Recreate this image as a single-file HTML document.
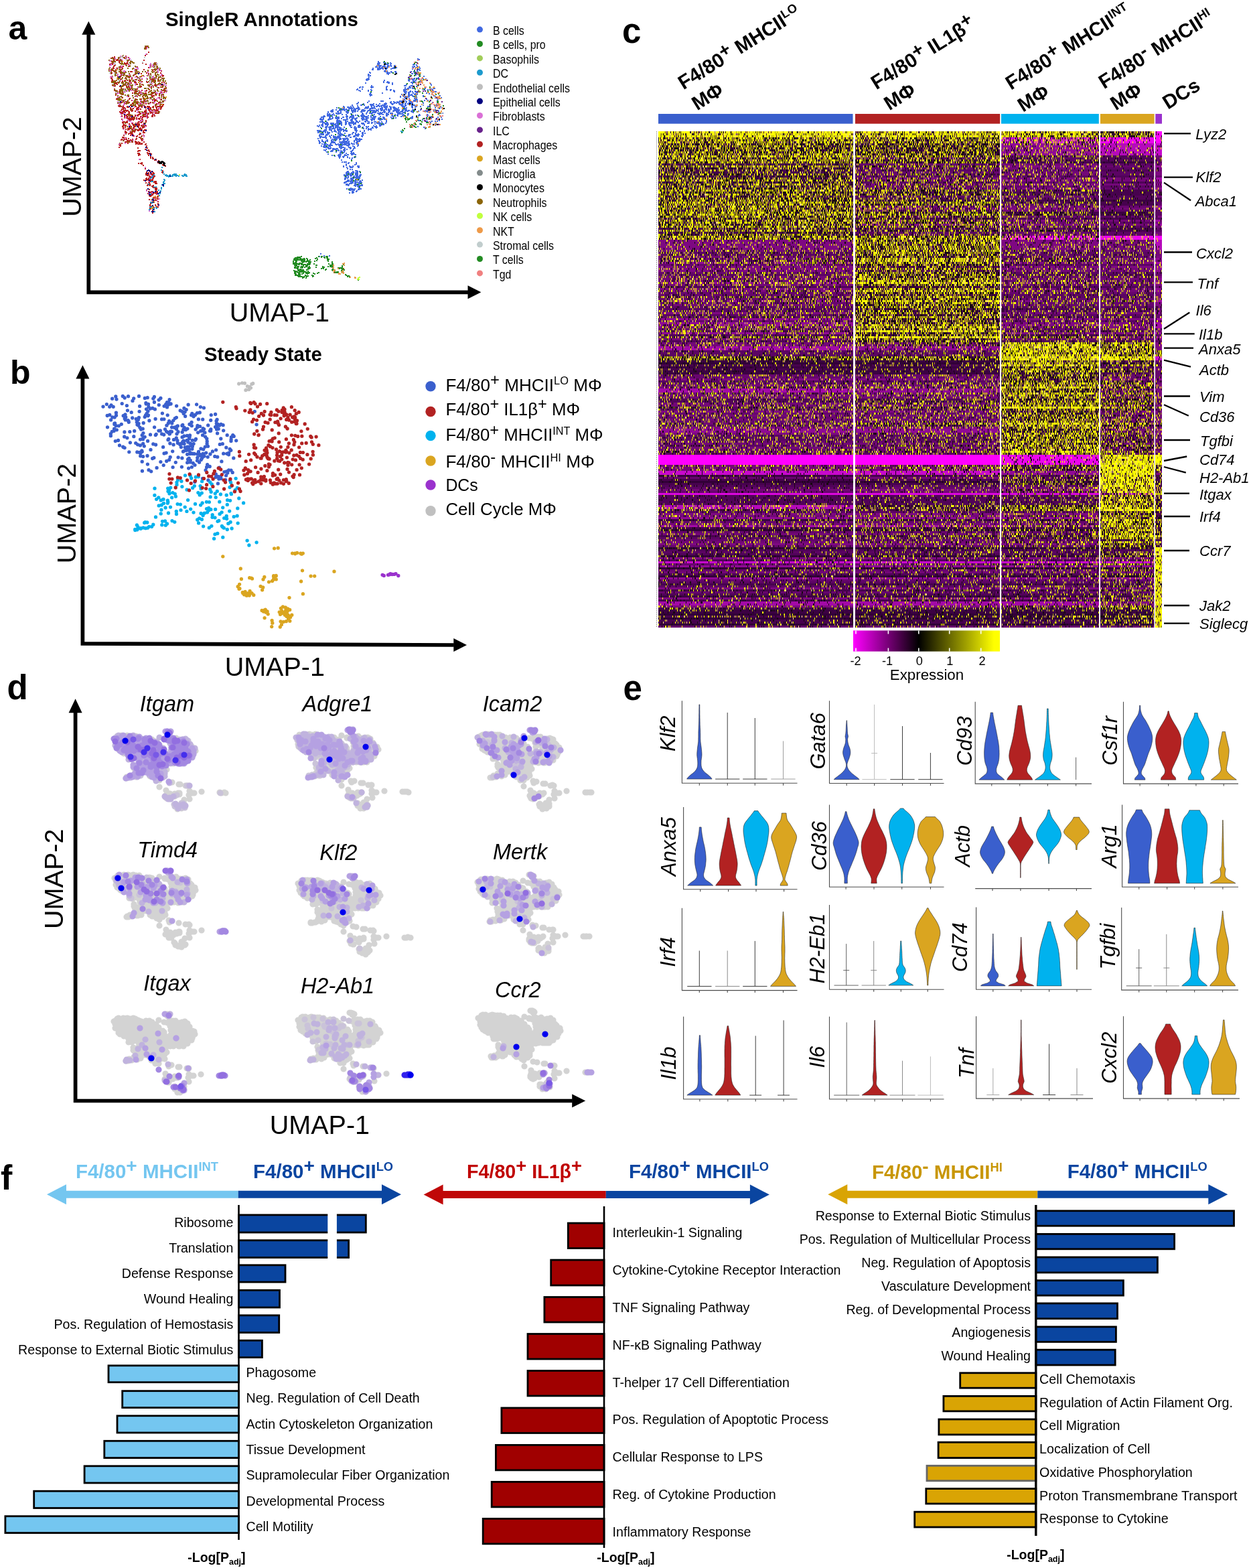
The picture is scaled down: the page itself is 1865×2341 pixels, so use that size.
<!DOCTYPE html>
<html lang="en"><head><meta charset="utf-8"><title>Figure</title>
<style>
html,body{margin:0;padding:0;background:#fff}
body{width:1865px;height:2341px;overflow:hidden}
svg{display:block;font-family:"Liberation Sans",Arial,Helvetica,sans-serif;fill:#000}
</style></head><body>
<svg width="1865" height="2341" viewBox="0 0 1865 2341">
<rect width="1865" height="2341" fill="#fff"/>
<g id="pa">
<text font-size="50" font-weight="bold" x="12.6" y="58.7">a</text>
<path d="M132.3 51.3V436.3L699 436.3" fill="none" stroke="#000" stroke-width="5.7" stroke-linejoin="miter"/>
<path d="M132.3 31.7L142.3 51.8H122.3z"/>
<path d="M718.4 436.3L698.5 426.3V446.3z"/>
<text font-size="29.4" font-weight="bold" x="247" y="38.8">SingleR Annotations</text>
<text font-size="39.6" text-anchor="middle" transform="translate(121 248.9) rotate(-90)">UMAP-2</text>
<text font-size="39.5" x="342.7" y="480.2">UMAP-1</text>
<g font-size="17.5">
<circle cx="716.5" cy="44.1" r="4.5" fill="#4169e1"/><text x="736" y="51.9" textLength="46.8" lengthAdjust="spacingAndGlyphs">B cells</text>
<circle cx="716.5" cy="65.5" r="4.5" fill="#228b22"/><text x="736" y="73.3" textLength="78.6" lengthAdjust="spacingAndGlyphs">B cells, pro</text>
<circle cx="716.5" cy="86.9" r="4.5" fill="#a2cd5a"/><text x="736" y="94.7" textLength="68.9" lengthAdjust="spacingAndGlyphs">Basophils</text>
<circle cx="716.5" cy="108.3" r="4.5" fill="#1c9acd"/><text x="736" y="116.1" textLength="23" lengthAdjust="spacingAndGlyphs">DC</text>
<circle cx="716.5" cy="129.7" r="4.5" fill="#bebebe"/><text x="736" y="137.5" textLength="114.9" lengthAdjust="spacingAndGlyphs">Endothelial cells</text>
<circle cx="716.5" cy="151.1" r="4.5" fill="#000080"/><text x="736" y="158.9" textLength="100.7" lengthAdjust="spacingAndGlyphs">Epithelial cells</text>
<circle cx="716.5" cy="172.5" r="4.5" fill="#da70d6"/><text x="736" y="180.3" textLength="77.7" lengthAdjust="spacingAndGlyphs">Fibroblasts</text>
<circle cx="716.5" cy="193.9" r="4.5" fill="#68228b"/><text x="736" y="201.7" textLength="24.7" lengthAdjust="spacingAndGlyphs">ILC</text>
<circle cx="716.5" cy="215.3" r="4.5" fill="#b22222"/><text x="736" y="223.1" textLength="96.3" lengthAdjust="spacingAndGlyphs">Macrophages</text>
<circle cx="716.5" cy="236.7" r="4.5" fill="#daa520"/><text x="736" y="244.5" textLength="70.7" lengthAdjust="spacingAndGlyphs">Mast cells</text>
<circle cx="716.5" cy="258.1" r="4.5" fill="#838b8b"/><text x="736" y="265.9" textLength="63.6" lengthAdjust="spacingAndGlyphs">Microglia</text>
<circle cx="716.5" cy="279.5" r="4.5" fill="#000000"/><text x="736" y="287.3" textLength="76.9" lengthAdjust="spacingAndGlyphs">Monocytes</text>
<circle cx="716.5" cy="300.9" r="4.5" fill="#8b6508"/><text x="736" y="308.7" textLength="80.4" lengthAdjust="spacingAndGlyphs">Neutrophils</text>
<circle cx="716.5" cy="322.3" r="4.5" fill="#c0ff3e"/><text x="736" y="330.1" textLength="58.3" lengthAdjust="spacingAndGlyphs">NK cells</text>
<circle cx="716.5" cy="343.7" r="4.5" fill="#ee9a49"/><text x="736" y="351.5" textLength="31.8" lengthAdjust="spacingAndGlyphs">NKT</text>
<circle cx="716.5" cy="365.1" r="4.5" fill="#c1cdcd"/><text x="736" y="372.9" textLength="91" lengthAdjust="spacingAndGlyphs">Stromal cells</text>
<circle cx="716.5" cy="386.5" r="4.5" fill="#228b22"/><text x="736" y="394.3" textLength="45.6" lengthAdjust="spacingAndGlyphs">T cells</text>
<circle cx="716.5" cy="407.9" r="4.5" fill="#f08080"/><text x="736" y="415.7" textLength="27.4" lengthAdjust="spacingAndGlyphs">Tgd</text>
</g>
<path d="M623 88h2m0 1h2m-63 3h2m-2 1h2m6 0h2m45 0h2m-56 1h2m-1 0h2m5 0h2m0 0h2m1 0h2m2 0h2m-21 1h2m10 0h2m1 0h2m-2 0h2m-2 0h2m-1 0h2m2 0h2m-21 1h2m-1 0h2m8 0h2m-1 0h2m39 0h2m-1 0h2m-57 1h2m-1 0h2m-2 0h2m-1 0h2m11 0h2m2 0h2m32 0h2m3 0h2m-61 1h2m0 0h2m-1 0h2m-1 0h2m-2 0h2m0 0h2m3 0h2m4 0h2m2 0h2m3 0h2m-1 0h2m-24 1h2m2 0h2m1 0h2m2 0h2m-2 0h2m-1 0h2m-1 0h2m1 0h2m3 0h2m-2 0h2m-1 0h2m27 0h2m2 0h2m-64 1h2m0 0h2m1 0h2m3 0h2m1 0h2m-1 0h2m1 0h2m0 0h2m8 0h2m24 0h2m0 0h2m3 0h2m1 0h2m-62 1h2m-1 0h2m1 0h2m-1 0h2m15 0h2m-1 0h2m1 0h2m27 0h2m0 0h2m-68 1h2m5 0h2m-1 0h2m-1 0h2m1 0h2m-1 0h2m-1 0h2m2 0h2m1 0h2m6 0h2m0 0h2m-1 0h2m-2 0h2m-1 0h2m35 0h2m-63 1h2m0 0h2m2 0h2m3 0h2m5 0h2m30 0h2m-62 1h2m-1 0h2m5 0h2m0 0h2m8 0h2m46 0h2m-1 0h2m-1 0h2m-9 1h2m6 0h2m-2 0h2m-55 1h2m0 0h2m0 0h2m43 0h2m-50 1h2m-1 0h2m6 0h2m4 0h2m-1 0h2m21 0h2m2 0h2m-68 1h2m24 0h2m-1 0h2m4 0h2m32 0h2m-2 0h2m4 0h2m-74 1h2m26 0h2m-1 0h2m7 0h2m-1 0h2m25 0h2m-1 0h2m1 0h2m-47 1h2m-1 0h2m34 0h2m-1 0h2m2 0h2m0 0h2m1 0h2m-1 0h2m-78 1h2m28 0h2m38 0h2m-1 0h2m1 0h2m0 0h2m-78 1h2m-1 0h2m68 0h2m4 0h2m-79 1h2m1 0h2m71 0h2m5 1h2m-84 1h2m58 0h2m-2 0h2m12 1h2m-77 1h2m62 0h2m3 0h2m1 0h2m-1 0h2m5 0h2m-84 1h2m1 0h2m62 0h2m-1 0h2m-1 0h2m0 0h2m-2 0h2m6 0h2m2 0h2m-1 0h2m2 0h2m-91 1h2m-1 0h2m0 0h2m-2 0h2m58 0h2m-1 0h2m-1 0h2m2 0h2m-1 0h2m11 0h2m3 0h2m-89 1h2m24 0h2m34 0h2m-1 0h2m-2 0h2m8 0h2m8 0h2m4 0h2m-28 1h2m4 0h2m0 0h2m7 0h2m0 0h2m-59 1h2m4 0h2m-8 1h2m3 0h2m-1 0h2m0 0h2m31 0h2m0 0h2m-1 0h2m-1 0h2m-1 0h2m0 0h2m6 0h2m-85 1h2m32 0h2m-1 0h2m3 0h2m28 1h2m25 0h2m-59 1h2m19 0h2m13 0h2m1 0h2m17 1h2m-91 1h2m47 0h2m0 0h2m6 0h2m0 0h2m-63 1h2m21 0h2m32 0h2m8 0h2m-86 1h2m1 0h2m-1 0h2m10 0h2m-2 0h2m-2 0h2m1 0h2m18 0h2m32 0h2m-1 0h2m2 0h2m-81 1h2m16 0h2m20 0h2m26 0h2m4 0h2m-1 0h2m-1 0h2m1 0h2m-1 0h2m-42 1h2m30 0h2m5 0h2m0 0h2m15 0h2m10 0h2m0 0h2m-117 1h2m5 0h2m62 0h2m1 0h2m-1 0h2m-1 0h2m19 0h2m11 0h2m-113 1h2m19 0h2m21 0h2m-1 0h2m3 0h2m-1 0h2m17 0h2m2 0h2m-1 0h2m24 0h2m3 0h2m1 0h2m2 0h2m-112 1h2m12 0h2m3 0h2m26 0h2m3 0h2m15 0h2m-69 1h2m10 0h2m36 0h2m-1 0h2m12 0h2m0 0h2m-2 0h2m6 0h2m5 0h2m25 0h2m-60 1h2m15 0h2m-1 0h2m3 0h2m-1 0h2m1 0h2m2 0h2m0 0h2m20 0h2m-1 0h2m-2 0h2m1 0h2m0 0h2m-1 0h2m-99 1h2m48 0h2m4 0h2m-1 0h2m9 0h2m-1 0h2m21 0h2m-1 0h2m-96 1h2m16 0h2m33 0h2m2 0h2m-1 0h2m4 0h2m3 0h2m-1 0h2m12 0h2m-33 1h2m3 0h2m-2 0h2m7 0h2m-1 0h2m-2 0h2m-1 0h2m-2 0h2m17 0h2m-91 1h2m0 0h2m44 0h2m1 0h2m5 0h2m3 0h2m2 0h2m0 0h2m0 0h2m-70 1h2m44 0h2m-1 0h2m-2 0h2m0 0h2m-2 0h2m4 0h2m-1 0h2m0 0h2m0 0h2m-2 0h2m4 0h2m-70 1h2m47 0h2m-2 0h2m-1 0h2m-1 0h2m10 0h2m2 0h2m-1 0h2m9 0h2m14 0h2m6 0h2m-1 0h2m-61 1h2m3 0h2m1 0h2m-1 0h2m1 0h2m-1 0h2m4 0h2m-1 0h2m-2 0h2m-1 0h2m11 0h2m16 0h2m-54 1h2m4 0h2m0 0h2m-1 0h2m0 0h2m9 0h2m0 0h2m-18 1h2m14 0h2m21 0h2m3 0h2m2 0h2m3 0h2m-79 1h2m21 0h2m0 0h2m2 0h2m6 0h2m0 0h2m30 0h2m3 0h2m-58 1h2m3 0h2m-1 0h2m10 0h2m0 0h2m13 0h2m15 0h2m-52 1h2m6 0h2m9 0h2m-2 0h2m-22 1h2m6 0h2m0 0h2m3 0h2m0 0h2m-1 0h2m-1 0h2m-1 0h2m9 0h2m3 0h2m12 0h2m-104 1h2m16 0h2m0 0h2m-1 0h2m23 0h2m-2 0h2m0 0h2m0 0h2m-1 0h2m-2 0h2m-2 0h2m-1 0h2m1 0h2m10 0h2m-2 0h2m0 0h2m8 0h2m10 0h2m-60 1h2m2 0h2m3 0h2m1 0h2m1 0h2m0 0h2m4 0h2m3 0h2m-1 0h2m-2 0h2m-2 0h2m-1 0h2m-1 0h2m6 0h2m-90 1h2m12 0h2m32 0h2m-2 0h2m5 0h2m2 0h2m4 0h2m-2 0h2m9 0h2m1 0h2m-2 0h2m30 0h2m5 0h2m-79 1h2m6 0h2m3 0h2m1 0h2m2 0h2m0 0h2m1 0h2m-2 0h2m-2 0h2m3 0h2m5 0h2m-1 0h2m-1 0h2m-1 0h2m-2 0h2m14 0h2m20 0h2m-2 0h2m-123 1h2m-1 0h2m-2 0h2m7 0h2m13 0h2m7 0h2m5 0h2m-2 0h2m0 0h2m-1 0h2m6 0h2m0 0h2m7 0h2m0 0h2m2 0h2m-2 0h2m1 0h2m2 0h2m0 0h2m-2 0h2m-1 0h2m0 0h2m-2 0h2m-75 1h2m10 0h2m-1 0h2m-1 0h2m-1 0h2m4 0h2m11 0h2m-1 0h2m8 0h2m9 0h2m1 0h2m-1 0h2m-2 0h2m8 0h2m-2 0h2m2 0h2m35 0h2m1 0h2m-1 0h2m-132 1h2m11 0h2m-1 0h2m2 0h2m9 0h2m0 0h2m6 0h2m4 0h2m0 0h2m-1 0h2m-1 0h2m22 0h2m-1 0h2m-2 0h2m-1 0h2m2 0h2m-2 0h2m-1 0h2m9 0h2m-2 0h2m-1 0h2m-1 0h2m1 0h2m8 0h2m-100 1h2m18 0h2m2 0h2m4 0h2m0 0h2m1 0h2m-1 0h2m1 0h2m-1 0h2m2 0h2m20 0h2m-1 0h2m-1 0h2m-2 0h2m-2 0h2m2 0h2m7 0h2m-2 0h2m5 0h2m25 0h2m1 0h2m-141 1h2m9 0h2m1 0h2m21 0h2m-2 0h2m3 0h2m2 0h2m1 0h2m-2 0h2m-1 0h2m2 0h2m4 0h2m1 0h2m4 0h2m17 0h2m-1 0h2m-2 0h2m0 0h2m10 0h2m2 0h2m-2 0h2m-2 0h2m-1 0h2m-1 0h2m4 0h2m9 0h2m-1 0h2m16 0h2m-146 1h2m3 0h2m0 0h2m12 0h2m9 0h2m-1 0h2m0 0h2m19 0h2m2 0h2m1 0h2m-1 0h2m4 0h2m1 0h2m0 0h2m11 0h2m-2 0h2m0 0h2m9 0h2m-1 0h2m2 0h2m-119 1h2m9 0h2m7 0h2m0 0h2m1 0h2m4 0h2m-1 0h2m-1 0h2m8 0h2m-1 0h2m1 0h2m3 0h2m-1 0h2m-1 0h2m-1 0h2m-2 0h2m-1 0h2m9 0h2m-1 0h2m2 0h2m6 0h2m-1 0h2m4 0h2m3 0h2m5 0h2m0 0h2m1 0h2m7 0h2m32 0h2m5 0h2m1 0h2m-2 0h2m-153 1h2m1 0h2m0 0h2m5 0h2m-1 0h2m0 0h2m0 0h2m1 0h2m1 0h2m0 0h2m-1 0h2m-1 0h2m7 0h2m1 0h2m3 0h2m0 0h2m0 0h2m1 0h2m-2 0h2m6 0h2m1 0h2m4 0h2m4 0h2m3 0h2m2 0h2m9 0h2m-1 0h2m0 0h2m48 0h2m3 0h2m-1 0h2m-157 1h2m1 0h2m-1 0h2m0 0h2m-1 0h2m1 0h2m10 0h2m-1 0h2m-2 0h2m-2 0h2m-1 0h2m3 0h2m-1 0h2m13 0h2m-1 0h2m10 0h2m1 0h2m0 0h2m4 0h2m-2 0h2m2 0h2m2 0h2m3 0h2m0 0h2m-2 0h2m1 0h2m5 0h2m0 0h2m-1 0h2m0 0h2m-2 0h2m30 0h2m1 0h2m0 0h2m-148 1h2m3 0h2m3 0h2m1 0h2m-1 0h2m-1 0h2m0 0h2m-1 0h2m-2 0h2m1 0h2m1 0h2m2 0h2m1 0h2m0 0h2m-2 0h2m-1 0h2m2 0h2m4 0h2m0 0h2m17 0h2m6 0h2m-1 0h2m-2 0h2m1 0h2m1 0h2m3 0h2m6 0h2m-1 0h2m0 0h2m-1 0h2m0 0h2m3 0h2m2 0h2m0 0h2m7 0h2m0 0h2m-1 0h2m-1 0h2m6 0h2m11 0h2m0 0h2m-2 0h2m5 0h2m-157 1h2m-2 0h2m0 0h2m8 0h2m-1 0h2m-1 0h2m4 0h2m-2 0h2m3 0h2m-1 0h2m2 0h2m-1 0h2m-2 0h2m-2 0h2m-2 0h2m-1 0h2m-1 0h2m-2 0h2m-2 0h2m1 0h2m-2 0h2m7 0h2m-2 0h2m1 0h2m0 0h2m3 0h2m-1 0h2m-2 0h2m-1 0h2m-1 0h2m-2 0h2m0 0h2m0 0h2m-1 0h2m-1 0h2m-2 0h2m2 0h2m-1 0h2m3 0h2m-1 0h2m-2 0h2m1 0h2m-1 0h2m4 0h2m6 0h2m0 0h2m0 0h2m-2 0h2m-1 0h2m1 0h2m3 0h2m-2 0h2m-1 0h2m-2 0h2m2 0h2m2 0h2m-1 0h2m4 0h2m0 0h2m15 0h2m0 0h2m0 0h2m12 0h2m-162 1h2m9 0h2m11 0h2m0 0h2m4 0h2m-2 0h2m1 0h2m0 0h2m-2 0h2m1 0h2m6 0h2m-2 0h2m0 0h2m3 0h2m2 0h2m-1 0h2m2 0h2m-2 0h2m-2 0h2m0 0h2m-1 0h2m-1 0h2m-2 0h2m1 0h2m15 0h2m3 0h2m-1 0h2m3 0h2m0 0h2m3 0h2m-2 0h2m3 0h2m1 0h2m-1 0h2m3 0h2m-1 0h2m-1 0h2m7 0h2m7 0h2m-1 0h2m0 0h2m1 0h2m-1 0h2m-2 0h2m5 0h2m5 0h2m-167 1h2m3 0h2m0 0h2m5 0h2m-2 0h2m3 0h2m6 0h2m0 0h2m-2 0h2m5 0h2m-1 0h2m1 0h2m7 0h2m-1 0h2m-2 0h2m15 0h2m14 0h2m0 0h2m4 0h2m9 0h2m-2 0h2m-1 0h2m-1 0h2m2 0h2m-2 0h2m0 0h2m-1 0h2m12 0h2m21 0h2m2 0h2m7 0h2m-163 1h2m13 0h2m-2 0h2m2 0h2m7 0h2m-2 0h2m0 0h2m5 0h2m19 0h2m6 0h2m0 0h2m-1 0h2m-1 0h2m-1 0h2m5 0h2m1 0h2m1 0h2m4 0h2m11 0h2m-1 0h2m0 0h2m4 0h2m-1 0h2m0 0h2m10 0h2m22 0h2m12 0h2m-155 1h2m3 0h2m-1 0h2m-1 0h2m-2 0h2m8 0h2m20 0h2m9 0h2m-1 0h2m-1 0h2m0 0h2m6 0h2m-1 0h2m0 0h2m1 0h2m5 0h2m4 0h2m-1 0h2m-2 0h2m-2 0h2m0 0h2m-2 0h2m7 0h2m-1 0h2m-1 0h2m57 0h2m0 0h2m1 0h2m-174 1h2m1 0h2m4 0h2m3 0h2m-1 0h2m-1 0h2m-1 0h2m16 0h2m-1 0h2m-2 0h2m14 0h2m-1 0h2m3 0h2m6 0h2m-2 0h2m11 0h2m-2 0h2m-1 0h2m-1 0h2m7 0h2m3 0h2m0 0h2m6 0h2m-1 0h2m-1 0h2m0 0h2m-1 0h2m0 0h2m6 0h2m-1 0h2m-121 1h2m-1 0h2m-1 0h2m1 0h2m13 0h2m4 0h2m6 0h2m14 0h2m-1 0h2m-2 0h2m15 0h2m5 0h2m-1 0h2m3 0h2m3 0h2m0 0h2m-2 0h2m-1 0h2m4 0h2m-2 0h2m2 0h2m2 0h2m6 0h2m22 0h2m10 0h2m15 0h2m-168 1h2m0 0h2m3 0h2m-2 0h2m1 0h2m24 0h2m0 0h2m2 0h2m1 0h2m4 0h2m-2 0h2m-1 0h2m-2 0h2m0 0h2m11 0h2m-1 0h2m26 0h2m-1 0h2m5 0h2m8 0h2m-1 0h2m3 0h2m15 0h2m-1 0h2m10 0h2m-157 1h2m3 0h2m-1 0h2m0 0h2m-1 0h2m23 0h2m-2 0h2m7 0h2m-1 0h2m9 0h2m0 0h2m-2 0h2m-2 0h2m-1 0h2m-2 0h2m-2 0h2m0 0h2m4 0h2m2 0h2m-2 0h2m1 0h2m18 0h2m-1 0h2m6 0h2m6 0h2m5 0h2m-1 0h2m-1 0h2m-1 0h2m-2 0h2m-1 0h2m18 0h2m-144 1h2m0 0h2m-2 0h2m5 0h2m-2 0h2m-1 0h2m1 0h2m19 0h2m-1 0h2m-1 0h2m-2 0h2m2 0h2m-1 0h2m-1 0h2m-1 0h2m-1 0h2m-1 0h2m6 0h2m2 0h2m-1 0h2m-1 0h2m-1 0h2m-1 0h2m-1 0h2m0 0h2m-1 0h2m9 0h2m0 0h2m5 0h2m17 0h2m10 0h2m15 0h2m4 0h2m14 0h2m2 0h2m-164 1h2m0 0h2m9 0h2m7 0h2m-2 0h2m0 0h2m0 0h2m4 0h2m-1 0h2m3 0h2m-2 0h2m4 0h2m-1 0h2m-2 0h2m0 0h2m-2 0h2m12 0h2m-1 0h2m2 0h2m-1 0h2m-2 0h2m-1 0h2m-2 0h2m4 0h2m2 0h2m-1 0h2m-1 0h2m10 0h2m-2 0h2m-1 0h2m9 0h2m1 0h2m17 0h2m7 0h2m5 0h2m20 0h2m-1 0h2m-1 0h2m6 0h2m3 0h2m-178 1h2m7 0h2m-2 0h2m3 0h2m2 0h2m1 0h2m16 0h2m2 0h2m-2 0h2m0 0h2m3 0h2m6 0h2m0 0h2m2 0h2m-1 0h2m-1 0h2m-1 0h2m4 0h2m-1 0h2m-1 0h2m-1 0h2m-1 0h2m4 0h2m5 0h2m-1 0h2m-2 0h2m12 0h2m1 0h2m13 0h2m5 0h2m-1 0h2m-1 0h2m-1 0h2m-2 0h2m-139 1h2m12 0h2m-2 0h2m-2 0h2m1 0h2m4 0h2m-1 0h2m1 0h2m2 0h2m6 0h2m6 0h2m-1 0h2m1 0h2m-2 0h2m0 0h2m-2 0h2m6 0h2m0 0h2m-2 0h2m-1 0h2m2 0h2m-1 0h2m-2 0h2m6 0h2m1 0h2m4 0h2m-1 0h2m1 0h2m2 0h2m10 0h2m-1 0h2m27 0h2m-2 0h2m27 0h2m-168 1h2m-1 0h2m0 0h2m0 0h2m6 0h2m0 0h2m-1 0h2m8 0h2m13 0h2m4 0h2m-2 0h2m3 0h2m12 0h2m-1 0h2m-1 0h2m0 0h2m4 0h2m2 0h2m5 0h2m-1 0h2m-2 0h2m2 0h2m-1 0h2m1 0h2m0 0h2m59 0h2m12 0h2m0 0h2m-1 0h2m4 0h2m-183 1h2m-1 0h2m-2 0h2m8 0h2m-2 0h2m-1 0h2m20 0h2m0 0h2m0 0h2m5 0h2m0 0h2m-2 0h2m3 0h2m-2 0h2m-2 0h2m8 0h2m-1 0h2m4 0h2m-2 0h2m5 0h2m-2 0h2m-1 0h2m-2 0h2m1 0h2m6 0h2m-1 0h2m-1 0h2m6 0h2m52 0h2m22 0h2m-176 1h2m20 0h2m0 0h2m-1 0h2m-1 0h2m7 0h2m6 0h2m0 0h2m4 0h2m13 0h2m-2 0h2m-1 0h2m-2 0h2m5 0h2m68 0h2m-1 0h2m28 0h2m-177 1h2m-1 0h2m3 0h2m14 0h2m-1 0h2m0 0h2m-2 0h2m-1 0h2m0 0h2m8 0h2m4 0h2m6 0h2m2 0h2m6 0h2m2 0h2m26 0h2m57 0h2m-1 0h2m-1 0h2m5 0h2m3 0h2m1 0h2m-177 1h2m0 0h2m21 0h2m-1 0h2m0 0h2m-1 0h2m-1 0h2m6 0h2m-2 0h2m-1 0h2m6 0h2m0 0h2m-2 0h2m-1 0h2m2 0h2m0 0h2m10 0h2m3 0h2m6 0h2m0 0h2m1 0h2m0 0h2m2 0h2m5 0h2m63 0h2m-162 1h2m0 0h2m2 0h2m-2 0h2m-1 0h2m12 0h2m1 0h2m-1 0h2m-2 0h2m0 0h2m-2 0h2m-1 0h2m5 0h2m-2 0h2m2 0h2m-1 0h2m-1 0h2m-1 0h2m-1 0h2m-1 0h2m0 0h2m1 0h2m2 0h2m18 0h2m-1 0h2m5 0h2m-1 0h2m-2 0h2m-1 0h2m76 0h2m-163 1h2m1 0h2m0 0h2m-2 0h2m0 0h2m3 0h2m0 0h2m0 0h2m3 0h2m-1 0h2m-2 0h2m-1 0h2m-1 0h2m8 0h2m-2 0h2m-2 0h2m-1 0h2m3 0h2m-2 0h2m0 0h2m-1 0h2m-2 0h2m0 0h2m1 0h2m8 0h2m-2 0h2m0 0h2m-1 0h2m4 0h2m0 0h2m2 0h2m6 0h2m-1 0h2m1 0h2m-1 0h2m-2 0h2m1 0h2m3 0h2m73 0h2m-167 1h2m0 0h2m-1 0h2m-1 0h2m2 0h2m0 0h2m-1 0h2m-1 0h2m1 0h2m1 0h2m-1 0h2m-2 0h2m-1 0h2m-2 0h2m-1 0h2m0 0h2m-1 0h2m4 0h2m-2 0h2m-1 0h2m-2 0h2m-2 0h2m2 0h2m-1 0h2m5 0h2m0 0h2m8 0h2m0 0h2m15 0h2m4 0h2m-1 0h2m-1 0h2m1 0h2m0 0h2m52 0h2m0 0h2m18 0h2m0 0h2m-2 0h2m-172 1h2m-2 0h2m-1 0h2m2 0h2m-1 0h2m-1 0h2m-2 0h2m0 0h2m3 0h2m-2 0h2m1 0h2m-2 0h2m-1 0h2m0 0h2m1 0h2m0 0h2m2 0h2m4 0h2m10 0h2m14 0h2m21 0h2m-2 0h2m-2 0h2m-1 0h2m-2 0h2m1 0h2m0 0h2m75 0h2m1 0h2m-178 1h2m1 0h2m-1 0h2m-2 0h2m13 0h2m4 0h2m-1 0h2m-2 0h2m5 0h2m10 0h2m0 0h2m10 0h2m-2 0h2m-1 0h2m5 0h2m21 0h2m0 0h2m79 0h2m-178 1h2m6 0h2m5 0h2m7 0h2m1 0h2m2 0h2m16 0h2m10 0h2m0 0h2m-2 0h2m19 0h2m2 0h2m3 0h2m-1 0h2m48 0h2m-144 1h2m4 0h2m3 0h2m-2 0h2m4 0h2m-1 0h2m0 0h2m0 0h2m1 0h2m-1 0h2m0 0h2m-1 0h2m23 0h2m3 0h2m-2 0h2m-2 0h2m-1 0h2m-2 0h2m0 0h2m7 0h2m-2 0h2m1 0h2m8 0h2m62 0h2m15 0h2m-164 1h2m5 0h2m0 0h2m1 0h2m-1 0h2m-2 0h2m-1 0h2m-2 0h2m3 0h2m3 0h2m0 0h2m0 0h2m5 0h2m8 0h2m-1 0h2m8 0h2m-2 0h2m-1 0h2m-1 0h2m3 0h2m4 0h2m6 0h2m3 0h2m0 0h2m68 0h2m-148 1h2m3 0h2m-1 0h2m-1 0h2m2 0h2m1 0h2m1 0h2m1 0h2m-1 0h2m-1 0h2m18 0h2m-1 0h2m0 0h2m8 0h2m-2 0h2m-2 0h2m12 0h2m-1 0h2m3 0h2m-77 1h2m7 0h2m-1 0h2m0 0h2m7 0h2m-1 0h2m19 0h2m-1 0h2m10 0h2m2 0h2m1 0h2m2 0h2m79 0h2m-150 1h2m-2 0h2m3 0h2m-1 0h2m-2 0h2m9 0h2m0 0h2m0 0h2m-1 0h2m-2 0h2m-1 0h2m-1 0h2m0 0h2m16 0h2m-1 0h2m16 0h2m0 0h2m-1 0h2m-2 0h2m-70 1h2m-1 0h2m-1 0h2m3 0h2m-1 0h2m-1 0h2m-2 0h2m-1 0h2m3 0h2m2 0h2m-1 0h2m-1 0h2m-2 0h2m0 0h2m0 0h2m-2 0h2m-2 0h2m1 0h2m1 0h2m12 0h2m-1 0h2m-2 0h2m-2 0h2m-1 0h2m16 0h2m2 0h2m-82 1h2m-1 0h2m-2 0h2m0 0h2m-2 0h2m-1 0h2m4 0h2m-1 0h2m-2 0h2m-1 0h2m-1 0h2m6 0h2m3 0h2m-2 0h2m3 0h2m-1 0h2m-2 0h2m1 0h2m3 0h2m0 0h2m0 0h2m11 0h2m0 0h2m9 0h2m-71 1h2m-1 0h2m-1 0h2m0 0h2m-2 0h2m-1 0h2m1 0h2m0 0h2m-1 0h2m11 0h2m0 0h2m10 0h2m2 0h2m-1 0h2m12 0h2m4 0h2m4 0h2m-70 1h2m4 0h2m-1 0h2m-2 0h2m1 0h2m-2 0h2m1 0h2m5 0h2m4 0h2m2 0h2m0 0h2m22 0h2m-59 1h2m9 0h2m2 0h2m0 0h2m11 0h2m20 0h2m-1 0h2m11 0h2m-1 0h2m-64 1h2m0 0h2m-2 0h2m5 0h2m17 0h2m5 0h2m14 0h2m9 0h2m-2 0h2m1 0h2m-69 1h2m-2 0h2m1 0h2m-2 0h2m-1 0h2m-1 0h2m5 0h2m-1 0h2m12 0h2m0 0h2m-1 0h2m0 0h2m14 0h2m7 0h2m4 0h2m-1 0h2m-64 1h2m-1 0h2m0 0h2m2 0h2m0 0h2m18 0h2m0 0h2m-1 0h2m7 0h2m-2 0h2m0 0h2m6 0h2m-2 0h2m-1 0h2m0 0h2m0 0h2m-2 0h2m-61 1h2m8 0h2m-1 0h2m5 0h2m10 0h2m3 0h2m8 0h2m7 0h2m2 0h2m5 0h2m-67 1h2m-2 0h2m-1 0h2m6 0h2m4 0h2m4 0h2m5 0h2m1 0h2m-1 0h2m5 0h2m-1 0h2m1 0h2m-1 0h2m6 0h2m-1 0h2m1 0h2m0 0h2m3 0h2m-2 0h2m-1 0h2m-2 0h2m-65 1h2m-2 0h2m0 0h2m4 0h2m5 0h2m4 0h2m0 0h2m1 0h2m0 0h2m-1 0h2m7 0h2m10 0h2m0 0h2m9 0h2m-65 1h2m-1 0h2m1 0h2m0 0h2m0 0h2m-1 0h2m9 0h2m-1 0h2m1 0h2m-1 0h2m0 0h2m16 0h2m-1 0h2m-48 1h2m14 0h2m3 0h2m-2 0h2m0 0h2m1 0h2m0 0h2m0 0h2m8 0h2m12 0h2m-59 1h2m10 0h2m13 0h2m3 0h2m0 0h2m1 0h2m0 0h2m0 0h2m-1 0h2m0 0h2m-2 0h2m10 0h2m-1 0h2m-1 0h2m-2 0h2m2 0h2m-2 0h2m-42 1h2m1 0h2m-1 0h2m0 0h2m4 0h2m2 0h2m0 0h2m-2 0h2m-1 0h2m1 0h2m-2 0h2m-1 0h2m12 0h2m0 0h2m-2 0h2m-1 0h2m-2 0h2m-1 0h2m0 0h2m-61 1h2m6 0h2m4 0h2m1 0h2m2 0h2m3 0h2m4 0h2m16 0h2m-1 0h2m-1 0h2m1 0h2m-1 0h2m-2 0h2m-1 0h2m-2 0h2m-2 0h2m-64 1h2m-2 0h2m10 0h2m5 0h2m4 0h2m10 0h2m-1 0h2m3 0h2m8 0h2m6 0h2m-62 1h2m2 0h2m-2 0h2m-1 0h2m2 0h2m1 0h2m6 0h2m-2 0h2m13 0h2m-1 0h2m-2 0h2m1 0h2m0 0h2m1 0h2m6 0h2m2 0h2m0 0h2m0 0h2m-62 1h2m4 0h2m10 0h2m-2 0h2m-1 0h2m-2 0h2m1 0h2m6 0h2m0 0h2m-1 0h2m-2 0h2m-1 0h2m-2 0h2m-1 0h2m-2 0h2m0 0h2m-2 0h2m-2 0h2m-1 0h2m-1 0h2m-2 0h2m0 0h2m-2 0h2m9 0h2m2 0h2m-1 0h2m-59 1h2m-1 0h2m5 0h2m8 0h2m-2 0h2m-1 0h2m-2 0h2m0 0h2m0 0h2m8 0h2m-2 0h2m-1 0h2m0 0h2m-2 0h2m0 0h2m-1 0h2m-1 0h2m-1 0h2m-2 0h2m0 0h2m-1 0h2m9 0h2m0 0h2m-59 1h2m6 0h2m7 0h2m13 0h2m0 0h2m2 0h2m-1 0h2m-2 0h2m-1 0h2m-2 0h2m-1 0h2m-1 0h2m4 0h2m6 0h2m-1 0h2m-1 0h2m-56 1h2m1 0h2m1 0h2m5 0h2m5 0h2m2 0h2m1 0h2m-1 0h2m3 0h2m4 0h2m0 0h2m2 0h2m-1 0h2m0 0h2m2 0h2m0 0h2m-52 1h2m-2 0h2m2 0h2m2 0h2m7 0h2m-1 0h2m2 0h2m2 0h2m-2 0h2m0 0h2m0 0h2m0 0h2m-2 0h2m3 0h2m-40 1h2m0 0h2m3 0h2m1 0h2m0 0h2m8 0h2m0 0h2m-1 0h2m-1 0h2m-2 0h2m-1 0h2m5 0h2m0 0h2m-1 0h2m12 0h2m-57 1h2m2 0h2m0 0h2m3 0h2m-1 0h2m16 0h2m8 0h2m5 0h2m5 0h2m-53 1h2m2 0h2m4 0h2m12 0h2m0 0h2m18 0h2m-47 1h2m0 0h2m-1 0h2m-1 0h2m0 0h2m15 0h2m2 0h2m0 0h2m6 0h2m0 0h2m-2 0h2m4 0h2m-41 1h2m-1 0h2m1 0h2m13 0h2m-1 0h2m3 0h2m7 0h2m-2 0h2m-2 0h2m4 0h2m-41 1h2m0 0h2m2 0h2m-1 0h2m-2 0h2m-1 0h2m1 0h2m0 0h2m3 0h2m4 0h2m6 0h2m3 0h2m-43 1h2m8 0h2m-1 0h2m-1 0h2m-1 0h2m0 0h2m10 0h2m2 0h2m-36 1h2m11 0h2m-2 0h2m-2 0h2m6 0h2m6 0h2m-2 0h2m-1 0h2m-1 0h2m10 0h2m-43 1h2m7 0h2m0 0h2m4 0h2m1 0h2m1 0h2m3 0h2m-2 0h2m-2 0h2m-1 0h2m-2 0h2m9 0h2m-34 1h2m0 0h2m4 0h2m5 0h2m-2 0h2m-1 0h2m-2 0h2m-1 0h2m11 0h2m-2 0h2m-38 1h2m12 0h2m-2 0h2m10 0h2m9 0h2m-19 1h2m0 0h2m-2 0h2m0 0h2m-1 0h2m10 0h2m1 0h2m-19 1h2m4 0h2m5 0h2m0 0h2m-38 1h2m16 0h2m15 0h2m-1 0h2m-1 0h2m0 0h2m-25 1h2m-2 0h2m-1 0h2m0 0h2m4 0h2m2 0h2m-1 0h2m3 0h2m-2 0h2m-2 0h2m-1 0h2m3 0h2m-2 0h2m-37 1h2m7 0h2m-1 0h2m7 0h2m-2 0h2m0 0h2m-19 1h2m4 0h2m-2 0h2m0 0h2m4 0h2m-10 1h2m0 0h2m2 0h2m5 0h2m9 0h2m-1 0h2m-20 1h2m4 0h2m8 0h2m-1 0h2m-25 1h2m13 0h2m2 0h2m-3 2h2m-17 1h2m13 0h2m-16 3h2m1 0h2m0 0h2m-1 0h2m-2 0h2m2 1h2m9 0h2m-14 1h2m10 0h2m-17 1h2m13 0h2m-4 1h2m-15 1h2m-6 1h2m7 0h2m3 0h2m-2 0h2m5 0h2m0 0h2m-25 1h2m8 0h2m-1 0h2m1 0h2m7 0h2m-20 1h2m3 0h2m-1 0h2m-1 0h2m-1 0h2m7 0h2m-1 0h2m-19 2h2m2 1h2m1 0h2m3 2h2m0 0h2m-16 1h2m-1 0h2m5 0h2m5 0h2m1 0h2m-21 1h2m8 0h2m3 0h2m-2 0h2m-1 0h2m-19 1h2m0 0h2m-1 0h2m-1 0h2m2 0h2m0 0h2m-1 0h2m1 0h2m1 0h2m2 0h2m-22 1h2m4 0h2m0 0h2m3 0h2m0 0h2m-1 0h2m-19 1h2m1 0h2m-2 0h2m0 0h2m0 0h2m0 0h2m-1 0h2m-2 0h2m3 0h2m-20 1h2m1 0h2m0 0h2m-1 0h2m1 0h2m1 0h2m-1 0h2m2 0h2m-1 0h2m-1 0h2m-1 0h2m2 0h2m-1 0h2m-27 1h2m-1 0h2m0 0h2m-1 0h2m0 0h2m1 0h2m-1 0h2m-1 0h2m5 0h2m-1 0h2m-1 0h2m1 0h2m-24 1h2m-1 0h2m2 0h2m2 0h2m3 0h2m1 0h2m4 0h2m-24 1h2m-1 0h2m9 0h2m-2 0h2m2 0h2m0 0h2m0 0h2m-22 1h2m-1 0h2m1 0h2m5 0h2m0 0h2m0 0h2m3 0h2m-1 0h2m-24 1h2m2 0h2m3 0h2m0 0h2m-1 0h2m-1 0h2m2 0h2m-2 0h2m-2 0h2m-2 0h2m0 0h2m-1 0h2m0 0h2m-23 1h2m7 0h2m-1 0h2m4 0h2m-1 0h2m-1 0h2m0 0h2m-23 1h2m7 0h2m1 0h2m2 0h2m-1 0h2m-1 0h2m-1 0h2m0 0h2m-19 1h2m-1 0h2m-1 0h2m1 0h2m-1 0h2m-2 0h2m0 0h2m-2 0h2m3 0h2m-1 0h2m-1 0h2m-1 0h2m-2 0h2m4 0h2m-24 1h2m0 0h2m-2 0h2m1 0h2m0 0h2m-1 0h2m-1 0h2m-2 0h2m-2 0h2m0 0h2m-2 0h2m-2 0h2m-1 0h2m5 0h2m-23 1h2m-1 0h2m-1 0h2m-1 0h2m1 0h2m0 0h2m-1 0h2m-1 0h2m-2 0h2m1 0h2m5 0h2m0 0h2m-26 1h2m-1 0h2m-2 0h2m-1 0h2m5 0h2m-1 0h2m-2 0h2m3 0h2m0 0h2m-1 0h2m-1 0h2m1 0h2m-2 0h2m-1 0h2m-2 0h2m-26 1h2m-1 0h2m9 0h2m-1 0h2m2 0h2m3 0h2m2 0h2m-20 1h2m-2 0h2m-1 0h2m0 0h2m3 0h2m-2 0h2m4 0h2m-1 0h2m-1 0h2m-1 0h2m-24 1h2m0 0h2m10 0h2m0 0h2m-18 1h2m-1 0h2m0 0h2m-2 0h2m-1 0h2m7 0h2m0 0h2m0 0h2m0 0h2m2 0h2m-1 0h2m-23 1h2m7 0h2m3 0h2m0 0h2m0 0h2m-2 0h2m0 0h2m-1 0h2m-12 1h2m1 0h2m0 0h2m-3 1h2m-1 1h2m-14 1h2m10 0h2m-1 0h2m-21 1h2m1 0h2m0 0h2m-1 0h2m-1 0h2m-2 0h2m0 0h2m1 0h2m5 0h2m0 0h2m-18 1h2m1 0h2m0 0h2m5 0h2m-1 0h2m-2 0h2m-16 1h2m-2 0h2m-1 0h2m-1 0h2m3 0h2m-4 1h2m4 0h2m-9 1h2m4 0h2m-6 1h2m-8 1h2m2 0h2m-1 0h2m-2 0h2m-50 91h2m3 3h2m6 0h2m-17 1h2" stroke="#4169e1" stroke-width="2" fill="none"/>
<path d="M217 69h2m-1 0h2m-4 1h2m-2 0h2m-1 1h2m-2 2h2m2 5h2m-5 3h2m-4 2h2m-39 1h2m1 0h2m3 0h2m-19 1h2m7 0h2m7 0h2m-23 1h2m15 0h2m-1 0h2m1 0h2m1 0h2m-28 1h2m1 0h2m1 0h2m4 0h2m-8 1h2m-2 0h2m-4 1h2m3 0h2m16 0h2m-21 1h2m-1 0h2m-1 0h2m1 0h2m9 0h2m23 0h2m-51 1h2m3 0h2m5 0h2m2 0h2m7 0h2m2 0h2m-1 0h2m-31 1h2m-2 0h2m2 0h2m-1 0h2m21 0h2m-25 1h2m4 0h2m10 0h2m-23 1h2m8 0h2m5 0h2m2 0h2m2 0h2m-2 0h2m-1 0h2m16 0h2m16 0h2m-2 0h2m-67 1h2m18 0h2m0 0h2m0 0h2m-28 1h2m1 0h2m-1 0h2m12 0h2m8 0h2m24 0h2m10 0h2m1 0h2m-69 1h2m4 0h2m14 0h2m39 0h2m2 0h2m-64 1h2m16 0h2m34 0h2m2 0h2m-61 1h2m8 0h2m2 0h2m6 0h2m34 0h2m-49 1h2m22 0h2m17 0h2m8 0h2m-67 1h2m8 0h2m-2 0h2m-1 0h2m0 0h2m38 0h2m0 0h2m-57 1h2m-1 0h2m2 0h2m-2 0h2m0 0h2m5 0h2m51 0h2m-2 0h2m-70 1h2m5 0h2m-1 0h2m0 0h2m52 0h2m0 0h2m-1 0h2m-74 1h2m8 0h2m5 0h2m0 0h2m18 0h2m0 0h2m9 0h2m13 0h2m2 0h2m-72 1h2m-1 0h2m0 0h2m4 0h2m5 0h2m46 0h2m9 0h2m-71 1h2m-1 0h2m31 0h2m30 0h2m3 0h2m-62 1h2m4 0h2m6 0h2m0 0h2m22 0h2m7 0h2m4 0h2m-66 1h2m-1 0h2m5 0h2m3 0h2m16 0h2m3 0h2m18 0h2m4 0h2m-2 0h2m-69 1h2m5 0h2m4 0h2m1 0h2m18 0h2m2 0h2m-1 0h2m-2 0h2m-2 0h2m9 0h2m19 0h2m-76 1h2m6 0h2m5 0h2m1 0h2m25 0h2m9 0h2m-52 1h2m0 0h2m5 0h2m-2 0h2m1 0h2m-1 0h2m15 0h2m18 0h2m1 0h2m-53 1h2m-1 0h2m-1 0h2m-2 0h2m4 0h2m10 0h2m4 0h2m30 0h2m3 0h2m3 0h2m-63 1h2m7 0h2m1 0h2m28 0h2m19 0h2m-79 1h2m7 0h2m14 0h2m-2 0h2m-1 0h2m-2 0h2m9 0h2m5 0h2m30 0h2m-78 1h2m11 0h2m9 0h2m31 0h2m3 0h2m6 0h2m-72 1h2m7 0h2m-1 0h2m9 0h2m3 0h2m2 0h2m7 0h2m-42 1h2m63 0h2m9 0h2m-77 1h2m7 0h2m-2 0h2m2 0h2m15 0h2m13 0h2m-2 0h2m15 0h2m5 0h2m-70 1h2m55 0h2m0 0h2m3 0h2m-57 1h2m8 0h2m1 0h2m2 0h2m11 0h2m15 0h2m4 0h2m4 0h2m-71 1h2m0 0h2m1 0h2m9 0h2m-2 0h2m1 0h2m5 0h2m0 0h2m12 0h2m16 0h2m0 0h2m5 0h2m-1 0h2m-70 1h2m23 0h2m6 0h2m8 0h2m5 0h2m4 0h2m-2 0h2m-1 0h2m-1 0h2m-61 1h2m3 0h2m1 0h2m0 0h2m2 0h2m17 0h2m0 0h2m15 0h2m3 0h2m3 0h2m10 0h2m1 0h2m-77 1h2m-2 0h2m0 0h2m-1 0h2m-1 0h2m8 0h2m-2 0h2m5 0h2m3 0h2m5 0h2m21 0h2m-2 0h2m-58 1h2m0 0h2m0 0h2m11 0h2m-1 0h2m-2 0h2m3 0h2m-2 0h2m-2 0h2m14 0h2m27 0h2m7 0h2m-1 0h2m-75 1h2m10 0h2m0 0h2m3 0h2m9 0h2m5 0h2m12 0h2m15 0h2m1 0h2m-80 1h2m0 0h2m14 0h2m6 0h2m18 0h2m7 0h2m6 0h2m0 0h2m5 0h2m0 0h2m-75 1h2m0 0h2m-1 0h2m10 0h2m10 0h2m26 0h2m2 0h2m2 0h2m-55 1h2m1 0h2m-1 0h2m7 0h2m1 0h2m0 0h2m11 0h2m-1 0h2m10 0h2m4 0h2m-2 0h2m-42 1h2m0 0h2m0 0h2m1 0h2m12 0h2m14 0h2m14 0h2m-1 0h2m-48 1h2m38 0h2m-58 1h2m63 0h2m0 0h2m-79 1h2m9 0h2m0 0h2m7 0h2m-2 0h2m0 0h2m1 0h2m5 0h2m15 0h2m21 0h2m-68 1h2m-1 0h2m0 0h2m-1 0h2m2 0h2m4 0h2m-2 0h2m0 0h2m1 0h2m2 0h2m19 0h2m10 0h2m-66 1h2m6 0h2m2 0h2m-1 0h2m7 0h2m5 0h2m1 0h2m7 0h2m5 0h2m9 0h2m12 0h2m-1 0h2m1 0h2m-75 1h2m2 0h2m24 0h2m-1 0h2m0 0h2m-2 0h2m7 0h2m-1 0h2m12 0h2m12 0h2m-70 1h2m0 0h2m1 0h2m17 0h2m0 0h2m17 0h2m6 0h2m-2 0h2m7 0h2m6 0h2m-75 1h2m1 0h2m3 0h2m-1 0h2m-2 0h2m15 0h2m0 0h2m2 0h2m0 0h2m-1 0h2m16 0h2m0 0h2m10 0h2m1 0h2m1 0h2m-76 1h2m1 0h2m0 0h2m3 0h2m-2 0h2m12 0h2m3 0h2m3 0h2m7 0h2m-1 0h2m7 0h2m0 0h2m11 0h2m-40 1h2m5 0h2m-2 0h2m0 0h2m-1 0h2m-1 0h2m1 0h2m8 0h2m4 0h2m2 0h2m2 0h2m-62 1h2m0 0h2m24 0h2m-2 0h2m-1 0h2m25 0h2m-67 1h2m16 0h2m-1 0h2m13 0h2m17 0h2m5 0h2m7 0h2m-2 0h2m0 0h2m-32 1h2m12 0h2m0 0h2m10 0h2m-63 1h2m-2 0h2m9 0h2m11 0h2m13 0h2m5 0h2m15 0h2m-67 1h2m0 0h2m43 0h2m0 0h2m-52 1h2m-2 0h2m3 0h2m14 0h2m13 0h2m4 0h2m4 0h2m-1 0h2m8 0h2m-1 0h2m4 0h2m0 0h2m-2 0h2m-73 1h2m2 0h2m13 0h2m19 0h2m4 0h2m2 0h2m3 0h2m-58 1h2m0 0h2m-2 0h2m15 0h2m7 0h2m-2 0h2m-1 0h2m6 0h2m28 0h2m-2 0h2m4 0h2m-47 1h2m0 0h2m9 0h2m-1 0h2m11 0h2m-2 0h2m0 0h2m0 0h2m6 0h2m-61 1h2m1 0h2m4 0h2m4 0h2m3 0h2m12 0h2m10 0h2m2 0h2m-1 0h2m10 0h2m-66 1h2m27 0h2m3 0h2m1 0h2m11 0h2m-46 1h2m0 0h2m9 0h2m-1 0h2m0 0h2m-1 0h2m0 0h2m4 0h2m0 0h2m27 0h2m-63 1h2m2 0h2m-2 0h2m0 0h2m2 0h2m-1 0h2m8 0h2m-1 0h2m-1 0h2m-1 0h2m5 0h2m10 0h2m1 0h2m-1 0h2m6 0h2m-2 0h2m0 0h2m1 0h2m-66 1h2m0 0h2m4 0h2m-2 0h2m1 0h2m-1 0h2m6 0h2m7 0h2m0 0h2m3 0h2m-1 0h2m6 0h2m4 0h2m11 0h2m-59 1h2m-2 0h2m-1 0h2m1 0h2m7 0h2m5 0h2m-1 0h2m-2 0h2m1 0h2m7 0h2m-2 0h2m2 0h2m-2 0h2m10 0h2m1 0h2m3 0h2m-45 1h2m33 0h2m4 0h2m0 0h2m0 0h2m-67 1h2m4 0h2m8 0h2m10 0h2m0 0h2m-1 0h2m20 0h2m9 0h2m-68 1h2m5 0h2m10 0h2m-2 0h2m-1 0h2m0 0h2m9 0h2m-1 0h2m0 0h2m17 0h2m5 0h2m2 0h2m-67 1h2m-2 0h2m-1 0h2m0 0h2m1 0h2m4 0h2m5 0h2m3 0h2m-1 0h2m3 0h2m1 0h2m3 0h2m-2 0h2m-1 0h2m-2 0h2m1 0h2m-1 0h2m-1 0h2m-2 0h2m-2 0h2m-1 0h2m4 0h2m4 0h2m0 0h2m-1 0h2m-1 0h2m-2 0h2m0 0h2m-1 0h2m-61 1h2m-1 0h2m4 0h2m-1 0h2m-1 0h2m-2 0h2m13 0h2m3 0h2m7 0h2m0 0h2m3 0h2m-1 0h2m2 0h2m-1 0h2m2 0h2m-2 0h2m1 0h2m-59 1h2m0 0h2m-2 0h2m7 0h2m8 0h2m-1 0h2m-2 0h2m-1 0h2m8 0h2m-1 0h2m5 0h2m7 0h2m4 0h2m-1 0h2m-56 1h2m10 0h2m3 0h2m-2 0h2m0 0h2m14 0h2m0 0h2m-1 0h2m10 0h2m-57 1h2m0 0h2m1 0h2m6 0h2m-2 0h2m-1 0h2m-2 0h2m-1 0h2m7 0h2m-1 0h2m1 0h2m13 0h2m-2 0h2m7 0h2m4 0h2m-55 1h2m6 0h2m-1 0h2m6 0h2m-1 0h2m-1 0h2m-2 0h2m-2 0h2m10 0h2m2 0h2m0 0h2m3 0h2m0 0h2m2 0h2m-1 0h2m-57 1h2m2 0h2m-1 0h2m0 0h2m0 0h2m-1 0h2m3 0h2m0 0h2m5 0h2m16 0h2m1 0h2m-1 0h2m3 0h2m0 0h2m-53 1h2m1 0h2m1 0h2m6 0h2m3 0h2m12 0h2m-2 0h2m0 0h2m13 0h2m-2 0h2m1 0h2m-59 1h2m3 0h2m-1 0h2m-1 0h2m4 0h2m-1 0h2m-2 0h2m12 0h2m15 0h2m1 0h2m1 0h2m1 0h2m-2 0h2m2 0h2m-1 0h2m-60 1h2m-2 0h2m-1 0h2m-2 0h2m-1 0h2m-1 0h2m-1 0h2m-1 0h2m-1 0h2m-1 0h2m19 0h2m3 0h2m-1 0h2m-2 0h2m-1 0h2m-1 0h2m-2 0h2m0 0h2m-1 0h2m-1 0h2m3 0h2m-2 0h2m0 0h2m7 0h2m-2 0h2m-54 1h2m-2 0h2m7 0h2m14 0h2m3 0h2m3 0h2m0 0h2m-1 0h2m1 0h2m1 0h2m2 0h2m-1 0h2m0 0h2m0 0h2m-57 1h2m1 0h2m5 0h2m15 0h2m-1 0h2m2 0h2m2 0h2m-1 0h2m-1 0h2m0 0h2m-38 1h2m-1 0h2m1 0h2m0 0h2m0 0h2m11 0h2m-1 0h2m6 0h2m-2 0h2m2 0h2m6 0h2m0 0h2m-46 1h2m0 0h2m3 0h2m-1 0h2m-1 0h2m-2 0h2m-2 0h2m0 0h2m3 0h2m1 0h2m8 0h2m2 0h2m7 0h2m-2 0h2m-2 0h2m-48 1h2m5 0h2m3 0h2m-1 0h2m0 0h2m-1 0h2m-2 0h2m2 0h2m2 0h2m11 0h2m-1 0h2m5 0h2m2 0h2m-51 1h2m2 0h2m1 0h2m0 0h2m1 0h2m1 0h2m11 0h2m-1 0h2m1 0h2m0 0h2m0 0h2m7 0h2m-1 0h2m-44 1h2m-2 0h2m-1 0h2m1 0h2m-2 0h2m7 0h2m0 0h2m7 0h2m-1 0h2m-1 0h2m-2 0h2m-1 0h2m6 0h2m-37 1h2m-1 0h2m-1 0h2m-1 0h2m2 0h2m2 0h2m1 0h2m2 0h2m6 0h2m6 0h2m-2 0h2m-31 1h2m0 0h2m-2 0h2m0 0h2m-1 0h2m1 0h2m-1 0h2m-1 0h2m4 0h2m0 0h2m-29 1h2m8 0h2m-1 0h2m0 0h2m1 0h2m0 0h2m-2 0h2m2 0h2m2 0h2m2 0h2m-23 1h2m0 0h2m-1 0h2m0 0h2m-2 0h2m1 0h2m12 0h2m-5 1h2m6 0h2m-30 1h2m2 0h2m-2 0h2m-2 0h2m-1 0h2m14 0h2m0 0h2m-31 1h2m-1 0h2m-2 0h2m-1 0h2m1 0h2m16 0h2m-2 0h2m0 0h2m-1 0h2m-1 0h2m-1 0h2m4 0h2m-37 1h2m2 0h2m-1 0h2m0 0h2m-2 0h2m-2 0h2m5 0h2m7 0h2m3 0h2m-29 1h2m11 0h2m-1 0h2m3 0h2m1 0h2m7 0h2m-24 1h2m3 0h2m3 0h2m-1 0h2m-1 0h2m-1 0h2m0 0h2m-25 1h2m13 0h2m0 0h2m-1 0h2m-1 0h2m-1 0h2m7 0h2m-1 0h2m-33 1h2m-2 0h2m-1 0h2m-1 0h2m-1 0h2m-1 0h2m3 0h2m-1 0h2m3 0h2m-1 0h2m-2 0h2m0 0h2m0 0h2m1 0h2m-1 0h2m2 0h2m0 0h2m-2 0h2m-1 0h2m-2 0h2m0 0h2m-35 1h2m1 0h2m5 0h2m4 0h2m-2 0h2m-1 0h2m-1 0h2m1 0h2m-1 0h2m3 0h2m0 0h2m1 0h2m0 0h2m-37 1h2m-1 0h2m7 0h2m1 0h2m2 0h2m-1 0h2m-2 0h2m-1 0h2m2 0h2m-1 0h2m4 0h2m1 0h2m-2 0h2m-31 1h2m5 0h2m0 0h2m2 0h2m-2 0h2m5 0h2m6 0h2m-33 1h2m7 0h2m-2 0h2m0 0h2m2 0h2m-1 0h2m8 0h2m1 0h2m-31 1h2m-1 0h2m4 0h2m-1 0h2m-2 0h2m-1 0h2m-2 0h2m-1 0h2m0 0h2m1 0h2m-2 0h2m7 0h2m-1 0h2m-26 1h2m1 0h2m2 0h2m-1 0h2m3 0h2m-2 0h2m-1 0h2m0 0h2m8 0h2m-22 1h2m-2 0h2m6 0h2m-1 0h2m-2 0h2m-2 0h2m3 0h2m-1 0h2m0 0h2m0 0h2m-2 0h2m0 0h2m2 0h2m0 0h2m-21 1h2m-2 0h2m0 0h2m-1 0h2m2 0h2m-1 0h2m6 0h2m-30 1h2m6 0h2m1 0h2m-1 0h2m-2 0h2m13 0h2m-28 1h2m5 0h2m1 0h2m1 0h2m-16 1h2m-2 0h2m0 0h2m-2 0h2m4 0h2m-1 0h2m16 0h2m0 0h2m-30 1h2m4 0h2m-1 0h2m0 0h2m10 0h2m-19 1h2m3 0h2m-1 0h2m10 0h2m-16 1h2m10 0h2m-25 1h2m8 0h2m2 0h2m-2 1h2m4 0h2m5 0h2m1 0h2m-13 1h2m9 0h2m-34 1h2m0 0h2m21 0h2m-26 1h2m-2 0h2m2 0h2m20 0h2m-26 1h2m4 0h2m10 0h2m6 0h2m-1 0h2m-33 1h2m3 0h2m0 0h2m7 0h2m-2 0h2m3 0h2m6 0h2m-32 1h2m1 0h2m-1 0h2m-2 0h2m8 0h2m1 0h2m13 0h2m-25 1h2m-1 0h2m0 0h2m1 0h2m-2 0h2m-1 0h2m-1 0h2m12 0h2m-22 1h2m2 0h2m-1 0h2m-1 0h2m2 0h2m-17 1h2m0 0h2m0 0h2m-1 0h2m-1 0h2m2 0h2m-1 0h2m2 0h2m0 0h2m1 0h2m6 0h2m-12 1h2m1 0h2m-1 0h2m-32 1h2m1 0h2m7 0h2m10 0h2m-1 0h2m-1 0h2m-2 0h2m5 0h2m-36 1h2m23 0h2m1 0h2m-1 0h2m0 0h2m0 0h2m-1 0h2m4 0h2m-42 1h2m0 0h2m35 0h2m-2 0h2m-40 1h2m-1 1h2m37 0h2m-43 2h2m26 1h2m11 0h2m-1 0h2m-5 2h2m0 1h2m-2 0h2m1 0h2m-17 1h2m0 0h2m10 0h2m-17 1h2m15 0h2m-5 2h2m-16 1h2m0 0h2m12 0h2m-1 0h2m-1 0h2m-19 1h2m12 0h2m3 0h2m-19 1h2m14 0h2m-20 1h2m13 0h2m1 1h2m-2 2h2m1 0h2m-5 1h2m1 1h2m-2 0h2m-1 0h2m-23 1h2m-1 0h2m21 0h2m-1 0h2m-4 1h2m0 0h2m2 1h2m-4 1h2m-25 2h2m22 0h2m-1 0h2m6 0h2m-40 1h2m1 0h2m26 0h2m-1 0h2m-29 1h2m29 1h2m-31 1h2m28 0h2m1 1h2m-32 4h2m5 3h2m17 0h2m-21 1h2m-7 1h2m4 0h2m1 0h2m12 0h2m-22 1h2m5 0h2m12 0h2m-27 1h2m-2 0h2m-1 0h2m-1 0h2m-2 0h2m-1 0h2m3 0h2m1 0h2m-1 0h2m-13 1h2m-1 0h2m-1 0h2m-1 0h2m1 0h2m-1 0h2m-1 0h2m-1 0h2m-12 1h2m7 0h2m-9 1h2m-1 0h2m5 0h2m0 0h2m-9 1h2m3 0h2m-1 0h2m-2 0h2m0 0h2m-9 1h2m0 0h2m1 0h2m-1 0h2m-6 1h2m-1 0h2m-10 1h2m1 0h2m-1 0h2m-1 0h2m3 0h2m-13 1h2m2 0h2m-1 0h2m0 0h2m1 0h2m-10 1h2m1 0h2m-1 0h2m-11 1h2m1 0h2m-1 0h2m1 0h2m-2 0h2m2 0h2m-1 0h2m-2 0h2m-1 0h2m-8 1h2m1 0h2m1 0h2m-6 1h2m0 0h2m0 0h2m1 0h2m-2 0h2m-1 0h2m-1 0h2m-13 1h2m-1 0h2m5 0h2m-14 1h2m3 0h2m7 0h2m-1 0h2m-12 1h2m7 0h2m0 0h2m-15 1h2m1 0h2m-4 1h2m0 0h2m-6 1h2m2 0h2m3 0h2m-4 1h2m-1 1h2m-1 1h2m-2 0h2m0 0h2m-1 1h2m0 0h2m-3 1h2m-1 0h2m-13 1h2m7 0h2m-1 0h2m-1 0h2m-2 0h2m-17 1h2m12 0h2m-2 1h2m-13 1h2m3 0h2m4 0h2m0 0h2m-12 1h2m-1 0h2m5 0h2m0 0h2m-11 1h2m-1 0h2m-2 0h2m0 0h2m-2 0h2m-1 0h2m0 0h2m0 0h2m-1 0h2m-16 1h2m0 0h2m-2 0h2m2 0h2m-1 0h2m-1 0h2m2 0h2m-11 1h2m-2 0h2m-1 0h2m0 0h2m-1 0h2m4 0h2m-11 1h2m-2 0h2m-1 0h2m0 0h2m-2 0h2m-7 1h2m1 0h2m-4 1h2m-1 0h2m-2 0h2m5 1h2m1 0h2m-1 0h2m-9 1h2m0 0h2m-2 0h2m0 1h2m-1 0h2m-7 1h2m1 0h2m1 0h2m0 0h2m-16 1h2m3 0h2m0 1h2m0 0h2m-1 0h2m1 2h2m-12 1h2m0 0h2m0 0h2m-7 2h2m9 0h2m-14 2h2m6 0h2m2 0h2m-14 1h2m-2 0h2m-1 1h2m0 0h2m4 0h2m-9 1h2m1 0h2m3 0h2m0 0h2m-14 1h2m-1 0h2m-2 0h2m3 0h2m-2 0h2m-5 1h2m-5 1h2m-1 0h2m2 1h2m-1 0h2m-4 1h2m-2 4h2" stroke="#b81c1c" stroke-width="2" fill="none"/>
<path d="M216 69h2m-1 0h2m1 0h2m-1 2h2m-8 1h2m-1 0h2m-3 1h2m-34 10h2m-2 1h2m-5 1h2m-1 0h2m5 0h2m-14 1h2m0 0h2m8 0h2m-24 1h2m2 0h2m-2 0h2m13 0h2m-1 0h2m-20 1h2m6 0h2m1 1h2m-2 0h2m-19 1h2m25 0h2m-1 0h2m-1 0h2m-30 1h2m0 0h2m1 0h2m9 0h2m-13 1h2m0 0h2m-2 0h2m-1 0h2m-2 0h2m21 0h2m0 0h2m-17 1h2m11 0h2m1 0h2m-32 1h2m12 0h2m9 0h2m-1 0h2m3 0h2m-1 0h2m31 0h2m-55 1h2m-1 0h2m0 0h2m10 0h2m-2 0h2m33 0h2m-1 0h2m-1 0h2m-52 1h2m1 0h2m38 0h2m5 0h2m0 0h2m-70 1h2m60 0h2m-41 1h2m3 0h2m34 0h2m-38 1h2m6 0h2m26 0h2m-1 0h2m2 0h2m-59 1h2m0 0h2m21 0h2m-2 0h2m-1 0h2m19 0h2m2 0h2m0 0h2m-69 1h2m58 0h2m9 0h2m-46 1h2m6 0h2m37 0h2m-1 0h2m-78 1h2m2 0h2m6 0h2m-1 0h2m20 0h2m31 0h2m1 0h2m2 0h2m-74 1h2m10 0h2m2 0h2m43 0h2m4 0h2m-2 0h2m3 0h2m-71 1h2m-2 0h2m31 0h2m0 0h2m15 0h2m9 0h2m-71 1h2m7 0h2m27 0h2m-37 1h2m5 0h2m3 0h2m0 0h2m4 0h2m4 0h2m9 0h2m1 0h2m5 0h2m2 0h2m8 0h2m6 0h2m-2 0h2m-1 0h2m-67 1h2m9 0h2m0 0h2m1 0h2m-1 0h2m18 0h2m18 0h2m3 0h2m-70 1h2m35 0h2m-2 0h2m1 0h2m25 0h2m-61 1h2m-1 0h2m6 0h2m0 0h2m-2 0h2m0 0h2m5 0h2m7 0h2m0 0h2m19 0h2m-55 1h2m-1 0h2m0 0h2m-2 0h2m9 0h2m44 0h2m1 0h2m-64 1h2m6 0h2m0 0h2m36 0h2m-1 0h2m13 0h2m-67 1h2m11 0h2m1 0h2m9 0h2m13 0h2m4 0h2m3 0h2m7 0h2m-68 1h2m9 0h2m8 0h2m1 0h2m-1 0h2m0 0h2m28 0h2m6 0h2m-1 0h2m-70 1h2m23 0h2m12 0h2m2 0h2m13 0h2m1 0h2m9 0h2m0 0h2m-66 1h2m-2 0h2m5 0h2m11 0h2m9 0h2m16 0h2m3 0h2m1 0h2m2 0h2m-61 1h2m7 0h2m19 0h2m-2 0h2m-2 0h2m9 0h2m3 0h2m1 0h2m1 0h2m1 0h2m8 0h2m0 0h2m-70 1h2m3 0h2m5 0h2m18 0h2m9 0h2m8 0h2m-1 0h2m-1 0h2m10 0h2m-69 1h2m14 0h2m7 0h2m-1 0h2m-1 0h2m31 0h2m1 0h2m2 0h2m-2 0h2m-72 1h2m1 0h2m16 0h2m2 0h2m9 0h2m16 0h2m2 0h2m2 0h2m5 0h2m-75 1h2m7 0h2m17 0h2m0 0h2m23 0h2m0 0h2m2 0h2m6 0h2m3 0h2m1 0h2m-80 1h2m1 0h2m-2 0h2m-2 0h2m13 0h2m33 0h2m1 0h2m5 0h2m-67 1h2m1 0h2m1 0h2m-2 0h2m2 0h2m5 0h2m3 0h2m35 0h2m3 0h2m-64 1h2m6 0h2m3 0h2m-1 0h2m3 0h2m2 0h2m32 0h2m10 0h2m8 0h2m-81 1h2m13 0h2m2 0h2m42 0h2m3 0h2m1 0h2m5 0h2m-78 1h2m11 0h2m0 0h2m0 0h2m0 0h2m0 0h2m0 0h2m7 0h2m4 0h2m14 0h2m9 0h2m-1 0h2m-70 1h2m17 0h2m-1 0h2m-2 0h2m1 0h2m-1 0h2m-1 0h2m1 0h2m-1 0h2m14 0h2m-2 0h2m5 0h2m-2 0h2m12 0h2m-68 1h2m-2 0h2m12 0h2m-2 0h2m4 0h2m4 0h2m0 0h2m10 0h2m11 0h2m-1 0h2m3 0h2m14 0h2m-2 0h2m-76 1h2m-1 0h2m9 0h2m9 0h2m32 0h2m4 0h2m8 0h2m2 0h2m-68 1h2m13 0h2m8 0h2m0 0h2m19 0h2m9 0h2m-7 1h2m11 0h2m-60 1h2m1 0h2m-1 0h2m1 0h2m17 0h2m0 0h2m1 0h2m3 0h2m-47 1h2m1 0h2m-2 0h2m1 0h2m2 0h2m5 0h2m-1 0h2m-2 0h2m0 0h2m0 0h2m17 0h2m22 0h2m-2 0h2m-77 1h2m7 0h2m-2 0h2m1 0h2m-2 0h2m9 0h2m-2 0h2m4 0h2m39 0h2m-70 1h2m-2 0h2m7 0h2m-1 0h2m2 0h2m-1 0h2m12 0h2m22 0h2m7 0h2m5 0h2m3 0h2m-76 1h2m5 0h2m0 0h2m5 0h2m2 0h2m11 0h2m-1 0h2m16 0h2m5 0h2m2 0h2m10 0h2m-1 0h2m-77 1h2m-1 0h2m3 0h2m4 0h2m-10 1h2m4 0h2m17 0h2m17 0h2m2 0h2m1 0h2m-50 1h2m-2 0h2m0 0h2m26 0h2m-1 0h2m-1 0h2m-1 0h2m16 0h2m-1 0h2m5 0h2m-69 1h2m5 0h2m1 0h2m-2 0h2m-2 0h2m16 0h2m0 0h2m1 0h2m2 0h2m0 0h2m-1 0h2m11 0h2m-44 1h2m25 0h2m-1 0h2m1 0h2m-1 0h2m0 0h2m-1 0h2m1 0h2m0 0h2m6 0h2m10 0h2m-59 1h2m2 0h2m-1 0h2m12 0h2m7 0h2m0 0h2m-1 0h2m21 0h2m-2 0h2m-1 0h2m-68 1h2m12 0h2m-2 0h2m-1 0h2m-2 0h2m5 0h2m3 0h2m4 0h2m8 0h2m17 0h2m-59 1h2m19 0h2m9 0h2m2 0h2m25 0h2m-2 0h2m-64 1h2m36 0h2m4 0h2m-1 0h2m12 0h2m2 0h2m-71 1h2m1 0h2m18 0h2m19 0h2m-1 0h2m1 0h2m1 0h2m-2 0h2m15 0h2m-2 0h2m1 0h2m-73 1h2m-1 0h2m0 0h2m33 0h2m3 0h2m3 0h2m-1 0h2m-1 0h2m16 0h2m-68 1h2m29 0h2m16 0h2m1 0h2m8 0h2m-66 1h2m2 0h2m5 0h2m13 0h2m1 0h2m8 0h2m0 0h2m10 0h2m9 0h2m-64 1h2m1 0h2m-2 0h2m0 0h2m-1 0h2m15 0h2m-1 0h2m16 0h2m-39 1h2m2 0h2m2 0h2m18 0h2m4 0h2m0 0h2m0 0h2m12 0h2m6 0h2m-67 1h2m4 0h2m5 0h2m7 0h2m0 0h2m7 0h2m4 0h2m-1 0h2m19 0h2m3 0h2m-68 1h2m0 0h2m9 0h2m8 0h2m-1 0h2m-1 0h2m-2 0h2m1 0h2m-2 0h2m4 0h2m-1 0h2m14 0h2m9 0h2m-66 1h2m-1 0h2m9 0h2m0 0h2m-1 0h2m-1 0h2m6 0h2m1 0h2m2 0h2m12 0h2m0 0h2m15 0h2m-34 1h2m31 0h2m-2 0h2m-47 1h2m4 0h2m4 0h2m-2 0h2m1 0h2m-1 0h2m18 0h2m-1 0h2m-36 1h2m0 0h2m-1 0h2m4 0h2m-1 0h2m-1 0h2m-1 0h2m0 0h2m0 0h2m16 0h2m4 0h2m-61 1h2m16 0h2m11 0h2m26 2h2m-12 1h2m-46 3h2m9 0h2m28 0h2m-19 3h2m1 0h2m24 0h2m-4 1h2m-21 1h2m-25 2h2m-4 1h2m3 0h2m14 0h2m3 0h2m-24 1h2m-1 0h2m-3 2h2m3 1h2m2 2h2m5 3h2m-27 3h2m28 0h2m-17 1h2m-2 2h2m-2 0h2m10 1h2m-26 1h2m3 1h2m-2 0h2m-1 1h2m5 2h2m-8 1h2m1 1h2m-6 2h2m-10 3h2m21 4h2m-1 3h2m-30 3h2m11 1h2m-8 1h2m1 0h2m-17 2h2m57 27h2m273 160h2m-16 6h2m0 0h2" stroke="#8b6508" stroke-width="2" fill="none"/>
<path d="M573 92h2m45 1h2m-44 1h2m-6 1h2m42 0h2m-31 6h2m-16 1h2m46 0h2m-7 4h2m3 2h2m-39 1h2m31 0h2m-2 1h2m4 0h2m-2 1h2m-1 0h2m-17 1h2m12 0h2m-16 1h2m-2 0h2m0 0h2m-2 0h2m3 0h2m6 1h2m-18 3h2m-1 1h2m8 0h2m9 1h2m-9 3h2m-10 1h2m5 1h2m-19 1h2m14 3h2m16 2h2m-25 1h2m10 1h2m-13 1h2m11 0h2m-10 2h2m16 0h2m-6 1h2m-87 1h2m69 0h2m0 0h2m2 2h2m22 1h2m-6 1h2m-32 2h2m-4 1h2m13 0h2m9 3h2m9 0h2m-29 4h2m23 0h2m-25 1h2m8 0h2m10 0h2m-1 1h2m-114 3h2m98 0h2m18 2h2m-22 2h2m-138 1h2m131 0h2m14 0h2m-54 1h2m24 0h2m6 0h2m-130 1h2m129 0h2m-122 2h2m96 0h2m31 0h2m-35 1h2m-67 1h2m68 0h2m16 0h2m-38 2h2m48 0h2m0 0h2m-134 2h2m119 0h2m-92 1h2m-64 1h2m6 0h2m31 0h2m52 0h2m-1 0h2m13 0h2m15 0h2m21 1h2m-40 1h2m15 1h2m11 0h2m1 0h2m-2 0h2m-74 1h2m17 0h2m16 0h2m-1 0h2m1 0h2m1 0h2m18 0h2m4 0h2m-1 0h2m-30 1h2m28 0h2m-37 1h2m1 0h2m13 0h2m2 1h2m-144 1h2m134 0h2m-17 1h2m21 0h2m5 1h2m0 0h2m-22 1h2m-1 0h2m-115 1h2m61 0h2m48 0h2m6 0h2m-15 1h2m4 0h2m6 0h2m-135 1h2m118 0h2m-5 1h2m4 1h2m21 0h2m-31 1h2m0 0h2m4 0h2m-82 1h2m93 0h2m-158 1h2m35 0h2m85 0h2m-5 2h2m-1 1h2m-126 2h2m1 1h2m117 0h2m-101 3h2m11 1h2m-16 7h2m-16 4h2m21 3h2m-23 2h2m12 7h2m-14 2h2m19 1h2m-14 4h2m29 2h2m-7 6h2m11 17h2m-20 3h2m5 0h2m-13 3h2m10 2h2m2 3h2m1 0h2m-9 2h2m9 4h2m-7 1h2m1 4h2m-18 4h2m-73 100h2m24 0h2m2 0h2m-1 0h2m4 0h2m0 0h2m-47 1h2m0 0h2m-2 0h2m-2 0h2m0 0h2m30 0h2m2 0h2m3 0h2m-50 1h2m0 0h2m-2 0h2m0 0h2m-2 0h2m0 0h2m24 0h2m10 0h2m1 0h2m-50 1h2m-1 0h2m-1 0h2m-1 0h2m0 0h2m1 0h2m-1 0h2m3 0h2m-2 0h2m2 0h2m11 0h2m16 0h2m-52 1h2m-1 0h2m-1 0h2m-1 0h2m0 0h2m-2 0h2m-2 0h2m-1 0h2m2 0h2m-1 0h2m0 0h2m-1 0h2m0 0h2m2 0h2m13 0h2m15 0h2m-54 1h2m-1 0h2m-1 0h2m1 0h2m-1 0h2m0 0h2m0 0h2m0 0h2m0 0h2m-2 0h2m-2 0h2m-1 0h2m-1 0h2m6 0h2m24 0h2m-50 1h2m-1 0h2m-1 0h2m6 0h2m-1 0h2m-2 0h2m0 0h2m3 0h2m-1 0h2m-2 0h2m-2 0h2m11 0h2m15 0h2m-54 1h2m2 0h2m-2 0h2m-2 0h2m-1 0h2m-2 0h2m5 0h2m0 0h2m-1 0h2m0 0h2m1 0h2m-1 0h2m-2 0h2m-1 0h2m-2 0h2m0 0h2m-2 0h2m6 0h2m18 0h2m-50 1h2m8 0h2m-1 0h2m-1 0h2m-2 0h2m1 0h2m2 0h2m1 0h2m30 0h2m-60 1h2m1 0h2m-1 0h2m8 0h2m9 0h2m31 0h2m-60 1h2m-2 0h2m-1 0h2m2 0h2m-2 0h2m2 0h2m0 0h2m-1 0h2m9 0h2m0 0h2m-27 1h2m0 0h2m-1 0h2m2 0h2m3 0h2m-2 0h2m-1 0h2m-2 0h2m6 0h2m-1 0h2m-1 0h2m-1 0h2m-1 0h2m4 0h2m20 0h2m3 0h2m-1 0h2m-2 0h2m14 0h2m-75 1h2m1 0h2m1 0h2m-1 0h2m1 0h2m0 0h2m-2 0h2m-1 0h2m-2 0h2m-1 0h2m-1 0h2m-2 0h2m-1 0h2m1 0h2m0 0h2m-1 0h2m33 0h2m-2 0h2m14 0h2m-75 1h2m0 0h2m9 0h2m-2 0h2m2 0h2m-1 0h2m-2 0h2m-1 0h2m11 0h2m-2 0h2m-2 0h2m-2 0h2m-1 0h2m-2 0h2m18 0h2m-1 0h2m-1 0h2m-1 0h2m-2 0h2m-1 0h2m-1 0h2m-59 1h2m-2 0h2m0 0h2m8 0h2m2 0h2m-1 0h2m-1 0h2m33 0h2m-1 0h2m-1 0h2m-2 0h2m-1 0h2m-1 0h2m11 0h2m-72 1h2m2 0h2m-1 0h2m2 0h2m-1 0h2m4 0h2m-1 0h2m-2 0h2m2 0h2m18 0h2m6 0h2m1 0h2m0 0h2m-2 0h2m0 0h2m-2 0h2m12 0h2m-73 1h2m-1 0h2m1 0h2m3 0h2m0 0h2m-1 0h2m1 0h2m4 0h2m9 0h2m8 0h2m0 0h2m10 0h2m-2 0h2m-58 1h2m0 0h2m-1 0h2m-1 0h2m-1 0h2m4 0h2m7 0h2m-1 0h2m-2 0h2m-1 0h2m-2 0h2m-2 0h2m-2 0h2m-1 0h2m-2 0h2m17 0h2m13 0h2m6 0h2m-1 0h2m0 0h2m0 0h2m-1 0h2m-69 1h2m14 0h2m-1 0h2m-2 0h2m-1 0h2m16 0h2m1 0h2m22 0h2m1 0h2m-1 0h2m-68 1h2m1 0h2m-1 0h2m9 0h2m25 0h2m8 0h2m12 0h2m-1 0h2m-68 1h2m0 0h2m-1 0h2m0 0h2m-1 0h2m-1 0h2m3 0h2m26 0h2m8 0h2m-2 0h2m1 0h2m10 0h2m1 0h2m-77 1h2m4 0h2m-1 0h2m-1 0h2m-1 0h2m-2 0h2m1 0h2m-2 0h2m-1 0h2m-1 0h2m42 0h2m11 0h2m-1 0h2m-73 1h2m0 0h2m3 0h2m-1 0h2m-1 0h2m-1 0h2m2 0h2m4 0h2m37 0h2m-1 0h2m8 0h2m0 0h2m-73 1h2m-2 0h2m-1 0h2m-1 0h2m-1 0h2m2 0h2m-1 0h2m-2 0h2m0 0h2m-1 0h2m-1 0h2m-1 0h2m-1 0h2m-2 0h2m0 0h2m1 0h2m38 0h2m-2 0h2m1 0h2m0 0h2m4 0h2m-73 1h2m-1 0h2m2 0h2m0 0h2m10 0h2m-1 0h2m-1 0h2m-1 0h2m-2 0h2m12 0h2m24 0h2m0 0h2m5 0h2m-73 1h2m-1 0h2m-2 0h2m-2 0h2m4 0h2m4 0h2m2 0h2m1 0h2m-1 0h2m-2 0h2m5 0h2m4 0h2m-35 1h2m-1 0h2m2 0h2m0 0h2m1 0h2m6 0h2m-2 0h2m9 0h2m-31 1h2m-2 0h2m73 0h2m-77 1h2m0 0h2m-2 0h2m0 0h2m-1 0h2m-2 0h2m-2 0h2m-1 0h2m-1 0h2m6 0h2m8 0h2m49 0h2m-74 1h2m-2 0h2m-1 0h2m-1 0h2m7 0h2m-1 0h2m0 0h2m-2 0h2m-1 0h2m6 0h2m49 0h2m0 0h2m-77 1h2m-1 0h2m-2 0h2m0 0h2m-2 0h2m0 0h2m1 0h2m2 0h2m7 0h2m50 0h2m1 0h2m-71 1h2m-1 0h2m66 0h2m-72 1h2m3 0h2m76 3h2" stroke="#228b22" stroke-width="2" fill="none"/>
<path d="M219 71h2m-4 10h2m-40 3h2m7 1h2m25 1h2m-46 1h2m5 0h2m12 0h2m-7 1h2m4 0h2m-14 1h2m-20 2h2m-1 0h2m3 4h2m53 0h2m7 0h2m-70 1h2m25 0h2m-29 1h2m25 0h2m29 0h2m2 0h2m-66 1h2m62 0h2m-48 1h2m40 0h2m3 0h2m-50 1h2m-2 0h2m-18 1h2m37 0h2m18 0h2m-20 1h2m-34 1h2m25 0h2m3 0h2m29 0h2m-4 1h2m-73 1h2m74 0h2m-77 1h2m18 0h2m-1 0h2m13 0h2m33 0h2m-53 1h2m-1 0h2m33 1h2m13 0h2m-31 1h2m-33 2h2m5 0h2m56 0h2m-63 1h2m11 0h2m26 0h2m-47 1h2m-2 0h2m62 0h2m-76 1h2m47 0h2m12 0h2m-66 1h2m1 0h2m32 0h2m-8 1h2m10 0h2m17 0h2m0 0h2m-26 1h2m5 0h2m5 0h2m11 1h2m-54 2h2m19 0h2m22 0h2m-17 3h2m13 0h2m-33 1h2m28 0h2m-24 1h2m23 0h2m17 0h2m-59 1h2m2 1h2m7 0h2m34 0h2m-1 0h2m4 0h2m-67 1h2m53 0h2m11 0h2m-80 1h2m22 0h2m-1 0h2m31 0h2m-6 1h2m-31 1h2m9 0h2m-22 2h2m3 2h2m3 0h2m51 0h2m-61 1h2m19 0h2m3 0h2m23 0h2m-56 1h2m50 0h2m-68 1h2m-1 0h2m9 0h2m46 0h2m13 0h2m-73 1h2m31 0h2m22 0h2m-1 0h2m4 0h2m-1 0h2m-69 1h2m35 0h2m27 0h2m-38 3h2m36 0h2m-55 1h2m9 0h2m-27 1h2m58 1h2m-14 2h2m8 0h2m3 0h2m-43 2h2m10 0h2m6 0h2m9 0h2m16 0h2m-67 1h2m-8 1h2m9 1h2m21 0h2m6 0h2m11 0h2m-3 1h2m9 0h2m-66 1h2m0 0h2m4 0h2m20 0h2m2 0h2m11 0h2m10 0h2m-53 2h2m27 1h2m-15 2h2m34 1h2m-1 0h2m-32 1h2m12 0h2m-38 1h2m49 1h2m-34 1h2m18 0h2m-45 1h2m42 0h2m3 0h2m-28 2h2m13 0h2m-37 1h2m25 0h2m1 0h2m-37 1h2m47 0h2m-44 1h2m30 0h2m-2 1h2m-17 1h2m-25 1h2m13 0h2m-10 1h2m21 0h2m6 0h2m-34 1h2m16 2h2m-24 1h2m6 0h2m-10 1h2m27 0h2m-2 0h2m-21 1h2m0 0h2m12 0h2m-1 0h2m-15 2h2m4 2h2m8 1h2m1 0h2m-25 1h2m22 2h2m-34 4h2m13 0h2m-8 3h2m-9 4h2m25 1h2m-19 1h2m2 1h2m12 1h2m-30 3h2m10 2h2m13 0h2m-21 2h2m-10 3h2m-11 1h2m28 23h2m25 3h2m-20 9h2m5 11h2m1 2h2m-5 4h2m-4 4h2m-5 14h2m1 3h2m3 0h2m6 2h2m-1 1h2m0 6h2m-9 1h2m-7 1h2m7 1h2m0 7h2m-16 8h2" stroke="#da70d6" stroke-width="2" fill="none"/>
<path d="M623 95h2m-62 3h2m25 1h2m-12 1h2m42 0h2m-54 1h2m47 0h2m0 0h2m-6 2h2m-45 3h2m45 3h2m0 0h2m0 0h2m-18 4h2m17 3h2m-6 3h2m5 0h2m0 0h2m-9 1h2m0 0h2m-3 2h2m-8 1h2m5 1h2m9 0h2m-19 1h2m-4 1h2m8 1h2m-18 3h2m15 0h2m12 0h2m-27 1h2m22 0h2m-22 1h2m2 0h2m9 0h2m-35 2h2m15 2h2m16 0h2m-1 0h2m-2 1h2m1 0h2m-11 1h2m-1 0h2m5 0h2m5 1h2m-2 0h2m-34 1h2m21 0h2m3 0h2m-51 2h2m44 0h2m-29 1h2m-18 1h2m2 0h2m25 0h2m19 0h2m-8 1h2m-2 0h2m0 0h2m0 0h2m-35 1h2m33 0h2m-14 1h2m8 0h2m2 0h2m-52 1h2m-8 1h2m9 1h2m27 0h2m-22 1h2m14 0h2m-38 2h2m-6 1h2m44 1h2m9 0h2m-41 1h2m12 0h2m21 0h2m2 0h2m-47 1h2m9 0h2m6 0h2m17 0h2m4 0h2m-37 1h2m28 1h2m4 0h2m-3 1h2m-146 1h2m87 0h2m51 0h2m5 0h2m-62 1h2m39 0h2m18 0h2m-35 1h2m30 0h2m-15 1h2m9 2h2m-37 1h2m9 0h2m3 0h2m7 0h2m0 0h2m-3 1h2m2 0h2m2 0h2m0 1h2m-77 2h2m67 0h2m-10 2h2m9 0h2m-56 1h2m53 0h2m-52 1h2m13 0h2m15 0h2m-1 0h2m4 0h2m-6 2h2m-68 1h2m75 0h2m-2 1h2m-92 3h2m85 1h2m-3 1h2m-34 1h2m-1 0h2m20 0h2m0 0h2m4 1h2m1 0h2m3 0h2m-12 1h2m-34 1h2m24 1h2m-27 1h2m22 0h2m0 0h2m-109 24h2m-4 54h2m-303 25h2m-4 1h2m1 2h2m-9 2h2m5 11h2m279 84h2m-4 1h2m-16 2h2m14 0h2m-18 1h2m-3 3h2m-1 0h2m5 1h2m-7 2h2m-4 1h2m-2 0h2m12 0h2m-15 1h2m9 1h2m-1 0h2m-1 1h2m-2 0h2m-1 0h2m-9 1h2m5 0h2m-9 1h2m0 0h2m13 5h2m5 0h2m-2 1h2m-1 0h2" stroke="#ee9a49" stroke-width="2" fill="none"/>
<path d="M598 196h2m0 1h2m-361 53h2m-3 4h2m1 3h2m-1 3h2m-2 0h2m-2 0h2m13 0h2m0 0h2m-1 0h2m11 0h2m-48 1h2m16 0h2m4 0h2m2 0h2m-1 0h2m0 0h2m5 0h2m5 0h2m-1 0h2m-2 0h2m-1 0h2m-2 0h2m-1 0h2m-33 1h2m1 0h2m1 0h2m6 0h2m-2 0h2m0 0h2m0 0h2m5 0h2m1 0h2m-2 0h2m-1 0h2m-2 0h2m-1 0h2m-1 0h2m-2 0h2m-2 0h2m-52 1h2m19 0h2m-1 0h2m0 0h2m-1 0h2m0 0h2m-1 0h2m-1 0h2m-1 0h2m-2 0h2m3 0h2m2 0h2m4 0h2m-2 0h2m-1 0h2m2 0h2m-1 0h2m-29 1h2m-27 1h2m-4 1h2m18 2h2m-1 1h2m-22 2h2m0 0h2m15 0h2m-3 1h2m-2 2h2m-1 0h2m-1 0h2m-26 1h2m18 1h2m0 0h2m-2 2h2m-16 1h2m1 0h2m6 1h2m-2 2h2m-6 2h2m1 1h2m-4 3h2m-1 0h2m-3 1h2m-2 0h2m-1 0h2m-16 1h2m11 2h2m-12 5h2m-2 2h2m-5 3h2m0 1h2m-5 6h2m0 0h2m5 1h2m-2 0h2m-6 1h2m3 0h2m-6 1h2m-9 1h2m4 3h2m0 0h2" stroke="#1c9acd" stroke-width="2" fill="none"/>
<path d="M183 84h2m-5 1h2m0 1h2m31 0h2m-22 4h2m15 3h2m-43 1h2m19 1h2m-24 1h2m62 0h2m-5 3h2m4 2h2m-63 2h2m-15 6h2m5 0h2m1 2h2m48 2h2m0 2h2m14 4h2m387 0h2m-456 1h2m40 0h2m4 1h2m-18 2h2m14 1h2m-58 1h2m76 1h2m-24 2h2m8 4h2m-37 2h2m422 0h2m-441 1h2m0 1h2m41 0h2m-25 1h2m-35 1h2m468 4h2m-466 4h2m45 1h2m16 2h2m0 0h2m-62 1h2m-11 2h2m62 2h2m-36 1h2m421 2h2m19 10h2m-433 1h2m437 1h2m-23 8h2m2 4h2m4 3h2m3 1h2" stroke="#c1cdcd" stroke-width="2" fill="none"/>
<path d="M206 110h2m-31 5h2m62 11h2m-64 2h2m-2 24h2m11 7h2m2 0h2m17 1h2m3 2h2m-37 9h2m9 3h2m17 11h2m-15 1h2m-12 3h2m10 0h2m4 6h2m5 0h2m-22 7h2m18 18h2m-1 4h2m3 6h2m-1 2h2m5 6h2m-12 16h2m-4 1h2m1 0h2m2 1h2m-4 2h2m-7 1h2m32 4h2m-33 6h2m-8 1h2m24 6h2m-1 0h2m-2 1h2m-2 0h2m-25 5h2m9 4h2m-11 1h2m4 0h2m8 0h2m-5 2h2m-2 0h2m-15 1h2m-1 1h2m2 7h2m-1 2h2m-2 2h2m6 4h2m-11 1h2m-1 6h2m-4 3h2m0 0h2" stroke="#000080" stroke-width="2" fill="none"/>
<path d="M623 90h2m-7 3h2m-4 9h2m6 10h2m-12 5h2m13 0h2m-19 1h2m12 0h2m-2 5h2m0 0h2m-10 1h2m13 6h2m6 4h2m1 3h2m7 1h2m-12 3h2m7 6h2m-46 1h2m-11 2h2m23 1h2m-13 1h2m29 1h2m-4 2h2m6 0h2m-7 1h2m4 2h2m-2 3h2m-12 2h2m-9 1h2m8 0h2m-17 2h2m8 1h2m-1 0h2m-8 5h2m19 1h2m1 0h2m-24 5h2m2 0h2m10 0h2m-1 0h2m-37 2h2m-1 0h2m11 0h2m4 2h2m-31 4h2m5 0h2m17 0h2m2 0h2m-32 3h2m2 0h2m17 1h2" stroke="#f08080" stroke-width="2" fill="none"/>
<path d="M573 96h2m-1 0h2m13 4h2m-16 2h2m14 8h2m-4 1h2m26 18h2m-16 12h2m38 4h2m-39 2h2m-7 4h2m-1 1h2m-4 1h2m9 2h2m2 1h2m45 6h2m-45 1h2m20 0h2m-4 1h2m0 0h2m-22 10h2m18 2h2m12 2h2m-11 8h2m4 0h2m-418 55h2m3 0h2m-8 1h2m0 0h2m0 0h2m0 0h2m0 0h2m-8 1h2m5 0h2m-8 1h2m-1 0h2m-1 0h2m1 0h2m0 0h2m-3 2h2m-1 1h2" stroke="#000000" stroke-width="2" fill="none"/>
<path d="M622 94h2m-2 10h2m-12 4h2m6 0h2m-1 2h2m-11 4h2m-5 2h2m13 2h2m11 2h2m-12 6h2m-5 1h2m5 9h2m1 0h2m-13 1h2m26 9h2m-18 1h2m5 3h2m15 2h2m-20 6h2m-15 5h2m22 2h2m-4 1h2m-1 2h2m-1 0h2m-9 7h2m-14 2h2m16 0h2m-20 3h2m-1 1h2m18 5h2" stroke="#68228b" stroke-width="2" fill="none"/>
<path d="M182 92h2m-10 12h2m35 9h2m-39 4h2m30 6h2m39 22h2m-33 2h2m-38 1h2m59 8h2m-8 136h2m-8 9h2m-4 8h2m-2 1h2m-4 1h2" stroke="#daa520" stroke-width="2" fill="none"/>
<path d="M267 261h2m267 153h2m-4 1h2m-2 0h2m-3 2h2m-1 0h2m-1 0h2m-2 0h2" stroke="#c0ff3e" stroke-width="2" fill="none"/>
</g>
<g id="pb">
<text font-size="50" font-weight="bold" x="15" y="573">b</text>
<path d="M123.4 565.1V960.8L677.8 963" fill="none" stroke="#000" stroke-width="5.7" stroke-linejoin="miter"/>
<path d="M123.4 545.3L133.4 565.6H113.4z"/>
<path d="M697 963L677.3 953V973z"/>
<text font-size="29.3" font-weight="bold" x="304.9" y="538.6">Steady State</text>
<text font-size="39.6" text-anchor="middle" transform="translate(113.4 766.4) rotate(-90)">UMAP-2</text>
<text font-size="39.5" x="335.7" y="1008.6">UMAP-1</text>
<circle cx="643" cy="576.8" r="7.7" fill="#3a5fcd"/><text x="665.4" y="583.5" font-size="26.3" textLength="233.3" lengthAdjust="spacingAndGlyphs">F4/80<tspan font-size="24" dy="-8.5">+</tspan><tspan dy="8.5"> MHCII</tspan><tspan font-size="16.5" dy="-9.5">LO</tspan><tspan dy="9.5"> ΜΦ</tspan></text>
<circle cx="643" cy="614.5" r="7.7" fill="#b22222"/><text x="665.4" y="619.5" font-size="26.3" textLength="200.7" lengthAdjust="spacingAndGlyphs">F4/80<tspan font-size="24" dy="-8.5">+</tspan><tspan dy="8.5"> IL1β</tspan><tspan font-size="24" dy="-8.5">+</tspan><tspan dy="8.5"> ΜΦ</tspan></text>
<circle cx="643" cy="650.5" r="7.7" fill="#00b2ee"/><text x="665.4" y="658" font-size="26.3" textLength="235.2" lengthAdjust="spacingAndGlyphs">F4/80<tspan font-size="24" dy="-8.5">+</tspan><tspan dy="8.5"> MHCII</tspan><tspan font-size="16.5" dy="-9.5">INT</tspan><tspan dy="9.5"> ΜΦ</tspan></text>
<circle cx="643" cy="688" r="7.7" fill="#daa520"/><text x="665.4" y="698" font-size="26.3" textLength="222.4" lengthAdjust="spacingAndGlyphs">F4/80<tspan font-size="24" dy="-8.5">-</tspan><tspan dy="8.5"> MHCII</tspan><tspan font-size="16.5" dy="-9.5">HI</tspan><tspan dy="9.5"> ΜΦ</tspan></text>
<circle cx="643" cy="724" r="7.7" fill="#9a32cd"/><text x="665.4" y="733.3" font-size="26.3" textLength="48.3" lengthAdjust="spacingAndGlyphs">DCs</text>
<circle cx="643" cy="762.7" r="7.7" fill="#c0c0c0"/><text x="665.4" y="768.5" font-size="26.3" textLength="165.4" lengthAdjust="spacingAndGlyphs">Cell Cycle ΜΦ</text>
<path d="M367.3 582.2h0M374.5 579.1h0M369.5 576.7h0M372.6 578.4h0M372.6 577.6h0M375.9 573.4h0M371.7 581.6h0M366.9 582.6h0M372.3 577.9h0M372.6 579.5h0M365.4 572.2h0M356.7 573h0M361.6 571.8h0M377.7 572.5h0" stroke="#c0c0c0" stroke-width="5.3" stroke-linecap="round" fill="none"/>
<path d="M282.2 684.1h0M348.8 683.9h0M250.2 619.8h0M197.7 624h0M281.1 604.2h0M196.2 615.7h0M352.7 657.8h0M227.8 609.3h0M231.4 610.9h0M215.3 666.1h0M213.6 662.5h0M222.9 628h0M252.6 628.7h0M308.6 697.5h0M309.6 693.6h0M228.8 662.9h0M232.6 664h0M171.6 632h0M345 658.5h0M218.5 610.8h0M220.9 614h0M186.2 594h0M263.6 640.5h0M260.3 638.2h0M324.6 646.9h0M283.8 690.1h0M213.9 646.6h0M330 714.5h0M254.2 682.5h0M213.2 640.2h0M283.1 652.6h0M171.1 623.1h0M333.1 634.7h0M313.9 678h0M310.7 634.9h0M296.4 625.9h0M287.8 663.2h0M284 662h0M204.8 675h0M322.6 671.8h0M225 671.4h0M325 633.2h0M333.7 677.2h0M347.7 649.7h0M302.4 682.6h0M303.1 678.7h0M273.5 674.2h0M185.9 645h0M199.7 594.8h0M198 598.4h0M190.4 612.8h0M210.6 641h0M230.4 592.4h0M172.3 658.6h0M286.3 635.7h0M283 633.5h0M225.7 703.8h0M270.4 667.6h0M242.4 617.1h0M276.6 621.5h0M212.2 649.7h0M244.9 625.8h0M263.4 623.3h0M315.3 619.6h0M227.7 684.5h0M160.2 620.5h0M314.6 643.3h0M300 669.9h0M234.1 698.4h0M212.2 689.2h0M256.2 630.7h0M317.4 673.9h0M183.7 667.1h0M186.1 668.6h0M167.6 595.2h0M307.1 701.9h0M308.8 654.9h0M309.2 658.9h0M229.8 683.4h0M178.5 664.9h0M163.7 607.3h0M294.4 616.7h0M298.3 616h0M291 694.3h0M288.2 691.5h0M329.8 655h0M271.9 683.9h0M172.8 592h0M252.7 686.5h0M337.8 668.2h0M249.5 600.7h0M251.7 604h0M230.6 637.8h0M184.2 620.7h0M186.2 625h0M304.4 608.9h0M305 681h0M303.1 677.5h0M314.8 641h0M163.8 619.4h0M216.3 594.4h0M220.2 593.7h0M189.9 653.8h0M217.9 601.7h0M253.9 662h0M323.1 628.4h0M323.3 632.4h0M170.1 643.4h0M230.4 600.5h0M272.2 645.2h0M321.6 637.4h0M323.6 640.9h0M200.7 643.4h0M324.7 682.2h0M320.8 681.4h0M248.5 644.1h0M239.9 594.5h0M194.4 660.8h0M327.5 698.1h0M259.1 663.9h0M232.3 649.6h0M322.3 707.8h0M261.3 624.6h0M258.8 627.8h0M209.7 680.8h0M209.8 676.8h0M306.3 667.1h0M339.8 706h0M216.2 622.5h0M284.3 687.3h0M280.6 685.7h0M239.3 643h0M191.5 591.7h0M278.2 611.6h0M274.9 609.4h0M287.1 677.4h0M165.4 650.7h0M251.8 600.8h0M255.1 603h0M184.2 667.7h0M174 596.1h0M248.1 676.1h0M302.7 626.2h0M232.1 625.5h0M297.6 690.2h0M214.2 631.5h0M167.8 622.9h0M244.7 649h0M286.9 670.3h0M287.4 666.4h0M212.2 674.3h0M208.4 675.4h0M202.7 661.6h0M266.1 682.8h0M279.7 690.7h0M160.5 637.8h0M181.3 633.3h0M207.4 623.5h0M189.4 605.6h0M279.8 667.2h0M286.4 697.3h0M206.4 626.5h0M249.5 607.9h0M170.9 633.5h0M282 672.3h0M278 672.5h0M295.6 645.8h0M239.9 689.6h0M328.3 663.4h0M332.3 662.7h0M165.6 626.9h0M174.3 641.8h0M170.6 640.2h0M176.5 657.5h0M220.4 693.1h0M272.1 652.7h0M310.5 666.3h0M309.1 662.5h0M281.6 699.1h0M205 634h0M204.3 630.1h0M222.1 701.7h0M310.2 682.3h0M185.7 652h0M313.2 696.5h0M252.2 603.2h0M286.8 617.5h0M245.1 676.9h0M251.8 655.5h0M336.7 716.3h0M173.4 635.7h0M177.4 635.8h0M338.8 677.3h0M246.5 640.8h0M192.3 630.3h0M294.5 687.7h0M327.5 635.2h0M154 607.1h0M169.2 607.3h0M166 604.9h0M279.1 657.5h0M244.2 694.6h0M304.6 640.6h0M330.9 688.9h0M293.6 603.8h0M343.2 670.4h0M250.3 645.3h0M203.3 625.4h0M170.9 632.2h0M258.1 697.6h0M237 643.1h0M211.8 673h0M243.6 667.4h0M314.7 627.5h0M209.5 656.1h0M213.5 655.8h0M159.3 603.6h0M217.5 619.9h0M221.5 619.8h0M187.8 622.8h0M187 618.9h0M247.8 603.3h0M245.1 606.3h0M274.2 617.4h0M283.5 677.5h0M279.6 678.3h0M277.7 671.5h0M269.2 613h0M302.6 649.7h0M257.7 673.8h0M295 635.5h0M199.8 651.7h0M220 680.5h0M339.2 649.7h0M206.5 635h0M208.9 638.2h0M283.5 649.9h0M208.6 606.4h0M292.5 655.4h0M183.3 591.5h0M253.1 596.6h0M276.1 614.9h0M272.1 614.3h0M341.7 676.2h0M224.4 610h0M302.9 643.3h0M305.9 645.9h0M221 620.8h0M219.1 617.3h0M341.5 678.8h0M212.4 703.2h0M289.1 621.8h0M285.6 619.8h0M275.1 662.6h0M274.6 658.6h0M294.6 638h0M292.1 641.1h0M262.3 690.3h0M298.5 636.6h0M209.4 664.9h0M205.6 663.8h0M207.1 632.3h0M182.2 602.6h0M299.8 643.5h0M173.5 620.2h0M173.4 616.2h0M286.1 630.5h0M291.5 619.4h0M299.4 607.6h0M344.8 672.3h0M345.4 652.6h0M349.2 651.4h0M241.7 647.9h0M337.6 709.9h0M220.6 658.4h0M324.1 626.3h0M216.2 652.3h0M213 654.8h0M333.7 642.8h0M193.8 644.6h0M271.4 697.1h0M345.1 656.1h0M303.6 681.1h0M208.1 614.3h0M326.2 640.3h0M323.7 637.1h0M237.2 597.1h0M268.9 663.7h0M213.6 681.6h0M224.5 648.9h0M167.3 644.3h0M165.3 647.7h0M218.2 603h0M192.8 674.8h0M192 628.9h0M303.7 670.8h0M251 656.7h0M313.4 643.3h0M303.1 639.6h0M221.9 607.5h0M221.5 603.5h0M207.5 591.5h0M233.2 648.3h0M237.3 604.6h0M228.8 595.1h0M187.3 626.9h0M191.2 627.7h0M248.7 688.5h0M263.6 606.1h0M306.6 652.1h0M271.9 635.5h0M279.3 670.4h0M276.2 667.8h0M254.5 644.1h0M253.2 647.9h0M279.9 640.1h0M263.1 639.3h0M265.3 636h0M294.8 683.4h0M264.9 657.7h0M263.3 654h0M301.5 684.3h0M287.6 677.1h0M283.9 675.6h0M286.1 665.4h0M275.2 638.3h0M277.3 641.7h0M298.5 680h0M290 677.5h0M280.3 658.1h0M282.5 654.7h0M251.3 632h0M248.9 635.2h0M241.6 625.9h0M273.8 641.5h0M263.6 637h0M265.4 661.5h0M275 651h0M282.6 671h0M281.9 667.1h0M253.7 647.4h0M256.4 644.4h0M274.6 673.3h0M296.5 674.4h0M294.7 678h0M307.7 676.1h0M300.2 686.4h0M264 647.8h0M298.4 678.5h0M272.8 634.4h0M287.2 657.3h0M291.2 657.2h0M289.1 662.6h0M280.7 660h0M259.5 656.4h0M256.5 638h0M260.4 638.3h0M269.9 662.4h0M272.8 659.6h0M256.7 631.9h0M272.9 662.1h0M279.4 650.4h0M303.7 679.7h0M274 658.1h0M266 644.7h0M310.9 716.9h0M302.5 714.5h0M338.2 704h0M341.6 702h0M329.6 711.5h0M325.6 711.3h0M326.8 715.1h0M334.9 704.6h0M325.4 721.9h0M345 702.1h0M347.2 705.4h0M290.8 719.4h0M343.6 717.2h0M322 712.5h0M380.3 614.3h0M383.1 633.8h0M321.6 618.5h0M330 633.3h0" stroke="#3a5fcd" stroke-width="5.3" stroke-linecap="round" fill="none"/>
<path d="M250.8 749.5h0M340.8 781.7h0M344.1 779.5h0M301.4 775.5h0M297.7 774h0M315.9 785.3h0M278.9 763.4h0M231 729.2h0M332.8 802.2h0M284.7 760.1h0M302.1 751h0M299.6 754.1h0M309.4 764.9h0M233.6 745.3h0M236.8 742.8h0M265.1 752.6h0M324.8 796.5h0M321 797.7h0M264 720.1h0M345 736.6h0M251.5 766h0M300.1 766.5h0M363.6 750.9h0M344.6 720.3h0M257 777.6h0M247.1 758h0M270 761.7h0M291.5 752.4h0M328.1 767.4h0M331.1 764.8h0M346.1 789h0M254.7 728.1h0M232.5 771.9h0M279.1 731.2h0M321.6 760.4h0M332.7 757.8h0M354.8 758.9h0M257.9 735.6h0M329.4 738h0M327.8 749.2h0M321 772.8h0M317 772.3h0M305.2 766.2h0M303.1 769.6h0M210.1 789.3h0M213.9 787.9h0M270.9 718.5h0M298.2 738.9h0M295.9 735.6h0M247.3 784.2h0M355.2 781.1h0M325 778.3h0M246.5 778h0M242.5 778.3h0M228.8 783.2h0M339.3 753.4h0M338.2 739.2h0M296.3 711.8h0M292.3 712.2h0M324.3 733.4h0M264 723.7h0M311.7 758.3h0M314.9 760.7h0M263.3 763.5h0M263.5 767.5h0M244 745.4h0M240.3 746.9h0M301.3 736.1h0M326.8 777.4h0M354.3 728.3h0M332.4 786.8h0M342.7 763.1h0M240.2 766.9h0M338.2 770.5h0M352.1 714.3h0M284.2 710.2h0M285.7 714h0M254.5 757.1h0M269.4 753.1h0M252.7 732.5h0M250.7 729.1h0M230.9 739.4h0M289 765.1h0M296.6 780.9h0M339.3 790.5h0M261.3 737.3h0M262.4 741.2h0M349.2 771.4h0M345.4 737.7h0M314.1 741.9h0M317.2 768.7h0M276.5 709.8h0M240.9 761.2h0M351.2 731.7h0M300.1 729.5h0M299.1 725.6h0M339.6 746.7h0M343.6 747.3h0M250.3 747.2h0M250.3 751.2h0M334.3 788.2h0M331.4 785.5h0M294.7 776h0M237.2 754.9h0M322.2 742.6h0M315.2 734.4h0M313.7 730.7h0M301.6 718.7h0M319.6 804.2h0M338.6 774.5h0M356.8 744h0M260.8 779.3h0M354.1 770.2h0M249.5 782h0M256.6 742.9h0M343.1 727.5h0M346.2 724.9h0M226.6 786.3h0M222.6 786.3h0M251 733.5h0M253 736.9h0M316.3 723h0M313.7 720h0M308.5 759.6h0M311.6 762.1h0M276.2 757.1h0M287.7 728.4h0M290.3 725.4h0M334.7 773.6h0M271.9 726.6h0M265.6 716.6h0M312.4 749.6h0M308.4 749.3h0M241.3 754h0M244.4 751.4h0M303.6 785.8h0M321.3 736.8h0M312.3 787.9h0M280.6 746.6h0M241.8 783.7h0M204.7 790.9h0M201.8 791.5h0M205.6 789.6h0M205.9 786.6h0M204.4 784h0M210.4 788.7h0M220.4 788.2h0M217.4 788.7h0M215.7 780.5h0M216.8 779.7h0M219.8 780h0M201.7 790.5h0M369.1 807.1h0M383.1 809.8h0M371.9 814h0" stroke="#00b2ee" stroke-width="5.3" stroke-linecap="round" fill="none"/>
<path d="M374.7 686.9h0M407.5 706.6h0M443.1 701.4h0M379.7 676.7h0M425 611.1h0M425.1 615.1h0M450.3 698.8h0M427.4 655.7h0M383.8 643.5h0M364.8 709h0M431.8 676.1h0M415.7 701.2h0M398.3 672.4h0M439 663.9h0M439.8 660h0M429.9 667.4h0M371.6 678.3h0M395.8 695.5h0M415.2 631.9h0M376.7 721h0M417.7 688.4h0M420.8 685.8h0M446.2 615.5h0M437 711.1h0M385.1 705.4h0M396.1 630.5h0M400 631.4h0M404.9 615.5h0M403.1 619.1h0M461.6 693.1h0M377.1 616.3h0M457.2 661.4h0M435.4 649.8h0M447.5 708.9h0M422.9 674.8h0M426.9 675.2h0M431.6 627.2h0M370.1 714.9h0M366.8 699.8h0M464.2 684.9h0M391.7 680.6h0M390.1 684.2h0M416.7 659.9h0M398.7 602.7h0M395.1 614.5h0M435.7 693.8h0M411.7 722.2h0M412.5 670.9h0M416.2 646.9h0M446.6 667.8h0M439.8 629.4h0M442.2 632.5h0M427.7 626.5h0M455.2 633h0M379.5 668.3h0M373.8 601.4h0M386.6 621.4h0M413.2 619.8h0M440.7 623.2h0M436.7 623h0M431.4 690.8h0M465.5 659.8h0M467.3 663.3h0M429.8 690.4h0M430 694.4h0M419.1 624.8h0M400.3 684.8h0M357.4 674.5h0M365.8 613.1h0M449.9 643.8h0M372.2 615.6h0M373.9 611.9h0M418.7 708.2h0M384 682.2h0M398.9 702.7h0M443 679.3h0M446.5 681.3h0M404.3 720.6h0M407.4 723.2h0M409.9 688.2h0M452.2 686.2h0M448.7 684.4h0M416.5 634.4h0M475.9 664.7h0M404.6 657.9h0M407.4 655h0M472.1 652.1h0M414.3 722.1h0M410.6 709.2h0M407.4 706.8h0M380.8 716.4h0M427.4 718.7h0M389.8 721.9h0M376.6 629.7h0M378.6 626.2h0M364 702.2h0M366.3 698.9h0M438.4 656.4h0M381.6 697.7h0M403.5 666.7h0M407 668.6h0M458.9 678.7h0M384.5 607.1h0M443 632.5h0M413.4 611.9h0M406.1 659.1h0M402.1 658.7h0M400.9 664.7h0M406.2 641.9h0M389.2 684.2h0M441.4 686.9h0M394.4 711.5h0M463.8 651.4h0M375.3 714.8h0M459.3 640.3h0M400.6 684.2h0M392.5 641h0M393.5 637.1h0M379.2 663.9h0M437.2 685.8h0M435.2 672h0M367.2 688.7h0M429 700.4h0M379.7 648h0M353 609.8h0M388.6 603.5h0M450.7 661.9h0M381.7 668.8h0M407.3 710.1h0M440.8 650.3h0M444.7 651.5h0M438.8 680h0M374.7 602.4h0M427.8 717.9h0M393.5 620h0M390.3 617.5h0M374.1 703.8h0M370.7 701.7h0M435.7 630.2h0M352.3 607.6h0M448.4 675.4h0M452.4 675.6h0M420.7 675.5h0M383.5 627.3h0M404.6 619.7h0M431.5 705.1h0M410.2 653.8h0M447.1 693.8h0M438.2 712.5h0M357.8 680.7h0M465.1 652.9h0M381 602.8h0M467.1 674.3h0M397.5 669h0M395.1 672.2h0M409.3 720.9h0M386 649.7h0M419.3 667.3h0M394.7 678.5h0M467.4 679.2h0M403.2 626.2h0M379.1 600.6h0M396.7 673.2h0M429.1 640h0M426.4 637h0M426.9 672.1h0M424.7 691h0M407.6 709.9h0M439.3 621.9h0M439.1 708.7h0M431.4 662h0M381.4 678.7h0M403.4 716.8h0M386.3 649.3h0M450.8 651.2h0M392.9 716.6h0M396.9 716.5h0M393.9 715.4h0M396.8 718.1h0M389.8 711.9h0M369.4 707.2h0M371.7 703.9h0M389.2 716.4h0M386 718.8h0M367.4 716h0M381.6 720h0M378.9 717.1h0M380.7 720h0M377.8 722.8h0M373.5 715.1h0M370.2 717.4h0M389.9 700h0M413.7 684.4h0M415.6 687.9h0M401.4 693h0M401.4 697h0M417.4 673.6h0M414 675.7h0M403 693.7h0M413.6 679.7h0M399 682.7h0M402.1 685.2h0M418.5 681.4h0M427.6 674.1h0M420.7 679.4h0M428.4 683.1h0M429.6 691.3h0M398.9 676h0M398.2 679.9h0M443.5 627.9h0M440.3 625.5h0M424.2 620.8h0M427.8 619h0M435.4 607.7h0M442.3 617.7h0M433.1 619.2h0M429.9 623.4h0M415.9 614.2h0M410.1 619.7h0M440.2 612.7h0M410.9 630.6h0M414.6 629.2h0M421.1 615.4h0M424.2 618h0M421.2 612.4h0M423.2 608.9h0M427.3 715.6h0M423.4 716.6h0M414.6 714.2h0M413.1 715.4h0M416.8 717.1h0M431.3 721.5h0M419.7 720.9h0M423.4 722.3h0M282.5 732h0M279.5 716.9h0M307.7 729.3h0M346.3 725h0M253 707.6h0M350.4 733.9h0M326.2 699h0M329.7 700.9h0M318.9 707.2h0M320.4 703.5h0M343.9 715.2h0M255.2 721.1h0M317.9 726.4h0M318.1 715.2h0M304.4 714.4h0M269.3 713.6h0M265.4 712.9h0M311.7 710.9h0M315.7 711.3h0M285.2 721.6h0M256.9 715.1h0M252.9 715.1h0M331.4 708.6h0M334.2 716.8h0M336.5 720.1h0M308.6 723.7h0M355.6 721.1h0M302.2 728.3h0M334.6 730h0M359 733.5h0M357.4 729.9h0M262.2 728h0M308.8 705.4h0M296.5 709h0M283.2 707.9h0M291.5 718h0M332.8 600.3h0" stroke="#b22222" stroke-width="5.3" stroke-linecap="round" fill="none"/>
<path d="M332.8 830.8h0M409.6 818.8h0M415.2 818.2h0M359.3 849h0M451.5 851.8h0M499 853.2h0M464.1 860.1h0M469.7 860.1h0M449.6 868h0M452.4 886.7h0M432 892.3h0M448.9 826.2h0M443.6 825.4h0M450.4 827.2h0M436.6 826.1h0M452.3 826.1h0M440.4 826.1h0M440.7 826.8h0M411.6 859.8h0M375.3 863.1h0M368.3 889.2h0M372.3 889.1h0M374 885.5h0M357.6 872.3h0M401.5 868.8h0M394.8 861.5h0M393 865.1h0M357.9 878.7h0M355.2 875.7h0M357 879.3h0M389.1 875.3h0M392.7 877h0M391.6 880.8h0M412.2 859.5h0M408.5 860.8h0M412.3 859.7h0M409.5 862.6h0M372.7 862.7h0M376.5 863.9h0M362.7 885.5h0M366.1 883.4h0M368.4 886.6h0M364.6 887.8h0M362.3 884.5h0M406.5 867.4h0M370.7 885.7h0M373.1 882.5h0M372.1 886.3h0M376 885.6h0M378.8 888.4h0M408.6 859.7h0M360.4 864.5h0M412.3 864.9h0M408.3 865.2h0M419.1 927.8h0M395.1 922.6h0M419.5 908.2h0M406.8 930.2h0M406.1 926.3h0M430.6 923.8h0M432.8 927.2h0M393.5 913h0M396.2 910.1h0M399.1 912.9h0M400.2 916.8h0M397.2 914.2h0M395.1 910.8h0M391.1 911.4h0M430.7 919.1h0M430.7 923.1h0M427.9 920.3h0M420.4 932.6h0M418.3 936h0M433.6 921.5h0M435.8 918.2h0M418.5 917.3h0M422.1 915.6h0M418.2 915.1h0M420.8 912.1h0M417.2 913.8h0M421.1 912.9h0M424.9 916.1h0M428.7 917.4h0M425.9 914.6h0M429.2 912.4h0M432.7 910.4h0M427.3 927.7h0M423.4 928.3h0M405.7 935.6h0M422.4 906h0M426.3 906.9h0M429.7 908.9h0M426.6 911.4h0M424 914.4h0M425.5 918.2h0M429.5 917.7h0" stroke="#daa520" stroke-width="5.3" stroke-linecap="round" fill="none"/>
<path d="M579.4 858.3h0M571.1 858.3h0M583.9 857.2h0M590.1 856.8h0M591 856.7h0M582.8 857.6h0M580.2 858.3h0M594.8 859.5h0M582.5 857h0M582.2 857.1h0M585.7 857.5h0M573.3 859.4h0M588.7 857.4h0M583 856.6h0" stroke="#9a32cd" stroke-width="5.3" stroke-linecap="round" fill="none"/>
</g>
<g id="pc">
<text font-size="51" font-weight="bold" x="929" y="63.7">c</text>
<text transform="translate(1020.5 134.5) rotate(-32)" font-size="29.5" font-weight="bold">F4/80<tspan font-size="28" dy="-8.8">+</tspan><tspan dy="8.8"> MHCII</tspan><tspan font-size="18.3" dy="-10.6">LO</tspan></text>
<text transform="translate(1041 165.5) rotate(-32)" font-size="29.5" font-weight="bold">ΜΦ</text>
<text transform="translate(1308.5 134.5) rotate(-32)" font-size="29.5" font-weight="bold">F4/80<tspan font-size="28" dy="-8.8">+</tspan><tspan dy="8.8"> IL1β</tspan><tspan font-size="28" dy="-8.8">+</tspan></text>
<text transform="translate(1328 165.5) rotate(-32)" font-size="29.5" font-weight="bold">ΜΦ</text>
<text transform="translate(1509.5 135) rotate(-32)" font-size="29.5" font-weight="bold">F4/80<tspan font-size="28" dy="-8.8">+</tspan><tspan dy="8.8"> MHCII</tspan><tspan font-size="18.3" dy="-10.6">INT</tspan></text>
<text transform="translate(1527.5 168) rotate(-32)" font-size="29.5" font-weight="bold">ΜΦ</text>
<text transform="translate(1648.5 133.5) rotate(-32)" font-size="29.5" font-weight="bold">F4/80<tspan font-size="28" dy="-8.8">-</tspan><tspan dy="8.8"> MHCII</tspan><tspan font-size="18.3" dy="-10.6">HI</tspan></text>
<text transform="translate(1666 165.5) rotate(-32)" font-size="29.5" font-weight="bold">ΜΦ</text>
<text transform="translate(1744 164) rotate(-32)" font-size="29.5" font-weight="bold">DCs</text>
<rect x="983" y="170" width="290.5" height="14.7" fill="#3a5fcd"/><rect x="1277" y="170" width="216.2" height="14.7" fill="#b22222"/><rect x="1495" y="170" width="145.8" height="14.7" fill="#00b2ee"/><rect x="1643" y="170" width="80.6" height="14.7" fill="#daa520"/><rect x="1725.3" y="170" width="9.7" height="14.7" fill="#9a32cd"/>
<path d="M980.5 196V937" stroke="#888" stroke-width="0.8" stroke-dasharray="2 1" fill="none"/>
<defs>
<g id="t1_0"><path d="M11 1.5h1m35 0h1m71 0h1m21 0h1m107 0h1m80 0h1m60 0h1m112 0h1m22 0h1m28 0h1m27 0h1m55 0h1m100 0h1" stroke="#ffff00"/><path d="M292 1.5h1m25 0h1m36 0h1m91 0h1m84 0h1" stroke="#a8a014"/><path d="M0 1.5h1m5 0h1m18 0h1m9 0h1m17 0h1m25 0h1m13 0h1m5 0h1m10 0h1m1 0h2m3 0h1m2 0h1m8 0h1m27 0h1m25 0h1m8 0h1m12 0h1m9 0h1m4 0h2m1 0h1m5 0h1m12 0h1m11 0h1m6 0h1m17 0h1m55 0h1m18 0h1m1 0h1m2 0h1m8 0h1m1 0h1m15 0h1m15 0h1m6 0h1m8 0h1m4 0h1m2 0h1m10 0h2m21 0h1m1 0h1m12 0h1m2 0h1m1 0h1m42 0h1m16 0h1m4 0h1m14 0h1m2 0h1m7 0h1m23 0h1m2 0h1m2 0h1m1 0h1m8 0h2m50 0h1m2 0h1m2 0h1m42 0h1m7 0h1m5 0h2m1 0h1m8 0h1m9 0h1" stroke="#180810"/><path d="M202 1.5h1" stroke="#f4d080"/></g>
<g id="t2_0"><path d="M80 1.5h2m139 0h1m5 0h1m7 0h1m3 0h1m39 0h1m31 0h1m14 0h1m25 0h2m2 0h1m32 0h1m32 0h1m40 0h1m15 0h1m13 0h1m13 0h1m33 0h1m60 0h1m35 0h1m24 0h1m10 0h1m11 0h1m2 0h1m2 0h1m57 0h2" stroke="#ffff00"/><path d="M186 1.5h1m39 0h1m90 0h1m132 0h1m190 0h1" stroke="#a8a014"/><path d="M19 1.5h2m8 0h1m2 0h1m8 0h1m6 0h1m11 0h1m9 0h1m2 0h2m33 0h1m4 0h1m1 0h1m29 0h1m13 0h2m4 0h1m7 0h1m3 0h1m9 0h1m6 0h2m29 0h1m14 0h1m3 0h1m2 0h1m12 0h1m7 0h1m11 0h1m22 0h1m10 0h2m6 0h1m6 0h1m1 0h1m1 0h1m28 0h1m4 0h1m10 0h2m21 0h1m2 0h1m9 0h1m8 0h1m6 0h1m11 0h1m3 0h1m14 0h2m3 0h1m16 0h1m17 0h1m14 0h2m2 0h1m2 0h1m6 0h1m24 0h2m19 0h1m5 0h1m2 0h1m1 0h2m12 0h1m15 0h1m1 0h2m8 0h1m7 0h1m4 0h1m6 0h1m27 0h2m4 0h3m12 0h1m8 0h1m16 0h1m10 0h1m7 0h1" stroke="#180810"/><path d="M141 1.5h1m534 0h1" stroke="#f4d080"/></g>
<g id="t3_0"><path d="M0 1.5h1m11 0h1m16 0h1m23 0h1m36 0h1m44 0h1m9 0h1m32 0h1m4 0h1m12 0h1m9 0h1m39 0h1m10 0h2m27 0h1m9 0h1m13 0h1m19 0h1m1 0h1m1 0h1m32 0h1m45 0h2m3 0h1m1 0h1m17 0h1m20 0h1m6 0h1m3 0h1m18 0h1m11 0h1m15 0h1m16 0h2m12 0h2m17 0h1m1 0h1m3 0h1m26 0h1m1 0h1m3 0h1m18 0h1m14 0h1m17 0h1m12 0h1m15 0h1m38 0h1m1 0h1m23 0h1m1 0h1m1 0h1" stroke="#ffff00"/><path d="M41 1.5h1m10 0h1m127 0h1m44 0h1m10 0h1m237 0h1m236 0h1" stroke="#a8a014"/><path d="M13 1.5h1m1 0h1m8 0h2m9 0h1m1 0h1m12 0h1m9 0h1m9 0h1m17 0h2m23 0h1m13 0h1m24 0h1m11 0h1m12 0h1m6 0h1m10 0h1m8 0h1m5 0h1m12 0h1m11 0h1m5 0h1m1 0h1m7 0h1m8 0h1m1 0h1m8 0h1m10 0h1m1 0h1m22 0h1m20 0h2m1 0h1m24 0h1m16 0h1m8 0h1m15 0h1m9 0h1m3 0h1m2 0h1m41 0h1m30 0h1m6 0h1m2 0h1m10 0h1m2 0h1m5 0h1m19 0h1m14 0h1m3 0h1m2 0h1m22 0h1m14 0h1m4 0h1m6 0h1m3 0h1m12 0h1m2 0h1m2 0h1m7 0h1m4 0h1m23 0h1m3 0h1m13 0h1m21 0h1m1 0h1m2 0h1m39 0h1m2 0h1" stroke="#180810"/><path d="M160 1.5h1m238 0h1m212 0h1m59 0h1m61 0h1" stroke="#f4d080"/></g>
<g id="t4_0"><path d="M1 1.5h1m10 0h1m4 0h1m1 0h1m22 0h1m5 0h1m10 0h1m24 0h1m5 0h1m5 0h1m35 0h1m20 0h1m43 0h2m27 0h1m17 0h1m6 0h1m6 0h1m8 0h1m12 0h2m22 0h1m25 0h1m10 0h2m16 0h1m21 0h1m28 0h2m18 0h2m24 0h1m11 0h1m1 0h1m19 0h1m5 0h1m10 0h1m9 0h1m8 0h1m40 0h1m17 0h1m27 0h1m12 0h1m43 0h1m7 0h1m3 0h1m18 0h1m37 0h1" stroke="#ffff00"/><path d="M20 1.5h1m12 0h1m22 0h1m163 0h1m158 0h1m94 0h1m9 0h1m16 0h1m34 0h1m146 0h1m10 0h1m30 0h1m28 0h1" stroke="#a8a014"/><path d="M3 1.5h3m23 0h2m1 0h1m7 0h1m23 0h1m17 0h1m24 0h1m1 0h2m7 0h1m10 0h1m13 0h1m1 0h1m4 0h1m14 0h1m1 0h1m1 0h2m2 0h1m6 0h1m28 0h1m5 0h1m5 0h1m6 0h1m25 0h1m7 0h1m7 0h1m5 0h1m12 0h1m4 0h1m31 0h1m8 0h1m4 0h1m2 0h1m21 0h1m14 0h1m7 0h1m4 0h1m19 0h1m3 0h1m4 0h1m6 0h1m6 0h1m3 0h1m2 0h1m27 0h2m4 0h1m5 0h1m2 0h1m2 0h1m15 0h1m19 0h1m11 0h1m12 0h1m4 0h1m12 0h1m11 0h1m6 0h1m7 0h1m10 0h1m4 0h2m7 0h1m19 0h1m4 0h3m12 0h1m23 0h1m10 0h1m12 0h1m20 0h1m17 0h1m5 0h1m2 0h1m2 0h1" stroke="#180810"/><path d="M76 1.5h1m436 0h1m26 0h1m7 0h1m69 0h2m7 0h2m37 0h1" stroke="#f4d080"/></g>
<g id="t5_0"><path d="M1 1.5h1m3 0h2m7 0h1m9 0h1m3 0h2m3 0h2m32 0h1m7 0h1m10 0h1m9 0h1m10 0h1m6 0h1m3 0h1m12 0h1m1 0h1m1 0h1m13 0h1m6 0h1m11 0h1m8 0h1m11 0h1m7 0h1m7 0h1m19 0h1m1 0h1m12 0h1m17 0h1m28 0h1m12 0h1m11 0h1m6 0h1m38 0h1m5 0h1m12 0h1m1 0h1m28 0h1m1 0h1m3 0h1m18 0h1m18 0h1m1 0h1m5 0h1m17 0h1m13 0h2m13 0h1m19 0h1m9 0h1m2 0h1m2 0h1m2 0h2m2 0h2m9 0h4m3 0h1m25 0h1m1 0h1m3 0h2m7 0h1m2 0h2m1 0h1m1 0h1m1 0h1m2 0h1m28 0h2m13 0h1m22 0h1m18 0h1m11 0h1m5 0h1m12 0h1m7 0h1m11 0h1" stroke="#ffff00"/><path d="M10 1.5h1m5 0h1m49 0h1m3 0h1m17 0h1m72 0h1m39 0h1m4 0h1m13 0h1m26 0h1m3 0h1m7 0h2m6 0h1m27 0h1m35 0h1m9 0h1m5 0h1m51 0h1m24 0h1m11 0h1m36 0h1m11 0h1m13 0h1m30 0h2m10 0h1m61 0h1m2 0h1m2 0h1m23 0h1m8 0h1m32 0h1m44 0h1" stroke="#a8a014"/><path d="M2 1.5h1m1 0h1m17 0h1m12 0h1m1 0h1m10 0h1m14 0h1m26 0h1m38 0h1m12 0h1m9 0h2m58 0h2m38 0h1m13 0h1m5 0h1m23 0h1m6 0h1m4 0h1m2 0h1m13 0h1m20 0h1m22 0h1m6 0h1m1 0h1m13 0h1m4 0h1m11 0h1m19 0h1m4 0h1m3 0h1m27 0h1m1 0h2m4 0h1m7 0h1m12 0h2m12 0h1m16 0h1m8 0h1m103 0h1m9 0h1m4 0h1m1 0h1m14 0h1m16 0h1m8 0h1m37 0h1m5 0h1" stroke="#180810"/><path d="M40 1.5h1m80 0h1m43 0h1m135 0h1m41 0h1m11 0h1m66 0h1m65 0h1m198 0h1" stroke="#f4d080"/></g>
<g id="t6_0"><path d="M0 1.5h1m17 0h1m6 0h1m4 0h1m8 0h1m2 0h1m7 0h1m3 0h1m5 0h1m12 0h1m8 0h2m7 0h1m14 0h2m2 0h1m9 0h1m5 0h2m4 0h1m2 0h1m4 0h1m3 0h1m6 0h1m2 0h1m1 0h1m2 0h1m11 0h1m7 0h1m21 0h1m14 0h1m3 0h1m19 0h1m8 0h1m2 0h1m1 0h1m1 0h1m5 0h1m8 0h1m7 0h1m8 0h1m8 0h1m12 0h1m6 0h2m5 0h1m13 0h1m7 0h1m15 0h1m13 0h2m2 0h1m11 0h1m12 0h1m12 0h2m52 0h1m19 0h1m2 0h1m5 0h2m28 0h1m5 0h2m4 0h1m4 0h2m11 0h1m2 0h1m7 0h1m20 0h1m1 0h1m13 0h1m21 0h1m13 0h1m2 0h1m2 0h1m8 0h1m14 0h1m9 0h1m15 0h1m4 0h1m2 0h2m5 0h1m1 0h1m9 0h1m9 0h1m4 0h1m6 0h1m7 0h1" stroke="#ffff00"/><path d="M14 1.5h1m9 0h1m27 0h1m24 0h1m17 0h1m20 0h1m51 0h1m78 0h1m66 0h1m42 0h1m65 0h1m64 0h1m24 0h1m70 0h1m15 0h1m46 0h1m2 0h1m20 0h1m5 0h1m37 0h1" stroke="#a8a014"/><path d="M9 1.5h1m6 0h1m12 0h1m5 0h1m22 0h1m16 0h1m45 0h1m12 0h1m6 0h1m3 0h1m16 0h1m12 0h1m12 0h1m10 0h2m8 0h1m17 0h1m9 0h1m7 0h1m15 0h1m1 0h1m5 0h1m26 0h1m1 0h1m1 0h2m3 0h1m20 0h1m14 0h1m2 0h1m3 0h1m47 0h1m9 0h1m2 0h1m7 0h1m4 0h1m32 0h1m7 0h1m3 0h1m41 0h2m21 0h1m6 0h1m35 0h1m7 0h1m14 0h1m4 0h1m12 0h1m12 0h1m7 0h3m22 0h1m4 0h1m14 0h1m6 0h1m1 0h1m8 0h1m16 0h1m5 0h1m21 0h1" stroke="#180810"/><path d="M80 1.5h1m9 0h1m56 0h1m18 0h1m6 0h1m92 0h1m6 0h1m115 0h1m8 0h1m48 0h1m73 0h1m49 0h1m10 0h1m4 0h1m20 0h1m115 0h1m6 0h1m25 0h1" stroke="#f4d080"/></g>
<g id="t7_0"><path d="M3 1.5h1m2 0h1m3 0h1m1 0h1m5 0h1m4 0h1m2 0h1m1 0h1m14 0h1m9 0h1m5 0h1m4 0h1m2 0h1m8 0h1m20 0h1m7 0h1m5 0h1m12 0h1m7 0h1m4 0h1m13 0h1m5 0h1m1 0h1m5 0h1m7 0h1m28 0h2m11 0h1m13 0h1m16 0h1m4 0h1m12 0h1m6 0h1m12 0h1m11 0h2m3 0h1m7 0h1m3 0h1m13 0h1m20 0h1m5 0h1m1 0h1m2 0h1m5 0h1m2 0h1m11 0h1m3 0h1m15 0h1m7 0h2m3 0h1m10 0h1m18 0h1m1 0h1m4 0h2m1 0h1m4 0h1m1 0h1m5 0h1m1 0h1m5 0h1m13 0h1m1 0h1m9 0h1m2 0h2m2 0h1m6 0h1m2 0h1m2 0h1m1 0h2m3 0h1m11 0h1m13 0h1m8 0h1m3 0h1m1 0h3m3 0h1m2 0h1m12 0h1m14 0h1m4 0h1m4 0h1m1 0h1m12 0h2m2 0h2m5 0h2m6 0h1m17 0h1m2 0h1m1 0h1m4 0h1m5 0h1m1 0h1m3 0h2m2 0h1m2 0h1m2 0h1m19 0h1m2 0h2m8 0h1m5 0h1m6 0h1m8 0h1m4 0h1" stroke="#ffff00"/><path d="M0 1.5h1m8 0h1m10 0h1m25 0h1m7 0h1m14 0h2m4 0h1m26 0h1m3 0h1m1 0h1m22 0h1m21 0h1m1 0h1m34 0h1m31 0h1m15 0h1m28 0h1m6 0h1m30 0h1m20 0h1m5 0h1m5 0h1m16 0h1m8 0h1m5 0h1m88 0h1m9 0h1m25 0h1m32 0h1m8 0h1m16 0h1m63 0h1m29 0h1m52 0h1m31 0h1m10 0h1m3 0h1" stroke="#a8a014"/><path d="M1 1.5h1m2 0h1m9 0h1m2 0h1m1 0h1m1 0h1m5 0h1m5 0h2m7 0h1m2 0h1m2 0h1m7 0h2m3 0h1m3 0h1m6 0h1m6 0h1m15 0h1m5 0h1m1 0h2m2 0h1m4 0h1m7 0h1m4 0h1m3 0h1m5 0h2m1 0h2m2 0h1m2 0h2m3 0h1m3 0h1m7 0h1m4 0h2m6 0h2m3 0h1m6 0h2m4 0h1m5 0h3m7 0h1m3 0h1m5 0h3m2 0h1m5 0h1m1 0h2m5 0h1m4 0h1m4 0h1m6 0h2m2 0h1m8 0h2m2 0h1m2 0h5m4 0h2m1 0h4m1 0h2m11 0h1m3 0h1m6 0h1m4 0h1m1 0h2m5 0h1m1 0h1m7 0h2m2 0h1m3 0h1m3 0h1m3 0h1m3 0h3m3 0h1m13 0h1m13 0h1m7 0h1m1 0h1m11 0h1m1 0h1m8 0h1m3 0h2m4 0h1m3 0h1m1 0h1m2 0h1m1 0h1m4 0h1m8 0h1m3 0h1m5 0h1m4 0h2m1 0h3m5 0h1m20 0h1m1 0h1m2 0h2m2 0h1m5 0h1m6 0h1m1 0h1m1 0h1m5 0h1m3 0h1m1 0h1m1 0h2m4 0h3m1 0h1m6 0h1m4 0h1m3 0h1m3 0h1m1 0h2m1 0h1m2 0h1m4 0h1m5 0h3m1 0h2m1 0h1m4 0h2m6 0h1m5 0h1m1 0h2m7 0h1m2 0h2m2 0h1m3 0h1m3 0h1m1 0h1m3 0h1m2 0h2m1 0h1m1 0h1m7 0h1m7 0h2m11 0h1m13 0h1m9 0h1m5 0h2m1 0h1m8 0h2m3 0h1m1 0h1m2 0h2m1 0h1m1 0h1" stroke="#180810"/><path d="M73 1.5h2m14 0h1m36 0h1m16 0h1m41 0h1m32 0h1m97 0h1m49 0h1m26 0h1m97 0h1m32 0h1m133 0h1" stroke="#f4d080"/></g>
<g id="t8_0"><path d="M0 1.5h1m4 0h1m8 0h1m19 0h1m6 0h1m5 0h2m1 0h2m4 0h1m5 0h1m8 0h1m3 0h1m9 0h2m3 0h1m8 0h1m2 0h1m2 0h1m22 0h1m1 0h1m3 0h1m33 0h1m4 0h2m2 0h1m8 0h1m1 0h2m7 0h2m8 0h1m3 0h1m2 0h1m1 0h2m15 0h1m21 0h2m10 0h1m2 0h1m2 0h1m5 0h1m9 0h1m16 0h1m3 0h2m6 0h2m1 0h2m1 0h1m7 0h1m6 0h1m12 0h1m11 0h2m2 0h1m4 0h3m5 0h1m5 0h1m1 0h1m1 0h1m1 0h1m5 0h1m7 0h1m14 0h1m7 0h1m3 0h1m12 0h1m6 0h1m4 0h1m16 0h2m7 0h2m1 0h1m3 0h1m1 0h1m1 0h1m3 0h1m2 0h1m6 0h3m7 0h1m1 0h1m2 0h1m4 0h1m3 0h1m6 0h2m1 0h1m7 0h1m4 0h1m6 0h1m26 0h1m6 0h1m1 0h2m7 0h1m3 0h1m10 0h1m10 0h1m2 0h2m2 0h2m1 0h1m6 0h1m4 0h1m8 0h2m4 0h1m15 0h2m1 0h1m9 0h3m5 0h1m7 0h2m8 0h1m6 0h1m2 0h2m2 0h1m6 0h2m2 0h1m4 0h1m1 0h1" stroke="#ffff00"/><path d="M4 1.5h1m2 0h1m30 0h1m25 0h1m16 0h1m6 0h1m14 0h1m29 0h1m3 0h1m26 0h1m22 0h1m4 0h1m16 0h1m34 0h1m14 0h1m1 0h1m19 0h1m12 0h1m1 0h1m4 0h1m3 0h1m6 0h1m3 0h1m13 0h1m28 0h1m1 0h1m7 0h1m32 0h1m42 0h1m7 0h1m10 0h1m33 0h1m39 0h1m4 0h1m10 0h1m40 0h1m29 0h1m10 0h1m43 0h1m25 0h1m7 0h1m38 0h1m1 0h1" stroke="#a8a014"/><path d="M1 1.5h2m3 0h1m3 0h1m4 0h1m1 0h1m2 0h1m2 0h1m3 0h1m4 0h1m9 0h1m3 0h1m7 0h2m4 0h2m4 0h2m2 0h1m3 0h1m1 0h2m1 0h1m3 0h1m10 0h1m2 0h1m8 0h1m1 0h1m15 0h1m1 0h1m4 0h2m14 0h1m1 0h1m7 0h1m2 0h1m8 0h1m1 0h1m4 0h1m4 0h1m8 0h2m16 0h1m10 0h1m6 0h1m4 0h1m7 0h1m3 0h1m2 0h1m3 0h3m13 0h1m8 0h4m13 0h1m9 0h1m4 0h1m5 0h1m11 0h1m18 0h1m1 0h1m1 0h1m5 0h1m1 0h1m3 0h1m1 0h1m16 0h1m3 0h1m1 0h2m16 0h1m5 0h1m1 0h1m6 0h2m12 0h1m4 0h1m1 0h1m6 0h1m9 0h2m7 0h1m5 0h1m1 0h1m1 0h1m5 0h1m13 0h1m1 0h1m1 0h1m9 0h1m3 0h1m2 0h1m10 0h3m10 0h1m15 0h1m3 0h1m8 0h2m7 0h2m6 0h1m3 0h1m3 0h1m9 0h3m3 0h3m3 0h1m11 0h1m2 0h1m5 0h1m8 0h1m3 0h1m4 0h2m2 0h1m1 0h1m1 0h3m9 0h1m7 0h1m11 0h1m2 0h1m6 0h1m7 0h1m11 0h2m2 0h1m1 0h1m3 0h1m14 0h2m4 0h1" stroke="#180810"/><path d="M37 1.5h1m2 0h1m8 0h1m37 0h1m8 0h1m133 0h1m5 0h1m3 0h1m50 0h1m12 0h1m26 0h1m11 0h1m1 0h1m11 0h2m68 0h1m35 0h1m5 0h1m8 0h1m8 0h1m38 0h1m6 0h1m11 0h1m36 0h1m9 0h1m41 0h1m62 0h1m38 0h1" stroke="#f4d080"/></g>
<g id="t9_0"><path d="M3 1.5h1m3 0h1m2 0h1m5 0h1m3 0h1m2 0h2m2 0h2m9 0h1m3 0h1m1 0h1m3 0h1m1 0h1m8 0h1m1 0h1m6 0h1m9 0h1m2 0h2m3 0h2m6 0h1m1 0h2m5 0h1m4 0h2m3 0h1m3 0h2m2 0h1m2 0h2m4 0h1m5 0h2m3 0h1m3 0h1m4 0h1m1 0h1m16 0h1m2 0h2m5 0h2m6 0h1m13 0h1m11 0h2m4 0h1m11 0h1m1 0h1m1 0h1m6 0h2m5 0h1m3 0h2m3 0h1m4 0h1m5 0h1m2 0h1m3 0h1m6 0h1m11 0h2m3 0h1m5 0h1m2 0h3m3 0h1m2 0h2m2 0h1m1 0h2m7 0h2m6 0h1m3 0h1m1 0h1m2 0h1m1 0h1m8 0h1m3 0h1m6 0h1m8 0h1m6 0h3m13 0h2m4 0h1m1 0h1m5 0h1m10 0h2m1 0h1m3 0h1m1 0h1m3 0h1m4 0h1m3 0h1m2 0h2m2 0h1m10 0h2m2 0h1m27 0h1m1 0h1m12 0h2m1 0h1m6 0h1m6 0h3m3 0h1m1 0h1m3 0h1m3 0h1m2 0h1m4 0h1m1 0h1m1 0h1m2 0h1m3 0h1m2 0h1m1 0h1m5 0h2m1 0h1m7 0h3m6 0h1m8 0h1m10 0h2m1 0h1m4 0h3m1 0h1m1 0h1m1 0h1m10 0h1m4 0h1m1 0h3m5 0h2m11 0h1m1 0h1m3 0h1m2 0h1m3 0h1m16 0h1m1 0h1m4 0h2m2 0h1m6 0h1m1 0h2m9 0h2m7 0h1m2 0h2m6 0h1m2 0h1" stroke="#ffff00"/><path d="M11 1.5h1m17 0h1m13 0h1m10 0h1m8 0h1m31 0h1m26 0h1m4 0h1m6 0h1m26 0h1m8 0h2m9 0h1m14 0h2m2 0h1m8 0h1m11 0h1m14 0h1m3 0h1m24 0h1m19 0h1m1 0h1m2 0h1m13 0h1m8 0h1m9 0h1m20 0h1m25 0h1m7 0h1m4 0h1m22 0h1m14 0h1m3 0h1m8 0h1m22 0h1m7 0h1m13 0h1m24 0h1m1 0h1m22 0h1m28 0h1m37 0h1m5 0h1m27 0h1m6 0h1m11 0h1m7 0h1m42 0h1m12 0h1" stroke="#a8a014"/><path d="M1 1.5h2m1 0h2m6 0h4m5 0h1m11 0h5m1 0h2m6 0h1m3 0h1m3 0h1m4 0h1m1 0h1m1 0h2m3 0h2m2 0h1m1 0h2m2 0h2m2 0h1m1 0h1m2 0h4m1 0h1m6 0h1m1 0h1m4 0h1m4 0h1m1 0h1m4 0h1m6 0h1m6 0h1m1 0h1m2 0h1m1 0h1m2 0h2m1 0h3m4 0h1m1 0h1m3 0h1m2 0h1m1 0h2m1 0h1m6 0h5m3 0h1m1 0h2m3 0h2m2 0h1m1 0h1m2 0h1m3 0h2m1 0h1m2 0h1m1 0h2m3 0h4m3 0h5m1 0h1m1 0h1m3 0h1m2 0h3m1 0h1m9 0h1m3 0h3m1 0h1m1 0h2m1 0h1m8 0h2m5 0h1m5 0h1m1 0h1m3 0h2m3 0h1m1 0h1m1 0h2m5 0h1m5 0h1m2 0h1m9 0h2m1 0h1m1 0h1m5 0h1m1 0h1m1 0h1m5 0h2m1 0h1m1 0h3m2 0h1m1 0h1m2 0h1m2 0h1m1 0h1m2 0h1m1 0h4m2 0h2m5 0h2m3 0h1m1 0h1m1 0h1m3 0h5m4 0h1m2 0h1m3 0h1m6 0h3m6 0h1m5 0h1m3 0h1m2 0h3m1 0h1m1 0h1m5 0h1m2 0h2m3 0h1m6 0h1m3 0h2m1 0h1m2 0h1m7 0h2m2 0h2m1 0h1m10 0h2m1 0h1m1 0h1m1 0h2m4 0h3m1 0h2m2 0h1m2 0h1m6 0h1m7 0h1m3 0h1m3 0h3m3 0h1m1 0h1m4 0h1m1 0h1m4 0h2m1 0h1m3 0h1m1 0h3m1 0h3m4 0h2m1 0h1m2 0h2m1 0h1m2 0h2m1 0h3m2 0h1m3 0h1m2 0h1m3 0h1m6 0h1m3 0h1m2 0h2m1 0h1m1 0h1m2 0h1m2 0h1m7 0h1m6 0h2m3 0h2m1 0h1m3 0h1m1 0h1m2 0h1m1 0h1m1 0h1m1 0h3m2 0h1m2 0h1m2 0h1m1 0h1m1 0h1m3 0h1m8 0h2m1 0h3m1 0h1m3 0h2m2 0h2m1 0h1m2 0h3m1 0h1m4 0h1m2 0h5m3 0h1" stroke="#180810"/><path d="M22 1.5h1m49 0h1m26 0h1m32 0h1m6 0h1m11 0h1m5 0h1m5 0h1m4 0h1m106 0h1m8 0h1m4 0h1m15 0h1m23 0h1m7 0h1m46 0h1m35 0h1m5 0h1m22 0h1m42 0h1m12 0h1m12 0h1m23 0h1m43 0h1m29 0h1m26 0h1m1 0h1m17 0h1m30 0h1m19 0h1m28 0h1m1 0h1m8 0h1" stroke="#f4d080"/></g>
<g id="t10_0"><path d="M5 1.5h3m3 0h2m2 0h2m3 0h2m2 0h2m7 0h1m4 0h2m3 0h2m2 0h1m3 0h1m3 0h1m3 0h2m1 0h1m4 0h3m1 0h2m1 0h2m1 0h1m6 0h1m1 0h2m5 0h2m4 0h1m4 0h1m1 0h2m1 0h1m4 0h1m1 0h1m6 0h1m1 0h1m3 0h1m3 0h2m2 0h1m1 0h1m6 0h2m2 0h1m4 0h3m3 0h1m3 0h2m1 0h1m12 0h1m2 0h2m1 0h1m1 0h1m2 0h1m4 0h3m1 0h1m1 0h1m4 0h1m3 0h1m1 0h3m2 0h1m1 0h1m3 0h1m5 0h2m1 0h2m8 0h1m3 0h2m2 0h2m4 0h1m4 0h1m1 0h1m3 0h1m3 0h1m1 0h1m20 0h1m2 0h1m1 0h1m2 0h2m4 0h1m2 0h1m7 0h1m8 0h2m1 0h1m2 0h1m4 0h2m1 0h1m2 0h1m2 0h1m9 0h1m3 0h4m2 0h1m1 0h1m1 0h2m1 0h1m4 0h1m3 0h1m2 0h1m6 0h1m1 0h1m3 0h1m3 0h1m3 0h1m3 0h1m1 0h2m5 0h1m4 0h2m3 0h1m7 0h1m2 0h1m11 0h1m5 0h2m7 0h5m2 0h1m4 0h1m1 0h1m9 0h1m2 0h1m3 0h1m3 0h2m10 0h2m2 0h1m5 0h1m4 0h2m1 0h2m2 0h1m1 0h1m4 0h2m1 0h1m4 0h1m1 0h2m4 0h4m10 0h1m3 0h1m1 0h1m1 0h1m1 0h1m1 0h1m8 0h1m5 0h1m1 0h1m3 0h3m7 0h2m3 0h1m4 0h1m2 0h3m5 0h2m12 0h1m6 0h1m1 0h1m1 0h1m5 0h1m3 0h2m1 0h1m1 0h3m5 0h1m1 0h2m2 0h1m2 0h4m6 0h2m3 0h4m6 0h1m1 0h1m8 0h1m2 0h1m6 0h2m3 0h1m1 0h3" stroke="#ffff00"/><path d="M2 1.5h1m7 0h1m6 0h1m4 0h1m8 0h1m8 0h1m8 0h1m3 0h1m2 0h1m7 0h1m11 0h1m6 0h1m7 0h1m10 0h1m5 0h1m1 0h1m4 0h1m4 0h1m21 0h1m5 0h1m10 0h1m3 0h1m7 0h1m6 0h1m4 0h1m20 0h1m4 0h1m1 0h1m5 0h1m6 0h1m3 0h1m1 0h1m7 0h1m21 0h1m1 0h1m18 0h1m7 0h1m17 0h1m6 0h1m11 0h1m5 0h1m2 0h1m2 0h2m18 0h1m25 0h1m15 0h1m26 0h1m2 0h1m9 0h1m11 0h1m14 0h1m22 0h1m17 0h1m8 0h1m11 0h1m37 0h1m12 0h1m3 0h1m7 0h2m15 0h1m51 0h1m28 0h1m12 0h1m2 0h1m17 0h1m2 0h1m5 0h1m4 0h1m3 0h1m3 0h1m9 0h1" stroke="#a8a014"/><path d="M0 1.5h1m3 0h1m3 0h1m4 0h2m3 0h2m8 0h3m1 0h1m2 0h2m5 0h1m3 0h1m1 0h1m1 0h1m1 0h1m1 0h1m2 0h2m2 0h1m1 0h1m1 0h1m12 0h1m2 0h1m3 0h1m2 0h3m4 0h3m3 0h1m1 0h1m8 0h2m3 0h1m3 0h1m4 0h1m4 0h1m3 0h1m2 0h1m1 0h1m3 0h2m3 0h1m3 0h2m3 0h1m1 0h1m1 0h1m1 0h1m2 0h1m1 0h1m2 0h6m2 0h1m1 0h1m5 0h1m2 0h1m1 0h3m4 0h1m1 0h1m2 0h1m1 0h1m2 0h1m2 0h1m4 0h1m1 0h1m5 0h2m8 0h2m5 0h1m1 0h3m3 0h1m3 0h1m1 0h1m1 0h1m4 0h1m1 0h1m3 0h2m2 0h1m1 0h2m5 0h1m4 0h1m1 0h2m1 0h3m1 0h2m3 0h1m6 0h1m2 0h1m2 0h1m1 0h4m3 0h1m4 0h1m4 0h1m2 0h1m7 0h1m2 0h2m4 0h1m1 0h1m4 0h3m5 0h1m1 0h1m6 0h2m1 0h1m1 0h1m1 0h1m1 0h1m2 0h1m1 0h1m1 0h2m3 0h1m3 0h1m1 0h1m1 0h1m3 0h1m1 0h1m1 0h1m2 0h2m2 0h1m8 0h2m1 0h3m2 0h1m3 0h1m1 0h1m2 0h2m1 0h1m1 0h2m4 0h3m2 0h2m2 0h1m13 0h1m1 0h1m4 0h1m4 0h1m1 0h1m2 0h3m2 0h2m3 0h5m6 0h2m1 0h2m1 0h1m4 0h2m2 0h1m5 0h1m1 0h3m3 0h1m3 0h1m2 0h1m4 0h2m6 0h1m1 0h2m1 0h3m1 0h2m6 0h1m1 0h1m1 0h1m5 0h2m5 0h1m1 0h1m1 0h2m4 0h1m1 0h2m1 0h2m4 0h1m1 0h1m5 0h1m3 0h1m1 0h3m2 0h3m2 0h1m4 0h2m2 0h1m1 0h2m2 0h1m1 0h1m1 0h1m3 0h1m1 0h3m8 0h1m3 0h1m5 0h1m2 0h1m4 0h1m2 0h1m4 0h1m6 0h1m1 0h4m5 0h3m1 0h1m2 0h2m4 0h1m5 0h2m1 0h1m3 0h2m1 0h2" stroke="#180810"/><path d="M27 1.5h1m51 0h1m20 0h1m40 0h1m10 0h1m17 0h1m8 0h1m6 0h1m9 0h1m36 0h1m5 0h1m52 0h1m18 0h1m34 0h1m4 0h2m20 0h1m23 0h1m11 0h1m10 0h1m26 0h1m67 0h1m30 0h1m13 0h1m30 0h1m2 0h1m33 0h1m82 0h1m31 0h1" stroke="#f4d080"/></g>
<g id="t11_0"><path d="M4 1.5h1m1 0h1m2 0h1m3 0h3m1 0h1m6 0h2m4 0h3m3 0h1m3 0h2m3 0h1m2 0h1m5 0h1m1 0h3m4 0h2m2 0h1m1 0h2m5 0h1m7 0h2m7 0h2m4 0h1m4 0h1m2 0h1m5 0h1m1 0h2m3 0h1m1 0h1m1 0h1m2 0h2m2 0h1m5 0h1m3 0h4m3 0h1m1 0h1m5 0h1m1 0h1m5 0h1m1 0h1m4 0h2m2 0h1m3 0h1m2 0h1m3 0h1m2 0h1m3 0h1m3 0h1m2 0h1m1 0h3m2 0h2m1 0h2m1 0h1m7 0h2m3 0h2m4 0h1m4 0h1m10 0h2m7 0h1m1 0h1m2 0h1m1 0h1m1 0h1m4 0h1m2 0h1m3 0h2m1 0h5m1 0h1m1 0h2m2 0h2m1 0h2m1 0h1m1 0h1m4 0h1m1 0h1m8 0h2m2 0h2m2 0h1m6 0h1m5 0h1m2 0h1m3 0h3m4 0h1m1 0h1m3 0h1m4 0h1m3 0h1m4 0h1m4 0h1m1 0h1m1 0h1m4 0h1m1 0h1m3 0h1m1 0h1m1 0h1m5 0h1m10 0h1m2 0h1m7 0h1m4 0h1m1 0h1m1 0h2m2 0h2m1 0h1m3 0h1m8 0h1m1 0h2m3 0h1m1 0h2m4 0h1m2 0h3m8 0h1m1 0h1m4 0h1m8 0h1m2 0h1m2 0h2m1 0h1m4 0h1m2 0h2m2 0h1m2 0h1m3 0h1m3 0h1m1 0h3m1 0h2m4 0h2m1 0h2m2 0h2m1 0h1m4 0h1m2 0h1m3 0h1m1 0h1m1 0h1m5 0h2m1 0h1m1 0h2m2 0h2m7 0h1m1 0h2m9 0h2m2 0h1m1 0h1m2 0h1m6 0h1m1 0h2m1 0h3m1 0h1m1 0h2m5 0h1m1 0h1m1 0h1m11 0h1m5 0h1m5 0h1m2 0h2m1 0h1m2 0h1m1 0h3m2 0h1m1 0h1m1 0h3m5 0h1m1 0h4m1 0h3m6 0h1m4 0h1m5 0h1m1 0h1m7 0h4m1 0h1m2 0h2m1 0h1m1 0h1m6 0h1m1 0h1" stroke="#ffff00"/><path d="M7 1.5h2m10 0h1m1 0h1m5 0h1m7 0h1m16 0h1m2 0h1m5 0h1m11 0h1m3 0h1m5 0h1m4 0h2m1 0h1m25 0h1m3 0h1m8 0h1m16 0h1m13 0h2m15 0h1m6 0h1m2 0h1m1 0h1m8 0h1m9 0h1m6 0h1m7 0h1m18 0h1m9 0h1m2 0h1m23 0h1m7 0h1m6 0h1m4 0h1m15 0h1m2 0h1m4 0h1m10 0h1m4 0h1m1 0h2m11 0h1m9 0h1m3 0h1m21 0h1m18 0h1m15 0h1m18 0h1m12 0h1m6 0h1m8 0h2m2 0h1m1 0h1m12 0h1m3 0h1m1 0h2m24 0h1m2 0h2m14 0h1m2 0h1m37 0h1m4 0h1m26 0h1m24 0h1m3 0h1m7 0h1m2 0h1m6 0h1m1 0h1m8 0h1m5 0h2m7 0h1m1 0h1m19 0h1m4 0h1m12 0h2m18 0h1" stroke="#a8a014"/><path d="M1 1.5h3m6 0h1m1 0h1m3 0h1m3 0h1m2 0h1m2 0h1m1 0h2m16 0h2m2 0h2m1 0h1m8 0h1m5 0h1m2 0h1m2 0h2m3 0h1m6 0h1m5 0h1m7 0h2m1 0h1m2 0h1m4 0h1m2 0h1m3 0h2m9 0h1m3 0h4m1 0h2m5 0h2m4 0h3m1 0h1m7 0h1m1 0h1m1 0h4m2 0h2m1 0h1m4 0h1m1 0h2m13 0h1m2 0h1m3 0h2m5 0h1m2 0h1m2 0h2m5 0h1m3 0h1m1 0h1m2 0h1m1 0h1m1 0h1m1 0h3m2 0h1m1 0h1m4 0h1m1 0h2m2 0h1m1 0h1m2 0h1m3 0h1m1 0h2m1 0h2m1 0h2m14 0h1m6 0h1m3 0h1m2 0h1m3 0h4m2 0h1m4 0h1m9 0h1m8 0h1m4 0h1m4 0h1m1 0h1m7 0h1m1 0h2m3 0h1m1 0h1m5 0h1m1 0h1m1 0h1m3 0h1m2 0h1m7 0h1m4 0h2m3 0h4m1 0h2m4 0h1m5 0h2m3 0h1m1 0h1m4 0h1m3 0h1m4 0h2m3 0h4m1 0h2m8 0h1m5 0h1m2 0h1m6 0h1m3 0h1m1 0h1m3 0h2m1 0h1m1 0h1m2 0h1m7 0h1m5 0h2m6 0h1m2 0h1m2 0h1m16 0h2m9 0h1m1 0h3m2 0h1m2 0h2m4 0h1m1 0h1m3 0h1m2 0h1m1 0h1m3 0h1m13 0h1m1 0h2m3 0h2m3 0h1m3 0h2m2 0h1m1 0h1m1 0h1m1 0h1m6 0h1m1 0h1m2 0h1m2 0h1m2 0h1m6 0h1m3 0h2m5 0h1m1 0h1m4 0h1m2 0h2m2 0h1m1 0h1m2 0h1m6 0h1m1 0h1m4 0h1m2 0h1m6 0h1m4 0h2m1 0h1m3 0h2m4 0h3m1 0h1m1 0h1m1 0h1m8 0h1m5 0h1m3 0h3m7 0h2m1 0h1" stroke="#180810"/><path d="M0 1.5h1m36 0h1m21 0h1m5 0h1m14 0h1m14 0h1m2 0h1m13 0h1m10 0h1m25 0h1m70 0h1m7 0h1m17 0h1m4 0h1m62 0h1m22 0h1m22 0h1m3 0h1m15 0h1m6 0h1m2 0h1m6 0h1m3 0h1m33 0h1m7 0h1m10 0h1m2 0h1m6 0h1m26 0h1m4 0h1m17 0h1m6 0h1m13 0h1m55 0h1m18 0h1m4 0h1m32 0h3m2 0h1m8 0h2" stroke="#f4d080"/></g>
<g id="t12_0"><path d="M1 1.5h1m2 0h3m1 0h1m1 0h1m5 0h2m3 0h1m2 0h1m3 0h1m1 0h1m2 0h2m2 0h2m2 0h1m1 0h2m3 0h1m7 0h2m1 0h1m3 0h1m2 0h1m4 0h2m5 0h1m3 0h3m5 0h1m3 0h1m2 0h4m1 0h5m1 0h1m3 0h3m1 0h2m1 0h1m1 0h2m2 0h2m1 0h3m1 0h2m2 0h1m1 0h1m8 0h1m1 0h2m1 0h2m5 0h1m6 0h1m4 0h1m5 0h2m3 0h4m5 0h2m1 0h2m1 0h3m2 0h1m1 0h1m1 0h2m2 0h1m1 0h6m1 0h1m4 0h2m5 0h1m2 0h1m1 0h2m3 0h1m1 0h1m2 0h1m6 0h1m3 0h2m5 0h1m1 0h1m2 0h2m1 0h1m2 0h2m3 0h2m4 0h1m3 0h1m1 0h1m4 0h4m4 0h1m5 0h2m2 0h1m2 0h2m1 0h2m5 0h2m3 0h3m2 0h1m1 0h1m2 0h1m1 0h1m1 0h2m5 0h2m3 0h1m1 0h2m2 0h2m5 0h1m1 0h2m6 0h1m5 0h1m3 0h1m1 0h2m1 0h1m1 0h4m1 0h3m2 0h2m1 0h2m1 0h1m1 0h1m1 0h1m1 0h1m1 0h1m1 0h2m2 0h1m3 0h2m4 0h1m3 0h2m3 0h1m1 0h1m1 0h1m2 0h1m2 0h2m2 0h1m1 0h2m5 0h1m3 0h3m2 0h1m4 0h1m2 0h5m1 0h1m1 0h1m1 0h1m8 0h1m3 0h1m1 0h1m2 0h5m2 0h1m4 0h1m3 0h4m10 0h2m3 0h1m1 0h1m3 0h3m1 0h1m3 0h1m5 0h3m4 0h1m3 0h3m1 0h1m6 0h1m1 0h1m4 0h1m4 0h1m2 0h1m1 0h1m2 0h2m1 0h2m4 0h1m1 0h2m6 0h1m2 0h3m1 0h2m8 0h2m4 0h2m2 0h1m7 0h3m7 0h3m3 0h3m2 0h2m1 0h1m8 0h1m1 0h2m1 0h1m3 0h1m2 0h2m1 0h1m3 0h2m5 0h2m3 0h1m1 0h1m2 0h2m1 0h1m1 0h1m5 0h1m3 0h1m1 0h1" stroke="#ffff00"/><path d="M9 1.5h1m5 0h1m13 0h1m10 0h1m9 0h1m1 0h1m1 0h2m8 0h1m4 0h1m5 0h1m3 0h2m11 0h1m16 0h1m10 0h1m3 0h1m2 0h1m7 0h1m3 0h1m1 0h1m4 0h1m1 0h1m19 0h1m4 0h1m15 0h1m6 0h1m3 0h2m24 0h1m8 0h1m15 0h1m31 0h1m11 0h1m8 0h1m44 0h1m1 0h1m11 0h1m4 0h1m9 0h1m6 0h1m1 0h1m30 0h1m5 0h1m3 0h1m6 0h1m15 0h1m4 0h1m6 0h1m22 0h1m12 0h1m2 0h1m1 0h1m3 0h1m6 0h1m6 0h1m8 0h1m5 0h2m11 0h1m9 0h1m3 0h1m2 0h1m17 0h1m48 0h1m8 0h1m4 0h1m5 0h1m10 0h1m7 0h1m1 0h1m17 0h3m3 0h1m1 0h1m2 0h1m6 0h1m5 0h1m30 0h1m1 0h1m1 0h1m2 0h1" stroke="#a8a014"/><path d="M0 1.5h1m1 0h2m8 0h2m4 0h1m3 0h2m3 0h1m3 0h1m3 0h1m9 0h1m7 0h1m6 0h3m2 0h1m1 0h1m6 0h1m1 0h1m9 0h2m3 0h1m3 0h1m14 0h2m3 0h1m15 0h1m5 0h1m2 0h1m3 0h1m6 0h1m4 0h1m1 0h1m2 0h1m2 0h2m6 0h1m6 0h1m1 0h1m4 0h1m18 0h1m2 0h1m2 0h1m6 0h1m1 0h2m6 0h3m1 0h1m5 0h1m3 0h1m4 0h1m1 0h2m5 0h1m2 0h5m4 0h1m2 0h1m1 0h1m4 0h2m4 0h2m1 0h3m3 0h2m1 0h1m10 0h4m3 0h1m2 0h1m6 0h2m1 0h1m2 0h3m6 0h1m1 0h1m8 0h1m1 0h1m5 0h1m5 0h1m2 0h1m1 0h3m1 0h1m5 0h3m4 0h1m3 0h2m1 0h1m4 0h1m8 0h1m3 0h1m2 0h1m1 0h1m3 0h1m6 0h1m3 0h1m4 0h3m2 0h2m2 0h1m1 0h1m1 0h1m3 0h1m3 0h1m11 0h2m1 0h1m5 0h2m1 0h1m1 0h1m3 0h1m5 0h1m1 0h1m1 0h1m2 0h2m1 0h1m2 0h1m3 0h1m1 0h1m11 0h4m1 0h2m5 0h1m2 0h1m4 0h1m4 0h1m2 0h1m1 0h1m1 0h1m6 0h1m4 0h1m8 0h1m1 0h3m6 0h1m1 0h3m3 0h1m1 0h1m3 0h1m1 0h1m6 0h1m3 0h1m3 0h2m2 0h1m2 0h3m1 0h1m2 0h1m4 0h1m2 0h1m2 0h2m1 0h1m12 0h2m1 0h2m7 0h1m1 0h1m6 0h2m3 0h1m3 0h1m1 0h1m3 0h2m12 0h1m7 0h1m5 0h2m2 0h2m2 0h1m7 0h1m4 0h2m2 0h1m4 0h1m2 0h1" stroke="#180810"/><path d="M7 1.5h1m28 0h1m5 0h1m8 0h1m49 0h1m53 0h1m4 0h1m1 0h1m6 0h1m6 0h1m16 0h1m29 0h1m15 0h1m8 0h1m3 0h1m1 0h1m12 0h1m9 0h1m25 0h1m12 0h1m3 0h1m32 0h1m22 0h1m6 0h1m62 0h1m13 0h1m5 0h1m47 0h1m25 0h1m1 0h1m2 0h1m9 0h1m13 0h2m3 0h2m25 0h1m27 0h1m1 0h1m30 0h1m13 0h1m65 0h1m13 0h1" stroke="#f4d080"/></g>
<g id="t13_0"><path d="M0 1.5h1m4 0h1m1 0h1m3 0h1m4 0h2m4 0h2m2 0h1m2 0h2m1 0h1m3 0h1m1 0h1m1 0h1m1 0h1m1 0h3m2 0h4m2 0h3m9 0h2m3 0h2m6 0h2m3 0h1m2 0h1m2 0h1m1 0h2m1 0h2m4 0h1m4 0h1m2 0h2m8 0h5m3 0h1m3 0h1m3 0h3m3 0h3m2 0h2m2 0h1m2 0h3m1 0h2m5 0h1m1 0h2m2 0h1m4 0h2m1 0h1m2 0h1m5 0h2m7 0h1m1 0h1m1 0h1m8 0h1m1 0h5m1 0h1m4 0h1m3 0h8m1 0h1m4 0h1m1 0h1m1 0h1m1 0h3m8 0h2m1 0h2m1 0h3m2 0h2m9 0h6m7 0h2m3 0h1m1 0h2m1 0h1m1 0h1m1 0h2m1 0h1m1 0h1m6 0h1m4 0h3m4 0h1m2 0h3m1 0h1m1 0h2m1 0h1m3 0h1m1 0h2m4 0h1m1 0h3m3 0h1m2 0h4m4 0h1m1 0h1m1 0h1m1 0h2m6 0h1m7 0h1m3 0h1m3 0h2m2 0h3m2 0h1m1 0h1m1 0h3m2 0h1m2 0h1m1 0h1m4 0h1m1 0h1m1 0h2m1 0h2m1 0h4m1 0h1m1 0h1m2 0h2m1 0h1m2 0h1m3 0h1m2 0h3m1 0h2m6 0h1m1 0h1m5 0h4m8 0h1m1 0h2m1 0h1m1 0h3m1 0h9m1 0h1m2 0h1m1 0h1m2 0h2m1 0h2m4 0h1m3 0h3m1 0h1m1 0h3m1 0h5m4 0h2m2 0h5m1 0h2m1 0h1m2 0h1m1 0h2m1 0h1m1 0h1m6 0h6m1 0h3m4 0h3m1 0h1m3 0h4m4 0h1m2 0h3m5 0h1m4 0h2m4 0h1m2 0h1m1 0h1m2 0h2m6 0h1m1 0h1m2 0h1m2 0h3m1 0h2m1 0h4m1 0h3m1 0h2m1 0h2m2 0h1m4 0h1m1 0h1m2 0h6m2 0h1m1 0h6m1 0h2m1 0h1m3 0h1m1 0h1m1 0h4m1 0h1m2 0h2m3 0h1m3 0h1m1 0h5m1 0h2m3 0h1" stroke="#ffff00"/><path d="M8 1.5h1m11 0h1m6 0h1m11 0h1m1 0h1m1 0h1m4 0h1m4 0h1m17 0h1m5 0h1m6 0h1m1 0h2m4 0h1m2 0h1m4 0h1m8 0h1m2 0h1m2 0h3m7 0h1m1 0h1m2 0h1m9 0h1m4 0h2m14 0h1m1 0h2m4 0h1m5 0h1m7 0h1m7 0h1m1 0h2m8 0h2m15 0h3m29 0h1m2 0h1m17 0h1m15 0h2m1 0h1m6 0h1m16 0h1m1 0h1m8 0h2m1 0h1m14 0h2m4 0h2m3 0h1m5 0h1m2 0h1m4 0h1m2 0h1m1 0h1m10 0h2m3 0h2m4 0h1m9 0h1m4 0h1m3 0h1m3 0h1m20 0h1m4 0h1m1 0h1m1 0h2m21 0h1m1 0h1m15 0h1m3 0h1m5 0h1m18 0h1m10 0h1m6 0h1m3 0h1m5 0h1m11 0h2m10 0h1m2 0h1m6 0h1m11 0h1m10 0h1m2 0h1m16 0h1m2 0h1m3 0h2m20 0h1m15 0h1m14 0h1m3 0h1m26 0h1m3 0h1m16 0h1m15 0h1m3 0h1m1 0h1" stroke="#a8a014"/><path d="M1 1.5h2m1 0h1m1 0h1m2 0h1m2 0h2m11 0h1m2 0h1m6 0h1m1 0h1m20 0h1m2 0h6m7 0h2m6 0h2m5 0h2m8 0h1m3 0h2m1 0h1m7 0h1m3 0h2m9 0h1m1 0h1m7 0h1m9 0h1m2 0h1m4 0h1m4 0h1m3 0h1m3 0h1m1 0h1m5 0h1m5 0h1m2 0h1m4 0h1m5 0h1m1 0h1m4 0h1m18 0h1m12 0h1m2 0h1m1 0h1m3 0h1m7 0h1m1 0h1m15 0h1m3 0h2m1 0h1m7 0h1m3 0h1m4 0h1m7 0h1m4 0h1m3 0h1m1 0h1m4 0h2m7 0h1m2 0h2m8 0h1m1 0h1m3 0h1m22 0h1m10 0h1m2 0h1m7 0h1m4 0h1m2 0h1m1 0h1m7 0h1m2 0h1m9 0h1m1 0h1m1 0h4m6 0h1m22 0h1m9 0h1m2 0h1m1 0h1m3 0h1m3 0h1m4 0h1m3 0h2m3 0h1m8 0h1m9 0h1m1 0h1m5 0h1m2 0h1m3 0h2m3 0h1m6 0h1m9 0h1m1 0h1m10 0h1m10 0h1m1 0h1m2 0h3m1 0h1m10 0h2m7 0h1m1 0h1m4 0h1m9 0h1m1 0h2m2 0h1m5 0h2m1 0h1m1 0h2m4 0h1m2 0h3m2 0h1m1 0h1m1 0h1m2 0h2m3 0h1m14 0h1m3 0h1m3 0h2m14 0h1m11 0h2m2 0h1m6 0h1m1 0h2m3 0h1m2 0h3m1 0h1m5 0h1m4 0h1" stroke="#180810"/><path d="M21 1.5h1m12 0h1m19 0h1m5 0h1m18 0h1m33 0h1m19 0h1m39 0h1m7 0h1m3 0h2m9 0h1m5 0h1m6 0h1m16 0h1m17 0h1m8 0h1m3 0h1m44 0h1m19 0h1m16 0h1m21 0h1m2 0h1m12 0h1m11 0h1m9 0h1m21 0h1m11 0h1m22 0h2m6 0h1m3 0h1m13 0h2m89 0h1m12 0h1m32 0h2m39 0h1m32 0h1m1 0h2m16 0h1m44 0h1" stroke="#f4d080"/></g>
<g id="t14_0"><path d="M0 1.5h1m1 0h2m3 0h1m1 0h1m1 0h1m2 0h1m2 0h2m1 0h2m2 0h1m9 0h2m3 0h7m2 0h3m2 0h1m6 0h3m1 0h4m1 0h4m1 0h1m1 0h2m2 0h1m1 0h4m3 0h1m1 0h2m2 0h3m4 0h4m1 0h1m1 0h1m1 0h2m1 0h2m4 0h2m2 0h3m1 0h3m1 0h1m1 0h3m2 0h2m1 0h1m1 0h1m2 0h5m1 0h1m1 0h3m2 0h2m1 0h2m2 0h1m5 0h3m1 0h1m1 0h3m2 0h2m1 0h2m1 0h2m1 0h1m1 0h1m3 0h2m2 0h2m1 0h2m1 0h1m1 0h2m2 0h1m2 0h2m2 0h1m2 0h3m5 0h6m5 0h1m2 0h1m1 0h1m2 0h1m1 0h1m2 0h2m2 0h2m2 0h7m1 0h1m1 0h1m2 0h2m2 0h2m1 0h2m2 0h2m2 0h2m1 0h5m1 0h2m1 0h2m1 0h1m2 0h1m2 0h1m5 0h1m2 0h1m2 0h2m3 0h3m4 0h2m4 0h1m1 0h2m2 0h2m1 0h1m2 0h2m2 0h3m1 0h4m1 0h2m1 0h1m1 0h2m2 0h1m1 0h1m1 0h3m2 0h2m5 0h1m3 0h1m1 0h1m5 0h2m1 0h1m3 0h2m1 0h2m2 0h1m2 0h4m3 0h1m1 0h1m3 0h5m1 0h3m1 0h1m1 0h2m1 0h5m1 0h3m1 0h3m7 0h1m1 0h2m2 0h2m1 0h1m2 0h4m4 0h1m1 0h1m1 0h1m1 0h3m1 0h1m1 0h1m1 0h2m2 0h1m1 0h1m1 0h1m1 0h1m1 0h2m2 0h1m1 0h1m1 0h3m2 0h1m1 0h1m1 0h1m1 0h3m2 0h1m1 0h2m1 0h6m1 0h1m4 0h2m3 0h3m1 0h2m1 0h1m1 0h1m3 0h2m3 0h1m1 0h1m4 0h4m2 0h2m2 0h2m3 0h2m1 0h1m1 0h4m3 0h2m1 0h1m5 0h2m1 0h3m1 0h1m4 0h1m1 0h1m3 0h1m1 0h4m1 0h1m4 0h8m1 0h3m3 0h1m1 0h2m1 0h1m1 0h4m3 0h2m1 0h5m1 0h4m3 0h4m2 0h4m1 0h1m1 0h1m4 0h1m2 0h1m2 0h4m1 0h3m2 0h2m7 0h1m1 0h1m2 0h1m1 0h1m3 0h1m1 0h1m1 0h2" stroke="#ffff00"/><path d="M4 1.5h2m9 0h2m6 0h1m2 0h1m1 0h2m24 0h3m2 0h1m19 0h1m1 0h1m4 0h2m2 0h1m3 0h1m3 0h2m13 0h1m4 0h1m4 0h1m9 0h1m7 0h1m1 0h1m18 0h1m6 0h1m2 0h1m3 0h1m5 0h1m13 0h2m4 0h1m2 0h1m7 0h1m7 0h1m2 0h1m14 0h1m6 0h1m1 0h1m2 0h1m1 0h1m6 0h1m2 0h1m10 0h1m2 0h1m10 0h1m6 0h1m11 0h1m2 0h1m1 0h2m3 0h1m12 0h1m6 0h1m5 0h1m1 0h1m8 0h2m3 0h1m19 0h1m11 0h1m3 0h1m5 0h1m2 0h2m4 0h2m3 0h1m2 0h1m31 0h1m5 0h1m7 0h1m10 0h2m4 0h2m11 0h1m9 0h1m2 0h1m2 0h1m1 0h1m3 0h1m3 0h1m1 0h1m5 0h1m16 0h1m6 0h1m9 0h1m3 0h1m6 0h2m18 0h1m7 0h1m12 0h1m8 0h1m6 0h1m8 0h2m2 0h1m8 0h1m9 0h1m12 0h1m4 0h1m16 0h1m15 0h1m17 0h1m5 0h1m2 0h1m7 0h1m1 0h2m7 0h1" stroke="#a8a014"/><path d="M13 1.5h1m11 0h1m4 0h4m3 0h1m13 0h2m15 0h1m4 0h1m1 0h1m2 0h1m14 0h1m7 0h1m17 0h1m34 0h1m4 0h1m5 0h2m4 0h1m6 0h1m7 0h1m5 0h1m5 0h1m2 0h1m8 0h1m5 0h2m10 0h1m1 0h1m1 0h1m7 0h1m1 0h2m1 0h1m4 0h1m4 0h1m8 0h1m7 0h1m3 0h1m3 0h2m2 0h1m6 0h2m16 0h1m8 0h2m5 0h1m3 0h1m6 0h1m12 0h1m2 0h1m5 0h1m9 0h1m2 0h1m17 0h1m18 0h1m3 0h1m6 0h1m1 0h1m11 0h1m11 0h1m1 0h1m12 0h1m4 0h3m1 0h2m16 0h3m12 0h1m5 0h1m5 0h1m9 0h1m8 0h1m6 0h1m14 0h1m4 0h2m13 0h1m8 0h1m11 0h2m2 0h1m1 0h1m18 0h1m4 0h1m6 0h1m1 0h1m12 0h1m4 0h1m16 0h1m14 0h1m10 0h1m1 0h1m4 0h2m9 0h1m4 0h1m15 0h1m5 0h1m1 0h1m1 0h1m6 0h1" stroke="#180810"/><path d="M12 1.5h1m14 0h1m8 0h1m1 0h1m8 0h1m10 0h1m47 0h1m3 0h1m6 0h1m4 0h1m23 0h1m5 0h1m36 0h1m18 0h1m14 0h1m7 0h1m24 0h1m2 0h1m27 0h1m16 0h1m17 0h1m1 0h1m10 0h1m5 0h2m5 0h1m14 0h1m12 0h1m8 0h2m5 0h1m6 0h1m2 0h2m18 0h1m11 0h2m5 0h1m30 0h1m6 0h1m12 0h1m7 0h1m18 0h1m22 0h1m14 0h1m11 0h1m8 0h1m6 0h1m6 0h1m12 0h1m1 0h1m9 0h1m2 0h1m1 0h1m11 0h1m2 0h1m3 0h1m9 0h1m16 0h1m4 0h1m17 0h1m17 0h1m1 0h1m3 0h2m15 0h1m5 0h2m14 0h1m1 0h1" stroke="#f4d080"/></g>
<g id="t15_0"><path d="M1 1.5h2m1 0h2m2 0h1m4 0h1m2 0h3m2 0h1m2 0h5m1 0h4m1 0h3m1 0h5m3 0h1m2 0h1m1 0h1m2 0h1m1 0h2m2 0h2m1 0h1m4 0h1m1 0h2m4 0h1m1 0h2m2 0h6m1 0h1m4 0h2m1 0h1m2 0h2m4 0h1m1 0h1m3 0h1m2 0h2m3 0h4m3 0h1m6 0h2m1 0h1m1 0h3m2 0h4m3 0h1m1 0h2m4 0h1m1 0h2m1 0h3m3 0h3m1 0h5m1 0h3m1 0h1m1 0h1m1 0h3m1 0h1m1 0h2m1 0h2m1 0h1m1 0h4m1 0h8m2 0h2m1 0h1m1 0h1m7 0h2m1 0h2m4 0h1m1 0h4m1 0h4m1 0h2m1 0h1m3 0h1m2 0h2m1 0h1m1 0h2m1 0h1m2 0h1m1 0h1m2 0h1m2 0h1m1 0h1m1 0h2m1 0h2m2 0h3m1 0h1m1 0h1m2 0h7m1 0h3m1 0h8m1 0h4m2 0h1m3 0h1m1 0h5m1 0h4m1 0h1m3 0h1m2 0h3m1 0h2m1 0h1m1 0h3m1 0h1m1 0h2m1 0h2m2 0h1m1 0h2m1 0h7m1 0h4m4 0h1m1 0h1m1 0h1m2 0h2m1 0h1m2 0h5m1 0h2m1 0h1m2 0h2m2 0h1m5 0h3m2 0h6m1 0h6m2 0h2m2 0h2m2 0h6m1 0h1m1 0h6m1 0h2m1 0h7m1 0h3m1 0h2m1 0h1m4 0h6m2 0h1m1 0h1m1 0h1m3 0h6m1 0h2m1 0h1m3 0h1m2 0h3m1 0h1m2 0h1m3 0h3m1 0h4m2 0h1m1 0h1m1 0h3m1 0h3m1 0h1m1 0h2m1 0h2m2 0h3m1 0h1m3 0h8m3 0h3m1 0h2m1 0h1m3 0h2m2 0h3m1 0h2m2 0h2m1 0h1m1 0h4m3 0h2m2 0h2m1 0h5m2 0h1m1 0h1m3 0h6m1 0h2m1 0h2m1 0h1m3 0h4m2 0h1m2 0h8m4 0h2m2 0h1m1 0h3m2 0h1m1 0h2m2 0h1m1 0h3m4 0h3m1 0h2m1 0h2m1 0h3m7 0h2m4 0h1m5 0h5m2 0h2m1 0h1m1 0h3m1 0h2" stroke="#ffff00"/><path d="M7 1.5h1m15 0h1m20 0h3m2 0h1m1 0h1m4 0h1m3 0h1m4 0h1m2 0h1m4 0h4m20 0h1m6 0h1m1 0h1m4 0h1m3 0h1m2 0h1m6 0h1m1 0h1m6 0h1m8 0h2m5 0h1m2 0h1m10 0h1m3 0h1m5 0h1m5 0h1m3 0h1m7 0h1m4 0h1m18 0h2m2 0h1m1 0h1m1 0h1m1 0h1m2 0h2m5 0h1m1 0h1m7 0h1m4 0h1m2 0h1m1 0h1m3 0h1m3 0h1m1 0h1m5 0h1m3 0h1m7 0h1m2 0h1m2 0h2m3 0h1m1 0h1m1 0h2m29 0h1m2 0h1m5 0h1m18 0h1m7 0h1m5 0h2m1 0h1m10 0h1m5 0h2m2 0h1m1 0h1m2 0h1m2 0h1m11 0h1m5 0h1m3 0h1m6 0h1m7 0h1m6 0h2m3 0h1m3 0h1m8 0h1m6 0h1m14 0h1m2 0h1m3 0h2m7 0h1m3 0h1m16 0h2m1 0h1m9 0h1m1 0h1m9 0h1m3 0h1m7 0h1m4 0h1m7 0h1m1 0h1m1 0h1m10 0h1m10 0h1m16 0h1m4 0h3m3 0h1m11 0h1m2 0h2m6 0h1m7 0h2m6 0h1m1 0h1m9 0h1m1 0h2m2 0h1m2 0h1m9 0h2m7 0h2m6 0h1m6 0h1m1 0h1m3 0h1m3 0h1m1 0h1m3 0h1m1 0h1m9 0h1m5 0h1" stroke="#a8a014"/><path d="M0 1.5h1m2 0h1m6 0h1m3 0h2m3 0h1m9 0h1m8 0h1m9 0h1m4 0h1m24 0h1m3 0h1m8 0h2m1 0h1m10 0h1m4 0h1m3 0h1m5 0h1m10 0h2m16 0h1m1 0h1m9 0h1m8 0h1m17 0h1m38 0h1m9 0h1m20 0h1m2 0h1m7 0h1m1 0h1m36 0h1m20 0h1m14 0h1m2 0h2m2 0h1m3 0h1m13 0h1m36 0h1m6 0h1m4 0h1m15 0h1m41 0h1m7 0h1m8 0h2m24 0h1m2 0h1m10 0h1m5 0h1m18 0h1m5 0h1m5 0h1m17 0h2m7 0h1m2 0h1m4 0h1m6 0h2m41 0h1m6 0h1m8 0h1m9 0h1m5 0h1m5 0h1m8 0h1m4 0h1m5 0h1m18 0h1m4 0h2m1 0h1m6 0h1" stroke="#180810"/><path d="M9 1.5h1m1 0h1m8 0h1m1 0h1m36 0h1m6 0h1m22 0h1m9 0h1m3 0h1m4 0h1m3 0h1m6 0h1m6 0h1m2 0h1m9 0h1m16 0h1m1 0h1m27 0h1m7 0h1m5 0h1m6 0h1m17 0h1m31 0h1m16 0h1m2 0h1m4 0h1m38 0h1m4 0h2m18 0h1m3 0h1m27 0h1m12 0h1m2 0h1m28 0h1m1 0h1m1 0h1m1 0h1m22 0h1m11 0h1m46 0h2m11 0h1m4 0h1m5 0h2m7 0h1m7 0h1m18 0h1m22 0h1m4 0h1m4 0h1m11 0h1m11 0h1m9 0h1m28 0h1m26 0h1m1 0h1m9 0h1m19 0h1m7 0h1m13 0h1" stroke="#f4d080"/></g>
<g id="t16_0"><path d="M0 1.5h3m1 0h2m1 0h2m3 0h2m1 0h4m1 0h2m5 0h2m1 0h4m1 0h5m1 0h3m2 0h2m1 0h8m1 0h4m1 0h2m3 0h1m3 0h2m1 0h2m4 0h5m1 0h10m1 0h5m3 0h1m1 0h2m1 0h2m2 0h2m2 0h3m1 0h2m1 0h2m1 0h1m1 0h2m1 0h4m1 0h2m5 0h11m1 0h2m1 0h3m1 0h2m1 0h7m1 0h2m2 0h1m1 0h4m1 0h1m2 0h3m1 0h1m1 0h4m3 0h1m2 0h1m1 0h2m1 0h3m3 0h4m1 0h3m1 0h1m2 0h4m3 0h3m1 0h2m1 0h8m1 0h1m1 0h11m4 0h1m1 0h2m2 0h2m1 0h1m1 0h1m2 0h1m1 0h2m3 0h1m1 0h1m2 0h1m1 0h1m1 0h4m4 0h1m2 0h4m3 0h3m2 0h1m1 0h1m1 0h1m1 0h3m1 0h4m2 0h4m1 0h3m1 0h1m3 0h3m3 0h2m1 0h1m1 0h7m2 0h3m1 0h1m1 0h3m1 0h2m1 0h2m2 0h3m1 0h1m1 0h2m1 0h2m1 0h3m1 0h3m1 0h4m2 0h1m1 0h6m1 0h1m1 0h3m2 0h5m2 0h2m1 0h3m1 0h4m1 0h2m1 0h2m1 0h3m1 0h1m1 0h1m1 0h2m3 0h3m1 0h1m2 0h1m1 0h2m1 0h8m1 0h13m1 0h1m1 0h3m1 0h2m1 0h8m2 0h4m1 0h2m1 0h1m3 0h4m1 0h1m2 0h1m1 0h1m2 0h4m1 0h1m1 0h3m2 0h6m1 0h1m1 0h5m2 0h7m5 0h1m1 0h4m1 0h2m1 0h9m1 0h2m2 0h6m1 0h1m1 0h1m1 0h6m1 0h2m1 0h3m1 0h2m1 0h4m4 0h7m1 0h4m1 0h4m2 0h8m1 0h2m2 0h1m2 0h3m1 0h7m3 0h4m1 0h1m4 0h1m1 0h4m1 0h9m1 0h1m1 0h1m1 0h2m1 0h2m3 0h4m3 0h1m1 0h3m1 0h2m3 0h2m1 0h1m1 0h2" stroke="#ffff00"/><path d="M6 1.5h1m2 0h1m1 0h1m7 0h1m3 0h3m3 0h1m4 0h1m5 0h1m3 0h1m3 0h1m16 0h2m4 0h1m2 0h1m5 0h1m23 0h2m4 0h1m6 0h1m4 0h1m2 0h1m2 0h1m14 0h2m12 0h1m17 0h1m3 0h1m6 0h1m1 0h2m5 0h1m4 0h1m1 0h1m1 0h2m4 0h1m3 0h3m10 0h2m24 0h1m12 0h1m3 0h1m2 0h1m3 0h1m4 0h1m4 0h3m4 0h1m14 0h1m4 0h3m3 0h1m4 0h1m1 0h1m8 0h2m4 0h1m3 0h1m1 0h2m5 0h2m2 0h1m1 0h1m7 0h1m4 0h1m8 0h1m2 0h2m3 0h1m1 0h1m9 0h1m18 0h1m5 0h1m6 0h2m2 0h1m8 0h1m2 0h1m2 0h1m3 0h1m3 0h1m2 0h2m6 0h1m14 0h1m15 0h1m15 0h2m7 0h1m1 0h2m7 0h1m5 0h1m6 0h1m3 0h2m6 0h1m1 0h1m5 0h2m7 0h4m20 0h1m2 0h2m20 0h1m11 0h1m1 0h1m8 0h1m4 0h1m14 0h1m6 0h1m3 0h1m7 0h3m6 0h3m2 0h1m4 0h1m9 0h1m1 0h1m4 0h1m9 0h3m5 0h1m3 0h1m5 0h1" stroke="#a8a014"/><path d="M26 1.5h1m35 0h1m34 0h1m15 0h1m16 0h1m2 0h1m4 0h1m2 0h2m17 0h1m20 0h1m11 0h1m31 0h1m7 0h1m5 0h1m2 0h1m22 0h1m1 0h1m28 0h1m1 0h1m4 0h1m19 0h1m152 0h1m34 0h1m74 0h1m51 0h1m5 0h1m32 0h2m55 0h1m20 0h1" stroke="#180810"/><path d="M3 1.5h1m6 0h1m3 0h1m7 0h1m34 0h1m9 0h1m1 0h2m6 0h2m7 0h1m20 0h1m10 0h1m48 0h1m10 0h1m22 0h1m5 0h1m13 0h1m12 0h2m15 0h1m16 0h1m10 0h1m1 0h1m2 0h1m6 0h1m12 0h2m2 0h1m12 0h1m9 0h1m22 0h1m15 0h1m9 0h1m15 0h1m10 0h1m4 0h2m1 0h1m8 0h1m4 0h1m13 0h1m16 0h1m10 0h1m2 0h1m4 0h1m22 0h1m30 0h1m4 0h1m2 0h1m1 0h1m7 0h1m36 0h1m4 0h1m2 0h1m20 0h1m1 0h1m1 0h1m13 0h1m10 0h1m18 0h1m14 0h1m19 0h1m25 0h1m5 0h2m16 0h1m1 0h1" stroke="#f4d080"/></g>
<g id="t1_1"><path d="M140 1.5h1m62 0h1m38 0h1m17 0h1m153 0h1m7 0h1m126 0h1m5 0h1m14 0h1m31 0h1" stroke="#ffff00"/><path d="M694 1.5h1" stroke="#a8a014"/><path d="M6 1.5h1m1 0h1m13 0h1m2 0h1m10 0h2m2 0h1m3 0h1m13 0h1m2 0h1m7 0h1m1 0h1m2 0h1m21 0h1m10 0h1m5 0h1m3 0h2m23 0h1m15 0h1m16 0h1m7 0h1m14 0h1m30 0h1m14 0h1m16 0h1m18 0h1m3 0h1m6 0h1m10 0h2m21 0h1m1 0h1m2 0h1m4 0h1m16 0h1m2 0h1m37 0h1m21 0h1m11 0h1m34 0h1m14 0h3m6 0h1m5 0h1m4 0h1m7 0h1m8 0h2m5 0h1m18 0h1m13 0h1m6 0h1m5 0h1m28 0h1m18 0h2m19 0h1m18 0h1m11 0h1m41 0h1m9 0h2m1 0h1m22 0h1" stroke="#180810"/><path d="M639 1.5h1" stroke="#f4d080"/></g>
<g id="t2_1"><path d="M55 1.5h1m23 0h1m13 0h1m1 0h1m49 0h1m15 0h1m6 0h1m16 0h1m102 0h1m1 0h1m111 0h1m32 0h1m5 0h1m17 0h1m126 0h1m8 0h1m94 0h1" stroke="#ffff00"/><path d="M114 1.5h1m147 0h1m327 0h1" stroke="#a8a014"/><path d="M13 1.5h2m3 0h1m4 0h1m17 0h1m7 0h1m8 0h1m4 0h3m19 0h1m8 0h1m13 0h1m13 0h1m46 0h1m11 0h1m5 0h1m1 0h1m7 0h1m11 0h2m2 0h1m5 0h1m2 0h1m10 0h1m6 0h1m11 0h1m11 0h1m27 0h2m2 0h1m10 0h2m21 0h1m12 0h1m1 0h1m5 0h1m15 0h1m5 0h1m8 0h1m23 0h1m15 0h1m9 0h1m7 0h1m2 0h1m6 0h1m15 0h1m12 0h1m2 0h1m7 0h3m13 0h1m3 0h1m3 0h3m7 0h1m8 0h1m13 0h1m18 0h1m10 0h1m30 0h1m9 0h1m7 0h1m7 0h2m24 0h1m4 0h1m38 0h1m1 0h1m28 0h1m6 0h1" stroke="#180810"/><path d="M579 1.5h1m22 0h1m55 0h1" stroke="#f4d080"/></g>
<g id="t3_1"><path d="M1 1.5h1m4 0h1m3 0h1m1 0h1m12 0h1m7 0h1m31 0h1m19 0h1m19 0h1m34 0h1m11 0h1m5 0h1m37 0h1m30 0h1m84 0h1m6 0h1m32 0h1m6 0h1m12 0h1m18 0h2m3 0h1m8 0h1m3 0h1m10 0h1m31 0h1m12 0h1m68 0h1m25 0h1m8 0h1m37 0h1m54 0h2m26 0h1m19 0h1m2 0h1m6 0h1m11 0h1m2 0h1" stroke="#ffff00"/><path d="M0 1.5h1m81 0h1m31 0h1m85 0h1m7 0h1m2 0h1m4 0h1m156 0h1m116 0h1m27 0h1m45 0h1m16 0h2m14 0h1m59 0h1m86 0h1" stroke="#a8a014"/><path d="M11 1.5h1m1 0h1m20 0h1m4 0h1m6 0h1m2 0h1m16 0h1m2 0h1m9 0h1m3 0h1m8 0h1m32 0h1m11 0h1m9 0h1m1 0h1m6 0h1m3 0h1m11 0h1m8 0h1m3 0h1m8 0h1m17 0h1m34 0h1m25 0h1m4 0h1m34 0h1m4 0h1m2 0h1m6 0h1m4 0h1m4 0h1m16 0h1m65 0h1m1 0h1m2 0h1m2 0h1m31 0h1m8 0h1m5 0h1m28 0h1m6 0h1m9 0h1m5 0h1m2 0h1m6 0h1m1 0h1m2 0h1m3 0h2m30 0h1m5 0h1m14 0h1m8 0h1m8 0h1m5 0h1m7 0h1m13 0h1m4 0h1m2 0h1m11 0h1m16 0h1m8 0h1m3 0h1m1 0h1m4 0h1m4 0h1m10 0h1m6 0h1m3 0h1m15 0h1m1 0h1m4 0h1m2 0h2" stroke="#180810"/><path d="M84 1.5h1m98 0h1m226 0h1m69 0h1m13 0h1m41 0h1" stroke="#f4d080"/></g>
<g id="t4_1"><path d="M3 1.5h1m10 0h1m2 0h1m6 0h1m8 0h1m33 0h1m1 0h1m8 0h1m15 0h1m34 0h1m33 0h1m1 0h1m7 0h1m4 0h1m3 0h1m25 0h1m8 0h1m1 0h1m15 0h1m16 0h1m1 0h1m7 0h1m23 0h1m6 0h1m33 0h1m7 0h1m2 0h2m17 0h1m1 0h1m10 0h1m9 0h1m26 0h1m3 0h1m2 0h1m33 0h1m4 0h1m1 0h1m8 0h1m9 0h1m28 0h1m21 0h1m18 0h1m3 0h1m1 0h1m17 0h1m7 0h1m18 0h1m8 0h1m21 0h1m20 0h1m1 0h1m28 0h1m1 0h1m23 0h1m8 0h1" stroke="#ffff00"/><path d="M2 1.5h1m60 0h1m87 0h1m29 0h1m46 0h1m175 0h1m68 0h1m34 0h1m13 0h1m3 0h1m26 0h1m75 0h1" stroke="#a8a014"/><path d="M0 1.5h1m5 0h2m3 0h1m11 0h1m1 0h1m6 0h1m25 0h1m5 0h1m7 0h1m1 0h1m9 0h1m2 0h1m14 0h1m3 0h1m1 0h3m14 0h1m7 0h1m9 0h1m32 0h1m2 0h1m27 0h1m7 0h2m9 0h1m3 0h2m7 0h1m1 0h1m16 0h1m18 0h1m19 0h1m10 0h1m6 0h1m9 0h1m11 0h1m5 0h1m1 0h1m48 0h1m27 0h1m14 0h1m34 0h1m9 0h1m16 0h2m3 0h1m33 0h1m45 0h1m6 0h1m28 0h1m13 0h1m2 0h1m6 0h1m27 0h1m9 0h1m26 0h1m2 0h1m12 0h1m7 0h2m16 0h1" stroke="#180810"/><path d="M305 1.5h1m79 0h1m180 0h1m104 0h1m45 0h1m41 0h1" stroke="#f4d080"/></g>
<g id="t5_1"><path d="M11 1.5h1m14 0h1m12 0h1m1 0h1m1 0h1m8 0h1m4 0h1m8 0h1m1 0h1m12 0h1m62 0h1m4 0h1m2 0h1m48 0h1m3 0h1m17 0h1m50 0h1m3 0h1m3 0h1m1 0h1m1 0h4m18 0h1m15 0h1m44 0h1m20 0h1m3 0h1m23 0h1m23 0h1m2 0h1m1 0h1m2 0h1m3 0h1m18 0h1m4 0h1m2 0h1m4 0h2m3 0h1m16 0h1m3 0h1m14 0h1m3 0h1m14 0h1m3 0h1m18 0h2m12 0h1m10 0h2m1 0h1m3 0h1m6 0h1m1 0h1m4 0h1m2 0h3m19 0h1m29 0h1m15 0h1m6 0h2m15 0h1m15 0h1m5 0h1m4 0h1m16 0h1" stroke="#ffff00"/><path d="M267 1.5h1m41 0h1m4 0h1m23 0h1m9 0h1m146 0h1m167 0h1m1 0h1m17 0h1m14 0h1m10 0h1m2 0h1" stroke="#a8a014"/><path d="M15 1.5h1m3 0h1m39 0h1m2 0h1m4 0h1m2 0h1m5 0h1m10 0h1m5 0h1m24 0h1m6 0h1m1 0h1m39 0h1m1 0h1m10 0h1m1 0h1m8 0h2m1 0h1m13 0h1m6 0h1m14 0h1m9 0h1m6 0h1m1 0h1m3 0h1m15 0h1m11 0h1m18 0h1m1 0h1m41 0h1m8 0h1m3 0h1m20 0h1m12 0h1m14 0h1m4 0h1m13 0h1m1 0h1m11 0h1m8 0h1m6 0h1m1 0h1m16 0h1m9 0h1m19 0h1m29 0h2m2 0h2m7 0h1m4 0h1m4 0h1m13 0h1m7 0h1m1 0h1m16 0h1m6 0h2m6 0h1m14 0h1m7 0h1m5 0h1m3 0h1m2 0h1m38 0h1m10 0h1m1 0h1m25 0h1m1 0h1m18 0h1m3 0h1" stroke="#180810"/><path d="M16 1.5h1m218 0h1m43 0h1m13 0h1m26 0h1m26 0h1m8 0h1m9 0h1m181 0h1m101 0h1m89 0h3" stroke="#f4d080"/></g>
<g id="t6_1"><path d="M20 1.5h1m6 0h1m3 0h1m12 0h1m9 0h1m28 0h2m4 0h1m2 0h1m3 0h1m13 0h1m6 0h2m6 0h1m6 0h1m3 0h1m1 0h1m7 0h1m2 0h4m4 0h1m3 0h1m13 0h1m17 0h1m4 0h2m12 0h1m8 0h1m7 0h1m8 0h1m9 0h1m6 0h1m4 0h1m2 0h1m3 0h1m16 0h2m4 0h1m4 0h1m5 0h1m6 0h1m5 0h1m13 0h1m4 0h1m3 0h1m5 0h1m2 0h3m5 0h1m5 0h1m4 0h1m3 0h1m9 0h1m7 0h1m13 0h1m2 0h1m5 0h2m1 0h1m4 0h1m16 0h1m9 0h1m2 0h1m3 0h1m5 0h1m2 0h1m7 0h1m2 0h1m5 0h2m7 0h2m7 0h1m5 0h2m3 0h1m1 0h1m8 0h1m6 0h1m8 0h3m15 0h1m9 0h1m8 0h1m22 0h1m6 0h1m2 0h1m2 0h1m3 0h1m8 0h1m1 0h1m5 0h1m22 0h1m14 0h2m5 0h1m18 0h1m10 0h1m4 0h1m6 0h1m2 0h1m10 0h1m10 0h1m3 0h1m7 0h2" stroke="#ffff00"/><path d="M79 1.5h1m33 0h1m33 0h1m74 0h1m1 0h1m9 0h1m33 0h1m52 0h1m35 0h1m14 0h1m18 0h1m17 0h1m22 0h1m52 0h1m11 0h1m2 0h1m57 0h1m78 0h1m7 0h1m25 0h1m7 0h1m25 0h1m27 0h1m9 0h1m6 0h1" stroke="#a8a014"/><path d="M7 1.5h1m44 0h1m10 0h1m1 0h1m15 0h1m22 0h1m1 0h1m51 0h1m10 0h1m3 0h1m2 0h1m5 0h1m4 0h1m1 0h1m2 0h1m34 0h1m11 0h1m3 0h1m18 0h1m3 0h1m19 0h1m5 0h3m1 0h1m3 0h1m22 0h1m7 0h2m7 0h2m7 0h1m1 0h1m3 0h1m20 0h2m2 0h1m4 0h1m7 0h1m9 0h1m8 0h1m21 0h1m1 0h1m1 0h1m10 0h1m21 0h1m5 0h1m3 0h2m28 0h1m9 0h1m2 0h1m7 0h1m17 0h1m8 0h1m7 0h1m6 0h1m13 0h1m2 0h1m43 0h1m3 0h1m2 0h2m9 0h1m10 0h1m7 0h1m2 0h1m13 0h1m3 0h1m1 0h1m3 0h1m6 0h1m7 0h1m4 0h1m16 0h1m14 0h1" stroke="#180810"/><path d="M53 1.5h1m48 0h1m9 0h1m68 0h1m2 0h1m29 0h1m29 0h1m100 0h1m145 0h1m22 0h1m36 0h1m3 0h1m17 0h1m7 0h1m65 0h1m48 0h1" stroke="#f4d080"/></g>
<g id="t7_1"><path d="M4 1.5h1m7 0h1m5 0h1m2 0h1m3 0h3m2 0h1m9 0h1m8 0h1m7 0h1m4 0h1m2 0h2m2 0h1m9 0h1m1 0h1m2 0h1m8 0h1m18 0h1m10 0h1m15 0h5m4 0h2m1 0h1m1 0h1m3 0h1m3 0h1m13 0h1m1 0h1m4 0h1m13 0h1m6 0h1m22 0h2m6 0h1m19 0h2m1 0h1m2 0h2m3 0h1m7 0h2m5 0h1m10 0h1m3 0h1m8 0h1m9 0h1m6 0h3m3 0h1m24 0h1m4 0h2m1 0h2m1 0h1m1 0h1m5 0h1m1 0h1m11 0h1m11 0h1m2 0h1m13 0h1m1 0h2m1 0h1m1 0h1m2 0h1m1 0h1m3 0h1m3 0h1m3 0h1m1 0h1m9 0h1m5 0h1m1 0h1m1 0h1m10 0h2m3 0h1m10 0h1m1 0h1m5 0h1m6 0h1m12 0h2m3 0h1m2 0h2m19 0h1m6 0h1m6 0h2m1 0h1m2 0h1m8 0h1m9 0h1m9 0h1m4 0h1m3 0h1m3 0h1m5 0h1m4 0h1m1 0h1m5 0h1m1 0h1m5 0h1m1 0h1m12 0h1m11 0h2m27 0h1m5 0h1m2 0h1m3 0h1m4 0h1m1 0h1m10 0h2m11 0h1m1 0h1m1 0h1m4 0h1m5 0h1m6 0h2" stroke="#ffff00"/><path d="M64 1.5h1m13 0h1m32 0h1m10 0h1m67 0h1m2 0h1m14 0h1m21 0h1m5 0h1m13 0h1m27 0h1m18 0h1m11 0h1m1 0h1m3 0h1m13 0h1m107 0h1m21 0h1m25 0h1m6 0h1m12 0h1m27 0h1m21 0h1m21 0h1m17 0h1m20 0h1m38 0h1m28 0h1m2 0h1m6 0h1m32 0h1m24 0h1" stroke="#a8a014"/><path d="M2 1.5h2m2 0h1m1 0h1m11 0h1m2 0h2m3 0h2m11 0h1m5 0h1m4 0h1m1 0h1m4 0h1m15 0h2m6 0h1m6 0h1m1 0h1m5 0h1m1 0h2m2 0h1m2 0h1m1 0h1m3 0h1m5 0h1m7 0h1m1 0h3m2 0h3m8 0h1m1 0h1m4 0h1m5 0h2m2 0h1m1 0h1m1 0h1m2 0h1m1 0h2m6 0h1m17 0h1m6 0h1m6 0h2m2 0h1m12 0h1m3 0h1m6 0h1m7 0h1m5 0h1m2 0h1m1 0h1m4 0h1m11 0h1m8 0h2m8 0h1m1 0h1m1 0h1m3 0h1m10 0h1m10 0h1m1 0h1m4 0h2m3 0h1m3 0h1m1 0h2m9 0h1m5 0h1m9 0h1m2 0h1m2 0h1m1 0h1m4 0h1m16 0h1m7 0h1m2 0h1m7 0h1m1 0h1m2 0h1m7 0h1m3 0h2m2 0h1m7 0h1m3 0h2m2 0h1m8 0h1m1 0h2m1 0h1m7 0h1m1 0h2m2 0h1m9 0h1m3 0h1m1 0h1m13 0h1m20 0h1m4 0h1m2 0h1m9 0h1m1 0h1m2 0h1m2 0h1m1 0h2m4 0h1m1 0h1m3 0h3m1 0h1m3 0h1m5 0h1m1 0h3m1 0h1m4 0h1m3 0h3m2 0h1m6 0h1m12 0h1m1 0h3m1 0h1m1 0h1m2 0h2m4 0h1m5 0h3m3 0h1m1 0h1m2 0h2m1 0h1m3 0h1m1 0h2m1 0h1m1 0h1m3 0h1m1 0h1m2 0h1m10 0h1m2 0h1m3 0h3m2 0h1m1 0h2m1 0h1m2 0h1m1 0h1m10 0h1m11 0h1m5 0h1" stroke="#180810"/><path d="M15 1.5h1m18 0h1m133 0h1m60 0h1m103 0h1m21 0h1m14 0h1m34 0h2m5 0h1m52 0h1m45 0h1m75 0h1m12 0h1m125 0h1" stroke="#f4d080"/></g>
<g id="t8_1"><path d="M4 1.5h1m10 0h2m1 0h1m3 0h2m4 0h1m2 0h1m14 0h1m1 0h2m4 0h1m4 0h1m3 0h1m4 0h1m1 0h1m3 0h1m6 0h2m2 0h1m2 0h3m3 0h1m6 0h1m2 0h3m6 0h1m5 0h1m11 0h1m1 0h1m2 0h1m3 0h1m4 0h1m1 0h3m2 0h1m10 0h1m2 0h2m9 0h2m6 0h1m1 0h1m6 0h1m6 0h1m2 0h1m14 0h2m2 0h1m1 0h1m3 0h1m2 0h1m5 0h1m8 0h1m1 0h1m4 0h2m1 0h1m22 0h1m13 0h1m1 0h1m6 0h1m12 0h1m2 0h2m7 0h1m1 0h1m3 0h1m1 0h2m4 0h1m6 0h1m1 0h2m1 0h1m7 0h2m6 0h1m5 0h1m1 0h1m26 0h1m2 0h1m9 0h1m1 0h2m2 0h1m2 0h1m13 0h1m1 0h2m9 0h2m8 0h1m6 0h2m23 0h1m4 0h2m2 0h1m1 0h2m7 0h1m6 0h1m2 0h1m11 0h2m1 0h1m1 0h1m8 0h1m2 0h1m2 0h1m10 0h1m2 0h1m6 0h1m6 0h1m12 0h1m6 0h1m1 0h1m5 0h1m7 0h2m6 0h1m1 0h1m2 0h1m17 0h1m4 0h1m1 0h1m1 0h1m1 0h1m4 0h1m3 0h1m7 0h1m3 0h1m6 0h1m4 0h1m10 0h1m9 0h1m10 0h1m3 0h1m1 0h1m2 0h1m10 0h1" stroke="#ffff00"/><path d="M19 1.5h1m33 0h1m3 0h1m57 0h1m19 0h1m15 0h1m19 0h1m14 0h1m28 0h1m6 0h1m1 0h1m5 0h1m3 0h1m29 0h1m24 0h1m15 0h1m21 0h1m13 0h1m5 0h1m2 0h1m14 0h1m6 0h1m8 0h1m2 0h1m4 0h1m3 0h1m16 0h1m2 0h1m2 0h1m31 0h1m17 0h1m39 0h1m46 0h1m28 0h1m7 0h1m56 0h1m18 0h1m3 0h1m22 0h1m5 0h1m15 0h1m15 0h1m24 0h1" stroke="#a8a014"/><path d="M5 1.5h1m2 0h2m11 0h1m18 0h2m3 0h1m1 0h1m2 0h1m5 0h1m1 0h1m5 0h1m1 0h1m4 0h1m19 0h1m3 0h1m2 0h1m1 0h1m1 0h1m6 0h3m5 0h1m6 0h1m1 0h1m1 0h1m3 0h1m1 0h1m3 0h2m10 0h1m3 0h2m3 0h1m2 0h1m1 0h1m4 0h1m3 0h2m5 0h2m1 0h2m3 0h1m2 0h2m5 0h1m8 0h1m1 0h1m7 0h2m2 0h1m24 0h1m5 0h2m2 0h1m2 0h1m2 0h1m3 0h2m2 0h1m1 0h2m1 0h1m2 0h2m3 0h2m2 0h2m4 0h1m4 0h2m4 0h1m8 0h1m3 0h1m6 0h3m6 0h1m10 0h1m3 0h1m7 0h1m1 0h1m8 0h2m19 0h1m11 0h1m13 0h2m6 0h2m6 0h1m2 0h1m2 0h1m2 0h1m2 0h1m2 0h1m10 0h1m1 0h1m3 0h2m5 0h2m8 0h1m1 0h1m2 0h1m7 0h1m2 0h1m7 0h2m9 0h1m2 0h1m9 0h1m3 0h1m4 0h1m7 0h1m3 0h1m1 0h1m3 0h1m1 0h2m1 0h1m2 0h1m3 0h1m3 0h1m2 0h1m2 0h1m4 0h1m7 0h1m3 0h1m9 0h3m1 0h1m1 0h2m4 0h2m1 0h1m6 0h1m3 0h1m7 0h1m4 0h1m1 0h1m7 0h1m1 0h2m9 0h1m11 0h1m1 0h2m1 0h1m7 0h1m10 0h1m5 0h1m2 0h1m1 0h1m3 0h2m3 0h1m4 0h1m1 0h1m3 0h1m1 0h1m5 0h1m1 0h2m4 0h1m10 0h1" stroke="#180810"/><path d="M97 1.5h1m25 0h1m5 0h1m42 0h1m20 0h1m19 0h1m29 0h1m4 0h1m28 0h1m7 0h1m4 0h1m18 0h1m87 0h1m78 0h1m56 0h1m8 0h1m135 0h1m62 0h1" stroke="#f4d080"/></g>
<g id="t9_1"><path d="M2 1.5h1m1 0h1m1 0h1m16 0h1m22 0h1m4 0h1m3 0h1m1 0h1m10 0h1m8 0h1m2 0h1m3 0h3m3 0h1m10 0h3m1 0h1m7 0h1m3 0h1m3 0h3m5 0h1m4 0h1m2 0h1m5 0h1m6 0h1m15 0h1m1 0h1m2 0h1m3 0h1m1 0h1m1 0h1m6 0h1m1 0h1m18 0h1m7 0h1m1 0h1m2 0h1m4 0h1m1 0h1m8 0h2m2 0h1m2 0h1m5 0h1m5 0h1m1 0h1m3 0h1m1 0h1m5 0h1m5 0h2m2 0h1m5 0h1m5 0h1m1 0h1m4 0h2m1 0h2m4 0h1m13 0h1m3 0h1m7 0h3m1 0h1m1 0h1m3 0h1m4 0h1m3 0h1m1 0h1m7 0h1m2 0h1m8 0h3m3 0h1m6 0h2m3 0h2m5 0h1m4 0h1m7 0h1m2 0h1m6 0h1m6 0h1m2 0h1m2 0h1m1 0h1m9 0h2m1 0h1m8 0h1m4 0h1m1 0h1m3 0h3m1 0h1m2 0h1m10 0h3m2 0h1m1 0h1m6 0h1m3 0h1m2 0h1m1 0h1m3 0h1m5 0h1m8 0h3m6 0h1m5 0h3m2 0h1m4 0h1m5 0h1m2 0h1m1 0h1m3 0h1m18 0h1m4 0h3m9 0h3m7 0h1m3 0h1m9 0h1m2 0h1m2 0h1m1 0h1m1 0h1m7 0h2m13 0h2m1 0h2m5 0h1m3 0h2m4 0h3m2 0h1m5 0h1m4 0h1m1 0h1m1 0h2m15 0h1m3 0h2m4 0h1m2 0h1m2 0h1m8 0h1m4 0h1m3 0h1m1 0h1" stroke="#ffff00"/><path d="M26 1.5h2m30 0h1m35 0h2m15 0h2m17 0h1m22 0h2m25 0h1m13 0h1m2 0h1m4 0h1m18 0h1m4 0h1m7 0h2m50 0h1m43 0h1m11 0h1m4 0h1m21 0h1m7 0h1m1 0h1m10 0h1m11 0h1m4 0h1m25 0h1m10 0h1m6 0h1m40 0h1m6 0h1m12 0h1m14 0h1m12 0h1m3 0h1m34 0h1m22 0h1m9 0h2m3 0h1m41 0h1m1 0h1m8 0h1m73 0h1m4 0h1m5 0h1" stroke="#a8a014"/><path d="M5 1.5h1m1 0h1m1 0h1m2 0h1m1 0h3m1 0h1m1 0h1m8 0h2m1 0h2m1 0h3m1 0h1m2 0h1m5 0h3m1 0h1m1 0h1m4 0h5m1 0h1m3 0h5m2 0h1m1 0h2m2 0h1m6 0h1m1 0h3m5 0h1m4 0h1m1 0h2m6 0h2m2 0h1m1 0h1m4 0h2m1 0h1m2 0h1m1 0h1m1 0h2m2 0h3m2 0h2m1 0h1m4 0h1m2 0h1m1 0h3m1 0h1m3 0h1m1 0h1m6 0h1m1 0h1m1 0h1m2 0h1m2 0h1m4 0h1m3 0h1m1 0h1m2 0h2m1 0h1m3 0h1m3 0h4m1 0h1m1 0h1m1 0h1m4 0h1m5 0h1m1 0h1m6 0h1m2 0h2m2 0h2m1 0h1m1 0h5m1 0h1m1 0h2m2 0h1m7 0h5m2 0h2m2 0h1m1 0h2m4 0h1m5 0h3m2 0h1m5 0h1m3 0h2m3 0h1m1 0h1m1 0h2m1 0h3m1 0h1m1 0h1m2 0h2m3 0h1m3 0h1m3 0h1m1 0h1m3 0h2m1 0h1m1 0h1m2 0h2m1 0h1m1 0h1m2 0h2m4 0h2m4 0h1m2 0h5m3 0h1m4 0h1m1 0h3m2 0h1m1 0h1m2 0h1m2 0h2m2 0h2m1 0h2m3 0h1m2 0h5m1 0h2m2 0h1m4 0h3m3 0h1m3 0h1m3 0h1m3 0h1m3 0h2m12 0h1m2 0h2m2 0h4m1 0h1m6 0h1m1 0h3m1 0h2m1 0h2m13 0h1m4 0h3m2 0h1m4 0h3m1 0h2m2 0h2m8 0h2m1 0h1m2 0h2m3 0h2m1 0h1m1 0h1m1 0h1m1 0h3m1 0h1m1 0h1m2 0h4m1 0h2m1 0h1m2 0h3m4 0h1m1 0h2m8 0h2m2 0h1m3 0h1m6 0h4m3 0h1m1 0h1m2 0h1m6 0h4m4 0h7m1 0h1m4 0h1m2 0h2m1 0h2m1 0h3m3 0h2m8 0h1m4 0h1m2 0h1m1 0h1m4 0h15m1 0h3m3 0h1m1 0h1m4 0h2m1 0h4m1 0h1m3 0h1m10 0h1" stroke="#180810"/><path d="M3 1.5h1m20 0h1m62 0h1m60 0h1m34 0h1m46 0h1m33 0h1m25 0h1m13 0h1m9 0h1m80 0h1m112 0h1m20 0h1m54 0h1m24 0h1m52 0h1m19 0h1m6 0h1m62 0h1m5 0h1" stroke="#f4d080"/></g>
<g id="t10_1"><path d="M0 1.5h1m2 0h1m4 0h1m1 0h2m3 0h1m7 0h2m3 0h1m1 0h1m5 0h1m7 0h1m5 0h1m1 0h1m2 0h2m2 0h2m4 0h1m3 0h1m6 0h1m1 0h1m2 0h1m4 0h1m7 0h3m2 0h1m1 0h3m2 0h1m5 0h1m3 0h1m5 0h1m1 0h1m3 0h1m1 0h1m1 0h3m1 0h1m7 0h1m3 0h2m6 0h1m1 0h3m5 0h2m3 0h1m6 0h1m1 0h1m4 0h1m1 0h1m2 0h1m1 0h1m2 0h1m4 0h1m1 0h2m1 0h1m2 0h1m1 0h1m6 0h1m6 0h1m1 0h1m2 0h1m5 0h2m4 0h1m1 0h3m3 0h1m5 0h1m1 0h1m4 0h1m5 0h3m1 0h1m2 0h2m1 0h1m2 0h1m2 0h1m4 0h1m4 0h1m8 0h1m4 0h2m2 0h1m5 0h1m1 0h2m13 0h1m2 0h1m3 0h1m7 0h1m2 0h2m3 0h1m6 0h1m1 0h2m6 0h1m11 0h1m1 0h1m2 0h2m1 0h1m3 0h1m3 0h1m5 0h1m16 0h1m1 0h2m2 0h1m1 0h2m1 0h1m1 0h1m1 0h1m2 0h1m4 0h1m4 0h1m1 0h1m2 0h2m4 0h1m4 0h1m3 0h1m1 0h1m5 0h1m9 0h1m1 0h1m2 0h2m5 0h2m15 0h2m2 0h2m8 0h1m6 0h1m2 0h1m13 0h1m4 0h1m2 0h1m4 0h1m4 0h1m1 0h1m10 0h1m1 0h1m1 0h1m20 0h2m1 0h1m2 0h2m5 0h2m2 0h1m4 0h1m1 0h2m8 0h1m1 0h1m7 0h2m2 0h1m10 0h1m1 0h1m5 0h2m2 0h1m2 0h2m2 0h1m4 0h1m4 0h1m4 0h4m3 0h1m2 0h3m2 0h2m2 0h1m2 0h2m4 0h1m3 0h1m2 0h1m3 0h5m3 0h1" stroke="#ffff00"/><path d="M5 1.5h2m12 0h1m22 0h1m3 0h1m2 0h1m24 0h1m32 0h1m6 0h1m4 0h1m1 0h1m13 0h1m27 0h2m4 0h1m24 0h1m11 0h1m7 0h1m31 0h1m9 0h1m14 0h1m13 0h1m39 0h1m45 0h1m2 0h1m3 0h1m4 0h1m10 0h1m10 0h2m15 0h1m1 0h1m28 0h1m39 0h1m12 0h1m2 0h1m10 0h1m2 0h1m4 0h1m17 0h1m2 0h2m17 0h1m24 0h1m8 0h1m3 0h1m6 0h1m3 0h1m16 0h1m10 0h1m18 0h2m15 0h1m3 0h1m18 0h1m24 0h1m5 0h1m8 0h1" stroke="#a8a014"/><path d="M2 1.5h1m1 0h1m2 0h1m1 0h1m2 0h2m4 0h1m2 0h2m2 0h1m1 0h1m1 0h1m5 0h1m1 0h2m2 0h1m5 0h1m3 0h1m6 0h1m2 0h1m1 0h2m6 0h3m8 0h2m4 0h1m4 0h1m3 0h1m2 0h1m3 0h1m3 0h1m1 0h1m2 0h1m3 0h1m5 0h1m2 0h1m2 0h1m1 0h1m5 0h1m1 0h2m1 0h2m1 0h1m1 0h1m2 0h1m2 0h1m1 0h1m1 0h1m4 0h1m2 0h1m6 0h2m7 0h1m2 0h1m1 0h1m1 0h1m2 0h1m1 0h1m2 0h1m1 0h1m10 0h1m1 0h3m1 0h2m2 0h2m4 0h1m1 0h1m2 0h1m1 0h1m1 0h1m3 0h1m3 0h1m7 0h1m1 0h3m3 0h4m2 0h1m1 0h1m10 0h1m1 0h1m2 0h1m5 0h1m3 0h2m3 0h2m1 0h2m4 0h2m3 0h1m2 0h2m1 0h1m4 0h1m1 0h1m2 0h6m3 0h1m2 0h2m2 0h1m2 0h2m1 0h1m1 0h2m7 0h3m3 0h1m13 0h1m3 0h3m10 0h2m1 0h3m4 0h2m2 0h1m1 0h1m2 0h2m1 0h1m1 0h1m1 0h1m1 0h1m4 0h1m2 0h1m6 0h1m1 0h1m2 0h1m2 0h1m1 0h3m4 0h2m2 0h3m2 0h2m4 0h1m5 0h3m3 0h3m1 0h2m6 0h1m2 0h1m1 0h1m5 0h1m2 0h5m1 0h1m1 0h2m7 0h1m1 0h2m1 0h1m3 0h5m7 0h1m2 0h1m1 0h2m1 0h1m1 0h1m3 0h2m2 0h1m4 0h1m3 0h2m3 0h1m2 0h2m1 0h2m3 0h1m4 0h1m1 0h1m5 0h1m2 0h1m2 0h1m3 0h1m4 0h2m2 0h2m1 0h2m2 0h2m6 0h1m2 0h2m1 0h1m1 0h3m1 0h1m4 0h3m8 0h2m2 0h3m2 0h1m1 0h3m4 0h1m9 0h1m1 0h1m3 0h3m2 0h1m6 0h2m2 0h1m4 0h1m10 0h2m5 0h1m12 0h2m2 0h1m2 0h1" stroke="#180810"/><path d="M1 1.5h1m14 0h1m3 0h1m19 0h1m111 0h1m36 0h1m7 0h1m23 0h1m1 0h1m7 0h1m42 0h1m8 0h1m15 0h1m5 0h1m28 0h1m28 0h1m15 0h1m10 0h2m26 0h1m58 0h1m3 0h1m13 0h1m38 0h1m46 0h1m17 0h1m61 0h2m59 0h1m2 0h1m8 0h1m3 0h1" stroke="#f4d080"/></g>
<g id="t11_1"><path d="M0 1.5h2m6 0h3m4 0h1m7 0h2m2 0h2m4 0h1m1 0h1m1 0h2m2 0h3m4 0h1m2 0h4m8 0h4m1 0h1m3 0h2m2 0h4m2 0h1m2 0h1m10 0h1m4 0h1m1 0h1m4 0h3m1 0h1m1 0h4m2 0h1m5 0h1m2 0h2m2 0h2m1 0h1m2 0h1m1 0h2m2 0h1m8 0h1m3 0h2m1 0h1m3 0h2m1 0h2m1 0h1m2 0h1m3 0h2m2 0h3m1 0h1m1 0h1m1 0h1m3 0h1m1 0h1m4 0h1m2 0h1m1 0h1m1 0h2m5 0h4m2 0h1m3 0h1m1 0h1m2 0h1m7 0h1m1 0h2m3 0h1m1 0h1m2 0h3m1 0h3m2 0h1m9 0h1m1 0h5m6 0h2m2 0h1m1 0h1m9 0h1m2 0h1m4 0h1m4 0h1m2 0h1m2 0h2m2 0h1m5 0h1m2 0h2m3 0h3m1 0h2m7 0h1m1 0h1m1 0h3m2 0h1m3 0h2m3 0h2m2 0h1m1 0h1m6 0h1m1 0h2m6 0h1m1 0h1m2 0h2m9 0h1m2 0h1m5 0h3m8 0h1m1 0h1m1 0h1m4 0h2m4 0h1m1 0h3m16 0h1m2 0h5m2 0h2m2 0h1m2 0h1m3 0h1m4 0h2m1 0h1m1 0h1m1 0h1m1 0h1m1 0h2m2 0h2m1 0h1m1 0h4m1 0h1m2 0h1m1 0h1m1 0h1m2 0h3m1 0h2m7 0h1m3 0h1m2 0h2m4 0h2m1 0h2m3 0h1m2 0h1m1 0h1m2 0h2m1 0h1m1 0h1m9 0h1m4 0h1m4 0h2m1 0h1m1 0h3m1 0h1m3 0h2m5 0h1m1 0h1m2 0h1m1 0h1m2 0h1m1 0h1m1 0h1m3 0h1m4 0h1m3 0h1m1 0h1m3 0h1m1 0h1m15 0h2m1 0h4m1 0h1m4 0h4m1 0h1m2 0h5m4 0h2m1 0h2m5 0h1m4 0h1m1 0h2m6 0h1m1 0h1m2 0h1m6 0h3m3 0h1m2 0h1m5 0h2m3 0h1m6 0h1m2 0h1" stroke="#ffff00"/><path d="M20 1.5h1m1 0h1m23 0h1m8 0h1m2 0h2m1 0h1m13 0h1m11 0h1m3 0h1m3 0h1m11 0h1m27 0h1m2 0h1m12 0h1m12 0h1m5 0h1m6 0h1m17 0h1m14 0h1m3 0h1m20 0h1m3 0h1m2 0h1m10 0h1m39 0h2m4 0h1m13 0h1m12 0h1m7 0h1m7 0h1m2 0h1m37 0h1m9 0h1m6 0h1m2 0h1m7 0h2m18 0h1m6 0h1m8 0h1m1 0h1m6 0h1m20 0h1m6 0h2m32 0h1m13 0h1m3 0h1m8 0h1m11 0h1m8 0h1m14 0h1m1 0h1m1 0h1m2 0h1m11 0h1m4 0h1m11 0h1m11 0h1m29 0h1m7 0h1m31 0h1m4 0h1m1 0h1m2 0h1m15 0h1m15 0h1m2 0h1m3 0h1m1 0h1" stroke="#a8a014"/><path d="M3 1.5h1m3 0h1m3 0h2m1 0h1m6 0h1m3 0h2m4 0h1m2 0h1m1 0h1m2 0h1m5 0h1m1 0h1m2 0h1m5 0h1m3 0h1m6 0h1m3 0h1m8 0h1m3 0h1m1 0h1m3 0h1m1 0h3m16 0h1m9 0h5m2 0h1m8 0h1m5 0h2m1 0h5m1 0h1m2 0h1m1 0h1m2 0h1m2 0h1m11 0h2m4 0h1m5 0h1m1 0h1m1 0h1m5 0h3m3 0h1m1 0h1m1 0h1m3 0h3m6 0h1m1 0h2m2 0h1m5 0h1m1 0h1m2 0h1m10 0h2m7 0h1m3 0h1m2 0h1m2 0h1m2 0h1m6 0h5m2 0h2m1 0h1m7 0h3m2 0h1m1 0h2m1 0h1m2 0h1m6 0h1m4 0h1m4 0h1m2 0h2m2 0h1m5 0h1m4 0h1m2 0h1m9 0h1m1 0h2m4 0h1m4 0h1m4 0h3m3 0h1m9 0h1m5 0h1m1 0h2m2 0h1m1 0h1m1 0h1m2 0h2m2 0h1m3 0h1m1 0h2m2 0h2m3 0h1m1 0h1m1 0h1m6 0h1m5 0h2m1 0h1m3 0h2m1 0h1m6 0h1m7 0h1m2 0h2m4 0h3m4 0h1m4 0h1m1 0h1m6 0h2m9 0h1m2 0h1m1 0h1m3 0h1m7 0h2m10 0h2m4 0h1m3 0h1m3 0h1m3 0h1m3 0h2m7 0h6m1 0h1m3 0h1m4 0h1m9 0h1m1 0h1m1 0h1m8 0h1m1 0h2m10 0h1m3 0h1m2 0h1m1 0h3m1 0h1m5 0h1m1 0h1m1 0h1m1 0h1m1 0h4m2 0h1m11 0h1m2 0h1m6 0h1m6 0h1m1 0h2m5 0h3m4 0h1m7 0h1m1 0h3m1 0h1m1 0h2m2 0h3m1 0h1m3 0h3m5 0h1m1 0h1m4 0h1m6 0h2m1 0h1" stroke="#180810"/><path d="M2 1.5h1m15 0h1m30 0h1m39 0h1m8 0h1m3 0h1m28 0h1m8 0h1m12 0h1m70 0h1m8 0h1m12 0h1m19 0h1m37 0h1m7 0h1m6 0h1m21 0h1m2 0h1m10 0h1m4 0h1m16 0h1m7 0h1m21 0h1m10 0h1m2 0h2m3 0h1m27 0h1m2 0h1m11 0h1m27 0h1m36 0h1m25 0h1m45 0h2m50 0h1m33 0h1m10 0h1m47 0h1" stroke="#f4d080"/></g>
<g id="t12_1"><path d="M0 1.5h1m1 0h1m4 0h2m3 0h4m3 0h4m1 0h1m7 0h1m4 0h1m4 0h1m1 0h2m2 0h1m1 0h1m1 0h3m2 0h1m2 0h1m1 0h2m3 0h1m13 0h1m4 0h6m1 0h3m6 0h1m3 0h2m1 0h3m3 0h1m2 0h1m6 0h1m6 0h1m1 0h1m4 0h2m1 0h6m2 0h2m1 0h3m6 0h2m1 0h2m2 0h1m4 0h2m7 0h1m1 0h1m2 0h2m2 0h3m1 0h2m2 0h1m4 0h1m11 0h2m2 0h4m1 0h3m2 0h1m2 0h2m1 0h1m2 0h2m8 0h1m2 0h1m1 0h1m9 0h1m1 0h1m3 0h1m2 0h1m3 0h2m1 0h2m2 0h1m5 0h1m2 0h2m4 0h2m1 0h1m1 0h2m5 0h4m2 0h2m1 0h1m4 0h1m2 0h1m1 0h1m4 0h2m1 0h2m1 0h2m1 0h2m2 0h1m1 0h4m2 0h4m1 0h1m2 0h1m2 0h1m2 0h4m1 0h1m3 0h3m4 0h1m3 0h4m2 0h1m2 0h2m3 0h1m1 0h1m2 0h1m2 0h3m4 0h1m2 0h2m3 0h1m1 0h1m2 0h2m5 0h1m2 0h1m3 0h2m1 0h1m3 0h1m1 0h3m4 0h2m5 0h1m1 0h1m3 0h1m4 0h1m1 0h1m4 0h2m1 0h2m1 0h1m1 0h1m4 0h3m1 0h1m6 0h1m2 0h2m1 0h1m3 0h1m1 0h1m3 0h1m1 0h4m1 0h4m1 0h1m3 0h1m4 0h3m3 0h3m1 0h2m1 0h3m1 0h1m9 0h1m1 0h1m7 0h1m3 0h4m2 0h1m2 0h2m4 0h3m2 0h1m7 0h3m3 0h1m1 0h2m1 0h1m1 0h1m1 0h1m5 0h1m2 0h1m2 0h1m4 0h1m6 0h1m1 0h1m2 0h1m2 0h2m2 0h4m2 0h1m1 0h5m1 0h1m1 0h2m2 0h2m1 0h1m2 0h1m1 0h2m1 0h1m6 0h1m1 0h1m1 0h3m1 0h3m4 0h1m4 0h2m1 0h2m1 0h1m3 0h2m1 0h1m1 0h2m1 0h1m2 0h2m2 0h2m2 0h1m2 0h1" stroke="#ffff00"/><path d="M5 1.5h1m19 0h1m2 0h1m4 0h2m3 0h1m36 0h1m3 0h1m19 0h1m3 0h1m1 0h1m2 0h1m10 0h1m1 0h1m8 0h1m6 0h1m30 0h1m7 0h1m9 0h1m16 0h1m6 0h1m37 0h1m7 0h1m5 0h2m13 0h1m6 0h1m24 0h1m15 0h1m41 0h1m10 0h1m6 0h1m25 0h1m13 0h1m1 0h1m4 0h1m5 0h2m5 0h1m6 0h1m2 0h1m13 0h1m4 0h1m5 0h1m5 0h1m20 0h1m2 0h1m6 0h1m23 0h2m3 0h3m5 0h1m6 0h1m9 0h2m9 0h1m18 0h1m6 0h1m13 0h1m9 0h1m11 0h1m7 0h3m12 0h1m23 0h1m22 0h1m8 0h1m1 0h2m2 0h1m5 0h2m20 0h1" stroke="#a8a014"/><path d="M1 1.5h1m1 0h2m11 0h2m9 0h1m3 0h1m3 0h1m4 0h1m5 0h1m2 0h1m1 0h1m3 0h1m2 0h1m2 0h1m2 0h1m3 0h3m1 0h1m1 0h1m1 0h3m4 0h1m12 0h1m4 0h1m14 0h2m2 0h1m1 0h3m2 0h1m1 0h1m3 0h1m2 0h1m4 0h1m7 0h1m2 0h1m4 0h2m2 0h1m2 0h1m2 0h1m2 0h1m1 0h1m7 0h1m1 0h1m1 0h1m2 0h1m2 0h1m4 0h1m2 0h1m2 0h2m1 0h1m2 0h1m4 0h2m6 0h1m8 0h2m1 0h2m4 0h2m2 0h1m1 0h2m3 0h1m1 0h2m1 0h1m3 0h3m3 0h1m1 0h1m1 0h2m2 0h1m2 0h2m9 0h1m1 0h3m11 0h1m4 0h2m2 0h1m4 0h2m2 0h1m1 0h1m1 0h1m2 0h2m4 0h1m4 0h1m2 0h1m5 0h1m2 0h1m4 0h2m6 0h2m1 0h1m2 0h1m13 0h1m6 0h1m5 0h1m2 0h1m2 0h2m5 0h1m7 0h3m9 0h1m1 0h1m4 0h1m7 0h1m4 0h1m3 0h1m7 0h1m6 0h1m2 0h1m1 0h1m4 0h2m7 0h1m2 0h1m2 0h1m1 0h1m1 0h2m1 0h1m5 0h1m1 0h2m3 0h1m5 0h1m1 0h1m3 0h3m6 0h1m10 0h1m6 0h2m11 0h1m1 0h1m1 0h2m4 0h1m1 0h1m1 0h3m1 0h3m2 0h2m4 0h1m2 0h2m3 0h3m4 0h1m1 0h2m1 0h1m1 0h2m3 0h1m13 0h1m2 0h1m9 0h1m2 0h1m3 0h2m1 0h1m1 0h1m7 0h1m4 0h2m12 0h1m6 0h1m1 0h1m2 0h1m1 0h1m1 0h1m4 0h1m1 0h1m8 0h3m10 0h1m1 0h1m12 0h1m2 0h2m2 0h2" stroke="#180810"/><path d="M9 1.5h1m1 0h1m14 0h1m9 0h1m29 0h1m6 0h1m6 0h1m16 0h1m6 0h1m8 0h1m24 0h1m60 0h1m19 0h1m5 0h1m10 0h1m33 0h1m12 0h1m12 0h1m51 0h1m30 0h1m79 0h1m44 0h1m6 0h1m8 0h1m52 0h1m54 0h1m12 0h1m5 0h1m1 0h1m11 0h1m82 0h1" stroke="#f4d080"/></g>
<g id="t13_1"><path d="M0 1.5h1m8 0h3m1 0h1m1 0h1m1 0h1m1 0h2m7 0h1m1 0h2m1 0h1m1 0h3m4 0h1m1 0h1m2 0h2m1 0h3m1 0h1m1 0h2m1 0h1m5 0h2m2 0h1m1 0h1m2 0h2m2 0h1m1 0h2m1 0h3m3 0h1m2 0h1m2 0h3m3 0h1m1 0h1m2 0h2m2 0h1m1 0h1m1 0h1m5 0h1m1 0h2m1 0h1m3 0h2m2 0h1m4 0h1m1 0h1m1 0h1m2 0h3m1 0h3m1 0h1m1 0h1m2 0h1m3 0h2m2 0h3m6 0h5m1 0h1m3 0h3m1 0h2m1 0h2m1 0h4m1 0h1m2 0h3m2 0h7m2 0h1m3 0h1m2 0h3m2 0h2m2 0h1m2 0h2m2 0h1m1 0h1m6 0h2m3 0h1m3 0h1m2 0h1m2 0h1m4 0h1m5 0h4m2 0h3m2 0h2m1 0h2m2 0h1m1 0h1m2 0h2m1 0h1m3 0h1m5 0h1m1 0h2m1 0h2m1 0h1m1 0h2m2 0h2m1 0h1m2 0h1m2 0h1m4 0h3m2 0h1m2 0h1m4 0h2m1 0h1m3 0h3m3 0h5m3 0h1m1 0h2m6 0h2m1 0h1m1 0h2m1 0h4m3 0h1m1 0h1m1 0h2m2 0h1m2 0h1m1 0h2m1 0h2m1 0h1m2 0h5m2 0h1m1 0h3m1 0h1m1 0h1m6 0h2m1 0h3m1 0h1m1 0h2m3 0h1m2 0h1m1 0h1m1 0h1m1 0h2m4 0h1m5 0h2m6 0h2m2 0h1m1 0h3m1 0h3m5 0h2m4 0h2m1 0h1m3 0h2m1 0h1m1 0h1m1 0h1m2 0h1m1 0h1m2 0h3m2 0h1m3 0h1m6 0h2m1 0h1m1 0h2m1 0h2m1 0h1m8 0h1m1 0h3m1 0h2m2 0h1m2 0h4m1 0h1m1 0h3m1 0h1m3 0h2m1 0h1m1 0h1m1 0h1m2 0h3m1 0h5m2 0h1m2 0h1m3 0h1m2 0h1m1 0h7m1 0h1m3 0h2m3 0h2m3 0h2m1 0h2m1 0h3m4 0h1m2 0h4m2 0h1m3 0h2m3 0h1m1 0h1m4 0h1m1 0h1m1 0h1m1 0h1m1 0h1m3 0h3m6 0h1m4 0h1m2 0h2m1 0h1m3 0h1m1 0h2m1 0h3m1 0h1m4 0h1m2 0h4m1 0h1m1 0h1m2 0h1m4 0h4" stroke="#ffff00"/><path d="M1 1.5h3m2 0h1m9 0h1m6 0h3m3 0h1m11 0h1m4 0h1m6 0h1m7 0h1m28 0h2m2 0h1m7 0h1m1 0h2m3 0h1m17 0h1m3 0h1m4 0h2m5 0h2m9 0h1m1 0h1m2 0h2m8 0h1m2 0h1m7 0h1m10 0h1m7 0h1m19 0h1m8 0h1m9 0h1m7 0h1m4 0h1m10 0h1m7 0h2m24 0h1m35 0h1m3 0h1m5 0h1m6 0h1m1 0h1m2 0h1m2 0h1m12 0h1m28 0h1m4 0h1m11 0h1m2 0h1m8 0h1m5 0h1m2 0h1m2 0h1m7 0h1m4 0h1m3 0h1m2 0h1m11 0h2m5 0h1m1 0h1m16 0h1m2 0h1m4 0h1m4 0h1m6 0h1m10 0h1m7 0h1m3 0h2m2 0h1m13 0h1m5 0h2m5 0h1m2 0h1m3 0h1m14 0h1m2 0h1m10 0h1m16 0h1m11 0h1m23 0h1m12 0h1m4 0h2m10 0h1m3 0h1m7 0h3m4 0h1m8 0h1m8 0h1m6 0h1m14 0h1" stroke="#a8a014"/><path d="M4 1.5h2m1 0h1m4 0h1m5 0h1m7 0h1m11 0h1m4 0h1m11 0h1m4 0h1m2 0h1m3 0h1m14 0h1m3 0h3m4 0h1m19 0h1m4 0h1m5 0h1m9 0h2m3 0h1m8 0h1m3 0h1m4 0h1m3 0h1m2 0h1m6 0h1m1 0h1m8 0h3m3 0h1m26 0h1m2 0h1m1 0h1m1 0h1m4 0h1m3 0h1m2 0h1m8 0h3m1 0h2m6 0h2m3 0h1m2 0h1m2 0h3m5 0h1m5 0h1m13 0h1m2 0h1m4 0h1m3 0h4m2 0h1m5 0h1m1 0h1m2 0h1m3 0h1m1 0h2m6 0h1m5 0h1m4 0h1m13 0h3m6 0h2m1 0h1m2 0h1m1 0h1m5 0h1m1 0h1m2 0h1m6 0h1m7 0h1m1 0h2m16 0h1m6 0h1m5 0h1m5 0h1m5 0h1m3 0h1m3 0h1m9 0h2m5 0h2m7 0h1m3 0h1m1 0h1m8 0h1m5 0h1m1 0h2m13 0h1m2 0h1m4 0h1m3 0h1m3 0h1m5 0h1m1 0h1m7 0h1m2 0h1m4 0h2m4 0h1m7 0h1m1 0h1m5 0h1m7 0h2m5 0h1m1 0h1m1 0h2m9 0h2m5 0h1m16 0h2m4 0h1m7 0h1m7 0h1m4 0h1m7 0h1m1 0h1m10 0h1m2 0h1m7 0h1m1 0h1m11 0h1m3 0h1m6 0h2m16 0h1m8 0h1m3 0h2" stroke="#180810"/><path d="M21 1.5h1m17 0h1m18 0h1m5 0h1m34 0h1m11 0h1m3 0h3m8 0h1m1 0h1m41 0h1m23 0h1m12 0h1m24 0h1m2 0h1m43 0h1m11 0h1m11 0h2m19 0h1m8 0h1m62 0h1m13 0h1m44 0h1m26 0h2m43 0h1m11 0h1m9 0h1m1 0h1m8 0h1m25 0h1m31 0h1m5 0h1m37 0h1m8 0h1m6 0h1m5 0h1m23 0h1m3 0h1m26 0h1" stroke="#f4d080"/></g>
<g id="t14_1"><path d="M0 1.5h1m2 0h1m2 0h1m1 0h4m1 0h1m1 0h2m1 0h1m2 0h1m2 0h2m3 0h1m2 0h2m1 0h1m2 0h1m3 0h1m1 0h3m2 0h11m4 0h1m1 0h2m1 0h1m1 0h6m1 0h1m8 0h1m1 0h1m1 0h1m2 0h1m4 0h1m2 0h1m1 0h6m1 0h2m1 0h1m4 0h2m2 0h1m1 0h2m3 0h2m1 0h2m1 0h2m3 0h2m1 0h1m2 0h1m1 0h1m1 0h6m1 0h1m1 0h2m1 0h1m1 0h1m3 0h2m1 0h1m1 0h2m1 0h2m1 0h3m2 0h2m1 0h1m3 0h1m1 0h2m2 0h1m2 0h2m1 0h3m2 0h1m1 0h1m5 0h1m2 0h4m2 0h1m4 0h1m4 0h3m1 0h3m1 0h3m2 0h1m1 0h1m5 0h2m1 0h1m3 0h1m2 0h1m1 0h2m1 0h7m3 0h1m2 0h3m1 0h1m1 0h5m1 0h4m1 0h6m1 0h3m1 0h2m1 0h1m1 0h1m3 0h3m1 0h1m1 0h7m2 0h4m1 0h2m3 0h2m5 0h1m2 0h1m2 0h2m2 0h1m1 0h1m2 0h4m1 0h4m1 0h5m1 0h1m2 0h4m2 0h7m2 0h1m2 0h1m2 0h2m2 0h2m3 0h4m1 0h1m2 0h1m2 0h1m2 0h1m2 0h1m1 0h1m2 0h2m1 0h4m12 0h1m1 0h6m1 0h6m3 0h1m2 0h4m1 0h1m2 0h1m2 0h1m1 0h3m4 0h2m1 0h1m1 0h2m2 0h1m2 0h2m2 0h1m1 0h2m2 0h1m1 0h6m4 0h6m2 0h1m4 0h2m1 0h1m1 0h1m1 0h1m2 0h2m1 0h1m1 0h1m5 0h1m2 0h5m1 0h2m1 0h1m1 0h3m1 0h1m3 0h2m3 0h1m1 0h1m2 0h3m2 0h2m1 0h2m5 0h3m2 0h1m1 0h3m1 0h1m4 0h3m4 0h1m1 0h1m2 0h2m4 0h1m4 0h3m1 0h1m1 0h1m1 0h5m2 0h2m2 0h4m3 0h1m2 0h2m2 0h5m1 0h1m1 0h3m3 0h3m4 0h4m5 0h3m2 0h2m1 0h1m1 0h2m1 0h1m1 0h1m1 0h1m2 0h1m8 0h2m1 0h3m1 0h5" stroke="#ffff00"/><path d="M2 1.5h1m2 0h1m1 0h1m4 0h1m15 0h1m1 0h1m5 0h2m1 0h1m3 0h1m3 0h2m12 0h1m8 0h1m10 0h1m1 0h1m8 0h1m2 0h1m1 0h1m17 0h3m9 0h3m5 0h1m2 0h1m11 0h1m22 0h1m5 0h1m3 0h2m2 0h1m5 0h1m6 0h1m6 0h1m7 0h2m7 0h1m4 0h1m2 0h1m21 0h1m1 0h1m6 0h1m2 0h1m4 0h1m9 0h1m6 0h1m7 0h1m4 0h1m17 0h1m5 0h1m15 0h1m2 0h1m4 0h1m3 0h1m2 0h1m6 0h1m9 0h1m12 0h1m5 0h1m8 0h2m1 0h1m6 0h2m2 0h1m6 0h1m19 0h1m8 0h1m2 0h1m1 0h1m1 0h1m15 0h1m1 0h1m1 0h1m5 0h1m17 0h1m1 0h1m3 0h1m6 0h1m1 0h1m3 0h1m10 0h1m8 0h1m4 0h1m2 0h1m1 0h1m1 0h1m7 0h1m8 0h1m14 0h1m6 0h2m4 0h1m14 0h1m5 0h1m1 0h1m6 0h2m4 0h2m3 0h1m1 0h1m4 0h1m4 0h1m1 0h1m13 0h2m8 0h1m3 0h1m4 0h1m17 0h1m15 0h2m13 0h1m2 0h1m2 0h1m2 0h1" stroke="#a8a014"/><path d="M4 1.5h1m17 0h2m3 0h1m12 0h2m18 0h1m1 0h2m15 0h1m2 0h1m1 0h1m1 0h1m6 0h1m7 0h1m11 0h1m4 0h1m3 0h1m16 0h1m3 0h1m4 0h1m8 0h1m10 0h1m2 0h1m17 0h2m6 0h1m15 0h2m4 0h1m7 0h1m2 0h1m3 0h1m8 0h1m18 0h1m17 0h1m3 0h1m23 0h1m8 0h1m9 0h1m8 0h1m8 0h2m4 0h1m3 0h1m3 0h1m2 0h1m5 0h1m9 0h1m26 0h1m1 0h1m16 0h2m4 0h2m1 0h1m14 0h2m7 0h1m2 0h1m18 0h1m7 0h1m2 0h1m1 0h1m5 0h1m11 0h1m3 0h1m5 0h1m2 0h1m7 0h1m1 0h1m11 0h1m9 0h2m8 0h2m9 0h1m2 0h1m1 0h1m5 0h1m1 0h1m4 0h1m4 0h1m12 0h1m5 0h1m8 0h1m9 0h1m4 0h1m4 0h1m2 0h1m1 0h1m4 0h1m1 0h1m11 0h1m10 0h1m2 0h1m6 0h1m6 0h1m5 0h3m4 0h1m1 0h1m9 0h1m11 0h1m3 0h1m1 0h2m1 0h1m2 0h1m10 0h1" stroke="#180810"/><path d="M14 1.5h1m4 0h2m56 0h1m7 0h1m2 0h1m7 0h1m3 0h1m9 0h1m21 0h1m7 0h1m18 0h1m6 0h2m8 0h1m14 0h1m4 0h1m15 0h1m20 0h1m5 0h1m10 0h1m2 0h1m1 0h1m3 0h1m1 0h1m3 0h1m13 0h1m3 0h1m36 0h1m46 0h1m19 0h1m5 0h1m33 0h2m5 0h1m12 0h1m27 0h1m21 0h1m1 0h1m30 0h1m9 0h1m2 0h1m19 0h1m5 0h1m26 0h1m6 0h1m3 0h1m3 0h1m2 0h1m15 0h1m5 0h1m24 0h1m17 0h1m18 0h1m1 0h1m12 0h1m2 0h1m9 0h1m4 0h1m20 0h1m5 0h1" stroke="#f4d080"/></g>
<g id="t15_1"><path d="M4 1.5h7m1 0h3m1 0h1m2 0h2m3 0h10m1 0h3m4 0h6m1 0h1m1 0h3m3 0h3m2 0h7m1 0h1m2 0h1m1 0h1m2 0h1m1 0h7m2 0h5m1 0h3m1 0h1m1 0h1m1 0h4m1 0h2m1 0h5m1 0h1m2 0h4m1 0h1m1 0h5m1 0h1m6 0h1m4 0h1m1 0h1m2 0h2m3 0h6m1 0h3m1 0h2m1 0h2m1 0h2m1 0h2m2 0h1m1 0h4m2 0h3m1 0h2m1 0h1m1 0h1m1 0h1m2 0h1m1 0h1m2 0h2m2 0h1m3 0h1m3 0h1m2 0h9m1 0h3m3 0h5m1 0h1m1 0h6m1 0h1m2 0h2m3 0h1m1 0h2m1 0h1m1 0h4m1 0h1m1 0h6m1 0h3m2 0h14m1 0h4m2 0h5m1 0h1m2 0h1m1 0h1m1 0h1m2 0h1m3 0h1m2 0h1m1 0h3m2 0h1m3 0h1m1 0h1m1 0h4m1 0h4m1 0h2m4 0h2m4 0h1m3 0h1m1 0h1m1 0h1m1 0h3m1 0h1m2 0h1m1 0h1m1 0h2m2 0h1m1 0h2m1 0h2m2 0h2m1 0h1m2 0h6m1 0h3m1 0h6m1 0h1m3 0h2m1 0h1m1 0h1m3 0h8m1 0h3m2 0h1m1 0h1m2 0h1m3 0h3m1 0h3m2 0h2m1 0h4m1 0h2m3 0h6m2 0h5m1 0h2m1 0h4m1 0h3m2 0h1m3 0h4m1 0h6m1 0h2m1 0h1m5 0h1m3 0h2m2 0h4m2 0h5m2 0h1m3 0h1m1 0h1m1 0h1m2 0h3m1 0h1m1 0h1m2 0h3m1 0h1m1 0h1m1 0h2m2 0h2m1 0h1m1 0h6m1 0h2m3 0h7m1 0h1m1 0h5m1 0h1m3 0h10m2 0h3m1 0h2m3 0h4m2 0h1m1 0h2m1 0h1m2 0h1m4 0h1m3 0h1m3 0h3m1 0h2m2 0h2m1 0h1m1 0h1m3 0h6m2 0h6m3 0h3m2 0h9m1 0h6m2 0h9m1 0h2m1 0h4m1 0h3m2 0h3m3 0h1" stroke="#ffff00"/><path d="M2 1.5h2m7 0h1m5 0h1m3 0h1m17 0h2m7 0h1m1 0h1m3 0h1m1 0h1m20 0h1m9 0h1m10 0h1m1 0h1m9 0h1m5 0h1m1 0h1m5 0h1m7 0h1m2 0h1m2 0h1m5 0h1m4 0h1m3 0h1m7 0h1m3 0h1m2 0h1m2 0h1m2 0h1m2 0h1m2 0h1m9 0h1m14 0h1m3 0h1m2 0h1m7 0h1m13 0h1m1 0h1m20 0h2m7 0h1m4 0h1m13 0h1m36 0h1m1 0h1m6 0h1m6 0h1m3 0h1m6 0h1m8 0h2m5 0h2m5 0h1m3 0h1m8 0h1m5 0h1m4 0h1m3 0h1m2 0h1m2 0h1m6 0h1m3 0h1m6 0h1m1 0h2m7 0h1m17 0h1m4 0h1m10 0h1m26 0h1m2 0h1m4 0h1m6 0h1m16 0h1m8 0h1m3 0h1m5 0h1m6 0h1m2 0h3m19 0h1m1 0h1m1 0h1m2 0h1m15 0h3m7 0h1m1 0h1m9 0h1m10 0h1m9 0h1m4 0h2m4 0h1m5 0h1m4 0h1m2 0h3m3 0h1m10 0h1m8 0h2m6 0h3m4 0h1m9 0h1m6 0h2m9 0h1m7 0h1m10 0h1" stroke="#a8a014"/><path d="M15 1.5h1m6 0h1m11 0h1m6 0h1m52 0h1m7 0h1m4 0h1m29 0h1m3 0h1m55 0h1m1 0h2m10 0h1m3 0h1m3 0h1m41 0h1m11 0h1m26 0h1m11 0h1m4 0h1m7 0h2m12 0h1m24 0h1m3 0h1m1 0h1m3 0h1m5 0h1m18 0h1m31 0h1m19 0h1m8 0h1m3 0h1m3 0h1m3 0h1m7 0h1m1 0h1m6 0h2m18 0h1m2 0h2m4 0h1m14 0h2m20 0h1m18 0h1m12 0h1m32 0h1m23 0h1m8 0h1m4 0h1m30 0h1m52 0h1m13 0h1" stroke="#180810"/><path d="M1 1.5h1m16 0h1m4 0h1m36 0h1m8 0h1m2 0h1m3 0h1m2 0h1m8 0h1m37 0h1m9 0h1m5 0h2m4 0h1m3 0h1m1 0h1m23 0h1m6 0h1m9 0h1m6 0h1m1 0h1m3 0h1m4 0h1m28 0h1m1 0h1m14 0h1m4 0h1m15 0h1m24 0h1m8 0h2m5 0h1m13 0h2m7 0h1m9 0h1m2 0h1m2 0h1m21 0h2m9 0h1m11 0h1m31 0h1m12 0h1m4 0h2m2 0h1m17 0h1m30 0h1m21 0h1m1 0h1m3 0h1m5 0h1m18 0h1m3 0h2m3 0h1m1 0h1m2 0h1m14 0h1m1 0h1m6 0h1m23 0h1m19 0h1m17 0h1m21 0h1m4 0h1m21 0h1" stroke="#f4d080"/></g>
<g id="t16_1"><path d="M1 1.5h2m6 0h2m2 0h1m1 0h1m1 0h3m3 0h7m1 0h6m1 0h3m1 0h2m2 0h7m1 0h2m1 0h1m2 0h13m1 0h3m3 0h2m2 0h1m4 0h1m2 0h2m1 0h1m1 0h2m3 0h1m3 0h3m1 0h4m1 0h2m1 0h1m2 0h10m1 0h1m2 0h4m1 0h1m2 0h1m1 0h1m1 0h1m1 0h3m3 0h4m1 0h3m1 0h1m1 0h1m2 0h5m1 0h5m2 0h3m6 0h1m2 0h1m2 0h3m2 0h14m1 0h2m2 0h4m1 0h1m1 0h3m1 0h7m1 0h4m6 0h1m1 0h2m1 0h3m2 0h1m1 0h1m2 0h2m1 0h1m4 0h4m4 0h1m2 0h1m3 0h5m2 0h1m1 0h3m3 0h4m1 0h1m1 0h4m2 0h5m1 0h1m2 0h3m2 0h3m4 0h1m2 0h1m1 0h2m1 0h3m1 0h1m2 0h2m1 0h6m2 0h1m2 0h3m3 0h8m1 0h3m1 0h1m2 0h5m1 0h2m1 0h2m1 0h5m2 0h1m1 0h4m1 0h4m2 0h2m2 0h2m2 0h5m3 0h2m1 0h1m3 0h1m2 0h9m2 0h4m1 0h4m2 0h3m1 0h1m3 0h7m2 0h4m2 0h3m1 0h15m1 0h2m2 0h7m1 0h3m1 0h4m2 0h7m1 0h4m1 0h3m1 0h1m1 0h6m1 0h9m3 0h3m1 0h1m2 0h5m1 0h8m1 0h2m1 0h1m2 0h2m5 0h3m1 0h5m1 0h1m1 0h1m2 0h3m2 0h4m1 0h1m1 0h4m1 0h6m1 0h2m1 0h1m1 0h2m2 0h1m3 0h1m1 0h2m3 0h1m1 0h2m1 0h1m3 0h2m1 0h6m2 0h1m1 0h1m1 0h2m1 0h2m1 0h1m1 0h4m1 0h1m3 0h2m1 0h3m1 0h1m3 0h2m1 0h1m1 0h2m1 0h1m2 0h2m2 0h1m1 0h1m1 0h4m1 0h1m2 0h4m1 0h2m1 0h5m1 0h2" stroke="#ffff00"/><path d="M0 1.5h1m2 0h4m1 0h1m2 0h2m7 0h1m9 0h1m6 0h1m6 0h1m8 0h1m5 0h1m13 0h1m3 0h2m3 0h2m2 0h1m3 0h2m2 0h1m1 0h1m2 0h2m3 0h2m11 0h1m13 0h1m1 0h1m5 0h1m6 0h1m1 0h1m4 0h1m9 0h1m1 0h1m8 0h1m10 0h2m1 0h1m3 0h2m1 0h2m3 0h2m23 0h1m5 0h1m13 0h1m12 0h2m1 0h1m1 0h2m2 0h1m2 0h2m7 0h2m1 0h2m17 0h2m18 0h1m2 0h1m3 0h2m3 0h4m1 0h2m1 0h1m9 0h1m9 0h2m1 0h1m6 0h1m15 0h1m8 0h1m2 0h1m6 0h1m11 0h2m2 0h2m2 0h2m5 0h1m1 0h1m2 0h1m1 0h1m3 0h2m9 0h2m9 0h2m16 0h1m4 0h1m23 0h1m12 0h1m5 0h1m7 0h1m8 0h1m18 0h1m1 0h1m3 0h1m20 0h1m1 0h1m3 0h2m2 0h1m9 0h1m1 0h1m1 0h1m5 0h1m4 0h1m1 0h1m11 0h1m2 0h1m1 0h1m2 0h2m2 0h1m7 0h1m4 0h1m1 0h3m17 0h1m2 0h1m6 0h1m2 0h1m3 0h1m10 0h1m4 0h1m1 0h2m3 0h1m8 0h1m16 0h1" stroke="#a8a014"/><path d="M16 1.5h1m5 0h1m56 0h1m5 0h1m1 0h1m13 0h1m1 0h1m30 0h1m7 0h1m9 0h1m1 0h1m26 0h1m57 0h1m8 0h1m2 0h1m2 0h1m23 0h1m15 0h1m1 0h1m10 0h1m7 0h1m34 0h1m3 0h1m10 0h1m3 0h1m10 0h1m5 0h1m123 0h1m3 0h1m36 0h1m6 0h1m18 0h1m31 0h1m47 0h1m47 0h1m6 0h1m8 0h1m8 0h1" stroke="#180810"/><path d="M7 1.5h1m6 0h1m6 0h1m19 0h1m3 0h1m10 0h1m1 0h1m29 0h1m20 0h1m4 0h1m26 0h1m17 0h1m27 0h1m1 0h1m37 0h1m16 0h1m1 0h2m1 0h1m19 0h1m16 0h1m6 0h1m6 0h1m13 0h1m8 0h1m20 0h1m3 0h1m35 0h1m8 0h1m11 0h1m2 0h1m4 0h1m27 0h2m18 0h1m9 0h1m11 0h1m6 0h1m31 0h1m8 0h1m13 0h1m23 0h1m13 0h1m8 0h1m5 0h1m4 0h2m15 0h1m3 0h1m30 0h1m3 0h1m6 0h1m17 0h1m1 0h1m1 0h1m7 0h1m6 0h1m10 0h3m18 0h1m6 0h2m4 0h1" stroke="#f4d080"/></g>
<g id="t1_2"><path d="M148 1.5h1m213 0h1m52 0h1m7 0h1m109 0h1m79 0h1m35 0h1m64 0h1" stroke="#ffff00"/><path d="M305 1.5h1m36 0h1m217 0h1" stroke="#a8a014"/><path d="M4 1.5h1m18 0h2m12 0h1m9 0h1m17 0h1m9 0h1m9 0h1m5 0h1m28 0h1m5 0h1m9 0h1m6 0h1m18 0h1m8 0h1m19 0h1m8 0h1m10 0h1m6 0h1m29 0h1m19 0h1m23 0h1m1 0h1m15 0h2m2 0h2m2 0h1m13 0h1m7 0h1m4 0h1m15 0h1m10 0h1m7 0h1m7 0h1m5 0h1m10 0h1m8 0h1m1 0h1m7 0h1m3 0h1m1 0h1m2 0h1m24 0h1m3 0h1m7 0h1m5 0h1m18 0h1m12 0h1m3 0h1m4 0h1m2 0h1m11 0h1m1 0h1m20 0h1m3 0h1m10 0h1m1 0h1m11 0h1m1 0h1m13 0h1m11 0h1m20 0h1m4 0h1m2 0h1m6 0h1m5 0h1m3 0h1m1 0h1m7 0h1m2 0h1m4 0h1m7 0h1m3 0h1m4 0h1m4 0h1m1 0h1" stroke="#180810"/><path d="M432 1.5h1m234 0h1m47 0h1" stroke="#f4d080"/></g>
<g id="t2_2"><path d="M35 1.5h1m27 0h1m1 0h1m11 0h1m52 0h1m35 0h1m51 0h1m2 0h1m60 0h2m65 0h1m168 0h1m52 0h1m21 0h1m12 0h1m5 0h1m9 0h1m41 0h1m2 0h1m20 0h1m5 0h1m24 0h1m4 0h1m19 0h1" stroke="#ffff00"/><path d="M29 1.5h1m145 0h1m129 0h1m273 0h1m83 0h1m46 0h1" stroke="#a8a014"/><path d="M6 1.5h1m1 0h1m11 0h1m2 0h1m2 0h1m10 0h1m18 0h1m1 0h1m1 0h1m1 0h1m9 0h1m24 0h1m1 0h1m13 0h2m19 0h1m6 0h1m7 0h3m6 0h1m6 0h1m3 0h1m15 0h1m9 0h1m1 0h1m15 0h1m5 0h2m5 0h1m41 0h1m11 0h1m5 0h1m30 0h1m8 0h1m8 0h2m17 0h1m3 0h1m8 0h1m4 0h1m11 0h1m9 0h1m2 0h1m4 0h1m14 0h2m5 0h1m7 0h2m14 0h1m11 0h1m8 0h1m8 0h1m5 0h1m19 0h1m18 0h1m7 0h1m15 0h1m1 0h1m23 0h1m29 0h1m4 0h1m9 0h1m14 0h2m12 0h1m21 0h1m13 0h1m19 0h1m5 0h1m21 0h1m10 0h1m7 0h1" stroke="#180810"/><path d="M21 1.5h1m49 0h1m9 0h1m300 0h1" stroke="#f4d080"/></g>
<g id="t3_2"><path d="M20 1.5h1m20 0h1m2 0h1m11 0h1m18 0h1m9 0h1m8 0h1m12 0h1m11 0h1m3 0h1m20 0h1m14 0h1m1 0h1m39 0h1m8 0h1m1 0h1m4 0h1m13 0h1m20 0h1m25 0h1m66 0h1m43 0h1m32 0h1m9 0h1m7 0h1m23 0h1m22 0h2m15 0h1m24 0h1m11 0h1m3 0h2m6 0h1m16 0h1m8 0h1m31 0h1m10 0h1m6 0h1m14 0h1m4 0h1m5 0h1m13 0h1m8 0h1m11 0h1m2 0h1m11 0h2m10 0h1m2 0h1m19 0h1" stroke="#ffff00"/><path d="M108 1.5h1m23 0h1m36 0h1m164 0h1m14 0h1m1 0h1m46 0h1m149 0h2m5 0h1m21 0h1m16 0h1m45 0h1m17 0h1m16 0h1m54 0h1m11 0h1" stroke="#a8a014"/><path d="M0 1.5h1m1 0h1m9 0h1m4 0h1m7 0h1m2 0h2m1 0h1m3 0h1m4 0h1m16 0h1m6 0h1m14 0h1m4 0h1m3 0h1m12 0h1m2 0h1m7 0h1m14 0h1m34 0h1m13 0h1m16 0h1m6 0h1m28 0h1m2 0h1m7 0h1m3 0h1m27 0h1m2 0h1m4 0h1m6 0h2m9 0h1m1 0h2m13 0h1m6 0h2m9 0h1m28 0h1m3 0h2m9 0h1m23 0h1m4 0h1m39 0h1m1 0h2m5 0h1m2 0h1m2 0h1m15 0h1m4 0h1m13 0h1m11 0h1m3 0h1m14 0h1m10 0h1m19 0h1m38 0h1m25 0h1m23 0h1m2 0h1m1 0h1m10 0h1m2 0h1m12 0h1m7 0h1m1 0h1m31 0h2m3 0h1m17 0h1m10 0h1" stroke="#180810"/><path d="M74 1.5h1m95 0h1m486 0h1m57 0h1" stroke="#f4d080"/></g>
<g id="t4_2"><path d="M14 1.5h1m26 0h1m10 0h1m9 0h1m27 0h1m4 0h1m10 0h1m3 0h1m8 0h1m12 0h1m6 0h1m3 0h2m1 0h1m27 0h2m7 0h1m13 0h1m9 0h1m9 0h1m24 0h1m18 0h1m11 0h1m3 0h2m12 0h1m4 0h1m1 0h1m2 0h1m5 0h1m7 0h1m4 0h1m9 0h1m16 0h1m5 0h1m69 0h1m47 0h1m44 0h1m26 0h1m8 0h1m22 0h1m5 0h2m4 0h1m27 0h2m6 0h1m18 0h1m2 0h1m64 0h1m5 0h1m9 0h1" stroke="#ffff00"/><path d="M45 1.5h1m9 0h1m23 0h1m32 0h1m11 0h1m54 0h1m138 0h1m66 0h1m209 0h1m44 0h1m36 0h1m53 0h1" stroke="#a8a014"/><path d="M1 1.5h1m19 0h1m15 0h1m15 0h1m10 0h2m8 0h1m23 0h1m9 0h1m7 0h2m13 0h1m32 0h2m4 0h1m2 0h1m18 0h1m10 0h1m1 0h1m7 0h1m4 0h1m16 0h1m11 0h1m14 0h1m20 0h1m22 0h1m9 0h1m39 0h1m10 0h2m12 0h1m8 0h1m11 0h1m2 0h1m7 0h2m1 0h1m1 0h1m2 0h1m7 0h1m9 0h1m3 0h2m14 0h2m26 0h1m3 0h2m18 0h1m25 0h1m9 0h1m12 0h1m28 0h1m14 0h1m1 0h1m2 0h1m17 0h1m4 0h1m16 0h1m10 0h1m2 0h1m2 0h1m13 0h1m14 0h1m2 0h1m13 0h1m35 0h1" stroke="#180810"/><path d="M23 1.5h1m34 0h1m156 0h1m116 0h1m77 0h1m222 0h1m16 0h1" stroke="#f4d080"/></g>
<g id="t5_2"><path d="M8 1.5h2m12 0h1m4 0h1m20 0h1m2 0h1m19 0h1m1 0h1m24 0h1m23 0h1m22 0h1m2 0h1m6 0h1m9 0h1m9 0h1m1 0h1m7 0h1m4 0h1m8 0h1m7 0h1m20 0h1m22 0h1m5 0h2m1 0h2m6 0h1m3 0h1m9 0h1m17 0h2m4 0h1m3 0h1m8 0h2m10 0h1m14 0h1m7 0h1m3 0h1m1 0h1m6 0h1m9 0h1m12 0h1m5 0h1m1 0h1m5 0h1m3 0h1m19 0h1m2 0h2m4 0h1m2 0h1m1 0h1m4 0h1m7 0h1m1 0h1m11 0h1m7 0h2m1 0h2m4 0h1m1 0h1m6 0h1m1 0h1m6 0h1m2 0h1m13 0h1m10 0h1m31 0h1m6 0h1m15 0h1m8 0h1m6 0h1m9 0h1m5 0h1m34 0h1m7 0h1m8 0h1m20 0h1m10 0h1m19 0h1m1 0h1m8 0h1m9 0h2m8 0h2" stroke="#ffff00"/><path d="M13 1.5h1m48 0h1m30 0h1m45 0h1m3 0h1m24 0h1m29 0h1m3 0h1m30 0h1m40 0h1m20 0h1m6 0h1m37 0h1m8 0h1m13 0h1m25 0h1m33 0h1m22 0h1m75 0h1m22 0h1m2 0h1m40 0h1m31 0h1m55 0h1m18 0h1m41 0h1m13 0h1" stroke="#a8a014"/><path d="M16 1.5h1m12 0h2m11 0h1m10 0h1m5 0h1m7 0h1m4 0h1m1 0h1m27 0h1m4 0h1m7 0h1m17 0h1m20 0h1m6 0h1m11 0h1m6 0h2m1 0h1m8 0h1m12 0h1m6 0h1m1 0h1m4 0h1m28 0h1m10 0h1m27 0h1m1 0h1m13 0h1m4 0h1m3 0h1m22 0h1m1 0h1m5 0h1m7 0h1m9 0h1m3 0h1m3 0h1m22 0h1m1 0h1m10 0h2m26 0h1m5 0h1m31 0h1m3 0h1m3 0h1m2 0h1m8 0h1m26 0h1m11 0h1m9 0h1m12 0h1m3 0h1m1 0h1m13 0h1m11 0h1m8 0h1m27 0h1m1 0h1m12 0h1m9 0h1m2 0h1m2 0h1m10 0h1m8 0h1m16 0h1m8 0h1m6 0h1m1 0h2m12 0h1m7 0h1m4 0h1" stroke="#180810"/><path d="M5 1.5h1m124 0h1m38 0h1m34 0h1m76 0h1m2 0h1m72 0h1m78 0h1m71 0h1m4 0h1m100 0h1m142 0h1" stroke="#f4d080"/></g>
<g id="t6_2"><path d="M0 1.5h3m7 0h1m3 0h1m10 0h1m1 0h1m11 0h1m4 0h1m16 0h1m9 0h1m5 0h1m5 0h1m4 0h1m7 0h1m18 0h1m2 0h1m5 0h1m19 0h1m7 0h1m3 0h1m2 0h2m2 0h1m5 0h1m12 0h1m4 0h1m10 0h1m10 0h1m10 0h1m1 0h1m2 0h1m8 0h1m8 0h1m12 0h1m1 0h1m4 0h1m11 0h1m7 0h1m8 0h1m2 0h1m11 0h1m1 0h1m5 0h1m14 0h2m1 0h1m4 0h1m23 0h1m11 0h1m2 0h1m3 0h1m23 0h1m14 0h1m9 0h1m5 0h1m3 0h1m4 0h1m17 0h1m3 0h1m31 0h1m1 0h1m10 0h1m5 0h1m15 0h1m6 0h1m7 0h1m2 0h1m30 0h1m16 0h1m3 0h1m14 0h1m3 0h1m3 0h1m1 0h1m24 0h1m5 0h1m23 0h1m9 0h1m8 0h1m13 0h1m13 0h1m2 0h2m2 0h2m5 0h1" stroke="#ffff00"/><path d="M21 1.5h1m6 0h1m33 0h1m10 0h1m30 0h1m3 0h1m20 0h1m47 0h1m12 0h1m6 0h1m15 0h1m54 0h1m2 0h1m41 0h2m2 0h1m101 0h1m31 0h1m3 0h1m49 0h1m1 0h1m35 0h1m51 0h1m11 0h1m40 0h1m15 0h1m1 0h1m12 0h1m44 0h1m31 0h1" stroke="#a8a014"/><path d="M22 1.5h1m1 0h1m9 0h1m10 0h1m1 0h1m2 0h1m21 0h1m8 0h1m24 0h1m5 0h1m6 0h1m27 0h1m1 0h1m4 0h1m15 0h1m3 0h1m10 0h1m13 0h1m10 0h1m8 0h1m3 0h2m2 0h1m4 0h1m5 0h1m8 0h1m6 0h1m4 0h1m9 0h2m5 0h1m22 0h1m24 0h1m30 0h1m1 0h1m2 0h2m4 0h1m13 0h1m5 0h1m2 0h1m4 0h1m2 0h2m4 0h2m8 0h1m2 0h2m6 0h1m7 0h1m5 0h1m7 0h1m17 0h1m27 0h1m10 0h1m5 0h1m1 0h1m12 0h1m2 0h1m39 0h1m8 0h1m2 0h2m21 0h1m3 0h1m28 0h1m4 0h1m58 0h1m9 0h2m14 0h1m1 0h1m8 0h1m16 0h1" stroke="#180810"/><path d="M32 1.5h1m59 0h1m21 0h1m8 0h1m6 0h1m44 0h2m35 0h1m71 0h1m60 0h1m30 0h1m72 0h1m50 0h1m65 0h1m5 0h1m13 0h1m62 0h1m11 0h1m6 0h1m90 0h1" stroke="#f4d080"/></g>
<g id="t7_2"><path d="M8 1.5h1m3 0h1m5 0h1m4 0h2m20 0h1m5 0h1m1 0h1m7 0h1m11 0h1m1 0h1m4 0h1m7 0h1m5 0h1m6 0h1m5 0h1m7 0h1m3 0h1m3 0h2m3 0h2m1 0h1m9 0h1m17 0h2m17 0h1m18 0h1m5 0h1m19 0h1m4 0h1m7 0h2m15 0h1m2 0h1m4 0h2m1 0h1m36 0h2m6 0h1m16 0h1m3 0h1m2 0h1m2 0h1m8 0h1m9 0h2m17 0h1m15 0h1m1 0h1m2 0h1m13 0h1m25 0h1m10 0h1m20 0h1m35 0h1m7 0h2m12 0h1m9 0h1m4 0h1m6 0h1m11 0h1m1 0h1m6 0h1m4 0h2m11 0h1m1 0h1m1 0h2m6 0h1m18 0h1m2 0h1m1 0h1m4 0h1m1 0h1m7 0h1m8 0h1m12 0h1m6 0h2m6 0h1m2 0h1m1 0h2m10 0h1m1 0h1m6 0h1m2 0h1m1 0h1m14 0h1m6 0h1m2 0h1m15 0h1m10 0h1" stroke="#ffff00"/><path d="M19 1.5h1m16 0h1m9 0h1m27 0h1m7 0h1m8 0h1m19 0h2m3 0h1m10 0h1m80 0h1m3 0h1m13 0h1m8 0h1m4 0h1m27 0h1m10 0h1m40 0h1m10 0h1m3 0h1m1 0h1m9 0h1m4 0h1m10 0h1m23 0h1m40 0h1m14 0h2m10 0h1m22 0h1m21 0h1m3 0h1m1 0h1m27 0h1m15 0h1m13 0h1m48 0h1m9 0h1m6 0h1m12 0h1m7 0h1m26 0h1m4 0h2m13 0h1" stroke="#a8a014"/><path d="M1 1.5h1m2 0h2m4 0h1m6 0h1m11 0h2m1 0h1m4 0h1m1 0h1m2 0h2m6 0h1m1 0h1m1 0h1m4 0h2m9 0h1m5 0h1m2 0h1m4 0h1m1 0h1m6 0h1m4 0h1m1 0h1m2 0h2m3 0h1m1 0h1m7 0h1m7 0h1m5 0h1m6 0h1m3 0h1m1 0h1m4 0h2m5 0h2m5 0h1m7 0h2m2 0h1m4 0h1m1 0h2m5 0h1m11 0h1m7 0h1m3 0h1m7 0h1m7 0h2m2 0h1m10 0h2m11 0h3m4 0h1m3 0h1m3 0h1m1 0h1m11 0h1m12 0h1m7 0h1m7 0h1m1 0h2m4 0h1m4 0h1m2 0h1m1 0h1m5 0h1m3 0h1m3 0h1m1 0h1m11 0h1m2 0h1m4 0h1m1 0h1m5 0h2m14 0h1m4 0h1m8 0h1m1 0h1m8 0h3m5 0h1m2 0h2m16 0h1m2 0h2m8 0h2m11 0h1m6 0h2m1 0h1m1 0h1m1 0h1m8 0h1m1 0h1m1 0h2m6 0h2m2 0h1m2 0h1m3 0h1m1 0h1m7 0h1m1 0h1m3 0h2m1 0h1m1 0h1m3 0h1m3 0h1m1 0h1m1 0h1m1 0h2m6 0h1m2 0h2m7 0h1m1 0h1m22 0h1m2 0h2m3 0h1m3 0h1m1 0h1m11 0h1m15 0h1m4 0h2m1 0h1m10 0h2m2 0h1m2 0h1m1 0h1m1 0h2m1 0h1m13 0h1m4 0h1m1 0h1m2 0h1m6 0h1m2 0h1m3 0h2m1 0h1m1 0h1m5 0h2m5 0h3m6 0h1m1 0h1m1 0h2m5 0h1m6 0h1" stroke="#180810"/><path d="M14 1.5h1m13 0h1m91 0h1m33 0h1m6 0h1m23 0h1m98 0h1m12 0h1m79 0h1m22 0h1m59 0h1m146 0h1m2 0h1m23 0h1m51 0h1m41 0h1" stroke="#f4d080"/></g>
<g id="t8_2"><path d="M1 1.5h3m4 0h2m1 0h1m2 0h1m9 0h1m6 0h1m4 0h1m1 0h1m2 0h1m1 0h1m5 0h3m2 0h1m3 0h1m5 0h1m2 0h1m3 0h1m7 0h1m3 0h1m2 0h1m7 0h2m1 0h2m6 0h1m6 0h1m8 0h1m4 0h1m3 0h1m5 0h1m11 0h1m6 0h1m8 0h1m21 0h1m8 0h2m1 0h1m15 0h1m19 0h1m5 0h1m5 0h1m4 0h1m6 0h1m1 0h1m8 0h4m3 0h1m1 0h1m4 0h1m2 0h1m2 0h2m2 0h1m2 0h1m5 0h1m9 0h1m7 0h1m4 0h2m1 0h1m23 0h1m2 0h1m20 0h1m4 0h1m21 0h1m1 0h1m3 0h2m1 0h2m1 0h1m1 0h1m9 0h1m10 0h1m4 0h1m2 0h1m3 0h1m6 0h2m8 0h1m6 0h1m4 0h1m14 0h1m3 0h1m1 0h1m2 0h1m20 0h1m4 0h1m3 0h1m1 0h1m1 0h1m4 0h1m6 0h1m1 0h1m1 0h1m4 0h2m3 0h1m7 0h1m1 0h1m14 0h1m13 0h1m2 0h1m4 0h1m5 0h1m3 0h1m2 0h1m4 0h1m1 0h1m15 0h1m5 0h1m3 0h1m8 0h1m4 0h2m6 0h1m5 0h1m1 0h1m7 0h1m6 0h1m1 0h1m3 0h2m2 0h1m1 0h2m3 0h1m1 0h1m9 0h1m2 0h1m1 0h1m2 0h1m6 0h1m2 0h1" stroke="#ffff00"/><path d="M15 1.5h1m30 0h1m25 0h1m36 0h1m113 0h1m2 0h1m1 0h1m16 0h1m4 0h1m12 0h1m2 0h1m6 0h1m27 0h1m17 0h1m18 0h3m43 0h1m8 0h1m14 0h1m9 0h1m13 0h2m1 0h1m5 0h1m18 0h1m1 0h1m7 0h1m24 0h1m5 0h1m18 0h1m17 0h1m30 0h1m17 0h1m48 0h1m10 0h1m18 0h1m25 0h1m19 0h1m23 0h1" stroke="#a8a014"/><path d="M6 1.5h1m6 0h1m4 0h1m4 0h1m3 0h1m1 0h1m2 0h2m5 0h1m4 0h1m3 0h1m7 0h1m2 0h1m2 0h1m6 0h1m8 0h1m6 0h1m2 0h1m2 0h1m4 0h1m4 0h1m1 0h2m11 0h1m1 0h1m1 0h1m1 0h1m1 0h1m3 0h1m2 0h1m5 0h4m3 0h1m2 0h1m4 0h1m1 0h1m1 0h1m4 0h1m4 0h1m4 0h1m3 0h4m1 0h1m1 0h1m2 0h1m7 0h2m2 0h1m3 0h1m1 0h1m1 0h2m3 0h1m5 0h2m1 0h2m1 0h1m8 0h2m4 0h1m6 0h1m2 0h2m3 0h1m1 0h1m1 0h1m8 0h1m18 0h2m6 0h1m1 0h2m1 0h1m2 0h1m4 0h1m2 0h1m6 0h1m2 0h1m12 0h1m1 0h1m8 0h1m1 0h1m1 0h1m7 0h1m8 0h1m2 0h1m2 0h1m1 0h3m1 0h1m1 0h1m1 0h1m7 0h1m1 0h2m1 0h1m1 0h1m2 0h1m18 0h1m2 0h1m1 0h1m1 0h1m1 0h1m2 0h1m10 0h1m4 0h2m2 0h2m2 0h1m8 0h1m2 0h1m7 0h1m2 0h3m2 0h1m8 0h2m5 0h1m5 0h1m2 0h1m2 0h1m3 0h2m2 0h2m7 0h2m5 0h1m7 0h1m2 0h2m2 0h1m4 0h1m4 0h1m3 0h2m2 0h2m1 0h1m3 0h1m4 0h1m3 0h1m2 0h1m10 0h1m3 0h1m8 0h1m6 0h1m1 0h1m9 0h1m1 0h1m3 0h1m7 0h1m1 0h1m18 0h2m3 0h2m3 0h1m2 0h1m1 0h1m7 0h1m3 0h1m1 0h1m1 0h1m1 0h1m3 0h1m2 0h1m12 0h1m1 0h1m1 0h1m3 0h2m18 0h2m1 0h1m6 0h3" stroke="#180810"/><path d="M37 1.5h1m49 0h1m12 0h1m31 0h2m25 0h1m27 0h1m25 0h1m24 0h1m25 0h1m14 0h1m54 0h1m1 0h1m19 0h1m43 0h1m140 0h1m6 0h1m5 0h1m28 0h1m27 0h2m1 0h1m3 0h1" stroke="#f4d080"/></g>
<g id="t9_2"><path d="M1 1.5h1m6 0h1m2 0h1m4 0h1m1 0h1m4 0h2m3 0h1m9 0h1m7 0h3m4 0h1m2 0h2m24 0h2m1 0h2m2 0h1m4 0h1m4 0h1m1 0h1m1 0h2m10 0h1m4 0h1m6 0h1m1 0h1m1 0h1m2 0h1m4 0h2m7 0h2m2 0h1m1 0h1m2 0h1m4 0h2m3 0h1m6 0h1m2 0h1m1 0h1m3 0h1m1 0h1m7 0h1m1 0h1m5 0h1m1 0h1m3 0h1m4 0h1m3 0h1m1 0h1m4 0h1m1 0h2m2 0h2m4 0h1m1 0h1m1 0h1m2 0h1m3 0h1m2 0h1m2 0h2m6 0h1m11 0h1m17 0h1m5 0h1m1 0h2m16 0h2m11 0h1m2 0h1m3 0h1m4 0h3m2 0h1m5 0h1m2 0h1m2 0h1m2 0h2m6 0h1m8 0h1m1 0h1m2 0h1m1 0h1m9 0h1m1 0h1m3 0h1m5 0h1m3 0h1m4 0h1m1 0h2m10 0h1m1 0h1m7 0h1m3 0h1m5 0h1m3 0h1m11 0h1m1 0h2m2 0h1m2 0h1m13 0h1m1 0h2m3 0h1m1 0h1m4 0h1m5 0h1m1 0h1m3 0h1m2 0h3m3 0h2m1 0h1m4 0h1m12 0h2m1 0h1m2 0h1m4 0h1m2 0h1m1 0h1m3 0h1m2 0h2m8 0h2m4 0h1m1 0h1m6 0h1m3 0h1m3 0h1m10 0h1m3 0h1m3 0h1m1 0h1m1 0h3m12 0h1m1 0h5m1 0h1m4 0h2m6 0h1m1 0h1m3 0h1m3 0h1m8 0h1m2 0h1m6 0h1m1 0h1m11 0h1m11 0h1m3 0h1m4 0h1m3 0h1m2 0h1m15 0h1m10 0h2" stroke="#ffff00"/><path d="M17 1.5h1m3 0h1m15 0h1m25 0h1m29 0h1m27 0h1m23 0h1m10 0h1m15 0h1m2 0h2m3 0h1m15 0h1m17 0h1m2 0h1m32 0h1m18 0h1m14 0h1m23 0h1m17 0h1m18 0h1m18 0h1m27 0h1m1 0h1m1 0h1m42 0h1m9 0h1m50 0h2m3 0h1m17 0h1m7 0h1m7 0h1m26 0h1m6 0h2m12 0h1m1 0h1m18 0h1m46 0h1m15 0h1m14 0h2m4 0h1m3 0h1m4 0h1m40 0h1m14 0h1" stroke="#a8a014"/><path d="M0 1.5h1m3 0h1m1 0h2m2 0h1m2 0h3m4 0h1m1 0h1m2 0h2m3 0h3m2 0h2m2 0h1m1 0h1m1 0h1m7 0h2m1 0h2m2 0h1m3 0h1m2 0h2m4 0h2m2 0h1m8 0h1m2 0h1m4 0h1m3 0h1m1 0h1m3 0h1m3 0h1m1 0h1m5 0h1m3 0h2m2 0h4m2 0h1m3 0h1m3 0h1m1 0h1m3 0h3m1 0h2m3 0h1m3 0h1m4 0h2m7 0h2m2 0h1m7 0h1m2 0h1m2 0h1m3 0h2m5 0h3m1 0h1m3 0h1m6 0h1m5 0h1m1 0h2m1 0h1m6 0h2m1 0h1m1 0h1m3 0h2m1 0h3m1 0h2m2 0h1m3 0h1m3 0h1m1 0h1m2 0h1m1 0h2m3 0h1m5 0h1m3 0h1m3 0h1m8 0h1m6 0h2m1 0h4m1 0h1m1 0h1m1 0h2m4 0h1m2 0h2m4 0h1m5 0h1m2 0h2m9 0h2m1 0h1m1 0h2m4 0h1m3 0h1m1 0h1m1 0h2m3 0h2m2 0h1m2 0h1m1 0h2m4 0h1m1 0h1m1 0h1m1 0h1m6 0h1m2 0h1m1 0h2m2 0h1m4 0h2m1 0h1m2 0h1m1 0h1m4 0h2m2 0h1m4 0h1m6 0h1m1 0h4m7 0h1m1 0h4m1 0h2m5 0h1m2 0h1m2 0h1m1 0h5m1 0h1m2 0h2m4 0h1m1 0h1m1 0h1m6 0h1m2 0h2m1 0h1m1 0h3m1 0h1m4 0h2m3 0h1m1 0h3m2 0h1m2 0h1m1 0h1m1 0h1m1 0h3m2 0h1m1 0h2m1 0h1m2 0h1m1 0h2m3 0h3m2 0h1m2 0h3m2 0h2m3 0h3m2 0h1m4 0h1m1 0h1m2 0h2m1 0h3m1 0h1m1 0h1m2 0h1m2 0h2m1 0h1m1 0h1m1 0h3m1 0h1m6 0h1m4 0h1m3 0h2m10 0h1m1 0h1m2 0h1m2 0h2m2 0h1m1 0h1m4 0h2m2 0h1m1 0h1m1 0h3m1 0h2m1 0h1m1 0h1m2 0h1m1 0h1m4 0h1m3 0h2m5 0h1m2 0h1m1 0h1m2 0h1m1 0h1m1 0h1m2 0h3m1 0h1m1 0h1m1 0h1m3 0h1m1 0h4m5 0h3m1 0h1m1 0h3m1 0h2" stroke="#180810"/><path d="M3 1.5h1m74 0h1m11 0h1m16 0h1m58 0h1m23 0h1m3 0h1m2 0h1m6 0h1m4 0h1m64 0h1m5 0h1m7 0h1m8 0h1m125 0h1m14 0h1m51 0h1m3 0h1m93 0h1m14 0h1m23 0h1m20 0h1m48 0h1m14 0h1m7 0h1m19 0h1m12 0h1m2 0h1" stroke="#f4d080"/></g>
<g id="t10_2"><path d="M1 1.5h1m4 0h1m2 0h1m4 0h1m4 0h3m1 0h2m3 0h2m2 0h1m2 0h1m7 0h1m1 0h1m1 0h2m11 0h2m1 0h1m4 0h2m3 0h1m1 0h1m1 0h1m3 0h2m12 0h1m3 0h1m2 0h3m2 0h1m6 0h1m4 0h1m4 0h2m2 0h1m6 0h1m3 0h2m1 0h1m2 0h1m4 0h2m2 0h1m8 0h1m1 0h1m3 0h1m1 0h1m9 0h1m1 0h1m2 0h1m1 0h2m1 0h1m2 0h1m1 0h1m5 0h1m6 0h2m1 0h3m1 0h1m10 0h3m4 0h1m3 0h1m1 0h1m1 0h5m1 0h1m3 0h2m2 0h2m1 0h1m3 0h1m6 0h2m2 0h2m1 0h3m6 0h1m4 0h2m5 0h1m3 0h1m4 0h1m1 0h3m8 0h1m4 0h1m2 0h1m6 0h1m1 0h1m2 0h2m1 0h2m2 0h1m1 0h1m12 0h1m7 0h1m2 0h1m2 0h1m4 0h1m1 0h1m5 0h1m4 0h2m2 0h1m2 0h1m2 0h1m5 0h1m1 0h1m2 0h1m3 0h1m1 0h1m1 0h1m3 0h2m3 0h1m3 0h1m2 0h1m3 0h1m4 0h1m1 0h1m3 0h1m1 0h1m1 0h2m4 0h1m6 0h3m3 0h2m1 0h1m3 0h1m2 0h1m1 0h2m1 0h1m2 0h1m6 0h2m4 0h2m7 0h2m2 0h1m12 0h2m2 0h1m4 0h1m4 0h2m3 0h1m5 0h1m2 0h2m4 0h1m5 0h1m3 0h1m2 0h2m4 0h2m4 0h1m7 0h1m4 0h2m1 0h1m5 0h1m8 0h1m4 0h1m7 0h1m4 0h1m7 0h1m3 0h1m9 0h1m6 0h1m3 0h2m6 0h3m1 0h1m1 0h3m2 0h3m1 0h1m2 0h1m1 0h2m1 0h1m5 0h2m5 0h1m2 0h1m2 0h1m3 0h4m7 0h2m1 0h1m2 0h2m1 0h1m1 0h1m2 0h1m2 0h3" stroke="#ffff00"/><path d="M12 1.5h2m16 0h1m3 0h1m7 0h1m12 0h1m2 0h1m6 0h1m22 0h1m17 0h1m5 0h1m4 0h1m8 0h1m14 0h1m1 0h1m15 0h1m1 0h2m24 0h1m11 0h1m17 0h1m2 0h1m44 0h1m1 0h2m7 0h1m6 0h1m21 0h1m24 0h1m2 0h1m16 0h1m8 0h1m1 0h1m2 0h1m4 0h1m5 0h1m32 0h1m29 0h1m24 0h1m68 0h1m19 0h1m11 0h2m7 0h1m1 0h1m3 0h1m22 0h1m22 0h1m2 0h1m5 0h1m8 0h1m4 0h1m7 0h1m10 0h2m3 0h1m51 0h1m19 0h1" stroke="#a8a014"/><path d="M2 1.5h4m2 0h1m1 0h2m3 0h1m2 0h1m3 0h1m2 0h1m7 0h1m7 0h1m8 0h1m1 0h1m1 0h1m4 0h1m4 0h1m1 0h2m2 0h1m3 0h1m3 0h3m3 0h1m2 0h1m2 0h3m1 0h1m2 0h1m3 0h1m3 0h1m2 0h2m3 0h1m2 0h1m6 0h1m7 0h4m1 0h3m5 0h1m2 0h1m1 0h1m2 0h1m3 0h1m1 0h1m1 0h1m3 0h1m1 0h1m1 0h1m3 0h2m2 0h2m2 0h1m12 0h1m1 0h1m2 0h1m5 0h2m5 0h1m6 0h2m2 0h2m1 0h1m4 0h2m1 0h1m1 0h2m10 0h1m1 0h3m3 0h1m4 0h3m1 0h1m4 0h1m3 0h1m6 0h1m3 0h1m2 0h1m2 0h1m3 0h1m2 0h1m2 0h1m2 0h1m8 0h1m1 0h5m2 0h1m4 0h2m1 0h1m1 0h2m5 0h1m6 0h2m1 0h1m2 0h1m2 0h2m1 0h1m7 0h2m1 0h1m8 0h1m2 0h1m1 0h1m4 0h2m2 0h1m1 0h1m3 0h1m1 0h1m2 0h1m2 0h2m2 0h1m3 0h2m1 0h2m2 0h1m1 0h1m1 0h1m1 0h1m2 0h1m3 0h2m6 0h2m1 0h2m6 0h2m3 0h1m2 0h1m1 0h1m3 0h4m4 0h1m1 0h1m2 0h1m1 0h2m2 0h2m4 0h1m1 0h2m1 0h6m5 0h1m2 0h3m2 0h2m3 0h1m1 0h1m1 0h1m5 0h2m1 0h1m3 0h1m1 0h1m1 0h2m1 0h2m1 0h1m3 0h1m3 0h1m1 0h1m2 0h2m4 0h1m2 0h3m4 0h2m7 0h2m2 0h4m1 0h2m2 0h3m2 0h2m5 0h3m1 0h1m2 0h1m1 0h1m2 0h1m3 0h1m8 0h1m4 0h2m5 0h1m1 0h1m1 0h2m2 0h1m2 0h1m1 0h1m2 0h1m2 0h1m3 0h1m3 0h1m2 0h3m1 0h2m9 0h1m4 0h1m2 0h1m8 0h1m1 0h1m2 0h1m1 0h3m2 0h1m4 0h1m1 0h1m5 0h1m1 0h1m2 0h1m5 0h1m9 0h1" stroke="#180810"/><path d="M26 1.5h1m22 0h1m35 0h1m25 0h1m9 0h1m7 0h1m18 0h1m26 0h1m25 0h1m4 0h1m8 0h1m8 0h1m7 0h1m4 0h1m20 0h1m13 0h1m12 0h1m9 0h1m28 0h1m38 0h1m8 0h1m38 0h1m6 0h1m16 0h1m13 0h1m38 0h1m24 0h1m58 0h1m10 0h1m43 0h1m3 0h1m70 0h1" stroke="#f4d080"/></g>
<g id="t11_2"><path d="M3 1.5h1m8 0h2m2 0h5m1 0h1m2 0h1m6 0h1m1 0h1m3 0h2m2 0h1m1 0h1m1 0h5m5 0h1m1 0h2m3 0h2m2 0h2m3 0h1m2 0h1m1 0h1m3 0h1m8 0h4m1 0h1m4 0h1m2 0h2m1 0h1m3 0h2m15 0h1m1 0h1m4 0h2m1 0h1m1 0h1m7 0h1m5 0h1m6 0h4m3 0h2m11 0h3m2 0h1m2 0h3m1 0h1m4 0h4m5 0h1m2 0h1m3 0h1m9 0h2m1 0h1m3 0h1m2 0h1m2 0h1m3 0h3m3 0h1m3 0h1m4 0h2m2 0h2m1 0h1m2 0h2m1 0h1m1 0h1m1 0h1m2 0h1m5 0h1m2 0h2m5 0h1m4 0h1m3 0h2m6 0h1m2 0h3m2 0h1m1 0h2m1 0h1m2 0h1m1 0h1m1 0h1m2 0h1m3 0h1m3 0h1m3 0h1m4 0h1m7 0h1m3 0h1m6 0h1m1 0h1m4 0h1m1 0h1m4 0h1m4 0h1m1 0h1m1 0h2m4 0h2m1 0h1m1 0h1m4 0h1m3 0h3m1 0h3m12 0h3m1 0h1m1 0h1m3 0h1m2 0h1m3 0h3m8 0h3m1 0h1m1 0h2m4 0h4m1 0h1m1 0h1m3 0h1m2 0h1m10 0h1m1 0h1m1 0h1m2 0h2m1 0h1m1 0h1m1 0h1m3 0h1m3 0h1m2 0h3m3 0h1m4 0h1m1 0h1m5 0h1m2 0h2m6 0h4m3 0h1m1 0h2m1 0h1m1 0h1m3 0h3m1 0h2m6 0h1m1 0h1m1 0h1m2 0h1m5 0h1m2 0h1m2 0h3m8 0h1m1 0h1m2 0h2m6 0h2m1 0h1m1 0h1m3 0h1m2 0h1m2 0h1m5 0h1m3 0h1m4 0h2m6 0h3m2 0h2m3 0h2m1 0h2m2 0h2m1 0h1m2 0h1m4 0h1m3 0h1m2 0h2m1 0h1m3 0h2m4 0h1m2 0h2m4 0h1m1 0h1m5 0h1m2 0h1m1 0h4m5 0h2m9 0h1m1 0h1m1 0h1m2 0h1" stroke="#ffff00"/><path d="M5 1.5h1m8 0h1m9 0h1m36 0h1m24 0h1m30 0h1m1 0h1m20 0h2m6 0h1m2 0h1m2 0h1m28 0h1m10 0h1m25 0h1m6 0h1m4 0h1m5 0h1m10 0h1m29 0h2m22 0h1m16 0h1m13 0h1m2 0h1m9 0h1m10 0h1m4 0h1m1 0h1m6 0h2m15 0h1m10 0h1m6 0h1m5 0h1m37 0h1m1 0h1m8 0h1m5 0h1m6 0h1m1 0h1m36 0h1m40 0h1m4 0h1m13 0h1m26 0h1m3 0h1m2 0h1m15 0h1m5 0h1m11 0h1m6 0h1m5 0h1m3 0h1m7 0h1m11 0h1m33 0h2m9 0h1m2 0h1m13 0h1m4 0h1m6 0h1" stroke="#a8a014"/><path d="M0 1.5h1m1 0h1m4 0h3m5 0h1m5 0h1m1 0h1m3 0h1m1 0h2m4 0h1m1 0h1m2 0h2m9 0h1m1 0h2m7 0h1m3 0h1m3 0h1m2 0h2m1 0h1m3 0h1m2 0h3m1 0h1m1 0h1m7 0h3m1 0h1m3 0h1m3 0h1m2 0h4m2 0h1m2 0h1m1 0h3m2 0h1m3 0h1m13 0h1m2 0h2m4 0h5m4 0h1m1 0h1m2 0h1m1 0h1m2 0h1m1 0h1m2 0h1m4 0h1m1 0h2m3 0h1m1 0h1m1 0h2m4 0h1m1 0h1m1 0h1m1 0h1m3 0h1m3 0h3m1 0h1m1 0h1m3 0h1m3 0h1m1 0h1m3 0h1m1 0h1m9 0h1m5 0h1m4 0h1m2 0h1m1 0h2m2 0h1m3 0h1m2 0h1m1 0h1m1 0h1m4 0h1m4 0h1m8 0h2m10 0h1m5 0h1m1 0h1m4 0h1m2 0h1m3 0h1m2 0h1m3 0h1m1 0h1m1 0h3m3 0h1m3 0h2m2 0h2m3 0h1m1 0h2m1 0h1m3 0h1m1 0h1m4 0h1m4 0h1m1 0h1m2 0h1m1 0h1m10 0h1m4 0h2m3 0h2m7 0h3m2 0h1m1 0h1m7 0h1m1 0h1m1 0h3m2 0h1m2 0h2m3 0h2m4 0h1m9 0h1m1 0h1m5 0h1m4 0h2m1 0h1m3 0h1m2 0h1m1 0h2m3 0h1m1 0h1m1 0h2m9 0h2m3 0h1m2 0h1m3 0h1m1 0h1m2 0h1m1 0h1m1 0h1m1 0h2m5 0h1m2 0h1m1 0h2m1 0h1m4 0h2m7 0h1m2 0h2m3 0h1m4 0h1m2 0h1m6 0h1m1 0h2m1 0h1m2 0h1m2 0h1m6 0h2m2 0h1m2 0h1m1 0h1m4 0h2m1 0h2m6 0h1m3 0h1m3 0h1m3 0h1m3 0h1m3 0h1m2 0h1m4 0h3m4 0h1m4 0h2m2 0h1m8 0h1m3 0h1m1 0h1m9 0h1m1 0h1m1 0h1m4 0h2m1 0h2m4 0h2m1 0h1m3 0h2m5 0h1m7 0h2m4 0h1m15 0h1" stroke="#180810"/><path d="M6 1.5h1m50 0h1m13 0h1m30 0h1m17 0h1m1 0h1m42 0h1m4 0h1m7 0h1m31 0h1m33 0h1m7 0h1m16 0h1m7 0h1m4 0h1m6 0h1m33 0h1m3 0h1m16 0h1m4 0h1m34 0h1m17 0h1m18 0h1m4 0h3m58 0h1m19 0h1m15 0h1m11 0h1m3 0h1m42 0h1m8 0h1m58 0h1m31 0h1m7 0h1m30 0h1m4 0h1m15 0h1m1 0h1m2 0h1m10 0h1" stroke="#f4d080"/></g>
<g id="t12_2"><path d="M8 1.5h1m1 0h1m5 0h1m1 0h1m1 0h1m1 0h1m1 0h2m7 0h2m2 0h4m3 0h1m5 0h1m2 0h1m1 0h5m3 0h2m3 0h3m2 0h1m4 0h1m1 0h1m2 0h1m1 0h1m10 0h1m3 0h2m3 0h3m1 0h1m2 0h2m4 0h1m3 0h1m5 0h1m1 0h1m2 0h1m1 0h1m2 0h1m2 0h2m1 0h1m4 0h1m2 0h2m3 0h1m1 0h1m3 0h1m1 0h1m2 0h1m1 0h2m2 0h1m6 0h3m2 0h2m2 0h1m1 0h1m3 0h1m3 0h3m5 0h3m3 0h1m4 0h1m1 0h1m1 0h3m1 0h1m2 0h1m8 0h1m1 0h2m1 0h1m5 0h1m2 0h1m3 0h1m1 0h2m1 0h1m1 0h1m7 0h2m1 0h1m3 0h1m4 0h1m3 0h2m3 0h1m5 0h1m2 0h2m1 0h5m2 0h2m2 0h2m2 0h1m3 0h1m1 0h1m1 0h2m3 0h2m1 0h1m1 0h1m1 0h1m1 0h1m1 0h1m4 0h1m1 0h5m1 0h1m1 0h2m1 0h2m2 0h3m4 0h1m3 0h1m1 0h1m4 0h2m1 0h2m3 0h1m4 0h1m3 0h1m1 0h1m8 0h3m5 0h1m1 0h1m1 0h1m1 0h1m2 0h1m1 0h1m1 0h3m2 0h1m1 0h4m9 0h1m3 0h1m2 0h4m1 0h2m4 0h2m1 0h1m1 0h2m7 0h1m1 0h1m1 0h1m1 0h1m2 0h1m1 0h1m2 0h1m1 0h1m1 0h4m1 0h1m2 0h1m2 0h1m2 0h1m7 0h1m1 0h1m7 0h2m7 0h4m1 0h1m3 0h1m2 0h1m1 0h1m5 0h1m2 0h2m5 0h1m5 0h1m3 0h3m2 0h2m5 0h2m3 0h1m1 0h1m1 0h1m3 0h1m5 0h1m1 0h2m1 0h3m2 0h2m6 0h1m6 0h1m5 0h2m1 0h3m5 0h1m1 0h1m15 0h2m1 0h1m3 0h2m2 0h1m1 0h2m1 0h1m3 0h2m1 0h2m2 0h1m2 0h1m2 0h1m2 0h2m2 0h5m6 0h1m2 0h2m1 0h1m5 0h2m1 0h1m2 0h2m1 0h1m1 0h1m1 0h1m3 0h2m2 0h1" stroke="#ffff00"/><path d="M11 1.5h1m2 0h2m20 0h1m10 0h1m3 0h2m18 0h1m9 0h2m3 0h1m4 0h1m2 0h2m2 0h1m4 0h1m28 0h1m1 0h1m8 0h1m12 0h1m4 0h1m2 0h1m4 0h1m14 0h1m10 0h1m3 0h1m16 0h1m5 0h1m6 0h1m4 0h1m8 0h1m2 0h2m1 0h1m20 0h1m11 0h1m9 0h1m5 0h1m2 0h1m16 0h2m49 0h1m13 0h1m11 0h1m3 0h1m4 0h1m6 0h1m4 0h1m22 0h1m4 0h1m2 0h1m2 0h2m2 0h2m2 0h2m7 0h1m2 0h1m21 0h1m9 0h1m7 0h1m10 0h2m11 0h1m19 0h1m4 0h1m15 0h1m2 0h2m1 0h1m9 0h1m19 0h1m2 0h1m4 0h1m10 0h1m3 0h1m3 0h1m6 0h1m2 0h1m9 0h1m1 0h1m1 0h1m4 0h1m4 0h2m6 0h1m9 0h1m16 0h1m2 0h1m25 0h2m4 0h1m15 0h1" stroke="#a8a014"/><path d="M0 1.5h2m3 0h1m6 0h2m7 0h1m1 0h1m2 0h2m1 0h3m9 0h1m1 0h1m1 0h1m2 0h1m12 0h1m3 0h1m1 0h1m6 0h4m9 0h1m1 0h1m7 0h1m10 0h1m2 0h1m4 0h1m2 0h1m4 0h3m2 0h1m9 0h2m6 0h1m2 0h1m3 0h2m2 0h1m1 0h1m1 0h1m3 0h1m6 0h1m3 0h1m1 0h2m7 0h1m2 0h1m12 0h4m3 0h1m6 0h1m7 0h1m1 0h1m2 0h1m3 0h4m6 0h1m2 0h1m2 0h1m4 0h1m1 0h1m6 0h1m1 0h2m2 0h1m2 0h1m2 0h1m3 0h1m3 0h1m10 0h2m6 0h1m6 0h1m3 0h1m5 0h2m4 0h1m2 0h1m4 0h1m1 0h1m5 0h1m3 0h1m10 0h1m2 0h1m12 0h2m15 0h1m2 0h1m1 0h1m3 0h1m4 0h1m1 0h1m1 0h2m6 0h1m1 0h1m3 0h1m1 0h1m1 0h2m1 0h1m1 0h1m3 0h1m9 0h1m1 0h1m3 0h1m11 0h1m3 0h1m4 0h1m1 0h1m3 0h1m1 0h1m2 0h1m1 0h1m3 0h1m2 0h1m4 0h1m1 0h1m6 0h1m1 0h1m3 0h1m9 0h1m2 0h1m1 0h1m2 0h1m1 0h1m3 0h1m2 0h1m7 0h1m1 0h2m9 0h1m4 0h1m3 0h1m1 0h2m2 0h2m4 0h2m3 0h1m5 0h3m3 0h2m5 0h2m2 0h1m2 0h1m2 0h1m6 0h1m3 0h1m3 0h1m4 0h2m1 0h1m1 0h1m1 0h2m7 0h1m8 0h1m1 0h3m3 0h2m3 0h1m6 0h1m2 0h2m6 0h2m3 0h1m3 0h1m1 0h1m10 0h1m7 0h2m4 0h1m2 0h1m2 0h2m7 0h1m2 0h1m3 0h1m1 0h1m4 0h1" stroke="#180810"/><path d="M2 1.5h1m46 0h1m16 0h1m12 0h1m24 0h1m5 0h1m37 0h1m26 0h1m13 0h1m3 0h2m38 0h1m18 0h1m23 0h1m1 0h1m12 0h1m3 0h1m14 0h1m12 0h1m7 0h1m33 0h1m15 0h1m7 0h1m8 0h1m22 0h1m34 0h1m12 0h1m10 0h1m39 0h1m3 0h1m5 0h1m7 0h1m4 0h1m11 0h1m13 0h1m22 0h1m9 0h1m9 0h1m11 0h1m10 0h1m6 0h1m11 0h1m1 0h1m11 0h1m2 0h1m5 0h1m9 0h1m6 0h1m14 0h1m15 0h1m14 0h1" stroke="#f4d080"/></g>
<g id="t13_2"><path d="M2 1.5h1m3 0h2m1 0h4m1 0h2m1 0h2m3 0h2m3 0h2m3 0h1m2 0h1m2 0h1m3 0h2m4 0h3m3 0h1m2 0h2m2 0h5m2 0h3m4 0h1m1 0h2m2 0h1m1 0h1m2 0h3m3 0h2m2 0h3m7 0h1m5 0h2m3 0h1m1 0h1m2 0h2m1 0h1m2 0h1m3 0h2m4 0h2m1 0h1m1 0h1m1 0h2m3 0h1m6 0h1m4 0h2m1 0h2m1 0h3m1 0h4m2 0h1m1 0h4m1 0h3m7 0h2m1 0h1m8 0h2m1 0h2m3 0h4m1 0h1m4 0h3m1 0h3m4 0h2m2 0h1m2 0h2m2 0h3m3 0h3m5 0h1m2 0h1m2 0h2m3 0h1m1 0h1m3 0h2m2 0h5m5 0h1m2 0h2m5 0h1m3 0h1m1 0h2m5 0h2m1 0h1m4 0h1m1 0h3m1 0h1m1 0h3m2 0h1m2 0h1m2 0h3m2 0h1m3 0h5m1 0h3m2 0h3m1 0h1m1 0h1m1 0h1m1 0h2m6 0h1m1 0h2m1 0h1m2 0h1m2 0h3m1 0h2m7 0h1m3 0h2m3 0h1m2 0h1m3 0h1m8 0h1m2 0h1m1 0h2m4 0h1m3 0h5m1 0h2m1 0h1m1 0h3m1 0h1m2 0h1m1 0h1m1 0h3m1 0h1m4 0h1m3 0h6m1 0h2m2 0h4m2 0h4m2 0h1m3 0h3m1 0h3m2 0h1m1 0h1m4 0h2m1 0h2m2 0h2m1 0h3m4 0h1m2 0h4m3 0h3m1 0h1m2 0h1m1 0h3m1 0h1m3 0h4m2 0h5m1 0h2m2 0h3m1 0h1m1 0h4m1 0h1m4 0h2m2 0h1m3 0h2m1 0h2m2 0h3m2 0h1m1 0h2m1 0h2m2 0h1m2 0h1m1 0h1m2 0h1m1 0h2m1 0h1m5 0h3m1 0h2m2 0h1m7 0h3m2 0h4m1 0h2m4 0h1m2 0h3m1 0h1m2 0h5m1 0h2m3 0h2m2 0h2m1 0h1m1 0h1m4 0h2m2 0h2m1 0h1m3 0h2m2 0h1m7 0h4m1 0h1m5 0h1m1 0h3m3 0h2m1 0h2" stroke="#ffff00"/><path d="M1 1.5h1m11 0h1m19 0h2m2 0h1m14 0h2m31 0h1m4 0h2m2 0h2m4 0h1m4 0h1m2 0h2m1 0h1m12 0h1m2 0h1m2 0h1m18 0h1m2 0h2m2 0h1m1 0h1m8 0h1m22 0h1m2 0h1m8 0h1m9 0h1m1 0h1m8 0h2m7 0h2m7 0h1m8 0h2m5 0h1m1 0h1m3 0h1m1 0h1m7 0h1m16 0h1m2 0h1m3 0h1m3 0h1m2 0h1m2 0h1m4 0h1m4 0h1m12 0h1m3 0h2m5 0h1m14 0h1m8 0h1m12 0h2m1 0h1m7 0h1m4 0h1m3 0h1m2 0h1m3 0h1m6 0h1m6 0h1m3 0h1m2 0h1m11 0h1m10 0h1m2 0h1m12 0h1m11 0h1m23 0h1m12 0h1m1 0h1m3 0h2m32 0h1m9 0h1m20 0h1m6 0h1m2 0h2m4 0h1m1 0h1m8 0h1m13 0h1m9 0h1m2 0h1m5 0h1m3 0h1m11 0h1m3 0h1m8 0h1m1 0h1m2 0h1m4 0h1m12 0h2m3 0h1m4 0h1m4 0h1m10 0h1m7 0h1m8 0h1m1 0h1m2 0h1m6 0h1" stroke="#a8a014"/><path d="M0 1.5h1m2 0h2m15 0h2m7 0h2m14 0h1m1 0h1m3 0h1m4 0h1m9 0h2m3 0h1m1 0h1m2 0h1m2 0h1m2 0h1m6 0h1m11 0h4m16 0h1m14 0h1m5 0h1m8 0h1m2 0h1m4 0h1m16 0h2m6 0h1m12 0h1m2 0h2m1 0h2m1 0h1m2 0h1m18 0h1m6 0h1m2 0h1m6 0h2m15 0h1m3 0h1m4 0h1m3 0h1m4 0h1m17 0h1m1 0h1m27 0h1m8 0h1m2 0h1m5 0h1m1 0h1m12 0h1m5 0h1m3 0h1m3 0h3m9 0h1m9 0h1m1 0h1m3 0h1m3 0h1m2 0h1m3 0h2m1 0h1m6 0h1m2 0h1m5 0h1m2 0h2m3 0h2m11 0h1m5 0h2m9 0h1m2 0h1m10 0h1m8 0h2m4 0h1m3 0h1m8 0h1m4 0h1m5 0h1m3 0h1m2 0h1m4 0h2m2 0h2m5 0h2m3 0h1m2 0h1m1 0h1m3 0h1m1 0h1m13 0h1m3 0h1m15 0h1m6 0h2m5 0h1m5 0h1m4 0h1m5 0h2m1 0h1m11 0h1m8 0h2m1 0h2m1 0h2m6 0h1m4 0h1m3 0h1m1 0h1m2 0h1m6 0h1m5 0h1m11 0h1m4 0h2m17 0h2m1 0h4m8 0h1m3 0h1" stroke="#180810"/><path d="M8 1.5h1m10 0h1m4 0h1m11 0h1m43 0h1m35 0h1m30 0h2m6 0h1m15 0h1m7 0h1m12 0h1m67 0h1m27 0h1m10 0h1m10 0h1m13 0h1m44 0h1m4 0h1m25 0h1m1 0h1m25 0h1m1 0h1m8 0h1m18 0h1m4 0h1m14 0h1m9 0h1m49 0h1m31 0h1m9 0h1m27 0h1m35 0h1m41 0h1m9 0h1m19 0h1m29 0h1" stroke="#f4d080"/></g>
<g id="t14_2"><path d="M0 1.5h3m2 0h2m3 0h3m4 0h3m1 0h1m2 0h1m1 0h1m1 0h1m2 0h3m1 0h3m1 0h1m1 0h2m2 0h1m1 0h1m1 0h3m2 0h4m2 0h2m2 0h4m1 0h2m1 0h1m1 0h2m1 0h3m1 0h3m1 0h2m1 0h3m1 0h2m1 0h4m2 0h1m1 0h1m1 0h1m3 0h1m1 0h1m2 0h7m1 0h1m4 0h1m6 0h1m2 0h3m1 0h3m1 0h1m3 0h7m1 0h1m1 0h3m3 0h2m3 0h1m1 0h1m1 0h2m1 0h1m1 0h1m1 0h3m2 0h1m3 0h2m2 0h1m1 0h2m1 0h2m4 0h2m3 0h4m1 0h1m1 0h2m2 0h1m1 0h4m1 0h2m2 0h1m1 0h2m1 0h6m2 0h2m1 0h2m1 0h1m4 0h4m2 0h1m1 0h1m2 0h1m3 0h1m7 0h1m2 0h1m2 0h3m2 0h1m4 0h1m3 0h1m3 0h4m1 0h1m2 0h4m2 0h1m1 0h5m1 0h2m3 0h2m1 0h2m7 0h1m1 0h1m1 0h1m1 0h1m2 0h8m2 0h1m1 0h3m1 0h2m2 0h2m1 0h2m9 0h1m1 0h1m1 0h1m1 0h3m1 0h1m1 0h2m1 0h3m2 0h1m2 0h2m1 0h2m2 0h4m1 0h1m3 0h2m1 0h2m3 0h1m1 0h2m1 0h1m2 0h2m1 0h7m3 0h1m2 0h2m4 0h1m3 0h2m1 0h2m1 0h2m3 0h1m2 0h1m3 0h1m4 0h3m1 0h3m2 0h2m2 0h1m2 0h2m5 0h1m1 0h1m2 0h1m5 0h1m1 0h1m1 0h1m1 0h3m1 0h3m2 0h1m1 0h1m1 0h2m1 0h2m1 0h2m1 0h1m2 0h1m1 0h3m3 0h1m2 0h2m3 0h4m1 0h1m1 0h1m1 0h1m2 0h1m1 0h3m1 0h1m4 0h2m2 0h2m2 0h1m1 0h4m1 0h2m4 0h1m2 0h1m1 0h3m4 0h2m1 0h1m2 0h1m1 0h1m1 0h3m2 0h2m1 0h2m2 0h1m3 0h1m5 0h1m2 0h1m3 0h1m1 0h2m4 0h3m1 0h2m1 0h2m3 0h1m2 0h1m2 0h1m2 0h4m1 0h1m4 0h1m4 0h1m2 0h1m1 0h1m2 0h3m1 0h1m1 0h1m1 0h2m1 0h1m1 0h1m2 0h4m2 0h1m1 0h3m2 0h7m1 0h1m3 0h1" stroke="#ffff00"/><path d="M14 1.5h1m1 0h1m6 0h1m16 0h1m7 0h1m3 0h2m8 0h1m17 0h1m3 0h1m6 0h1m2 0h1m4 0h1m6 0h1m1 0h1m15 0h1m4 0h2m2 0h1m2 0h1m3 0h1m17 0h1m5 0h1m4 0h1m3 0h1m2 0h1m1 0h1m40 0h1m7 0h1m5 0h1m2 0h1m15 0h2m6 0h2m19 0h1m1 0h2m4 0h1m6 0h1m4 0h1m8 0h1m5 0h1m11 0h1m9 0h4m27 0h2m5 0h1m4 0h1m22 0h1m18 0h1m2 0h1m2 0h1m6 0h1m2 0h1m10 0h1m1 0h1m1 0h1m8 0h1m7 0h1m4 0h1m2 0h1m16 0h1m3 0h1m2 0h1m5 0h1m8 0h1m3 0h1m3 0h1m5 0h1m3 0h1m10 0h1m2 0h1m9 0h1m6 0h1m10 0h1m2 0h1m1 0h1m3 0h1m1 0h2m1 0h1m2 0h2m3 0h1m6 0h1m2 0h2m1 0h1m9 0h3m5 0h1m17 0h3m1 0h1m9 0h1m2 0h1m9 0h1m9 0h1m3 0h1m1 0h1m9 0h1m13 0h1m14 0h1m24 0h1m2 0h1" stroke="#a8a014"/><path d="M4 1.5h1m4 0h1m3 0h1m8 0h1m4 0h1m6 0h1m9 0h1m1 0h1m40 0h1m25 0h1m7 0h1m1 0h1m2 0h1m36 0h1m3 0h1m16 0h2m1 0h1m4 0h2m9 0h2m3 0h1m5 0h1m5 0h1m1 0h1m7 0h1m12 0h2m2 0h1m2 0h1m3 0h1m8 0h1m1 0h1m4 0h1m5 0h1m1 0h1m13 0h1m7 0h1m1 0h1m4 0h1m1 0h1m8 0h1m8 0h1m1 0h1m2 0h1m2 0h2m13 0h1m11 0h1m3 0h1m6 0h1m3 0h3m3 0h2m9 0h1m1 0h1m6 0h1m2 0h1m3 0h1m11 0h1m7 0h1m2 0h1m4 0h1m3 0h1m8 0h1m3 0h1m2 0h3m17 0h1m2 0h1m1 0h1m1 0h2m1 0h1m8 0h1m3 0h1m2 0h1m3 0h1m10 0h3m2 0h1m12 0h1m1 0h1m1 0h1m10 0h2m1 0h1m3 0h1m1 0h1m6 0h1m33 0h1m9 0h1m3 0h1m1 0h1m14 0h1m5 0h2m2 0h1m3 0h1m9 0h1m1 0h2m1 0h1m9 0h1m6 0h1m7 0h1m5 0h1m4 0h1m2 0h1m1 0h1m1 0h1m1 0h1m3 0h1m1 0h1m8 0h1m1 0h1m2 0h1m1 0h1m2 0h1m5 0h1m1 0h1m12 0h1" stroke="#180810"/><path d="M20 1.5h1m4 0h1m3 0h2m7 0h1m4 0h1m14 0h2m3 0h1m7 0h1m1 0h1m2 0h1m35 0h1m12 0h1m2 0h1m15 0h1m1 0h1m41 0h1m6 0h1m5 0h1m5 0h1m1 0h1m21 0h1m34 0h1m6 0h3m1 0h1m2 0h1m12 0h1m3 0h2m25 0h1m20 0h1m13 0h1m20 0h1m1 0h1m3 0h1m3 0h1m8 0h1m13 0h1m7 0h1m39 0h1m2 0h1m3 0h1m13 0h1m9 0h1m22 0h2m27 0h1m24 0h1m4 0h1m16 0h1m38 0h1m15 0h1m7 0h1m9 0h1m5 0h2m12 0h1m4 0h1m18 0h1m28 0h1m6 0h2" stroke="#f4d080"/></g>
<g id="t15_2"><path d="M0 1.5h1m1 0h1m3 0h1m1 0h1m1 0h1m2 0h3m2 0h1m2 0h1m1 0h1m3 0h1m1 0h2m1 0h1m1 0h4m1 0h3m1 0h1m1 0h9m1 0h1m3 0h3m2 0h3m2 0h1m3 0h1m1 0h1m1 0h1m1 0h13m3 0h2m2 0h2m2 0h1m4 0h1m1 0h1m1 0h3m2 0h3m3 0h5m3 0h5m2 0h1m1 0h1m3 0h1m1 0h3m1 0h2m3 0h2m1 0h3m1 0h3m1 0h2m1 0h6m1 0h1m1 0h2m2 0h4m1 0h3m1 0h1m3 0h1m1 0h1m1 0h3m1 0h4m1 0h1m1 0h3m1 0h5m1 0h2m1 0h3m1 0h4m1 0h7m2 0h1m4 0h5m4 0h1m1 0h3m1 0h2m1 0h3m3 0h3m1 0h3m3 0h1m1 0h1m1 0h4m1 0h2m2 0h4m1 0h1m1 0h2m2 0h3m2 0h4m3 0h4m3 0h1m2 0h1m1 0h4m1 0h1m1 0h3m2 0h1m3 0h1m2 0h1m2 0h2m1 0h2m1 0h1m1 0h1m1 0h3m1 0h5m1 0h2m1 0h1m4 0h1m3 0h3m2 0h6m2 0h2m3 0h2m4 0h1m1 0h1m2 0h1m1 0h2m1 0h1m5 0h5m1 0h10m1 0h2m3 0h3m2 0h1m3 0h2m1 0h3m2 0h2m1 0h1m2 0h1m1 0h6m8 0h2m2 0h3m2 0h2m1 0h4m1 0h1m1 0h5m1 0h7m3 0h2m1 0h1m3 0h4m1 0h1m1 0h1m1 0h1m1 0h3m2 0h1m1 0h4m3 0h2m2 0h3m3 0h4m1 0h1m1 0h4m1 0h1m2 0h1m1 0h1m2 0h5m1 0h1m1 0h5m2 0h3m2 0h1m2 0h3m1 0h1m1 0h2m1 0h2m2 0h3m1 0h5m1 0h1m1 0h2m1 0h1m1 0h1m1 0h6m3 0h1m1 0h5m3 0h1m1 0h2m2 0h1m4 0h1m1 0h1m1 0h5m1 0h8m1 0h1m2 0h2m3 0h5m2 0h2m1 0h1m1 0h7m1 0h3m1 0h3m1 0h1m2 0h4m4 0h8m1 0h1m1 0h1m1 0h6m1 0h3m1 0h1m1 0h1m1 0h1" stroke="#ffff00"/><path d="M3 1.5h2m2 0h1m1 0h1m10 0h1m1 0h1m2 0h2m4 0h1m22 0h1m13 0h1m1 0h2m30 0h1m2 0h1m1 0h1m7 0h2m5 0h1m6 0h1m7 0h1m3 0h1m10 0h1m1 0h1m6 0h1m3 0h1m15 0h1m4 0h1m5 0h3m24 0h1m2 0h1m8 0h1m8 0h1m1 0h2m7 0h1m8 0h1m6 0h1m5 0h1m4 0h1m2 0h1m1 0h1m8 0h1m4 0h1m1 0h1m8 0h1m6 0h1m8 0h1m2 0h1m4 0h1m5 0h1m2 0h3m4 0h2m2 0h1m2 0h1m7 0h1m8 0h1m1 0h2m1 0h1m1 0h2m4 0h1m11 0h2m4 0h1m1 0h1m1 0h1m4 0h1m2 0h1m1 0h1m1 0h2m6 0h1m13 0h2m4 0h1m7 0h1m3 0h1m5 0h1m2 0h1m6 0h2m2 0h1m1 0h2m3 0h1m4 0h1m9 0h1m18 0h1m1 0h1m1 0h1m4 0h1m5 0h1m3 0h1m2 0h1m6 0h1m14 0h1m6 0h1m4 0h1m16 0h1m21 0h1m11 0h1m2 0h1m1 0h1m20 0h1m12 0h1m7 0h1m8 0h1m5 0h1m1 0h1m6 0h1m12 0h1m3 0h1m3 0h1m1 0h2m5 0h1m21 0h1m3 0h1m1 0h1m1 0h1" stroke="#a8a014"/><path d="M24 1.5h1m3 0h1m13 0h1m20 0h1m3 0h1m8 0h1m1 0h1m14 0h1m4 0h1m21 0h2m17 0h1m2 0h1m2 0h1m7 0h1m14 0h1m21 0h1m5 0h1m47 0h1m7 0h2m14 0h2m7 0h1m35 0h2m10 0h1m19 0h1m13 0h1m9 0h1m16 0h1m79 0h1m10 0h1m12 0h1m32 0h1m16 0h1m7 0h1m3 0h1m4 0h1m8 0h1m6 0h2m4 0h1m14 0h1m4 0h1m1 0h1m4 0h1m1 0h1m2 0h1m2 0h1m4 0h1m25 0h1m18 0h1m20 0h2m3 0h1m6 0h1m3 0h1m25 0h1m11 0h1m1 0h1" stroke="#180810"/><path d="M5 1.5h1m5 0h2m3 0h2m1 0h1m13 0h1m4 0h1m5 0h1m12 0h1m4 0h1m9 0h1m1 0h1m19 0h1m2 0h1m13 0h1m16 0h1m1 0h1m12 0h1m5 0h1m7 0h1m22 0h1m26 0h1m18 0h1m27 0h1m8 0h1m15 0h1m11 0h1m10 0h1m17 0h3m11 0h1m4 0h1m36 0h1m4 0h1m11 0h2m4 0h1m2 0h1m1 0h1m4 0h2m10 0h1m21 0h1m4 0h1m11 0h1m19 0h1m26 0h1m7 0h3m15 0h1m25 0h1m18 0h1m6 0h1m1 0h1m10 0h1m26 0h1m15 0h2m8 0h2m5 0h2m1 0h3m4 0h1m61 0h1" stroke="#f4d080"/></g>
<g id="t16_2"><path d="M0 1.5h1m1 0h3m1 0h4m2 0h6m2 0h1m1 0h3m3 0h2m2 0h1m2 0h1m1 0h1m1 0h5m1 0h3m2 0h2m1 0h1m1 0h1m1 0h1m1 0h1m3 0h2m1 0h1m1 0h3m3 0h3m2 0h3m2 0h2m1 0h6m1 0h2m1 0h3m1 0h4m1 0h2m1 0h3m2 0h1m1 0h3m1 0h3m1 0h2m2 0h1m1 0h5m1 0h1m1 0h1m2 0h2m1 0h1m1 0h10m2 0h3m1 0h6m1 0h6m1 0h3m1 0h2m1 0h6m1 0h1m3 0h4m1 0h1m1 0h1m2 0h1m3 0h4m1 0h3m1 0h7m1 0h1m2 0h2m1 0h4m1 0h1m3 0h2m4 0h8m1 0h1m2 0h8m2 0h9m1 0h6m1 0h2m1 0h7m2 0h1m4 0h3m2 0h2m2 0h3m1 0h2m2 0h1m2 0h2m2 0h1m1 0h3m1 0h3m3 0h2m1 0h1m1 0h2m1 0h9m3 0h2m2 0h4m1 0h2m2 0h1m1 0h3m1 0h1m1 0h4m2 0h6m1 0h3m1 0h1m1 0h5m1 0h1m1 0h3m1 0h3m2 0h5m1 0h3m1 0h2m3 0h3m2 0h1m2 0h1m1 0h2m1 0h7m1 0h1m1 0h3m1 0h3m1 0h1m2 0h3m1 0h2m1 0h3m1 0h1m1 0h1m1 0h5m1 0h1m1 0h4m1 0h3m1 0h1m1 0h5m1 0h4m3 0h1m1 0h2m3 0h1m1 0h7m1 0h1m1 0h3m2 0h1m2 0h3m2 0h4m1 0h3m1 0h4m1 0h2m1 0h3m1 0h4m1 0h1m1 0h5m1 0h1m1 0h2m2 0h3m1 0h1m3 0h1m2 0h1m2 0h7m3 0h1m1 0h2m3 0h1m1 0h2m2 0h7m1 0h5m3 0h1m1 0h3m1 0h3m2 0h1m1 0h1m1 0h10m1 0h1m2 0h1m3 0h8m1 0h3m2 0h1m2 0h2m1 0h3m2 0h1m1 0h1m1 0h3m1 0h6m1 0h7m1 0h3m1 0h5m2 0h1m3 0h2m3 0h1m1 0h1m1 0h2m1 0h4m1 0h1m1 0h5m1 0h2" stroke="#ffff00"/><path d="M1 1.5h1m3 0h1m4 0h1m7 0h1m2 0h1m3 0h3m3 0h1m1 0h1m4 0h1m10 0h1m2 0h1m1 0h1m1 0h1m1 0h1m12 0h1m6 0h1m14 0h1m2 0h1m3 0h1m7 0h1m6 0h1m13 0h1m5 0h1m3 0h2m4 0h1m10 0h1m18 0h1m6 0h1m17 0h1m2 0h1m1 0h3m16 0h1m14 0h1m2 0h2m1 0h1m8 0h1m2 0h1m9 0h1m9 0h1m6 0h1m11 0h1m1 0h2m5 0h2m3 0h1m9 0h2m5 0h1m3 0h1m4 0h2m2 0h1m19 0h2m4 0h1m2 0h1m2 0h1m3 0h1m14 0h1m5 0h1m5 0h1m10 0h1m5 0h1m3 0h1m2 0h1m22 0h1m9 0h1m1 0h1m13 0h1m1 0h1m5 0h1m1 0h1m16 0h1m5 0h2m1 0h1m6 0h1m7 0h1m1 0h1m3 0h1m3 0h1m3 0h1m14 0h1m2 0h1m3 0h1m17 0h1m6 0h1m16 0h2m1 0h1m2 0h3m1 0h1m2 0h1m8 0h1m7 0h1m1 0h1m7 0h2m14 0h1m1 0h2m1 0h3m8 0h1m4 0h1m5 0h1m19 0h1m17 0h1m4 0h1m2 0h3m11 0h1m7 0h1" stroke="#a8a014"/><path d="M11 1.5h1m7 0h1m10 0h1m3 0h1m25 0h2m3 0h1m1 0h1m18 0h1m18 0h1m6 0h1m14 0h1m9 0h1m53 0h1m34 0h1m60 0h1m7 0h1m60 0h2m12 0h1m12 0h1m53 0h1m32 0h1m20 0h1m16 0h1m8 0h1m29 0h1m22 0h1m21 0h1m2 0h1m8 0h1m79 0h1m7 0h2m65 0h1" stroke="#180810"/><path d="M36 1.5h1m7 0h1m3 0h1m24 0h1m3 0h1m4 0h2m29 0h1m5 0h1m3 0h1m2 0h1m30 0h1m3 0h1m6 0h1m10 0h1m9 0h1m2 0h2m4 0h1m3 0h1m9 0h1m3 0h1m10 0h1m7 0h1m1 0h1m6 0h1m11 0h1m9 0h1m33 0h2m7 0h1m8 0h1m5 0h2m9 0h1m6 0h1m2 0h1m9 0h1m22 0h1m5 0h1m10 0h1m9 0h1m7 0h1m14 0h2m3 0h1m2 0h1m2 0h1m2 0h1m9 0h1m10 0h1m10 0h1m20 0h1m1 0h1m17 0h1m18 0h1m1 0h1m5 0h1m8 0h1m24 0h1m5 0h1m6 0h2m2 0h1m2 0h1m36 0h2m6 0h1m6 0h1m1 0h1m30 0h1m3 0h1m9 0h1m1 0h1m3 0h1m14 0h1m10 0h1m1 0h1m10 0h1m2 0h1" stroke="#f4d080"/></g>
</defs>
<g shape-rendering="crispEdges" fill="none" stroke-width="3">
<path d="M983 197.5h740.5M983 200.5h740.5M983 203.5h740.5M983 206.5h510M983 209.5h510M983 212.5h510M983 215.5h510M983 218.5h510M983 221.5h510M983 224.5h510M983 227.5h510M983 230.5h510M983 233.5h291M983 236.5h291M983 239.5h291M1277 242.5h364M983 245.5h291M983 251.5h291M983 254.5h291M983 257.5h291M983 260.5h291M983 263.5h291M983 272.5h291M983 278.5h291M983 284.5h291M1643 284.5h80.5M983 287.5h291M1643 287.5h80.5M983 290.5h291M1643 290.5h80.5M983 293.5h291M983 296.5h291M1277 299.5h364M983 302.5h291M1643 302.5h80.5M983 305.5h291M1643 305.5h80.5M983 314.5h291M1277 317.5h364M1277 320.5h364M983 323.5h291M983 326.5h510M1643 326.5h80.5M983 332.5h291M983 338.5h291M983 341.5h291M1643 341.5h80.5M983 344.5h291M1643 344.5h80.5M983 347.5h291M983 350.5h291M983 353.5h510M983 356.5h510M1277 359.5h216M1277 362.5h216M1277 365.5h216M1277 368.5h216M1277 371.5h216M1277 374.5h216M1277 377.5h216M1277 380.5h216M1277 383.5h216M1277 386.5h216M1277 389.5h216M1277 395.5h216M1277 407.5h216M1277 410.5h216M1277 413.5h216M1277 416.5h216M1277 419.5h216M1277 425.5h216M1277 428.5h216M1277 437.5h216M1277 440.5h216M1277 443.5h216M1277 446.5h216M1277 452.5h216M1277 455.5h216M1277 458.5h216M1277 461.5h216M1277 464.5h216M1277 470.5h216M1277 473.5h216M1277 479.5h216M1277 491.5h216M1277 494.5h216M1495 500.5h228.5M1277 506.5h216M1495 512.5h228.5M1495 515.5h228.5M1495 518.5h228.5M1495 521.5h228.5M1495 524.5h240M1495 527.5h240M1495 530.5h240M983 533.5h740.5M983 536.5h740.5M1495 539.5h146M1495 542.5h228.5M983 545.5h658M1495 548.5h146M983 551.5h658M1495 554.5h146M1495 557.5h146M1495 560.5h146M1495 563.5h146M1495 569.5h146M1495 572.5h146M1495 581.5h146M1495 584.5h146M1495 587.5h146M1495 596.5h146M1495 599.5h146M1495 602.5h146M1495 608.5h146M1495 611.5h146M1495 617.5h146M1495 623.5h146M1495 629.5h146M1495 635.5h146M1495 641.5h146M1495 644.5h146M1495 650.5h146M1495 653.5h146M1495 656.5h146M1495 659.5h146M1495 662.5h146M1495 665.5h146M1495 671.5h146M1495 674.5h146M1495 677.5h146M1643 680.5h92M1643 683.5h92M1643 686.5h92M1643 689.5h92M1643 692.5h92M1495 695.5h240M1495 698.5h240M1495 701.5h240M1643 704.5h80.5M1643 707.5h80.5M1277 710.5h458M983 716.5h291M1643 716.5h92M983 722.5h510M1643 722.5h92M1725 737.5h10M1643 740.5h92M1643 743.5h92M1643 746.5h92M1643 749.5h92M1643 752.5h92M1277 755.5h458M1277 758.5h458M1643 761.5h92M1643 764.5h92M1643 779.5h92M983 788.5h752M1643 794.5h92M983 800.5h658M1643 803.5h92M1643 806.5h92M1643 815.5h92M1725 821.5h10M1725 827.5h10M1725 836.5h10M1725 857.5h10M983 872.5h752M983 881.5h752M1725 887.5h10M1725 890.5h10M983 896.5h752M1725 899.5h10M1725 902.5h10M983 908.5h752M1725 911.5h10M1725 914.5h10M983 920.5h752M983 926.5h752M983 929.5h752M1725 932.5h10" stroke="#47024e"/>
<path d="M1725 197.5h10M1725 200.5h10M1725 203.5h10M1725 206.5h10M1725 209.5h10M1725 212.5h10M1725 353.5h10M1725 356.5h10M983 680.5h510M983 683.5h510M983 686.5h510M983 689.5h510M983 692.5h510" stroke="#ff00ff"/>
<path d="M1495 206.5h146M1495 209.5h146M1495 212.5h146M1725 215.5h10M1725 218.5h10M1725 221.5h10M1725 224.5h10M1725 227.5h10M1725 230.5h10M1725 533.5h10M1725 536.5h10M983 704.5h510M983 707.5h510M983 839.5h740.5" stroke="#c709cc"/>
<path d="M1643 206.5h80.5M1643 209.5h80.5M1643 212.5h80.5M1495 353.5h228.5M1495 356.5h228.5M1495 680.5h146M1495 683.5h146M1495 686.5h146M1495 689.5h146M1495 692.5h146" stroke="#ec03ee"/>
<path d="M1495 215.5h146M1495 218.5h146M1495 221.5h146M1495 224.5h146M1495 227.5h146M1495 230.5h146M1725 248.5h10M1725 281.5h10M1725 308.5h10M1725 311.5h10M1725 386.5h10M983 392.5h291M1725 398.5h10M1725 401.5h10M1725 404.5h10M1725 416.5h10M983 422.5h291M1725 431.5h10M1725 434.5h10M983 449.5h291M1725 467.5h10M983 476.5h291M983 482.5h291M983 485.5h291M983 497.5h291M983 503.5h291M1277 518.5h216M1277 521.5h216M1725 566.5h10M1277 581.5h216M1277 584.5h216M983 641.5h510M983 644.5h510M1495 704.5h146M1495 707.5h146M1495 731.5h146M983 773.5h658M983 845.5h740.5M983 863.5h740.5" stroke="#900995"/>
<path d="M1643 215.5h80.5M1643 218.5h80.5M1643 221.5h80.5M1643 224.5h80.5M1643 227.5h80.5M1643 230.5h80.5M1725 359.5h10M1725 362.5h10M1725 365.5h10M1725 368.5h10M1725 371.5h10M1643 737.5h80.5M983 755.5h291M983 758.5h291" stroke="#b50aba"/>
<path d="M1277 233.5h364M1277 236.5h364M1495 239.5h146M1725 242.5h10M1643 245.5h80.5M1643 251.5h80.5M1277 254.5h216M1643 257.5h80.5M1643 260.5h80.5M1277 263.5h364M1277 272.5h216M1643 278.5h80.5M1495 284.5h146M1725 287.5h10M1277 293.5h216M1495 296.5h146M1725 299.5h10M1725 302.5h10M1495 305.5h146M1643 314.5h80.5M1725 317.5h10M1725 320.5h10M1643 323.5h80.5M1725 326.5h10M1643 332.5h80.5M1643 338.5h80.5M1495 341.5h146M1725 344.5h10M1277 347.5h216M1643 347.5h80.5M1643 350.5h80.5M983 377.5h291M1495 377.5h228.5M983 380.5h291M1495 380.5h228.5M1495 395.5h228.5M1495 407.5h228.5M983 410.5h291M1495 440.5h228.5M1495 443.5h228.5M983 458.5h291M1495 458.5h228.5M983 461.5h291M983 464.5h291M1495 464.5h228.5M983 470.5h291M1495 470.5h228.5M983 473.5h291M1495 479.5h228.5M1495 494.5h228.5M1725 500.5h10M1725 509.5h10M983 524.5h510M983 527.5h510M983 530.5h510M1643 539.5h80.5M1725 542.5h10M983 569.5h510M1643 569.5h92M1725 596.5h10M983 608.5h510M1643 608.5h80.5M983 611.5h510M1643 611.5h92M983 635.5h510M1643 635.5h80.5M983 650.5h510M1643 650.5h80.5M983 653.5h510M1643 653.5h92M983 656.5h510M1643 656.5h80.5M983 665.5h510M1643 665.5h92M983 677.5h510M1643 677.5h80.5M1277 725.5h364M983 728.5h291M1643 731.5h92M983 761.5h658M983 764.5h658M983 803.5h658M983 824.5h740.5M1725 833.5h10M1725 845.5h10M1725 863.5h10M983 869.5h740.5M983 875.5h740.5" stroke="#5c0464"/>
<path d="M1643 233.5h80.5M1643 236.5h80.5M1277 239.5h216M1643 239.5h80.5M983 248.5h291M1643 254.5h80.5M1643 263.5h80.5M983 266.5h291M983 269.5h291M1643 272.5h80.5M983 275.5h291M983 281.5h291M1277 284.5h216M1277 287.5h364M1277 290.5h364M1643 293.5h80.5M1277 296.5h216M1643 296.5h80.5M1277 302.5h364M1277 305.5h216M983 308.5h291M983 311.5h291M1495 326.5h146M983 329.5h291M983 335.5h291M1277 341.5h216M1277 344.5h364M1277 392.5h216M1277 398.5h216M1277 401.5h216M1277 404.5h216M1495 410.5h228.5M1277 422.5h216M983 428.5h291M1495 428.5h228.5M1277 431.5h216M1277 434.5h216M1277 449.5h216M1495 461.5h228.5M1277 467.5h216M1495 473.5h228.5M1277 476.5h216M1277 482.5h216M1277 485.5h216M1277 488.5h216M1277 497.5h216M983 500.5h291M1277 503.5h216M983 509.5h291M1495 509.5h228.5M1643 548.5h80.5M1643 554.5h80.5M1643 557.5h80.5M1495 566.5h146M1495 575.5h146M1495 578.5h146M1495 590.5h146M1495 593.5h146M983 596.5h510M1643 596.5h80.5M983 599.5h510M1643 599.5h92M1495 605.5h146M1495 614.5h146M1495 620.5h146M1495 626.5h146M1495 632.5h146M1495 638.5h146M1495 647.5h146M1495 668.5h146M1643 713.5h92M1277 716.5h364M1495 722.5h146M983 725.5h291M1643 725.5h92M1643 728.5h92M1643 734.5h92M983 740.5h658M983 743.5h658M983 746.5h658M983 749.5h658M983 752.5h658M1643 767.5h92M1643 770.5h92M1643 773.5h92M1643 782.5h92M1643 785.5h92M1643 797.5h92M1643 809.5h92M1643 812.5h92M983 821.5h740.5M1725 824.5h10M983 827.5h740.5M983 836.5h740.5M1725 842.5h10M1725 851.5h10M1725 854.5h10M983 857.5h740.5M1725 866.5h10M1725 869.5h10M1725 875.5h10M1725 878.5h10M1725 884.5h10M983 887.5h740.5M1725 893.5h10M1725 905.5h10M1725 935.5h10" stroke="#510359"/>
<path d="M1725 233.5h10M1495 245.5h146M1277 248.5h216M1495 251.5h146M1725 254.5h10M1495 257.5h146M1495 260.5h146M1643 266.5h80.5M1643 269.5h80.5M1725 272.5h10M1643 275.5h80.5M1725 278.5h10M1277 281.5h216M1725 293.5h10M1277 308.5h364M1643 311.5h80.5M1495 314.5h146M1643 329.5h80.5M1643 335.5h80.5M1725 338.5h10M1725 347.5h10M1495 350.5h146M1643 359.5h80.5M1643 362.5h80.5M1643 365.5h80.5M1643 368.5h80.5M1643 371.5h80.5M983 374.5h291M1725 377.5h10M1725 380.5h10M983 383.5h291M983 386.5h291M1495 386.5h228.5M1725 395.5h10M1495 401.5h228.5M1495 404.5h228.5M1725 407.5h10M983 413.5h291M983 416.5h291M1495 416.5h228.5M983 419.5h291M983 425.5h291M1495 431.5h228.5M1495 434.5h228.5M1725 440.5h10M1725 443.5h10M983 455.5h291M1725 458.5h10M1725 464.5h10M1495 467.5h228.5M1725 479.5h10M1725 494.5h10M983 506.5h291M983 512.5h510M983 515.5h510M1725 545.5h10M1725 551.5h10M1725 572.5h10M983 575.5h510M1643 575.5h80.5M983 578.5h510M1643 578.5h80.5M1643 581.5h80.5M1643 584.5h80.5M983 587.5h510M1643 587.5h92M983 590.5h510M1643 590.5h80.5M983 593.5h510M1643 593.5h80.5M983 602.5h510M1643 602.5h92M983 605.5h510M1643 605.5h80.5M1725 617.5h10M983 620.5h510M1643 620.5h92M1725 623.5h10M983 626.5h510M1643 626.5h80.5M1725 629.5h10M983 632.5h510M1643 632.5h80.5M1643 641.5h80.5M1643 644.5h80.5M983 662.5h510M1643 662.5h92M983 668.5h510M1643 668.5h80.5M983 674.5h510M1643 674.5h92M983 695.5h510M983 698.5h510M983 701.5h510M1277 713.5h364M1495 728.5h146M983 731.5h291M1277 734.5h364M983 770.5h658M983 782.5h658M983 797.5h658M983 809.5h658M983 854.5h740.5" stroke="#730778"/>
<path d="M1725 236.5h10M1725 239.5h10M1277 245.5h216M1643 248.5h80.5M1277 251.5h216M1495 254.5h146M1277 257.5h216M1277 260.5h216M1725 263.5h10M1495 272.5h146M1277 278.5h364M1643 281.5h80.5M1725 284.5h10M1725 290.5h10M1495 293.5h146M1725 296.5h10M1725 305.5h10M1643 308.5h80.5M1277 314.5h216M1277 323.5h364M1277 332.5h364M1277 338.5h364M1725 341.5h10M1495 347.5h146M1277 350.5h216M1495 374.5h228.5M1495 383.5h228.5M983 389.5h291M1495 389.5h228.5M983 395.5h291M983 407.5h291M1725 410.5h10M1495 413.5h228.5M1495 419.5h228.5M1495 425.5h228.5M1725 428.5h10M983 437.5h291M1495 437.5h228.5M983 440.5h291M983 443.5h291M983 446.5h291M1495 446.5h228.5M983 452.5h291M1495 452.5h228.5M1495 455.5h228.5M1725 461.5h10M1725 470.5h10M1725 473.5h10M983 479.5h291M983 491.5h291M1495 491.5h228.5M983 494.5h291M1495 506.5h228.5M1725 539.5h10M1643 545.5h80.5M1725 548.5h10M1643 551.5h80.5M1725 554.5h10M1725 557.5h10M983 560.5h510M1643 560.5h92M983 563.5h510M1643 563.5h92M983 572.5h510M1643 572.5h80.5M1725 608.5h10M983 617.5h510M1643 617.5h80.5M983 623.5h510M1643 623.5h80.5M983 629.5h510M1643 629.5h80.5M1725 635.5h10M1725 650.5h10M1725 656.5h10M983 659.5h510M1643 659.5h92M983 671.5h510M1643 671.5h92M1725 677.5h10M983 713.5h291M1277 728.5h216M983 734.5h291M983 779.5h658M983 794.5h658M983 806.5h658M983 815.5h658M1725 839.5h10M983 842.5h740.5M983 851.5h740.5M983 866.5h740.5M983 884.5h740.5M983 935.5h740.5" stroke="#67056e"/>
<path d="M983 242.5h291M1643 242.5h80.5M983 299.5h291M1643 299.5h80.5M983 317.5h291M1643 317.5h80.5M983 320.5h291M1643 320.5h80.5M1277 500.5h216M1277 509.5h216M983 539.5h510M983 548.5h510M983 554.5h510M983 557.5h510M983 710.5h291M1495 719.5h240M983 776.5h752M1643 791.5h92M1643 800.5h92M1725 818.5h10M1725 830.5h10M1725 848.5h10M1725 860.5h10M983 890.5h740.5M983 911.5h740.5M983 914.5h740.5M1725 917.5h10M1725 923.5h10" stroke="#3c0143"/>
<path d="M1725 245.5h10M1495 248.5h146M1725 251.5h10M1725 257.5h10M1725 260.5h10M1277 266.5h364M1277 269.5h364M1277 275.5h364M1495 281.5h146M1277 311.5h364M1725 314.5h10M1725 323.5h10M1277 329.5h364M1725 332.5h10M1277 335.5h364M1725 350.5h10M983 359.5h291M1495 359.5h146M983 362.5h291M1495 362.5h146M983 365.5h291M1495 365.5h146M983 368.5h291M1495 368.5h146M983 371.5h291M1495 371.5h146M1725 374.5h10M1725 383.5h10M1725 389.5h10M1495 392.5h228.5M983 398.5h291M1495 398.5h228.5M983 401.5h291M983 404.5h291M1725 413.5h10M1725 419.5h10M1495 422.5h228.5M1725 425.5h10M983 431.5h291M983 434.5h291M1725 437.5h10M1725 446.5h10M1495 449.5h228.5M1725 452.5h10M1725 455.5h10M983 467.5h291M1495 476.5h228.5M1495 482.5h228.5M1495 485.5h228.5M983 488.5h291M1495 488.5h228.5M1725 491.5h10M1495 497.5h228.5M1495 503.5h228.5M1725 506.5h10M1725 512.5h10M1725 515.5h10M1725 518.5h10M1725 521.5h10M983 566.5h510M1643 566.5h80.5M1725 575.5h10M1725 578.5h10M1725 581.5h10M1725 584.5h10M1725 590.5h10M1725 593.5h10M1725 605.5h10M983 614.5h510M1643 614.5h92M1725 626.5h10M1725 632.5h10M983 638.5h510M1643 638.5h92M1725 641.5h10M1725 644.5h10M983 647.5h510M1643 647.5h92M1725 668.5h10M1725 704.5h10M1725 707.5h10M1277 731.5h216M983 767.5h658M983 812.5h658M983 833.5h740.5M983 878.5h740.5M983 893.5h740.5M1643 899.5h80.5M1643 902.5h80.5M983 905.5h740.5" stroke="#7e0882"/>
<path d="M1725 266.5h10M1725 269.5h10M1725 275.5h10M1725 329.5h10M1725 335.5h10M1725 392.5h10M1725 422.5h10M1725 449.5h10M1725 476.5h10M1725 482.5h10M1725 485.5h10M1725 488.5h10M1725 497.5h10M1725 503.5h10M983 518.5h291M983 521.5h291M983 581.5h291M983 584.5h291M983 785.5h658M983 899.5h658M983 902.5h658" stroke="#a309a7"/>
<path d="M983 542.5h510M983 719.5h510M983 791.5h658M983 818.5h740.5M983 830.5h740.5M983 848.5h740.5M983 860.5h740.5M983 917.5h740.5M983 923.5h740.5M983 932.5h740.5" stroke="#320038"/>
<path d="M983 737.5h658" stroke="#da06dd"/>
<defs><clipPath id="k0"><rect x="983" y="196" width="291" height="741"/></clipPath><clipPath id="k1"><rect x="1277" y="196" width="216" height="741"/></clipPath><clipPath id="k2"><rect x="1495" y="196" width="146" height="741"/></clipPath><clipPath id="k3"><rect x="1643" y="196" width="80.5" height="741"/></clipPath><clipPath id="k4"><rect x="1725" y="196" width="10" height="741"/></clipPath></defs>
<g clip-path="url(#k0)"><use href="#t15_2" x="938" y="196"/><use href="#t15_0" x="942" y="199"/><use href="#t15_2" x="871" y="202"/><use href="#t12_1" x="574" y="205"/><use href="#t12_0" x="673" y="208"/><use href="#t12_2" x="646" y="211"/><use href="#t10_1" x="711" y="214"/><use href="#t10_0" x="960" y="217"/><use href="#t10_1" x="680" y="220"/><use href="#t10_0" x="581" y="223"/><use href="#t10_0" x="676" y="226"/><use href="#t10_2" x="977" y="229"/><use href="#t13_2" x="971" y="232"/><use href="#t10_0" x="674" y="235"/><use href="#t12_2" x="740" y="238"/><use href="#t11_2" x="897" y="241"/><use href="#t5_0" x="781" y="244"/><use href="#t11_1" x="628" y="247"/><use href="#t8_2" x="887" y="250"/><use href="#t8_0" x="756" y="253"/><use href="#t6_1" x="643" y="256"/><use href="#t9_0" x="877" y="259"/><use href="#t7_2" x="680" y="262"/><use href="#t9_0" x="736" y="265"/><use href="#t11_1" x="937" y="268"/><use href="#t7_0" x="563" y="271"/><use href="#t10_2" x="916" y="274"/><use href="#t8_1" x="899" y="277"/><use href="#t9_0" x="926" y="280"/><use href="#t12_0" x="655" y="283"/><use href="#t9_1" x="899" y="286"/><use href="#t11_2" x="626" y="289"/><use href="#t8_1" x="840" y="292"/><use href="#t10_2" x="706" y="295"/><use href="#t10_1" x="916" y="298"/><use href="#t12_1" x="663" y="301"/><use href="#t11_2" x="768" y="304"/><use href="#t10_2" x="881" y="307"/><use href="#t10_2" x="850" y="310"/><use href="#t10_1" x="930" y="313"/><use href="#t12_1" x="576" y="316"/><use href="#t12_2" x="589" y="319"/><use href="#t10_2" x="855" y="322"/><use href="#t9_2" x="716" y="325"/><use href="#t11_0" x="806" y="328"/><use href="#t11_2" x="643" y="331"/><use href="#t9_0" x="909" y="334"/><use href="#t12_0" x="628" y="337"/><use href="#t8_0" x="843" y="340"/><use href="#t11_2" x="735" y="343"/><use href="#t7_2" x="694" y="346"/><use href="#t9_2" x="967" y="349"/><use href="#t11_1" x="540" y="352"/><use href="#t11_1" x="904" y="355"/><use href="#t4_0" x="798" y="358"/><use href="#t4_2" x="802" y="361"/><use href="#t4_1" x="834" y="364"/><use href="#t4_1" x="547" y="367"/><use href="#t4_0" x="927" y="370"/><use href="#t6_1" x="740" y="373"/><use href="#t6_0" x="855" y="376"/><use href="#t5_2" x="528" y="379"/><use href="#t5_1" x="549" y="382"/><use href="#t7_2" x="888" y="385"/><use href="#t8_2" x="756" y="388"/><use href="#t7_1" x="655" y="391"/><use href="#t4_0" x="677" y="394"/><use href="#t3_0" x="828" y="397"/><use href="#t6_0" x="840" y="400"/><use href="#t4_2" x="658" y="403"/><use href="#t5_2" x="661" y="406"/><use href="#t5_0" x="648" y="409"/><use href="#t5_2" x="845" y="412"/><use href="#t6_2" x="858" y="415"/><use href="#t7_1" x="952" y="418"/><use href="#t8_0" x="672" y="421"/><use href="#t5_0" x="557" y="424"/><use href="#t4_1" x="772" y="427"/><use href="#t6_0" x="783" y="430"/><use href="#t7_2" x="647" y="433"/><use href="#t5_1" x="621" y="436"/><use href="#t4_2" x="592" y="439"/><use href="#t7_1" x="531" y="442"/><use href="#t5_1" x="727" y="445"/><use href="#t8_2" x="738" y="448"/><use href="#t6_2" x="772" y="451"/><use href="#t5_0" x="956" y="454"/><use href="#t6_1" x="948" y="457"/><use href="#t4_2" x="518" y="460"/><use href="#t6_0" x="878" y="463"/><use href="#t6_1" x="794" y="466"/><use href="#t4_2" x="842" y="469"/><use href="#t7_2" x="609" y="472"/><use href="#t4_0" x="813" y="475"/><use href="#t5_1" x="714" y="478"/><use href="#t5_0" x="757" y="481"/><use href="#t7_1" x="892" y="484"/><use href="#t7_1" x="716" y="487"/><use href="#t6_0" x="980" y="490"/><use href="#t8_2" x="750" y="493"/><use href="#t5_1" x="734" y="496"/><use href="#t4_1" x="736" y="499"/><use href="#t9_2" x="601" y="502"/><use href="#t5_0" x="730" y="505"/><use href="#t5_2" x="925" y="508"/><use href="#t5_1" x="772" y="511"/><use href="#t5_2" x="653" y="514"/><use href="#t3_0" x="796" y="517"/><use href="#t3_2" x="642" y="520"/><use href="#t4_2" x="605" y="523"/><use href="#t4_1" x="640" y="526"/><use href="#t4_0" x="554" y="529"/><use href="#t10_1" x="807" y="532"/><use href="#t10_1" x="637" y="535"/><use href="#t3_1" x="635" y="538"/><use href="#t4_0" x="877" y="541"/><use href="#t4_2" x="962" y="544"/><use href="#t2_1" x="777" y="547"/><use href="#t4_2" x="668" y="550"/><use href="#t4_0" x="929" y="553"/><use href="#t2_0" x="566" y="556"/><use href="#t5_0" x="525" y="559"/><use href="#t4_1" x="554" y="562"/><use href="#t4_0" x="897" y="565"/><use href="#t4_0" x="619" y="568"/><use href="#t6_2" x="843" y="571"/><use href="#t5_2" x="888" y="574"/><use href="#t7_0" x="599" y="577"/><use href="#t3_2" x="728" y="580"/><use href="#t3_0" x="868" y="583"/><use href="#t7_2" x="732" y="586"/><use href="#t6_0" x="981" y="589"/><use href="#t5_0" x="981" y="592"/><use href="#t4_2" x="937" y="595"/><use href="#t6_2" x="529" y="598"/><use href="#t6_2" x="705" y="601"/><use href="#t5_2" x="971" y="604"/><use href="#t8_2" x="613" y="607"/><use href="#t5_0" x="725" y="610"/><use href="#t4_2" x="907" y="613"/><use href="#t4_2" x="860" y="616"/><use href="#t5_2" x="708" y="619"/><use href="#t5_0" x="723" y="622"/><use href="#t4_2" x="875" y="625"/><use href="#t5_0" x="832" y="628"/><use href="#t8_0" x="941" y="631"/><use href="#t6_2" x="925" y="634"/><use href="#t6_0" x="970" y="637"/><use href="#t3_0" x="548" y="640"/><use href="#t3_2" x="623" y="643"/><use href="#t6_2" x="687" y="646"/><use href="#t5_1" x="727" y="649"/><use href="#t5_2" x="703" y="652"/><use href="#t4_2" x="943" y="655"/><use href="#t6_0" x="937" y="658"/><use href="#t4_2" x="578" y="661"/><use href="#t6_2" x="646" y="664"/><use href="#t4_1" x="523" y="667"/><use href="#t6_1" x="912" y="670"/><use href="#t7_0" x="719" y="673"/><use href="#t5_2" x="962" y="676"/><use href="#t5_2" x="674" y="694"/><use href="#t5_1" x="695" y="697"/><use href="#t5_2" x="783" y="700"/><use href="#t1_1" x="850" y="703"/><use href="#t1_1" x="865" y="706"/><use href="#t2_2" x="929" y="709"/><use href="#t2_1" x="623" y="712"/><use href="#t2_2" x="790" y="715"/><use href="#t2_2" x="804" y="718"/><use href="#t2_1" x="720" y="721"/><use href="#t2_2" x="682" y="724"/><use href="#t2_0" x="744" y="727"/><use href="#t2_1" x="566" y="730"/><use href="#t2_1" x="593" y="733"/><use href="#t2_0" x="528" y="739"/><use href="#t2_2" x="593" y="742"/><use href="#t2_0" x="655" y="745"/><use href="#t2_1" x="670" y="748"/><use href="#t2_0" x="541" y="751"/><use href="#t5_0" x="612" y="754"/><use href="#t5_2" x="552" y="757"/><use href="#t7_0" x="530" y="760"/><use href="#t4_0" x="714" y="763"/><use href="#t3_1" x="631" y="766"/><use href="#t5_1" x="721" y="769"/><use href="#t2_2" x="901" y="772"/><use href="#t5_1" x="624" y="775"/><use href="#t4_1" x="660" y="778"/><use href="#t5_2" x="620" y="781"/><use href="#t5_2" x="794" y="784"/><use href="#t4_0" x="927" y="787"/><use href="#t5_1" x="933" y="790"/><use href="#t4_1" x="527" y="793"/><use href="#t4_2" x="705" y="796"/><use href="#t5_2" x="953" y="799"/><use href="#t4_1" x="638" y="802"/><use href="#t3_1" x="775" y="805"/><use href="#t5_1" x="639" y="808"/><use href="#t3_0" x="817" y="811"/><use href="#t4_1" x="847" y="814"/><use href="#t3_2" x="971" y="817"/><use href="#t2_2" x="957" y="820"/><use href="#t4_2" x="517" y="823"/><use href="#t4_2" x="658" y="826"/><use href="#t4_1" x="916" y="829"/><use href="#t2_1" x="941" y="832"/><use href="#t3_0" x="728" y="835"/><use href="#t2_1" x="728" y="838"/><use href="#t5_1" x="923" y="841"/><use href="#t2_2" x="612" y="844"/><use href="#t3_2" x="698" y="847"/><use href="#t4_0" x="705" y="850"/><use href="#t3_2" x="710" y="853"/><use href="#t4_1" x="941" y="856"/><use href="#t4_0" x="615" y="859"/><use href="#t2_0" x="964" y="862"/><use href="#t2_2" x="772" y="865"/><use href="#t3_2" x="743" y="868"/><use href="#t3_0" x="760" y="871"/><use href="#t3_0" x="627" y="874"/><use href="#t3_1" x="720" y="877"/><use href="#t4_0" x="545" y="880"/><use href="#t2_2" x="780" y="883"/><use href="#t3_0" x="614" y="886"/><use href="#t3_2" x="610" y="889"/><use href="#t4_2" x="518" y="892"/><use href="#t3_1" x="683" y="895"/><use href="#t2_1" x="983" y="898"/><use href="#t2_1" x="907" y="901"/><use href="#t5_0" x="955" y="904"/><use href="#t5_2" x="523" y="907"/><use href="#t4_2" x="738" y="910"/><use href="#t2_2" x="856" y="913"/><use href="#t2_0" x="944" y="916"/><use href="#t6_0" x="931" y="919"/><use href="#t2_1" x="526" y="922"/><use href="#t4_2" x="663" y="925"/><use href="#t4_2" x="967" y="928"/><use href="#t3_1" x="756" y="931"/><use href="#t3_0" x="580" y="934"/></g>
<g clip-path="url(#k1)"><use href="#t14_1" x="827" y="196"/><use href="#t14_2" x="826" y="199"/><use href="#t14_1" x="1060" y="202"/><use href="#t11_0" x="1214" y="205"/><use href="#t11_0" x="964" y="208"/><use href="#t11_1" x="1061" y="211"/><use href="#t9_2" x="1010" y="214"/><use href="#t9_1" x="968" y="217"/><use href="#t9_2" x="1053" y="220"/><use href="#t9_0" x="879" y="223"/><use href="#t9_1" x="914" y="226"/><use href="#t9_1" x="864" y="229"/><use href="#t11_0" x="1225" y="232"/><use href="#t8_0" x="996" y="235"/><use href="#t10_2" x="796" y="238"/><use href="#t9_0" x="879" y="241"/><use href="#t4_2" x="1064" y="244"/><use href="#t9_1" x="1243" y="247"/><use href="#t6_1" x="764" y="250"/><use href="#t6_2" x="962" y="253"/><use href="#t5_0" x="1211" y="256"/><use href="#t7_1" x="809" y="259"/><use href="#t5_1" x="898" y="262"/><use href="#t7_2" x="1102" y="265"/><use href="#t9_0" x="925" y="268"/><use href="#t5_1" x="830" y="271"/><use href="#t8_1" x="815" y="274"/><use href="#t6_1" x="1022" y="277"/><use href="#t7_2" x="1277" y="280"/><use href="#t10_1" x="1048" y="283"/><use href="#t7_0" x="796" y="286"/><use href="#t9_1" x="806" y="289"/><use href="#t6_1" x="1229" y="292"/><use href="#t8_0" x="995" y="295"/><use href="#t8_1" x="927" y="298"/><use href="#t10_0" x="1262" y="301"/><use href="#t9_0" x="1118" y="304"/><use href="#t8_0" x="822" y="307"/><use href="#t8_1" x="963" y="310"/><use href="#t8_1" x="913" y="313"/><use href="#t10_1" x="808" y="316"/><use href="#t10_0" x="1243" y="319"/><use href="#t8_1" x="1158" y="322"/><use href="#t7_2" x="987" y="325"/><use href="#t9_2" x="1134" y="328"/><use href="#t9_1" x="796" y="331"/><use href="#t7_1" x="1021" y="334"/><use href="#t9_0" x="1211" y="337"/><use href="#t6_2" x="868" y="340"/><use href="#t9_2" x="1025" y="343"/><use href="#t5_0" x="1220" y="346"/><use href="#t7_2" x="758" y="349"/><use href="#t12_1" x="1124" y="352"/><use href="#t12_0" x="788" y="355"/><use href="#t11_2" x="1213" y="358"/><use href="#t11_2" x="1054" y="361"/><use href="#t11_2" x="1228" y="364"/><use href="#t11_2" x="1099" y="367"/><use href="#t11_2" x="1100" y="370"/><use href="#t11_0" x="804" y="373"/><use href="#t11_1" x="840" y="376"/><use href="#t10_0" x="974" y="379"/><use href="#t9_0" x="926" y="382"/><use href="#t13_0" x="988" y="385"/><use href="#t13_0" x="987" y="388"/><use href="#t12_0" x="825" y="391"/><use href="#t9_1" x="872" y="394"/><use href="#t7_1" x="1244" y="397"/><use href="#t11_0" x="1268" y="400"/><use href="#t8_0" x="1050" y="403"/><use href="#t10_1" x="1144" y="406"/><use href="#t10_0" x="919" y="409"/><use href="#t10_1" x="1015" y="412"/><use href="#t11_0" x="1002" y="415"/><use href="#t12_0" x="1119" y="418"/><use href="#t14_0" x="833" y="421"/><use href="#t10_2" x="977" y="424"/><use href="#t7_2" x="878" y="427"/><use href="#t11_1" x="1090" y="430"/><use href="#t13_1" x="879" y="433"/><use href="#t10_2" x="982" y="436"/><use href="#t8_1" x="1048" y="439"/><use href="#t12_1" x="883" y="442"/><use href="#t9_2" x="763" y="445"/><use href="#t13_0" x="779" y="448"/><use href="#t11_0" x="1144" y="451"/><use href="#t9_0" x="1075" y="454"/><use href="#t10_0" x="1276" y="457"/><use href="#t8_2" x="963" y="460"/><use href="#t10_2" x="840" y="463"/><use href="#t11_0" x="1037" y="466"/><use href="#t8_2" x="1199" y="469"/><use href="#t12_2" x="888" y="472"/><use href="#t9_0" x="993" y="475"/><use href="#t10_1" x="1004" y="478"/><use href="#t9_0" x="781" y="481"/><use href="#t12_0" x="1110" y="484"/><use href="#t13_1" x="853" y="487"/><use href="#t11_0" x="919" y="490"/><use href="#t14_1" x="1022" y="493"/><use href="#t9_2" x="931" y="496"/><use href="#t9_2" x="1262" y="499"/><use href="#t15_1" x="1076" y="502"/><use href="#t9_2" x="1146" y="505"/><use href="#t10_1" x="753" y="508"/><use href="#t7_1" x="810" y="511"/><use href="#t7_0" x="1213" y="514"/><use href="#t4_2" x="1258" y="517"/><use href="#t4_0" x="1185" y="520"/><use href="#t5_2" x="1181" y="523"/><use href="#t5_0" x="1032" y="526"/><use href="#t5_1" x="1144" y="529"/><use href="#t10_0" x="803" y="532"/><use href="#t10_2" x="954" y="535"/><use href="#t4_2" x="943" y="538"/><use href="#t4_1" x="766" y="541"/><use href="#t5_2" x="1185" y="544"/><use href="#t3_1" x="1081" y="547"/><use href="#t4_1" x="1143" y="550"/><use href="#t4_1" x="1109" y="553"/><use href="#t2_1" x="1206" y="556"/><use href="#t5_0" x="794" y="559"/><use href="#t4_1" x="1007" y="562"/><use href="#t4_2" x="836" y="565"/><use href="#t5_1" x="1134" y="568"/><use href="#t7_1" x="1078" y="571"/><use href="#t6_0" x="747" y="574"/><use href="#t8_0" x="815" y="577"/><use href="#t3_2" x="859" y="580"/><use href="#t3_0" x="1242" y="583"/><use href="#t8_0" x="1080" y="586"/><use href="#t6_2" x="965" y="589"/><use href="#t6_0" x="862" y="592"/><use href="#t5_0" x="844" y="595"/><use href="#t7_2" x="1218" y="598"/><use href="#t7_1" x="1225" y="601"/><use href="#t6_1" x="1178" y="604"/><use href="#t9_0" x="916" y="607"/><use href="#t6_0" x="1168" y="610"/><use href="#t5_2" x="1220" y="613"/><use href="#t5_2" x="1005" y="616"/><use href="#t6_0" x="881" y="619"/><use href="#t5_2" x="894" y="622"/><use href="#t5_1" x="1020" y="625"/><use href="#t6_1" x="1087" y="628"/><use href="#t9_2" x="1269" y="631"/><use href="#t7_1" x="753" y="634"/><use href="#t6_1" x="871" y="637"/><use href="#t3_0" x="1093" y="640"/><use href="#t3_1" x="999" y="643"/><use href="#t7_0" x="1028" y="646"/><use href="#t6_1" x="1267" y="649"/><use href="#t6_2" x="742" y="652"/><use href="#t5_0" x="1004" y="655"/><use href="#t7_2" x="902" y="658"/><use href="#t5_2" x="1203" y="661"/><use href="#t7_2" x="1015" y="664"/><use href="#t5_1" x="881" y="667"/><use href="#t7_2" x="1026" y="670"/><use href="#t8_2" x="1176" y="673"/><use href="#t6_0" x="1227" y="676"/><use href="#t8_1" x="900" y="694"/><use href="#t8_0" x="1170" y="697"/><use href="#t8_0" x="1192" y="700"/><use href="#t2_0" x="923" y="703"/><use href="#t2_0" x="807" y="706"/><use href="#t3_1" x="1071" y="709"/><use href="#t4_1" x="1112" y="712"/><use href="#t4_2" x="1020" y="715"/><use href="#t4_1" x="869" y="718"/><use href="#t4_2" x="836" y="721"/><use href="#t3_2" x="820" y="724"/><use href="#t3_1" x="974" y="727"/><use href="#t4_1" x="759" y="730"/><use href="#t4_2" x="741" y="733"/><use href="#t3_2" x="814" y="739"/><use href="#t3_2" x="1204" y="742"/><use href="#t3_2" x="1111" y="745"/><use href="#t3_0" x="1064" y="748"/><use href="#t3_2" x="826" y="751"/><use href="#t8_2" x="1151" y="754"/><use href="#t8_0" x="1011" y="757"/><use href="#t8_2" x="967" y="760"/><use href="#t4_2" x="812" y="763"/><use href="#t4_2" x="1023" y="766"/><use href="#t6_1" x="1030" y="769"/><use href="#t3_2" x="1095" y="772"/><use href="#t6_2" x="1122" y="775"/><use href="#t5_0" x="1125" y="778"/><use href="#t6_0" x="1030" y="781"/><use href="#t6_1" x="1080" y="784"/><use href="#t5_1" x="846" y="787"/><use href="#t6_1" x="841" y="790"/><use href="#t5_1" x="1235" y="793"/><use href="#t5_2" x="1195" y="796"/><use href="#t7_1" x="1004" y="799"/><use href="#t6_1" x="1182" y="802"/><use href="#t3_2" x="1261" y="805"/><use href="#t7_2" x="1270" y="808"/><use href="#t4_0" x="782" y="811"/><use href="#t5_0" x="943" y="814"/><use href="#t4_0" x="972" y="817"/><use href="#t3_2" x="929" y="820"/><use href="#t5_0" x="914" y="823"/><use href="#t5_2" x="1265" y="826"/><use href="#t5_2" x="842" y="829"/><use href="#t3_0" x="815" y="832"/><use href="#t4_0" x="1087" y="835"/><use href="#t2_1" x="737" y="838"/><use href="#t6_2" x="1214" y="841"/><use href="#t2_0" x="1175" y="844"/><use href="#t4_0" x="873" y="847"/><use href="#t5_1" x="1149" y="850"/><use href="#t3_0" x="1110" y="853"/><use href="#t5_1" x="1217" y="856"/><use href="#t4_2" x="840" y="859"/><use href="#t3_1" x="753" y="862"/><use href="#t2_2" x="735" y="865"/><use href="#t4_1" x="1042" y="868"/><use href="#t3_2" x="1018" y="871"/><use href="#t4_2" x="1190" y="874"/><use href="#t4_1" x="1139" y="877"/><use href="#t5_0" x="902" y="880"/><use href="#t3_1" x="942" y="883"/><use href="#t4_0" x="755" y="886"/><use href="#t3_2" x="1161" y="889"/><use href="#t5_0" x="1264" y="892"/><use href="#t4_1" x="1125" y="895"/><use href="#t2_0" x="999" y="898"/><use href="#t2_1" x="1266" y="901"/><use href="#t6_1" x="1179" y="904"/><use href="#t6_0" x="1064" y="907"/><use href="#t4_1" x="960" y="910"/><use href="#t2_1" x="892" y="913"/><use href="#t3_0" x="774" y="916"/><use href="#t7_2" x="896" y="919"/><use href="#t3_2" x="963" y="922"/><use href="#t5_1" x="1267" y="925"/><use href="#t4_2" x="1170" y="928"/><use href="#t3_0" x="1075" y="931"/><use href="#t4_0" x="848" y="934"/></g>
<g clip-path="url(#k2)"><use href="#t13_0" x="1159" y="196"/><use href="#t13_0" x="1000" y="199"/><use href="#t13_2" x="913" y="202"/><use href="#t8_1" x="1024" y="205"/><use href="#t8_1" x="1195" y="208"/><use href="#t8_1" x="1344" y="211"/><use href="#t6_1" x="1239" y="214"/><use href="#t6_2" x="1018" y="217"/><use href="#t6_1" x="1342" y="220"/><use href="#t6_2" x="1116" y="223"/><use href="#t6_2" x="1011" y="226"/><use href="#t6_0" x="1006" y="229"/><use href="#t8_1" x="949" y="232"/><use href="#t6_2" x="1121" y="235"/><use href="#t7_1" x="1381" y="238"/><use href="#t6_0" x="1001" y="241"/><use href="#t3_0" x="1056" y="244"/><use href="#t6_2" x="988" y="247"/><use href="#t4_2" x="1357" y="250"/><use href="#t4_0" x="1030" y="253"/><use href="#t3_2" x="1468" y="256"/><use href="#t5_2" x="1041" y="259"/><use href="#t4_2" x="930" y="262"/><use href="#t5_1" x="1338" y="265"/><use href="#t6_0" x="916" y="268"/><use href="#t4_1" x="1430" y="271"/><use href="#t6_1" x="1053" y="274"/><use href="#t4_2" x="998" y="277"/><use href="#t5_1" x="1309" y="280"/><use href="#t7_1" x="1476" y="283"/><use href="#t5_1" x="1117" y="286"/><use href="#t7_2" x="1180" y="289"/><use href="#t4_1" x="1049" y="292"/><use href="#t6_2" x="925" y="295"/><use href="#t5_2" x="927" y="298"/><use href="#t7_2" x="1280" y="301"/><use href="#t6_1" x="1412" y="304"/><use href="#t6_0" x="988" y="307"/><use href="#t5_2" x="933" y="310"/><use href="#t5_2" x="923" y="313"/><use href="#t7_0" x="923" y="316"/><use href="#t7_1" x="1419" y="319"/><use href="#t5_0" x="911" y="322"/><use href="#t5_1" x="1195" y="325"/><use href="#t6_2" x="1187" y="328"/><use href="#t6_1" x="1160" y="331"/><use href="#t5_0" x="1315" y="334"/><use href="#t7_2" x="948" y="337"/><use href="#t4_2" x="1207" y="340"/><use href="#t7_0" x="1277" y="343"/><use href="#t4_1" x="1008" y="346"/><use href="#t5_2" x="1317" y="349"/><use href="#t7_0" x="1360" y="352"/><use href="#t7_2" x="1273" y="355"/><use href="#t5_1" x="1391" y="358"/><use href="#t5_1" x="1376" y="361"/><use href="#t5_1" x="1113" y="364"/><use href="#t5_2" x="1435" y="367"/><use href="#t5_1" x="1256" y="370"/><use href="#t6_2" x="1245" y="373"/><use href="#t6_1" x="971" y="376"/><use href="#t5_1" x="1226" y="379"/><use href="#t5_1" x="1099" y="382"/><use href="#t7_0" x="967" y="385"/><use href="#t7_0" x="1014" y="388"/><use href="#t7_2" x="1337" y="391"/><use href="#t4_2" x="1088" y="394"/><use href="#t3_1" x="958" y="397"/><use href="#t6_0" x="1057" y="400"/><use href="#t4_2" x="1436" y="403"/><use href="#t5_1" x="958" y="406"/><use href="#t5_2" x="1107" y="409"/><use href="#t5_0" x="1159" y="412"/><use href="#t6_1" x="899" y="415"/><use href="#t6_1" x="1438" y="418"/><use href="#t8_1" x="1295" y="421"/><use href="#t5_2" x="1004" y="424"/><use href="#t3_0" x="1051" y="427"/><use href="#t6_2" x="1223" y="430"/><use href="#t7_0" x="1083" y="433"/><use href="#t5_2" x="1273" y="436"/><use href="#t4_0" x="1210" y="439"/><use href="#t6_0" x="1203" y="442"/><use href="#t4_2" x="1459" y="445"/><use href="#t7_2" x="1242" y="448"/><use href="#t6_1" x="1364" y="451"/><use href="#t5_0" x="1324" y="454"/><use href="#t5_0" x="1194" y="457"/><use href="#t4_0" x="1353" y="460"/><use href="#t5_2" x="1284" y="463"/><use href="#t5_1" x="1166" y="466"/><use href="#t4_2" x="890" y="469"/><use href="#t7_2" x="1322" y="472"/><use href="#t4_1" x="883" y="475"/><use href="#t5_2" x="1304" y="478"/><use href="#t5_1" x="1344" y="481"/><use href="#t6_0" x="1044" y="484"/><use href="#t7_2" x="1061" y="487"/><use href="#t5_1" x="1473" y="490"/><use href="#t8_1" x="991" y="493"/><use href="#t5_0" x="1347" y="496"/><use href="#t4_0" x="997" y="499"/><use href="#t9_1" x="1168" y="502"/><use href="#t5_0" x="1185" y="505"/><use href="#t5_1" x="1301" y="508"/><use href="#t14_2" x="1116" y="511"/><use href="#t14_0" x="1166" y="514"/><use href="#t14_0" x="1109" y="517"/><use href="#t14_2" x="1278" y="520"/><use href="#t13_2" x="956" y="523"/><use href="#t13_1" x="1327" y="526"/><use href="#t13_2" x="988" y="529"/><use href="#t15_2" x="1128" y="532"/><use href="#t15_0" x="1208" y="535"/><use href="#t11_0" x="1261" y="538"/><use href="#t12_2" x="1198" y="541"/><use href="#t14_0" x="891" y="544"/><use href="#t9_1" x="1084" y="547"/><use href="#t12_1" x="1010" y="550"/><use href="#t12_1" x="1313" y="553"/><use href="#t8_1" x="1368" y="556"/><use href="#t10_0" x="1249" y="559"/><use href="#t9_2" x="895" y="562"/><use href="#t8_2" x="1062" y="565"/><use href="#t9_2" x="946" y="568"/><use href="#t12_2" x="1310" y="571"/><use href="#t11_1" x="1218" y="574"/><use href="#t14_1" x="1423" y="577"/><use href="#t10_1" x="1293" y="580"/><use href="#t10_1" x="1062" y="583"/><use href="#t13_1" x="1433" y="586"/><use href="#t12_1" x="1419" y="589"/><use href="#t11_0" x="1136" y="592"/><use href="#t10_1" x="1022" y="595"/><use href="#t12_0" x="935" y="598"/><use href="#t12_1" x="1111" y="601"/><use href="#t10_0" x="1444" y="604"/><use href="#t16_1" x="1104" y="607"/><use href="#t10_2" x="1418" y="610"/><use href="#t9_2" x="1248" y="613"/><use href="#t9_0" x="1214" y="616"/><use href="#t11_2" x="962" y="619"/><use href="#t10_2" x="1145" y="622"/><use href="#t9_2" x="1412" y="625"/><use href="#t11_1" x="995" y="628"/><use href="#t14_0" x="916" y="631"/><use href="#t13_2" x="1474" y="634"/><use href="#t11_0" x="1089" y="637"/><use href="#t10_1" x="999" y="640"/><use href="#t10_0" x="1069" y="643"/><use href="#t12_2" x="1466" y="646"/><use href="#t11_1" x="1428" y="649"/><use href="#t11_0" x="1392" y="652"/><use href="#t10_0" x="999" y="655"/><use href="#t12_2" x="1303" y="658"/><use href="#t10_0" x="1176" y="661"/><use href="#t12_2" x="1316" y="664"/><use href="#t10_2" x="1381" y="667"/><use href="#t12_0" x="999" y="670"/><use href="#t14_1" x="1122" y="673"/><use href="#t11_0" x="1132" y="676"/><use href="#t2_2" x="1057" y="679"/><use href="#t2_2" x="905" y="682"/><use href="#t2_1" x="1330" y="685"/><use href="#t2_0" x="897" y="688"/><use href="#t2_0" x="1152" y="691"/><use href="#t8_2" x="950" y="694"/><use href="#t8_0" x="1132" y="697"/><use href="#t8_1" x="1327" y="700"/><use href="#t4_2" x="912" y="703"/><use href="#t4_1" x="1067" y="706"/><use href="#t6_2" x="1085" y="709"/><use href="#t8_2" x="1419" y="712"/><use href="#t6_1" x="1141" y="715"/><use href="#t7_2" x="885" y="718"/><use href="#t7_1" x="969" y="721"/><use href="#t6_0" x="979" y="724"/><use href="#t6_1" x="1486" y="727"/><use href="#t7_0" x="1246" y="730"/><use href="#t7_2" x="1076" y="733"/><use href="#t1_2" x="1012" y="736"/><use href="#t5_0" x="1173" y="739"/><use href="#t5_2" x="1491" y="742"/><use href="#t5_0" x="1423" y="745"/><use href="#t5_1" x="1317" y="748"/><use href="#t5_0" x="1204" y="751"/><use href="#t10_1" x="1283" y="754"/><use href="#t10_1" x="1395" y="757"/><use href="#t10_0" x="1410" y="760"/><use href="#t5_2" x="1486" y="763"/><use href="#t5_0" x="905" y="766"/><use href="#t7_2" x="1039" y="769"/><use href="#t4_2" x="1340" y="772"/><use href="#t8_0" x="987" y="775"/><use href="#t6_1" x="1074" y="778"/><use href="#t7_2" x="1145" y="781"/><use href="#t8_1" x="1417" y="784"/><use href="#t6_0" x="1184" y="787"/><use href="#t7_0" x="888" y="790"/><use href="#t6_0" x="925" y="793"/><use href="#t7_1" x="1492" y="796"/><use href="#t8_1" x="973" y="799"/><use href="#t7_2" x="1074" y="802"/><use href="#t4_1" x="1286" y="805"/><use href="#t8_0" x="913" y="808"/><use href="#t5_1" x="999" y="811"/><use href="#t6_2" x="1273" y="814"/><use href="#t4_1" x="1400" y="817"/><use href="#t3_1" x="1194" y="820"/><use href="#t5_2" x="1038" y="823"/><use href="#t5_1" x="1175" y="826"/><use href="#t5_2" x="1216" y="829"/><use href="#t3_1" x="1103" y="832"/><use href="#t4_2" x="910" y="835"/><use href="#t2_2" x="943" y="838"/><use href="#t7_0" x="966" y="841"/><use href="#t3_0" x="1057" y="844"/><use href="#t4_0" x="1332" y="847"/><use href="#t6_2" x="999" y="850"/><use href="#t3_2" x="883" y="853"/><use href="#t5_2" x="891" y="856"/><use href="#t5_1" x="885" y="859"/><use href="#t3_0" x="1372" y="862"/><use href="#t3_1" x="1482" y="865"/><use href="#t4_1" x="1232" y="868"/><use href="#t4_2" x="1117" y="871"/><use href="#t5_0" x="967" y="874"/><use href="#t4_2" x="1406" y="877"/><use href="#t5_1" x="1255" y="880"/><use href="#t3_2" x="1494" y="883"/><use href="#t4_1" x="1411" y="886"/><use href="#t4_1" x="1390" y="889"/><use href="#t5_1" x="970" y="892"/><use href="#t5_2" x="889" y="895"/><use href="#t3_0" x="1424" y="898"/><use href="#t3_2" x="1334" y="901"/><use href="#t7_0" x="1247" y="904"/><use href="#t7_2" x="1296" y="907"/><use href="#t5_0" x="1208" y="910"/><use href="#t2_0" x="1002" y="913"/><use href="#t3_1" x="1082" y="916"/><use href="#t8_2" x="1333" y="919"/><use href="#t3_0" x="1054" y="922"/><use href="#t6_2" x="981" y="925"/><use href="#t5_0" x="1317" y="928"/><use href="#t4_0" x="1420" y="931"/><use href="#t4_0" x="1203" y="934"/></g>
<g clip-path="url(#k3)"><use href="#t10_1" x="1330" y="196"/><use href="#t10_0" x="1307" y="199"/><use href="#t10_0" x="1118" y="202"/><use href="#t4_0" x="1272" y="205"/><use href="#t4_1" x="1419" y="208"/><use href="#t4_2" x="1494" y="211"/><use href="#t3_0" x="1596" y="214"/><use href="#t3_1" x="1473" y="217"/><use href="#t3_0" x="1536" y="220"/><use href="#t3_0" x="1164" y="223"/><use href="#t3_1" x="1026" y="226"/><use href="#t3_1" x="1546" y="229"/><use href="#t3_2" x="1090" y="232"/><use href="#t2_2" x="1271" y="235"/><use href="#t3_1" x="1483" y="238"/><use href="#t2_0" x="1218" y="241"/><use href="#t1_0" x="1139" y="244"/><use href="#t2_1" x="1411" y="247"/><use href="#t2_2" x="1409" y="250"/><use href="#t2_0" x="1254" y="253"/><use href="#t1_1" x="985" y="256"/><use href="#t2_0" x="1467" y="259"/><use href="#t1_1" x="1590" y="262"/><use href="#t2_0" x="1274" y="265"/><use href="#t2_2" x="1028" y="268"/><use href="#t1_2" x="1499" y="271"/><use href="#t2_0" x="1452" y="274"/><use href="#t1_2" x="1026" y="277"/><use href="#t2_1" x="1318" y="280"/><use href="#t3_0" x="1003" y="283"/><use href="#t2_2" x="1423" y="286"/><use href="#t2_1" x="1141" y="289"/><use href="#t2_0" x="1137" y="292"/><use href="#t2_0" x="1451" y="295"/><use href="#t2_2" x="1450" y="298"/><use href="#t3_2" x="1307" y="301"/><use href="#t2_2" x="1387" y="304"/><use href="#t2_1" x="1319" y="307"/><use href="#t2_1" x="1424" y="310"/><use href="#t2_0" x="1466" y="313"/><use href="#t3_0" x="1148" y="316"/><use href="#t3_2" x="1575" y="319"/><use href="#t2_0" x="1522" y="322"/><use href="#t2_1" x="1125" y="325"/><use href="#t2_2" x="1336" y="328"/><use href="#t2_1" x="1212" y="331"/><use href="#t2_1" x="1600" y="334"/><use href="#t3_0" x="1432" y="337"/><use href="#t1_0" x="1150" y="340"/><use href="#t2_1" x="1405" y="343"/><use href="#t1_0" x="1642" y="346"/><use href="#t2_2" x="1117" y="349"/><use href="#t4_1" x="1138" y="352"/><use href="#t4_2" x="1358" y="355"/><use href="#t5_1" x="1142" y="358"/><use href="#t5_1" x="1120" y="361"/><use href="#t5_1" x="1257" y="364"/><use href="#t5_1" x="1239" y="367"/><use href="#t5_1" x="1346" y="370"/><use href="#t5_1" x="1191" y="373"/><use href="#t5_1" x="1336" y="376"/><use href="#t5_2" x="1329" y="379"/><use href="#t4_2" x="1307" y="382"/><use href="#t6_2" x="1580" y="385"/><use href="#t6_2" x="1053" y="388"/><use href="#t6_2" x="1240" y="391"/><use href="#t4_2" x="1182" y="394"/><use href="#t3_0" x="1012" y="397"/><use href="#t5_2" x="1115" y="400"/><use href="#t4_2" x="1141" y="403"/><use href="#t5_1" x="1256" y="406"/><use href="#t4_0" x="1426" y="409"/><use href="#t5_2" x="1407" y="412"/><use href="#t5_1" x="1534" y="415"/><use href="#t6_0" x="1507" y="418"/><use href="#t7_2" x="1620" y="421"/><use href="#t5_1" x="1132" y="424"/><use href="#t3_1" x="1595" y="427"/><use href="#t5_1" x="1473" y="430"/><use href="#t6_2" x="1134" y="433"/><use href="#t4_1" x="1078" y="436"/><use href="#t3_2" x="1156" y="439"/><use href="#t6_1" x="1020" y="442"/><use href="#t4_2" x="1356" y="445"/><use href="#t7_1" x="1087" y="448"/><use href="#t5_2" x="1038" y="451"/><use href="#t4_2" x="1356" y="454"/><use href="#t5_1" x="1543" y="457"/><use href="#t3_2" x="990" y="460"/><use href="#t5_2" x="1490" y="463"/><use href="#t5_0" x="1113" y="466"/><use href="#t3_0" x="1339" y="469"/><use href="#t6_1" x="1153" y="472"/><use href="#t4_1" x="1033" y="475"/><use href="#t5_2" x="1111" y="478"/><use href="#t4_0" x="1276" y="481"/><use href="#t6_1" x="1531" y="484"/><use href="#t6_1" x="1387" y="487"/><use href="#t5_0" x="1120" y="490"/><use href="#t7_1" x="976" y="493"/><use href="#t4_2" x="1418" y="496"/><use href="#t4_2" x="1603" y="499"/><use href="#t8_0" x="1286" y="502"/><use href="#t4_2" x="1467" y="505"/><use href="#t5_1" x="1097" y="508"/><use href="#t12_0" x="1148" y="511"/><use href="#t12_0" x="1482" y="514"/><use href="#t12_1" x="1398" y="517"/><use href="#t12_2" x="1138" y="520"/><use href="#t12_2" x="1575" y="523"/><use href="#t12_1" x="1213" y="526"/><use href="#t12_1" x="1428" y="529"/><use href="#t15_0" x="1187" y="532"/><use href="#t15_2" x="1433" y="535"/><use href="#t8_2" x="1333" y="538"/><use href="#t8_2" x="1472" y="541"/><use href="#t10_0" x="999" y="544"/><use href="#t5_0" x="986" y="547"/><use href="#t9_0" x="1013" y="550"/><use href="#t9_1" x="1525" y="553"/><use href="#t5_0" x="1376" y="556"/><use href="#t7_0" x="987" y="559"/><use href="#t6_2" x="1342" y="562"/><use href="#t6_1" x="1123" y="565"/><use href="#t7_2" x="973" y="568"/><use href="#t9_2" x="1073" y="571"/><use href="#t8_1" x="1567" y="574"/><use href="#t10_1" x="1183" y="577"/><use href="#t7_1" x="1372" y="580"/><use href="#t7_0" x="1553" y="583"/><use href="#t10_1" x="1585" y="586"/><use href="#t8_2" x="1573" y="589"/><use href="#t8_1" x="1106" y="592"/><use href="#t7_0" x="1405" y="595"/><use href="#t8_0" x="1199" y="598"/><use href="#t9_2" x="1139" y="601"/><use href="#t7_2" x="1570" y="604"/><use href="#t12_1" x="1641" y="607"/><use href="#t7_1" x="1077" y="610"/><use href="#t7_2" x="1126" y="613"/><use href="#t6_0" x="1600" y="616"/><use href="#t8_2" x="1525" y="619"/><use href="#t7_1" x="1315" y="622"/><use href="#t7_1" x="1248" y="625"/><use href="#t8_0" x="1278" y="628"/><use href="#t11_0" x="1560" y="631"/><use href="#t9_2" x="1345" y="634"/><use href="#t8_2" x="1123" y="637"/><use href="#t7_1" x="1315" y="640"/><use href="#t7_1" x="1634" y="643"/><use href="#t9_2" x="1430" y="646"/><use href="#t8_1" x="1256" y="649"/><use href="#t8_1" x="971" y="652"/><use href="#t7_0" x="1460" y="655"/><use href="#t9_2" x="1395" y="658"/><use href="#t7_0" x="1598" y="661"/><use href="#t9_0" x="1278" y="664"/><use href="#t7_0" x="1427" y="667"/><use href="#t8_2" x="1320" y="670"/><use href="#t10_2" x="1381" y="673"/><use href="#t8_0" x="1149" y="676"/><use href="#t15_2" x="1539" y="679"/><use href="#t15_2" x="1167" y="682"/><use href="#t15_0" x="1545" y="685"/><use href="#t15_0" x="1489" y="688"/><use href="#t15_2" x="1273" y="691"/><use href="#t15_2" x="1417" y="694"/><use href="#t15_0" x="1195" y="697"/><use href="#t15_0" x="1032" y="700"/><use href="#t15_0" x="1233" y="703"/><use href="#t15_0" x="1511" y="706"/><use href="#t14_1" x="1364" y="709"/><use href="#t14_0" x="983" y="712"/><use href="#t14_1" x="1345" y="715"/><use href="#t14_0" x="1494" y="718"/><use href="#t14_0" x="1028" y="721"/><use href="#t14_1" x="1277" y="724"/><use href="#t14_0" x="1500" y="727"/><use href="#t14_1" x="1236" y="730"/><use href="#t14_0" x="1065" y="733"/><use href="#t8_1" x="1380" y="736"/><use href="#t12_1" x="1638" y="739"/><use href="#t12_0" x="1421" y="742"/><use href="#t12_0" x="1573" y="745"/><use href="#t12_2" x="1291" y="748"/><use href="#t12_1" x="1253" y="751"/><use href="#t13_2" x="1293" y="754"/><use href="#t13_0" x="972" y="757"/><use href="#t16_2" x="1440" y="760"/><use href="#t10_1" x="1582" y="763"/><use href="#t9_1" x="1394" y="766"/><use href="#t12_1" x="1219" y="769"/><use href="#t11_1" x="1058" y="772"/><use href="#t13_2" x="1201" y="775"/><use href="#t11_1" x="1548" y="778"/><use href="#t12_1" x="1124" y="781"/><use href="#t13_0" x="1517" y="784"/><use href="#t11_0" x="1331" y="787"/><use href="#t12_0" x="1587" y="790"/><use href="#t11_0" x="1472" y="793"/><use href="#t12_1" x="1338" y="796"/><use href="#t14_0" x="1483" y="799"/><use href="#t12_0" x="1263" y="802"/><use href="#t8_0" x="1524" y="805"/><use href="#t14_2" x="1006" y="808"/><use href="#t10_0" x="1216" y="811"/><use href="#t10_0" x="1067" y="814"/><use href="#t6_1" x="1036" y="817"/><use href="#t5_1" x="1577" y="820"/><use href="#t8_2" x="1083" y="823"/><use href="#t8_2" x="1433" y="826"/><use href="#t8_2" x="1361" y="829"/><use href="#t5_1" x="1338" y="832"/><use href="#t6_2" x="1553" y="835"/><use href="#t3_1" x="1581" y="838"/><use href="#t10_0" x="1440" y="841"/><use href="#t4_1" x="970" y="844"/><use href="#t6_2" x="1602" y="847"/><use href="#t8_2" x="1236" y="850"/><use href="#t5_0" x="984" y="853"/><use href="#t8_2" x="1637" y="856"/><use href="#t7_1" x="1017" y="859"/><use href="#t5_0" x="1498" y="862"/><use href="#t4_0" x="1053" y="865"/><use href="#t6_0" x="1400" y="868"/><use href="#t6_2" x="1122" y="871"/><use href="#t7_2" x="1128" y="874"/><use href="#t6_0" x="1471" y="877"/><use href="#t8_2" x="1080" y="880"/><use href="#t5_0" x="1431" y="883"/><use href="#t6_2" x="1630" y="886"/><use href="#t5_0" x="1098" y="889"/><use href="#t7_0" x="1364" y="892"/><use href="#t7_2" x="1087" y="895"/><use href="#t5_1" x="1033" y="898"/><use href="#t5_2" x="1504" y="901"/><use href="#t9_2" x="1465" y="904"/><use href="#t9_2" x="1049" y="907"/><use href="#t6_0" x="1342" y="910"/><use href="#t3_0" x="1426" y="913"/><use href="#t4_1" x="1126" y="916"/><use href="#t10_1" x="1316" y="919"/><use href="#t4_2" x="1089" y="922"/><use href="#t8_2" x="1614" y="925"/><use href="#t7_0" x="1191" y="928"/><use href="#t5_1" x="1620" y="931"/><use href="#t5_1" x="1263" y="934"/></g>
<g clip-path="url(#k4)"><use href="#t2_0" x="1002" y="196"/><use href="#t2_0" x="1325" y="199"/><use href="#t2_1" x="1302" y="202"/><use href="#t1_2" x="1309" y="205"/><use href="#t1_1" x="1040" y="208"/><use href="#t1_1" x="1220" y="211"/><use href="#t2_2" x="1273" y="214"/><use href="#t2_2" x="1672" y="217"/><use href="#t2_2" x="1698" y="220"/><use href="#t2_2" x="1543" y="223"/><use href="#t2_1" x="1461" y="226"/><use href="#t2_1" x="1110" y="229"/><use href="#t4_2" x="1201" y="232"/><use href="#t3_2" x="1155" y="235"/><use href="#t4_0" x="1249" y="238"/><use href="#t3_0" x="1593" y="241"/><use href="#t1_1" x="1722" y="244"/><use href="#t3_2" x="1660" y="247"/><use href="#t2_2" x="1393" y="250"/><use href="#t2_1" x="1465" y="253"/><use href="#t1_2" x="1135" y="256"/><use href="#t2_0" x="1638" y="259"/><use href="#t2_0" x="1385" y="262"/><use href="#t2_2" x="1091" y="265"/><use href="#t3_0" x="1096" y="268"/><use href="#t2_1" x="1333" y="271"/><use href="#t3_1" x="1303" y="274"/><use href="#t2_2" x="1432" y="277"/><use href="#t2_1" x="1134" y="280"/><use href="#t4_1" x="1078" y="283"/><use href="#t2_0" x="1403" y="286"/><use href="#t3_2" x="1285" y="289"/><use href="#t2_2" x="1645" y="292"/><use href="#t3_1" x="1304" y="295"/><use href="#t3_1" x="1416" y="298"/><use href="#t4_0" x="1077" y="301"/><use href="#t3_1" x="1658" y="304"/><use href="#t3_2" x="1148" y="307"/><use href="#t3_0" x="1196" y="310"/><use href="#t3_2" x="1626" y="313"/><use href="#t4_2" x="1462" y="316"/><use href="#t4_1" x="1118" y="319"/><use href="#t3_1" x="1142" y="322"/><use href="#t3_0" x="1151" y="325"/><use href="#t3_0" x="1377" y="328"/><use href="#t3_0" x="1090" y="331"/><use href="#t2_0" x="1616" y="334"/><use href="#t4_1" x="1168" y="337"/><use href="#t2_0" x="1150" y="340"/><use href="#t3_1" x="1434" y="343"/><use href="#t2_0" x="1720" y="346"/><use href="#t2_1" x="1613" y="349"/><use href="#t2_0" x="1636" y="352"/><use href="#t2_1" x="1037" y="355"/><use href="#t2_0" x="1221" y="358"/><use href="#t2_0" x="1258" y="361"/><use href="#t2_1" x="1702" y="364"/><use href="#t2_0" x="1553" y="367"/><use href="#t2_2" x="1700" y="370"/><use href="#t4_0" x="1656" y="373"/><use href="#t4_2" x="1593" y="376"/><use href="#t4_0" x="1526" y="379"/><use href="#t3_0" x="1079" y="382"/><use href="#t5_2" x="1085" y="385"/><use href="#t5_1" x="1604" y="388"/><use href="#t5_2" x="1129" y="391"/><use href="#t3_2" x="1026" y="394"/><use href="#t2_2" x="1009" y="397"/><use href="#t4_2" x="1604" y="400"/><use href="#t3_0" x="1335" y="403"/><use href="#t4_1" x="1626" y="406"/><use href="#t4_2" x="989" y="409"/><use href="#t4_0" x="1708" y="412"/><use href="#t4_1" x="1704" y="415"/><use href="#t5_1" x="1507" y="418"/><use href="#t6_2" x="1353" y="421"/><use href="#t4_1" x="1537" y="424"/><use href="#t3_0" x="1148" y="427"/><use href="#t4_1" x="1297" y="430"/><use href="#t5_2" x="1434" y="433"/><use href="#t4_0" x="1138" y="436"/><use href="#t3_2" x="1678" y="439"/><use href="#t5_0" x="1274" y="442"/><use href="#t3_0" x="1549" y="445"/><use href="#t6_2" x="1538" y="448"/><use href="#t4_2" x="1539" y="451"/><use href="#t3_1" x="1051" y="454"/><use href="#t4_0" x="1583" y="457"/><use href="#t3_0" x="1701" y="460"/><use href="#t4_2" x="1564" y="463"/><use href="#t4_2" x="1563" y="466"/><use href="#t3_0" x="1684" y="469"/><use href="#t5_2" x="1451" y="472"/><use href="#t3_1" x="1541" y="475"/><use href="#t4_0" x="1297" y="478"/><use href="#t3_0" x="1008" y="481"/><use href="#t5_2" x="1018" y="484"/><use href="#t5_0" x="1649" y="487"/><use href="#t4_1" x="1495" y="490"/><use href="#t6_0" x="1439" y="493"/><use href="#t3_0" x="1493" y="496"/><use href="#t3_2" x="1140" y="499"/><use href="#t7_2" x="1406" y="502"/><use href="#t3_2" x="1407" y="505"/><use href="#t4_1" x="980" y="508"/><use href="#t4_1" x="1231" y="511"/><use href="#t4_0" x="1053" y="514"/><use href="#t4_1" x="989" y="517"/><use href="#t4_2" x="995" y="520"/><use href="#t11_1" x="1214" y="523"/><use href="#t11_1" x="1709" y="526"/><use href="#t11_0" x="991" y="529"/><use href="#t4_0" x="1691" y="532"/><use href="#t4_0" x="1022" y="535"/><use href="#t6_0" x="1658" y="538"/><use href="#t6_2" x="1362" y="541"/><use href="#t8_0" x="1216" y="544"/><use href="#t4_2" x="1197" y="547"/><use href="#t6_2" x="1600" y="550"/><use href="#t6_2" x="1115" y="553"/><use href="#t3_0" x="1405" y="556"/><use href="#t5_2" x="1151" y="559"/><use href="#t4_0" x="1195" y="562"/><use href="#t4_2" x="1237" y="565"/><use href="#t5_0" x="1591" y="568"/><use href="#t6_0" x="1378" y="571"/><use href="#t5_2" x="1455" y="574"/><use href="#t8_2" x="1493" y="577"/><use href="#t4_0" x="1128" y="580"/><use href="#t4_2" x="1166" y="583"/><use href="#t7_1" x="1464" y="586"/><use href="#t6_1" x="1709" y="589"/><use href="#t6_1" x="1223" y="592"/><use href="#t5_2" x="1194" y="595"/><use href="#t6_2" x="1393" y="598"/><use href="#t6_1" x="994" y="601"/><use href="#t5_1" x="1154" y="604"/><use href="#t9_2" x="1537" y="607"/><use href="#t5_0" x="985" y="610"/><use href="#t5_1" x="1562" y="613"/><use href="#t4_2" x="1678" y="616"/><use href="#t6_1" x="1023" y="619"/><use href="#t5_2" x="1351" y="622"/><use href="#t5_1" x="1451" y="625"/><use href="#t6_0" x="1329" y="628"/><use href="#t8_2" x="1105" y="631"/><use href="#t7_1" x="1599" y="634"/><use href="#t6_2" x="1306" y="637"/><use href="#t4_1" x="1184" y="640"/><use href="#t4_2" x="1651" y="643"/><use href="#t6_2" x="1080" y="646"/><use href="#t5_0" x="1220" y="649"/><use href="#t5_2" x="1219" y="652"/><use href="#t5_1" x="1431" y="655"/><use href="#t6_1" x="1410" y="658"/><use href="#t5_0" x="1220" y="661"/><use href="#t6_1" x="1438" y="664"/><use href="#t5_2" x="1289" y="667"/><use href="#t6_0" x="1523" y="670"/><use href="#t7_1" x="1222" y="673"/><use href="#t6_1" x="1195" y="676"/><use href="#t16_1" x="1336" y="679"/><use href="#t16_0" x="1694" y="682"/><use href="#t16_2" x="1578" y="685"/><use href="#t16_1" x="1352" y="688"/><use href="#t16_2" x="1194" y="691"/><use href="#t8_2" x="1287" y="694"/><use href="#t8_2" x="1694" y="697"/><use href="#t8_0" x="1186" y="700"/><use href="#t7_0" x="1193" y="703"/><use href="#t7_2" x="1511" y="706"/><use href="#t7_0" x="1689" y="709"/><use href="#t8_0" x="1100" y="712"/><use href="#t7_2" x="1289" y="715"/><use href="#t8_1" x="1631" y="718"/><use href="#t8_0" x="1254" y="721"/><use href="#t7_0" x="1717" y="724"/><use href="#t6_1" x="1127" y="727"/><use href="#t8_2" x="1290" y="730"/><use href="#t8_2" x="1662" y="733"/><use href="#t16_2" x="1065" y="736"/><use href="#t8_2" x="1491" y="739"/><use href="#t8_2" x="1143" y="742"/><use href="#t8_0" x="1478" y="745"/><use href="#t8_2" x="1102" y="748"/><use href="#t8_0" x="1116" y="751"/><use href="#t8_1" x="1575" y="754"/><use href="#t8_2" x="1023" y="757"/><use href="#t12_0" x="1239" y="760"/><use href="#t7_2" x="1206" y="763"/><use href="#t7_1" x="1201" y="766"/><use href="#t9_1" x="1719" y="769"/><use href="#t8_2" x="1554" y="772"/><use href="#t10_1" x="1565" y="775"/><use href="#t8_2" x="1077" y="778"/><use href="#t9_1" x="1193" y="781"/><use href="#t10_2" x="1300" y="784"/><use href="#t8_1" x="1042" y="787"/><use href="#t9_1" x="1213" y="790"/><use href="#t8_0" x="1626" y="793"/><use href="#t9_0" x="1205" y="796"/><use href="#t10_1" x="1007" y="799"/><use href="#t9_2" x="1596" y="802"/><use href="#t5_0" x="1215" y="805"/><use href="#t10_1" x="1008" y="808"/><use href="#t7_2" x="1284" y="811"/><use href="#t8_1" x="1199" y="814"/><use href="#t15_0" x="1266" y="817"/><use href="#t15_1" x="1720" y="820"/><use href="#t15_2" x="1000" y="823"/><use href="#t15_2" x="1713" y="826"/><use href="#t15_0" x="1501" y="829"/><use href="#t15_0" x="1054" y="832"/><use href="#t15_1" x="1268" y="835"/><use href="#t15_0" x="1374" y="838"/><use href="#t15_2" x="1192" y="841"/><use href="#t15_1" x="994" y="844"/><use href="#t15_1" x="1206" y="847"/><use href="#t15_0" x="1233" y="850"/><use href="#t15_0" x="1573" y="853"/><use href="#t15_0" x="1669" y="856"/><use href="#t15_0" x="1056" y="859"/><use href="#t15_0" x="1275" y="862"/><use href="#t15_1" x="1256" y="865"/><use href="#t15_2" x="1253" y="868"/><use href="#t15_0" x="1602" y="871"/><use href="#t15_0" x="1724" y="874"/><use href="#t15_0" x="1699" y="877"/><use href="#t15_1" x="1047" y="880"/><use href="#t15_2" x="1361" y="883"/><use href="#t15_1" x="1678" y="886"/><use href="#t15_1" x="1673" y="889"/><use href="#t15_0" x="1432" y="892"/><use href="#t15_2" x="1195" y="895"/><use href="#t15_2" x="1602" y="898"/><use href="#t15_2" x="1100" y="901"/><use href="#t15_0" x="1000" y="904"/><use href="#t15_0" x="1358" y="907"/><use href="#t15_2" x="1549" y="910"/><use href="#t15_2" x="1097" y="913"/><use href="#t15_2" x="1130" y="916"/><use href="#t15_0" x="1357" y="919"/><use href="#t15_1" x="1462" y="922"/><use href="#t15_1" x="1614" y="925"/><use href="#t15_0" x="1086" y="928"/><use href="#t15_2" x="1085" y="931"/><use href="#t15_2" x="1292" y="934"/></g>
</g>
<rect x="1274" y="195" width="3" height="743" fill="#fff"/><rect x="1493" y="195" width="2.2" height="743" fill="#fff"/><rect x="1641" y="195" width="2" height="743" fill="#fff"/><rect x="1723.4" y="195" width="1.6" height="743" fill="#fff"/><path d="M981 195.5H1736M981 937.5H1736M982.5 195V938M1735.5 195V938" stroke="#fff" stroke-width="1" fill="none"/>
<path d="M1738 199.3L1778 199.3M1738 264.6L1781 264.6M1738 272.6L1778 299.3M1738 376.5L1780 376.5M1738 421.4L1781 421.4M1738 491L1776.3 466.5M1738 498.4L1783.7 498.4M1738 519.7L1782 519.7M1738 537.7L1778 547.6M1738 591.5L1777 591.5M1738 604.2L1774.8 620.7M1738 657L1777 657M1738 688L1772.2 681.5M1738 697L1770.8 705.6M1738 736.6L1776 736.6M1738 771L1777 771M1738 822L1776 822M1738 904L1776 904M1738 930.7L1776 930.7" stroke="#000" stroke-width="2.3" fill="none"/>
<g font-size="22" font-style="italic">
<text x="1785.2" y="208">Lyz2</text><text x="1785.6" y="271.7">Klf2</text><text x="1784.7" y="307.7">Abca1</text><text x="1786" y="385.6">Cxcl2</text><text x="1787.4" y="430.7">Tnf</text><text x="1785.6" y="470.6">Il6</text><text x="1790" y="506.7">Il1b</text><text x="1790" y="529">Anxa5</text><text x="1791" y="559.6">Actb</text><text x="1791" y="600.4">Vim</text><text x="1791" y="629.6">Cd36</text><text x="1792" y="665.8">Tgfbi</text><text x="1791" y="694">Cd74</text><text x="1791" y="721.4">H2-Ab1</text><text x="1791" y="745.5">Itgax</text><text x="1791" y="779">Irf4</text><text x="1791" y="830">Ccr7</text><text x="1791" y="911.6">Jak2</text><text x="1791" y="938.5">Siglecg</text>
</g>
<defs><linearGradient id="hg" x1="0" x2="1" y1="0" y2="0"><stop offset="0" stop-color="#ff00ff"/><stop offset="0.447" stop-color="#000"/><stop offset="0.96" stop-color="#ffff00"/><stop offset="1" stop-color="#ffff00"/></linearGradient></defs>
<rect x="1274" y="941.4" width="219" height="31.2" fill="url(#hg)"/>
<path d="M1278 941.4v5M1278 972.6v-5M1326.4 941.4v5M1326.4 972.6v-5M1371.8 941.4v5M1371.8 972.6v-5M1417.7 941.4v5M1417.7 972.6v-5M1464.7 941.4v5M1464.7 972.6v-5" stroke="#fff" stroke-width="1.6" fill="none"/>
<g font-size="18.2" text-anchor="middle"><text x="1277.5" y="992.7">-2</text><text x="1325" y="992.7">-1</text><text x="1372.8" y="992.7">0</text><text x="1418.4" y="992.7">1</text><text x="1466.6" y="992.7">2</text></g>
<text font-size="22.3" text-anchor="middle" x="1384" y="1014.6">Expression</text>
</g>
<g id="pd">
<text font-size="51" font-weight="bold" x="10.5" y="1044">d</text>
<path d="M112.6 1063.8V1643.5L854.7 1643.5" fill="none" stroke="#000" stroke-width="5.7" stroke-linejoin="miter"/>
<path d="M112.6 1043.3L122.6 1064.3H102.6z"/>
<path d="M874.2 1643.5L854.2 1633.5V1653.5z"/>
<text font-size="39.6" text-anchor="middle" transform="translate(94 1312.3) rotate(-90)">UMAP-2</text>
<text font-size="39.5" x="402.8" y="1693.1">UMAP-1</text>
<g font-size="32.5" font-style="italic" text-anchor="middle"><text x="249.5" y="1062">Itgam</text><text x="504" y="1061.5">Adgre1</text><text x="765" y="1062">Icam2</text><text x="250.2" y="1280.2">Timd4</text><text x="505.3" y="1284.2">Klf2</text><text x="776.5" y="1283">Mertk</text><text x="249.5" y="1479.3">Itgax</text><text x="504" y="1483.4">H2-Ab1</text><text x="773.4" y="1488.8">Ccr2</text></g>
<g fill="none" stroke-linecap="round" stroke-width="9.2">
<path d="M193 1121h0m5 0h0m-3 -16h0m17 9h0m-2 -1h0m25 3h0m-16 14h0m-11 -3h0m11 -9h0m-43 -10h0m53 4h0m-10 9h0m24 -4h0m-61 -2h0m5 -16h0m-3 6h0m7 9h0m-14 5h0m43 -7h0m-4 -4h0m-24 9h0m17 -7h0m23 14h0m-51 -2h0m0 -15h0m46 -3h0m-43 14h0m-8 -3h0m12 0h0m15 -16h0m-12 28h0m27 1h0m-16 -14h0m15 -10h0m-9 -2h0m-30 -3h0m15 12h0m11 5h0m8 11h0m-22 -18h0m-14 2h0m43 13h0m-41 -10h0m1 5h0m39 13h0m-29 -20h0m-7 5h0m-5 -5h0m27 19h0m-15 -22h0m3 15h0m12 -2h0m-13 -3h0m3 -12h0m-11 0h0m22 -4h0m14 22h0m7 -8h0m-3 1h0m-42 -20h0m45 17h0m-5 -7h0m-5 13h0m-35 -20h0m-4 6h0m0 -1h0m8 19h0m45 -10h0m-40 -17h0m18 17h0m8 -2h0m11 13h0m15 12h0m-8 -1h0m0 -30h0m46 26h0m-6 -14h0m-24 17h0m25 -11h0m3 -4h0m-25 5h0m9 5h0m15 5h0m-19 -2h0m6 -27h0m-12 31h0m11 -36h0m-8 21h0m24 -15h0m9 12h0m-25 8h0m19 -13h0m-25 12h0m35 -6h0m-33 19h0m19 -21h0m-13 3h0m3 -18h0m-14 33h0m32 -23h0m-9 14h0m0 -4h0m-26 5h0m23 4h0m6 -16h0m-2 9h0m-4 12h0m9 -13h0m-12 0h0m17 -7h0m-32 -16h0m6 21h0m-7 -22h0m18 12h0m0 11h0m-7 12h0m-4 2h0m-4 1h0m13 -13h0m1 -20h0m-44 36h0m9 -9h0m-4 1h0m-1 7h0m-20 -4h0m27 2h0m-28 3h0m13 -6h0m-5 -1h0m3 3h0m-15 11h0m35 9h0m-16 -1h0m-2 -1h0m7 4h0m7 5h0m-13 -15h0m-25 -3h0m1 -1h0m11 -7h0m37 10h0m-40 9h0m5 -5h0m8 -3h0m14 4h0m1 0h0m-20 -11h0m19 2h0m-22 -6h0m21 19h0m-30 0h0m-1 0h0m-6 1h0m42 -14h0m-29 8h0m31 0h0m3 -16h0m-26 -1h0m1 1h0m-12 14h0m16 8h0m-13 -14h0m33 11h0m-19 -15h0m-18 8h0m-5 1h0m24 -11h0m21 8h0m-51 13h0m34 -7h0m-1 -4h0m-26 11h0m-14 2h0m0 -2h0m-1 2h0m69 6h0m-19 7h0m29 -4h0m2 0h0m-21 9h0m35 1h0m18 1h0m-13 2h0m2 0h0m-8 3h0m1 6h0m-8 1h0m7 -21h0m-2 0h0m2 1h0m-5 -1h0m-9 11h0m-14 1h0m-1 8h0m-6 -5h0m14 -3h0m0 1h0m-14 4h0m14 -1h0m5 -5h0m-13 1h0m-4 7h0m0 0h0m17 -6h0m2 0h0m7 18h0m-14 -3h0m2 0h0m12 2h0m-4 4h0m5 -3h0m-4 -2h0m-2 -1h0m2 5h0m-7 2h0m7 -9h0m3 1h0m-21 -108h0m77 92h0m-3 -1h0m7 0h0m2 1h0" stroke="#d3d3d3"/>
<path d="M187 1108h0m44 7h0m-56 -16h0m33 22h0m26 -10h0m6 24h0m-46 -27h0m25 21h0m-39 -18h0m9 -1h0m31 -4h0m-19 8h0m17 12h0m7 -11h0m19 2h0m-28 5h0m6 -3h0m-4 1h0m-3 -1h0m-3 -4h0m69 -9h0m-18 5h0m-8 -5h0m10 13h0m1 16h0m13 -6h0m-26 5h0m-2 4h0m4 2h0m12 -30h0m5 -6h0m-45 33h0m4 -1h0m2 28h0m9 -25h0m-35 3h0m24 4h0m7 15h0m-1 -1h0m-27 -2h0m-6 -9h0m29 -4h0m-43 16h0m89 12h0m-15 14h0m-11 5h0m1 0h0m17 14h0m-10 -2h0m10 -5h0m-5 6h0m10 1h0m-16 -5h0m14 1h0m-1 -3h0m56 -15h0" stroke="#cac3d9"/>
<path d="M219 1128h0m25 0h0m-67 -17h0m65 8h0m-49 -3h0m45 -4h0m-49 13h0m8 -1h0m38 -13h0m-48 -11h0m12 -2h0m-2 36h0m34 -27h0m-3 26h0m-5 -27h0m-1 25h0m-45 -33h0m30 30h0m-12 -29h0m39 11h0m-19 5h0m20 12h0m-35 -10h0m11 -8h0m-20 16h0m29 0h0m-13 -24h0m14 21h0m-49 -9h0m11 -11h0m35 20h0m18 -1h0m-29 -3h0m16 11h0m13 -17h0m-60 -9h0m41 16h0m-41 -8h0m17 8h0m-21 -17h0m24 5h0m10 -5h0m11 22h0m-26 -11h0m37 2h0m13 11h0m-49 8h0m31 -21h0m-12 17h0m-21 -9h0m30 -11h0m23 8h0m-3 18h0m-25 -4h0m-25 -27h0m12 -5h0m-5 16h0m-1 -13h0m6 -1h0m4 27h0m20 -1h0m-8 -9h0m-11 -8h0m-1 1h0m10 12h0m12 1h0m-16 -9h0m-3 -3h0m1 0h0m30 21h0m-1 0h0m3 -1h0m-20 6h0m35 -28h0m0 4h0m12 18h0m-7 -23h0m26 18h0m-18 -8h0m14 -9h0m-31 -10h0m24 7h0m-7 27h0m10 -9h0m-14 -8h0m25 -1h0m-24 19h0m-11 2h0m-2 -28h0m1 -1h0m-5 23h0m30 -21h0m-19 25h0m2 -8h0m-3 -14h0m-5 7h0m27 -1h0m-28 -19h0m28 24h0m-15 14h0m-5 -15h0m12 -11h0m4 -5h0m-3 13h0m8 -4h0m-24 20h0m-7 1h0m16 -10h0m2 -1h0m2 -20h0m5 -4h0m2 3h0m-3 1h0m3 -2h0m-9 33h0m2 2h0m-53 3h0m25 1h0m-9 -12h0m-21 5h0m16 -1h0m7 -1h0m9 4h0m-8 -38h0m3 58h0m-21 -7h0m6 -3h0m9 15h0m-30 -13h0m38 10h0m-5 -10h0m8 1h0m-10 -3h0m-9 5h0m0 1h0m-34 6h0m31 -17h0m-19 16h0m41 -1h0m-6 -9h0m-16 -13h0m14 24h0m-35 -7h0m40 -9h0m-11 10h0m-29 -3h0m37 -4h0m2 0h0m-35 0h0m16 9h0m10 9h0m13 -11h0m-37 -9h0m-2 -3h0m1 2h0m8 6h0m5 -9h0m1 -1h0m17 15h0m-36 -6h0m-8 11h0m-1 0h0m-1 -2h0m60 10h0m30 4h0m-32 20h0m-4 -3h0m-1 -1h0m13 0h0m-6 2h0m2 2h0m11 14h0m-4 -7h0m1 2h0m12 2h0m2 -1h0m-7 -1h0m4 -1h0m-23 -106h0" stroke="#c0b3de"/>
<path d="M206 1107h0m12 -5h0m-32 4h0m21 4h0m22 21h0m-35 -27h0m-12 -5h0m42 10h0m-3 12h0m13 3h0m4 1h0m-11 1h0m-12 -2h0m-1 -2h0m-10 -16h0m0 3h0m7 -1h0m-13 20h0m27 -5h0m-43 0h0m47 -5h0m-30 9h0m-20 -6h0m42 9h0m16 -12h0m-31 -17h0m21 26h0m-53 -20h0m25 -6h0m35 12h0m-24 8h0m0 -11h0m18 12h0m-44 -24h0m22 27h0m-6 -16h0m24 21h0m-49 -22h0m45 15h0m-32 -3h0m30 10h0m2 2h0m4 -17h0m-21 14h0m-29 -20h0m41 9h0m-10 7h0m35 0h0m-35 -11h0m-20 -4h0m-10 -8h0m62 27h0m-28 3h0m7 -26h0m-2 -1h0m-5 19h0m14 -12h0m-28 14h0m24 -9h0m-11 -17h0m7 5h0m-20 1h0m25 1h0m-30 4h0m52 13h0m-39 -8h0m31 -7h0m-40 8h0m-9 -2h0m42 12h0m-34 0h0m-18 -12h0m9 -5h0m12 -8h0m4 14h0m-2 -17h0m-15 10h0m1 1h0m28 -7h0m-4 13h0m10 -2h0m5 13h0m-11 -8h0m5 -5h0m-14 -5h0m16 13h0m-11 -6h0m16 9h0m1 1h0m-10 -6h0m14 18h0m-3 -1h0m15 -4h0m-4 3h0m-2 0h0m0 2h0m0 2h0m8 -6h0m23 1h0m-10 -10h0m17 -21h0m0 2h0m-10 18h0m15 -4h0m-3 2h0m-21 17h0m33 -8h0m-2 -11h0m-13 5h0m1 0h0m-14 3h0m9 12h0m10 -30h0m-10 -3h0m21 14h0m-14 9h0m-5 -21h0m-17 -5h0m28 23h0m-16 12h0m2 -10h0m3 -17h0m-14 20h0m30 -6h0m-20 -6h0m-2 -1h0m2 -5h0m-7 14h0m28 -11h0m-21 19h0m-6 -30h0m-8 27h0m25 -23h0m-20 -1h0m24 22h0m-34 -4h0m42 -3h0m-31 -7h0m3 9h0m28 0h0m-25 -17h0m9 21h0m5 6h0m-22 -10h0m5 12h0m-8 -4h0m6 4h0m-4 0h0m1 1h0m-3 -1h0m6 -5h0m11 -9h0m-1 1h0m-6 2h0m11 0h0m0 3h0m-11 -4h0m17 -16h0m-5 -2h0m-6 -3h0m-2 2h0m2 3h0m2 -4h0m0 -1h0m1 33h0m-4 0h0m7 2h0m-4 -1h0m-63 -4h0m24 3h0m-12 2h0m-11 -2h0m-2 0h0m31 0h0m-21 15h0m-18 -11h0m30 12h0m-17 -4h0m13 4h0m-17 -12h0m-8 14h0m9 -12h0m24 12h0m-1 0h0m-41 5h0m39 -10h0m1 1h0m-28 -4h0m43 -6h0m-6 13h0m-33 -12h0m-8 2h0m22 9h0m-10 -8h0m34 -3h0m-14 1h0m9 13h0m-34 2h0m36 -17h0m1 -1h0m-45 19h0m33 -21h0m-2 13h0m-14 -11h0m15 8h0m-3 11h0m3 1h0m-12 -13h0m-30 14h0m2 -1h0m5 -3h0m57 9h0m2 -73h0m-2 -1h0m1 0h0m-6 -1h0m2 0h0m6 0h0" stroke="#b5a1e2"/>
<path d="M198 1104h0m-5 18h0m3 -12h0m33 22h0m-29 -11h0m37 16h0m-45 -23h0m39 12h0m-5 1h0m-7 -16h0m-27 18h0m-18 -26h0m41 25h0m25 -5h0m-33 -21h0m-8 11h0m32 1h0m-37 -15h0m0 2h0m-9 19h0m51 12h0m-2 3h0m-18 -31h0m-42 13h0m52 -8h0m-34 15h0m-1 1h0m15 -22h0m11 21h0m21 -3h0m-62 -7h0m19 16h0m34 -8h0m0 -1h0m0 6h0m-22 -25h0m32 36h0m-60 -26h0m-9 -9h0m57 11h0m-4 -12h0m19 21h0m-35 -8h0m-24 -7h0m4 9h0m53 0h0m-49 -14h0m25 2h0m25 20h0m-44 -21h0m-2 3h0m27 7h0m3 -2h0m-34 9h0m31 -14h0m-27 12h0m-3 -1h0m46 -4h0m4 5h0m-8 -6h0m-60 3h0m20 -14h0m33 21h0m-20 -4h0m20 -6h0m-12 -1h0m-4 6h0m10 7h0m-2 0h0m6 1h0m-3 0h0m-3 -8h0m-4 -4h0m-3 -1h0m4 4h0m-7 -2h0m14 11h0m2 2h0m31 -23h0m-19 6h0m17 18h0m28 3h0m-13 -21h0m1 18h0m7 -12h0m4 19h0m-30 -3h0m9 -7h0m17 5h0m-9 -8h0m1 -7h0m12 6h0m-2 -11h0m-5 -2h0m-16 -1h0m17 22h0m-28 -5h0m3 -20h0m3 1h0m13 34h0m17 -12h0m-14 12h0m5 -1h0m-8 -16h0m-9 -20h0m7 18h0m-3 -8h0m-5 3h0m3 -14h0m16 32h0m-8 -16h0m11 19h0m-7 -15h0m-10 16h0m1 1h0m-10 -4h0m17 -6h0m-5 1h0m0 2h0m4 -6h0m-4 2h0m-1 -3h0m11 -18h0m-5 30h0m-51 1h0m-10 1h0m21 1h0m-3 2h0m22 1h0m-1 -1h0m-18 -8h0m13 10h0m-35 10h0m27 -2h0m-9 -7h0m-13 9h0m-8 -7h0m22 -3h0m10 14h0m-22 -8h0m11 -8h0m9 4h0m-2 -6h0m-38 18h0m59 -64h0m-3 -2h0" stroke="#a388e1"/>
<path d="M245 1119h0m-73 -12h0m28 25h0m29 -12h0m-4 -14h0m2 19h0m-21 -10h0m-16 -7h0m6 25h0m34 -1h0m1 -23h0m-15 10h0m-4 1h0m-2 -1h0m61 9h0m-6 -22h0m10 3h0m-14 -4h0m14 26h0m7 -3h0m-32 5h0m-5 -29h0m16 3h0m-16 -4h0m20 35h0m-7 -22h0m6 15h0m-21 10h0m-5 1h0m2 20h0m11 -67h0m2 -1h0" stroke="#926fe0"/>
<path d="M199 1104h0m34 23h0" stroke="#7959e6"/>
<path d="M187 1106h0m63 -9h0" stroke="#0000ee"/>
<path d="M220 1117h0m55 10h0m-60 -4h0m29 0h0m18 12h0m-67 -5h0" stroke="#452fec"/>
<path d="M491 1126h0m25 0h0m-37 -21h0m39 12h0m-48 -16h0m-5 18h0m36 11h0m-30 -11h0m-22 -10h0m66 8h0m-31 -6h0m-1 0h0m24 3h0m2 22h0m-29 -11h0m-31 -19h0m53 4h0m-6 -3h0m-3 12h0m13 3h0m1 -13h0m4 14h0m-12 2h0m0 -1h0m-11 -2h0m-34 -9h0m5 -15h0m-3 5h0m8 9h0m7 -16h0m21 14h0m-1 -1h0m-5 11h0m3 -15h0m-25 9h0m20 -8h0m20 -1h0m-34 21h0m33 -14h0m-5 9h0m-25 9h0m-9 -3h0m17 -19h0m23 14h0m-57 -25h0m53 34h0m1 -15h0m-5 -12h0m-3 24h0m-6 -2h0m-7 0h0m32 -6h0m-34 -21h0m-24 6h0m45 -4h0m-53 4h0m20 -8h0m-10 19h0m10 -17h0m41 9h0m-36 -9h0m16 14h0m20 -1h0m-47 0h0m18 1h0m30 17h0m-45 -5h0m37 -5h0m-34 -14h0m9 6h0m18 11h0m-47 -8h0m35 -16h0m-27 21h0m18 -13h0m5 7h0m16 7h0m-48 -10h0m7 -2h0m10 -3h0m28 14h0m-40 -8h0m1 5h0m16 12h0m35 -9h0m-40 -11h0m6 22h0m25 -27h0m-16 19h0m2 -7h0m-22 -8h0m-9 -7h0m-1 -1h0m29 29h0m23 -17h0m10 15h0m5 -6h0m-53 -14h0m21 23h0m-8 -18h0m2 8h0m15 3h0m5 -13h0m-36 5h0m7 9h0m24 -9h0m-4 -12h0m-20 1h0m47 20h0m-26 -5h0m7 -7h0m2 -2h0m-34 9h0m-1 -10h0m-9 -10h0m44 2h0m19 14h0m-4 19h0m-46 -19h0m45 -3h0m-54 1h0m29 6h0m-17 -5h0m-7 -18h0m9 1h0m-16 10h0m45 8h0m-13 -5h0m1 1h0m9 13h0m-7 -7h0m-11 -8h0m1 5h0m18 12h0m-16 -9h0m32 14h0m-20 6h0m20 -1h0m-8 -32h0m20 23h0m13 6h0m13 -2h0m-7 -29h0m10 28h0m-9 -14h0m-11 6h0m-10 2h0m9 5h0m8 -20h0m11 -6h0m-3 31h0m-20 -1h0m4 -25h0m4 -5h0m-1 2h0m22 24h0m-32 -25h0m31 14h0m-13 5h0m1 0h0m2 -16h0m-24 29h0m36 -10h0m-27 -1h0m-1 1h0m10 -8h0m-7 -19h0m14 30h0m-9 9h0m1 -17h0m1 -7h0m12 6h0m-3 -12h0m6 1h0m-16 -4h0m7 23h0m13 -10h0m-14 11h0m8 -16h0m-25 12h0m5 7h0m17 -8h0m-15 14h0m3 -11h0m16 -1h0m9 -7h0m-26 -3h0m24 -1h0m-31 23h0m-5 -30h0m-5 24h0m1 -2h0m27 -13h0m-21 13h0m29 -6h0m-28 -23h0m22 8h0m-11 -7h0m-4 15h0m1 -5h0m14 15h0m-19 -15h0m-5 7h0m21 3h0m-21 -8h0m-10 -12h0m11 19h0m22 -6h0m2 0h0m-27 -16h0m20 38h0m-13 -32h0m-15 -4h0m38 22h0m-26 -16h0m8 -2h0m10 27h0m-8 -16h0m21 0h0m0 6h0m-27 0h0m9 -2h0m4 -9h0m-2 17h0m-8 8h0m18 -21h0m-22 21h0m-3 1h0m-2 -1h0m0 1h0m13 -11h0m0 -3h0m-6 2h0m0 -2h0m10 -18h0m1 0h0m3 -4h0m2 1h0m-9 34h0m6 2h0m-5 0h0m-52 3h0m-1 -5h0m25 3h0m-35 -6h0m1 5h0m24 -2h0m-6 0h0m-13 -1h0m-1 0h0m17 -1h0m-1 5h0m19 3h0m-19 -9h0m-7 4h0m16 -39h0m-31 49h0m34 10h0m-16 -2h0m7 4h0m6 5h0m-18 -14h0m7 -3h0m-1 1h0m3 4h0m-29 -6h0m12 2h0m23 14h0m-1 1h0m16 -16h0m-36 4h0m8 -3h0m14 5h0m2 -1h0m-38 2h0m47 -4h0m-10 -7h0m-1 4h0m-2 7h0m-6 -2h0m-37 8h0m34 -17h0m-20 13h0m36 -8h0m-1 -4h0m-16 -9h0m-12 16h0m0 2h0m-9 -7h0m23 -3h0m20 -3h0m-4 11h0m-2 3h0m6 -19h0m-38 14h0m14 3h0m2 5h0m17 3h0m-30 -16h0m33 10h0m-27 -20h0m28 7h0m-20 -2h0m13 20h0m-36 -10h0m32 -4h0m-2 -3h0m-23 3h0m-11 14h0m31 -9h0m-8 -10h0m-6 -1h0m15 8h0m4 -4h0m-16 3h0m-14 12h0m-15 2h0m5 -3h0m58 9h0m5 0h0m-4 2h0m-15 5h0m29 -4h0m3 0h0m-22 10h0m35 1h0m19 1h0m-14 2h0m2 0h0m-7 2h0m1 6h0m-8 2h0m6 -21h0m1 0h0m-5 0h0m-24 12h0m-2 8h0m1 0h0m-5 -5h0m16 -1h0m-2 -3h0m-14 6h0m-1 -1h0m13 0h0m1 0h0m7 -5h0m-1 0h0m-17 8h0m1 -1h0m15 -5h0m-17 -1h0m22 21h0m-9 -2h0m9 -5h0m-5 8h0m-5 -6h0m1 -1h0m2 2h0m12 2h0m-2 -1h0m-2 4h0m-1 1h0m6 -5h0m-6 -1h0m1 0h0m3 -1h0m-9 7h0m-15 -114h0m81 89h0m-3 0h0m5 0h0m2 0h0m2 1h0" stroke="#d3d3d3"/>
<path d="M458 1103h0m34 25h0m18 -18h0m-18 8h0m24 -4h0m-57 -17h0m10 35h0m-25 -27h0m38 14h0m1 -13h0m30 27h0m-20 -3h0m-44 -21h0m26 18h0m26 -8h0m-40 -11h0m5 -3h0m23 17h0m10 -8h0m-17 8h0m31 -8h0m-30 14h0m-7 -14h0m-11 11h0m-18 -12h0m-1 1h0m53 -3h0m-9 0h0m3 12h0m4 1h0m11 12h0m20 -33h0m2 9h0m21 7h0m-7 7h0m6 -20h0m-30 17h0m23 10h0m-4 5h0m3 -28h0m-2 24h0m10 -8h0m1 -2h0m-5 -14h0m-21 22h0m2 6h0m9 -8h0m9 -29h0m-4 34h0m-36 -3h0m-13 6h0m19 -2h0m-28 4h0m13 -6h0m-25 6h0m13 -3h0m14 15h0m-20 6h0m-3 -5h0m28 -9h0m-28 7h0m44 -6h0m-40 -3h0m25 -4h0m7 17h0m-50 3h0m5 -1h0m62 35h0" stroke="#cac3d9"/>
<path d="M459 1106h0m32 -6h0m-19 2h0m-7 18h0m15 -12h0m-8 11h0m-5 -17h0m-13 -6h0m11 15h0m4 11h0m-20 -5h0m27 -13h0m1 3h0m-23 14h0m17 4h0m-20 -6h0m46 -15h0m-18 -4h0m-25 6h0m26 12h0m-32 -6h0m58 -2h0m0 15h0m-31 -28h0m-19 -1h0m22 27h0m21 -16h0m-34 2h0m-1 13h0m-3 -4h0m29 10h0m-34 -28h0m22 1h0m11 21h0m7 -9h0m-49 -6h0m55 18h0m-48 -10h0m58 21h0m-63 -26h0m2 0h0m61 13h0m-16 4h0m-54 -26h0m48 16h0m5 -17h0m8 7h0m-48 -1h0m0 -2h0m23 -5h0m-1 1h0m11 4h0m2 20h0m-28 -14h0m1 1h0m0 -11h0m-10 -4h0m36 7h0m11 10h0m-4 -2h0m-34 8h0m-13 -15h0m45 1h0m21 10h0m-48 2h0m-2 -1h0m22 14h0m28 -13h0m-16 8h0m-36 -22h0m4 -4h0m-10 24h0m0 -15h0m15 6h0m12 -14h0m5 20h0m-9 -6h0m16 11h0m-12 -9h0m14 10h0m-20 -16h0m6 0h0m4 5h0m3 6h0m-7 -7h0m3 -4h0m15 26h0m-3 0h0m12 -4h0m-4 6h0m8 -7h0m1 2h0m-10 2h0m23 -26h0m-1 14h0m-6 11h0m26 -11h0m3 -5h0m-24 20h0m16 -11h0m-7 -18h0m18 25h0m-31 -3h0m11 -28h0m12 4h0m-18 14h0m-2 -22h0m10 27h0m-13 -23h0m2 0h0m1 -1h0m28 24h0m-16 -9h0m-10 19h0m10 -15h0m-2 -2h0m-4 7h0m2 9h0m24 -24h0m-22 15h0m-13 1h0m24 4h0m-16 -31h0m8 34h0m-13 -2h0m28 -3h0m-34 -4h0m10 -11h0m16 8h0m-7 12h0m12 -29h0m0 29h0m-3 -16h0m-19 6h0m6 12h0m-2 0h0m2 1h0m-11 -4h0m-1 3h0m6 1h0m-3 -1h0m6 -5h0m10 -4h0m-1 -3h0m6 4h0m4 -21h0m1 -3h0m-4 1h0m-6 -2h0m-2 5h0m5 -4h0m-1 -2h0m1 34h0m-4 0h0m-24 6h0m-9 -12h0m-3 3h0m0 6h0m-24 -3h0m29 -2h0m2 3h0m-13 3h0m12 1h0m9 0h0m-29 -8h0m7 22h0m-8 -4h0m-9 5h0m-3 -6h0m28 0h0m4 0h0m-28 -8h0m14 0h0m11 14h0m-31 0h0m-5 2h0m36 -16h0m-23 -4h0m19 13h0m-27 -5h0m32 10h0m-29 -16h0m4 3h0m32 0h0m-17 -3h0m16 6h0m-35 1h0m24 -6h0m-5 -4h0m7 28h0m7 -10h0m-29 2h0m-3 -14h0m14 -4h0m-27 20h0m73 24h0m-21 6h0m5 2h0m23 12h0m1 2h0m-16 -6h0m16 3h0m1 1h0m-4 2h0m-20 -113h0m0 -1h0m2 -2h0" stroke="#c0b3de"/>
<path d="M468 1107h0m0 -4h0m-3 10h0m26 2h0m12 9h0m-50 -4h0m-7 -19h0m48 28h0m15 -13h0m-38 -5h0m32 1h0m4 13h0m-49 -7h0m14 -4h0m34 19h0m-14 -6h0m-3 -25h0m-1 -1h0m9 27h0m-50 -22h0m38 19h0m24 -6h0m1 0h0m-62 -8h0m43 20h0m12 -1h0m-24 -17h0m-30 -4h0m14 8h0m23 -14h0m-6 -6h0m34 26h0m-50 9h0m28 -27h0m-4 12h0m10 -5h0m-48 -7h0m57 2h0m1 4h0m-34 -14h0m25 24h0m-20 -4h0m-23 -10h0m33 5h0m2 4h0m-16 -9h0m13 5h0m-3 6h0m11 5h0m-15 -12h0m6 8h0m25 13h0m30 -1h0m5 -11h0m2 -5h0m-18 -10h0m20 1h0m10 13h0m-18 -13h0m-4 27h0m7 4h0m-18 -30h0m9 13h0m23 -5h0m-34 21h0m13 2h0m-5 -14h0m-6 -25h0m7 23h0m-4 -8h0m-7 22h0m18 -14h0m10 -15h0m-6 29h0m-45 4h0m8 -9h0m-29 5h0m39 2h0m-4 5h0m-36 9h0m36 8h0m-35 -20h0m19 13h0m20 4h0m-9 2h0m-24 -11h0m-6 -7h0m31 18h0m-43 0h0m31 0h0m-39 2h0m4 -1h0m2 0h0m60 30h0m-1 -99h0m-2 -2h0m-4 1h0" stroke="#b5a1e2"/>
<path d="M461 1123h0m23 -6h0m77 7h0m-38 -31h0m3 -1h0m-2 -1h0m1 0h0m2 -1h0m-2 2h0m-4 -3h0" stroke="#a388e1"/>
<path d="M546 1115h0m-54 19h0" stroke="#0000ee"/>
<path d="M763 1126h0m25 0h0m-38 -20h0m-20 1h0m32 -6h0m-20 1h0m-5 19h0m3 -13h0m11 1h0m22 22h0m-30 -11h0m-23 -10h0m67 8h0m-49 -15h0m17 9h0m24 2h0m-16 14h0m-27 -14h0m45 22h0m-29 -10h0m-16 -14h0m27 4h0m-43 -9h0m62 3h0m-9 1h0m-5 -3h0m-3 12h0m13 2h0m-37 0h0m38 -12h0m3 14h0m6 -9h0m-18 11h0m1 -1h0m-45 -11h0m4 -15h0m-3 4h0m16 -6h0m-23 21h0m44 -7h0m-23 22h0m6 -28h0m13 1h0m-12 2h0m7 -1h0m20 -1h0m-33 21h0m33 -14h0m-6 9h0m-33 6h0m40 -5h0m-51 -2h0m-6 -23h0m54 19h0m-50 3h0m-6 -18h0m50 3h0m2 -1h0m-3 26h0m15 -13h0m-22 9h0m-38 -29h0m63 24h0m-33 -21h0m-8 11h0m-18 -5h0m1 1h0m45 -5h0m0 23h0m4 -13h0m-38 -15h0m2 0h0m13 22h0m-33 -6h0m24 -14h0m16 15h0m19 -2h0m-47 1h0m46 13h0m-27 -13h0m-4 -16h0m-17 22h0m51 12h0m-26 -11h0m-11 -5h0m35 19h0m-23 -27h0m-20 18h0m0 -1h0m37 -3h0m13 13h0m-48 -28h0m25 21h0m-16 -14h0m-18 -17h0m33 7h0m3 21h0m-15 0h0m21 -16h0m-27 -1h0m25 21h0m-32 -19h0m0 14h0m-4 -4h0m30 10h0m-46 -18h0m18 -4h0m-7 -6h0m35 20h0m-29 -13h0m17 -6h0m-30 8h0m41 13h0m7 -9h0m-22 14h0m34 -8h0m-62 -12h0m41 8h0m-26 -6h0m-8 6h0m49 15h0m-10 -26h0m-13 12h0m32 20h0m-61 -26h0m62 13h0m-35 -12h0m-21 -3h0m39 19h0m-49 -27h0m43 17h0m-13 12h0m33 -2h0m-31 -14h0m3 17h0m-5 -10h0m27 -13h0m-40 9h0m1 0h0m-21 -17h0m24 6h0m-13 1h0m23 -7h0m9 3h0m12 12h0m-17 8h0m14 -12h0m-28 14h0m45 -10h0m-50 -14h0m38 13h0m-36 19h0m33 -22h0m-45 -11h0m-3 4h0m48 -2h0m18 21h0m-48 -5h0m43 -5h0m-53 1h0m29 17h0m-13 -33h0m-9 28h0m4 -11h0m-2 -15h0m-10 23h0m11 -23h0m11 28h0m5 -27h0m4 10h0m3 1h0m-6 6h0m10 6h0m-19 -16h0m13 8h0m-4 -1h0m10 3h0m-1 1h0m-12 -7h0m5 7h0m16 18h0m-4 -1h0m13 -3h0m4 -1h0m-21 6h0m20 -1h0m14 -33h0m1 6h0m-20 0h0m17 17h0m13 7h0m13 -2h0m-7 -29h0m10 28h0m-9 -14h0m-16 -4h0m-8 22h0m26 -11h0m-6 8h0m9 -12h0m-4 1h0m-22 4h0m9 5h0m8 -20h0m-15 28h0m16 -10h0m11 -24h0m-24 29h0m4 -24h0m4 -5h0m21 25h0m-32 -25h0m31 15h0m-9 -4h0m5 20h0m-9 -12h0m3 -15h0m-24 28h0m-1 -4h0m37 -5h0m-28 0h0m10 -8h0m-7 -19h0m-1 4h0m15 26h0m-9 9h0m1 -17h0m13 -1h0m-3 -12h0m-5 -1h0m11 2h0m-29 11h0m-2 -21h0m15 6h0m10 1h0m-1 0h0m11 12h0m1 1h0m-26 7h0m-17 -4h0m4 -20h0m32 10h0m-30 -9h0m1 -1h0m17 31h0m-8 -1h0m17 -8h0m2 1h0m-17 12h0m3 -10h0m2 -18h0m-4 8h0m1 -1h0m24 -1h0m-22 23h0m-1 -4h0m6 3h0m-14 1h0m-5 -30h0m-5 23h0m29 -15h0m-14 4h0m1 0h0m20 4h0m-28 -24h0m8 12h0m14 14h0m-18 8h0m26 -19h0m-34 20h0m33 -24h0m-26 0h0m-10 16h0m24 4h0m-19 -17h0m-10 -13h0m13 -2h0m22 16h0m-27 -16h0m7 6h0m21 18h0m-25 -16h0m19 25h0m2 3h0m12 -13h0m-27 -1h0m-1 1h0m9 -2h0m-6 -13h0m9 3h0m-1 18h0m-12 8h0m-1 -1h0m4 -7h0m6 -6h0m5 3h0m-12 -2h0m10 -18h0m4 -4h0m2 1h0m-11 6h0m4 -5h0m0 -1h0m-53 39h0m-2 -5h0m11 4h0m-21 -7h0m38 9h0m-12 -9h0m9 3h0m-34 1h0m24 2h0m0 -3h0m-18 -1h0m16 -1h0m-10 4h0m18 -2h0m1 1h0m8 1h0m-21 2h0m13 0h0m9 2h0m-1 -2h0m-36 0h0m18 -8h0m-10 1h0m-13 14h0m35 10h0m1 -1h0m-16 -1h0m6 3h0m-15 -7h0m-18 -11h0m39 24h0m-19 -14h0m6 -2h0m-25 -3h0m1 0h0m11 3h0m21 14h0m-21 -25h0m31 6h0m-36 9h0m18 0h0m25 -5h0m-41 9h0m5 -5h0m8 -3h0m14 5h0m7 7h0m-35 -20h0m-9 14h0m35 -4h0m4 -1h0m8 1h0m-37 -8h0m28 1h0m-1 4h0m-3 7h0m-1 0h0m-5 -2h0m-36 8h0m33 -18h0m-19 16h0m42 -1h0m-44 -1h0m37 -8h0m0 -5h0m-16 -9h0m11 8h0m-5 8h0m1 0h0m-20 1h0m-7 -6h0m-2 1h0m24 -4h0m12 17h0m4 -8h0m-40 1h0m43 -17h0m-37 14h0m6 -1h0m-15 -5h0m22 9h0m19 8h0m4 -6h0m-12 -1h0m-16 -19h0m-13 17h0m22 -12h0m17 7h0m-9 18h0m7 -9h0m7 -10h0m-37 11h0m36 -3h0m-37 -8h0m33 -5h0m-45 19h0m-1 0h0m36 -21h0m-16 11h0m23 6h0m-24 -16h0m-3 -3h0m18 11h0m-1 0h0m-2 12h0m7 -16h0m-16 3h0m-29 14h0m-1 0h0m6 -1h0m-1 -2h0m2 0h0m57 8h0m5 1h0m-4 2h0m-15 5h0m29 -4h0m3 0h0m-22 10h0m36 1h0m18 0h0m-14 3h0m3 0h0m-8 2h0m1 6h0m-8 2h0m7 -21h0m-2 -1h0m-3 1h0m-10 11h0m-14 1h0m-2 8h0m-5 -5h0m17 -2h0m-2 -2h0m-1 1h0m-13 5h0m13 -1h0m-8 -5h0m-4 8h0m17 -6h0m-13 5h0m2 1h0m-6 -7h0m22 21h0m-9 -2h0m9 -5h0m-5 7h0m0 -1h0m10 -1h0m-15 -3h0m1 -1h0m1 1h0m13 2h0m-2 0h0m-2 4h0m-1 -5h0m1 0h0m4 -2h0m-10 8h0m6 -9h0m-17 -108h0m-4 -1h0m82 93h0m-3 0h0m7 0h0m2 0h0" stroke="#d3d3d3"/>
<path d="M728 1108h0m93 15h0m-2 -11h0m-5 -8h0m-78 56h0m33 -16h0m6 1h0" stroke="#cac3d9"/>
<path d="M759 1123h0m-28 -26h0m4 15h0m23 9h0m-8 -22h0m-29 12h0m-8 -10h0m54 -1h0m-46 6h0m43 3h0m14 2h0m-21 9h0m4 2h0m7 1h0m-14 -6h0m25 22h0m-1 -34h0m22 19h0m17 -20h0m-10 19h0m16 -4h0m-1 16h0m-14 -26h0m-8 -1h0m1 14h0m25 8h0m-34 -5h0m28 -6h0m7 -3h0m-31 21h0m17 0h0m-42 -1h0m-1 12h0m9 15h0m-21 -25h0m10 20h0m15 2h0m-5 -15h0m17 -51h0m2 -2h0" stroke="#c0b3de"/>
<path d="M742 1120h0m-16 -23h0m18 34h0m28 1h0m-7 -3h0m-27 -29h0m40 11h0m1 15h0m-25 -18h0m11 13h0m-41 -11h0m-3 3h0m52 8h0m-35 -15h0m25 9h0m-38 -19h0m13 9h0m22 14h0m7 -8h0m2 2h0m-33 4h0m39 -4h0m-41 -17h0m29 21h0m4 7h0m5 0h0m-3 1h0m11 12h0m40 -8h0m17 -9h0m-36 11h0m12 -28h0m-15 30h0m18 -9h0m-5 14h0m-10 -13h0m12 -16h0m5 28h0m2 2h0m-38 -40h0m-9 54h0m-24 -2h0m12 -9h0m-12 15h0m-7 2h0m14 -20h0m8 -3h0m3 20h0m28 -63h0m1 -1h0m1 1h0m0 -1h0m-6 -2h0" stroke="#b5a1e2"/>
<path d="M790 1118h0m-15 6h0m-42 0h0m3 -9h0m-20 -9h0m11 11h0m51 -9h0m-44 16h0m5 5h0m23 2h0m4 -14h0m-10 2h0m49 6h0m9 -11h0m-11 -8h0m-3 31h0m23 -21h0m-25 76h0m6 -3h0m-6 -97h0m-1 0h0m0 0h0m-4 -2h0m6 0h0" stroke="#a388e1"/>
<path d="M804 1105h0" stroke="#926fe0"/>
<path d="M783 1102h0m34 25h0m-50 30h0" stroke="#0000ee"/>
<path d="M219 1335h0m-12 -20h0m-20 1h0m0 -2h0m59 13h0m-48 -15h0m-4 18h0m-1 -2h0m4 -11h0m11 1h0m21 22h0m-30 -11h0m-22 -10h0m66 8h0m-48 -15h0m1 1h0m-13 -6h0m52 16h0m2 22h0m-29 -10h0m-15 -14h0m26 4h0m-42 -9h0m54 17h0m-1 -13h0m-6 -3h0m-3 12h0m-31 3h0m44 -1h0m-37 0h0m38 -12h0m3 14h0m6 -9h0m-17 11h0m-11 -3h0m-32 -19h0m8 9h0m7 -16h0m-21 21h0m43 -7h0m-23 22h0m17 -12h0m2 -15h0m-5 1h0m20 -1h0m-34 20h0m-25 -20h0m58 7h0m-5 9h0m-25 9h0m31 -8h0m-50 -2h0m-6 -23h0m53 20h0m-49 2h0m44 -15h0m13 12h0m-22 9h0m-8 -26h0m-7 12h0m-18 -6h0m45 -4h0m-33 -4h0m2 0h0m-1 2h0m13 19h0m-31 -6h0m22 -13h0m16 14h0m20 -1h0m-47 0h0m47 13h0m-29 -12h0m-3 -16h0m-17 21h0m50 12h0m-26 -11h0m-10 -5h0m10 -7h0m18 13h0m13 12h0m-47 -26h0m24 20h0m-15 -14h0m-18 -16h0m33 6h0m3 21h0m-46 -8h0m33 -16h0m-30 -2h0m28 26h0m21 -16h0m-27 0h0m-7 2h0m-17 -3h0m45 15h0m-28 1h0m-4 -4h0m24 7h0m-40 -14h0m11 -11h0m34 20h0m3 9h0m-31 -22h0m17 -6h0m17 12h0m-21 14h0m-28 -20h0m21 21h0m19 -13h0m4 15h0m-29 -21h0m-7 6h0m38 -11h0m19 19h0m-55 -15h0m39 18h0m-53 -25h0m5 0h0m42 16h0m-13 12h0m22 -18h0m10 16h0m-14 -27h0m19 21h0m-32 9h0m-6 -10h0m27 -13h0m-58 -7h0m23 5h0m-13 1h0m35 17h0m-4 -20h0m13 11h0m-3 -4h0m-36 5h0m8 9h0m45 -10h0m-50 -13h0m32 15h0m-15 -19h0m-15 34h0m31 -20h0m-12 16h0m-20 -8h0m-11 -20h0m-3 5h0m48 -3h0m-22 13h0m36 19h0m-44 -16h0m-2 -2h0m44 -3h0m-52 1h0m29 16h0m-24 -26h0m6 11h0m-1 -13h0m-5 -5h0m15 31h0m22 -12h0m-13 -5h0m-6 3h0m-1 1h0m10 -3h0m-6 0h0m0 5h0m14 9h0m-20 -15h0m10 5h0m8 7h0m-10 -4h0m13 17h0m14 -4h0m-4 3h0m-2 3h0m9 -5h0m-22 4h0m20 0h0m-8 -2h0m22 -31h0m1 6h0m-20 0h0m17 17h0m12 6h0m14 -1h0m-7 -29h0m0 1h0m10 27h0m-9 -14h0m-17 -4h0m-7 21h0m26 -10h0m-7 8h0m-6 -9h0m15 -3h0m-3 1h0m-22 3h0m9 6h0m7 -20h0m1 18h0m11 -24h0m-3 31h0m-20 -2h0m4 -24h0m3 -5h0m0 2h0m22 23h0m-32 -24h0m30 14h0m-8 -4h0m-5 8h0m3 -15h0m-23 28h0m-1 -5h0m37 -4h0m-28 -2h0m0 1h0m10 -7h0m-7 -19h0m-1 4h0m15 25h0m-9 9h0m0 -16h0m2 -8h0m11 7h0m-2 -11h0m-5 -2h0m10 2h0m-28 11h0m-2 -21h0m4 6h0m10 0h0m9 1h0m-2 21h0m13 -9h0m-13 11h0m-4 -23h0m-7 20h0m-17 -4h0m4 -19h0m31 9h0m-11 21h0m-8 -2h0m18 -7h0m-16 13h0m1 1h0m1 -11h0m16 -1h0m-1 -1h0m10 -6h0m-27 -2h0m26 -2h0m-23 18h0m-12 3h0m18 0h0m-14 1h0m-5 -29h0m0 -1h0m2 23h0m8 -10h0m21 4h0m-17 -22h0m-3 10h0m22 3h0m-2 -4h0m-25 1h0m0 -2h0m-5 9h0m22 7h0m-1 -5h0m-26 6h0m5 -13h0m-10 -12h0m13 -2h0m24 18h0m-3 -3h0m-2 9h0m-17 -19h0m-7 27h0m-2 -1h0m25 -23h0m-31 -7h0m37 22h0m-8 9h0m3 2h0m-22 -35h0m33 23h0m-22 15h0m-9 -23h0m13 6h0m-9 3h0m12 -12h0m-17 13h0m26 -9h0m-22 21h0m1 0h0m-11 -1h0m4 3h0m5 -8h0m4 -1h0m5 -6h0m-5 3h0m13 -25h0m2 3h0m-7 32h0m0 1h0m-53 4h0m-1 -5h0m11 4h0m-21 -7h0m37 8h0m-12 -8h0m-24 4h0m24 2h0m0 -4h0m-19 0h0m-1 -1h0m17 0h0m-10 3h0m-11 -2h0m38 2h0m-20 2h0m12 1h0m9 1h0m-37 -2h0m8 -6h0m19 -34h0m-31 47h0m34 10h0m-15 -2h0m-1 0h0m7 3h0m-14 -7h0m-18 -10h0m38 23h0m-18 -14h0m7 -2h0m2 4h0m-28 -6h0m1 -1h0m33 17h0m-1 0h0m9 -19h0m-36 9h0m19 0h0m24 -5h0m-40 9h0m-4 -6h0m8 1h0m9 -3h0m13 5h0m1 -1h0m6 8h0m-25 -19h0m16 10h0m4 -1h0m8 0h0m-36 -7h0m27 0h0m-1 4h0m-2 7h0m-42 6h0m1 -1h0m32 -15h0m-1 -1h0m-18 15h0m41 -1h0m-12 -1h0m-36 2h0m42 -10h0m-11 2h0m-18 2h0m-7 -6h0m31 10h0m2 3h0m-35 -6h0m37 1h0m5 -18h0m-25 0h0m-6 12h0m-14 -4h0m24 13h0m17 3h0m-30 -17h0m1 1h0m32 10h0m-13 -9h0m10 1h0m-2 13h0m-37 -10h0m29 -7h0m0 -1h0m16 4h0m-36 12h0m35 -3h0m-37 -9h0m34 -6h0m-47 20h0m35 -21h0m-14 11h0m5 -10h0m17 16h0m-24 -15h0m12 19h0m3 0h0m-12 -13h0m-14 12h0m-15 2h0m1 -1h0m6 0h0m-2 -2h0m58 8h0m1 3h0m-15 5h0m29 -4h0m-19 10h0m35 1h0m18 0h0m-13 2h0m2 0h0m-8 3h0m1 6h0m-7 1h0m6 -21h0m1 1h0m-6 -1h0m-9 11h0m-14 1h0m-2 8h0m1 0h0m-6 -5h0m17 -1h0m-2 -2h0m-1 1h0m-2 3h0m8 -5h0m-11 9h0m-7 -7h0m19 0h0m3 20h0m-9 -2h0m9 -5h0m-5 7h0m0 -1h0m9 -1h0m-14 -3h0m-1 -1h0m15 3h0m-4 4h0m5 -3h0m1 -1h0m-6 -1h0m2 -3h0m-22 -103h0m1 -2h0m1 2h0m-4 -3h0" stroke="#d3d3d3"/>
<path d="M219 1310h0m-10 8h0m16 -4h0m-17 22h0m17 1h0m11 -8h0m-40 12h0m29 -7h0m46 0h0m-2 -16h0m-27 31h0" stroke="#cac3d9"/>
<path d="M212 1321h0m26 -1h0m-55 3h0m4 -15h0m18 9h0m-12 20h0m-19 -22h0m10 11h0m50 -6h0m-53 -1h0m-4 0h0m1 3h0m0 -7h0m65 10h0m-8 -8h0m-21 12h0m17 -7h0m-48 -5h0m34 13h0m-4 -10h0m7 9h0m20 13h0m3 -1h0m36 -13h0m-22 7h0m23 -1h0m0 -15h0m-18 12h0m3 -14h0m10 30h0m-63 1h0m30 12h0m-20 1h0m10 -13h0m19 -45h0m84 87h0" stroke="#c0b3de"/>
<path d="M229 1326h0m-55 -15h0m48 28h0m-44 -33h0m53 16h0m-26 2h0m13 13h0m-11 -14h0m-12 -8h0m15 17h0m10 -8h0m-24 -9h0m45 19h0m-48 -8h0m0 8h0m-8 -2h0m17 -22h0m-17 7h0m51 28h0m19 2h0m24 -29h0m-10 29h0m-3 -4h0m-8 -32h0m21 25h0m-22 -6h0m-1 -21h0m13 26h0m-5 3h0m-1 -5h0m16 -16h0m0 -4h0m-36 35h0m-14 0h0m-5 -5h0m-24 20h0m23 -19h0m-6 -1h0m-19 25h0m59 7h0m-3 -73h0m0 -2h0m-4 0h0m78 91h0m5 -1h0m2 0h0m-3 1h0m0 -1h0m-3 1h0m4 -1h0" stroke="#b5a1e2"/>
<path d="M244 1335h0m-33 -14h0m-18 2h0m-5 -16h0m52 23h0m-33 -20h0m27 33h0m-43 -27h0m49 30h0m-34 -36h0m16 5h0m21 11h0m-16 -5h0m-15 -10h0m13 23h0m9 -20h0m22 19h0m25 10h0m-2 -27h0m-8 17h0m1 -20h0m-59 44h0m40 -56h0m78 90h0m5 -1h0m-3 0h0m4 1h0m-5 -1h0m2 0h0" stroke="#a388e1"/>
<path d="M193 1324h0m41 10h0m10 -9h0m-40 -8h0m15 14h0m-4 -3h0m15 18h0m17 -46h0m8 0h0" stroke="#926fe0"/>
<path d="M181 1326h0m-5 -15h0" stroke="#0000ee"/>
<path d="M494 1344h0m25 0h0m-38 -21h0m-20 1h0m32 -6h0m-32 4h0m60 13h0m-48 -15h0m1 0h0m-7 17h0m4 -11h0m33 22h0m0 -1h0m-31 -10h0m2 0h0m43 -1h0m-49 -16h0m-12 -5h0m30 15h0m-2 -1h0m25 3h0m-16 14h0m-11 -3h0m-32 -19h0m62 4h0m-7 14h0m-7 -17h0m-35 16h0m45 -1h0m-37 0h0m38 -13h0m3 15h0m6 -9h0m-18 10h0m-11 -2h0m-33 -10h0m5 -16h0m-1 1h0m-2 5h0m7 9h0m8 -16h0m-22 22h0m43 -8h0m-1 -1h0m-22 23h0m6 -28h0m14 2h0m-25 9h0m12 -8h0m27 -2h0m-33 21h0m-26 -21h0m59 8h0m-6 8h0m-25 9h0m-8 -3h0m-11 -7h0m1 1h0m-7 -24h0m54 19h0m0 2h0m-50 2h0m-6 -19h0m50 3h0m-2 24h0m-6 -2h0m25 -5h0m-34 -22h0m1 1h0m-26 5h0m-8 0h0m22 -8h0m-12 19h0m11 -17h0m14 20h0m26 -11h0m0 1h0m-58 4h0m39 0h0m-28 0h0m48 12h0m-29 -12h0m-4 -16h0m-17 21h0m51 12h0m-26 -11h0m-10 -4h0m34 18h0m-23 -26h0m-20 16h0m37 -3h0m13 13h0m-39 -20h0m-18 -17h0m33 6h0m-1 0h0m5 22h0m-47 -9h0m34 -15h0m-31 -3h0m50 10h0m-28 0h0m-6 2h0m-18 -3h0m29 8h0m16 7h0m-28 2h0m-4 -4h0m24 6h0m-40 -14h0m11 -11h0m35 20h0m2 10h0m-30 -23h0m-14 2h0m48 4h0m-22 15h0m34 -9h0m-41 10h0m20 -13h0m-26 -6h0m7 21h0m35 -1h0m-11 -26h0m-16 19h0m3 -6h0m33 19h0m-61 -26h0m5 -2h0m39 19h0m-53 -26h0m47 16h0m-13 12h0m23 -17h0m10 15h0m5 -6h0m-33 9h0m-8 -17h0m30 -5h0m-15 -4h0m-7 18h0m15 -12h0m-37 5h0m8 10h0m45 -10h0m-21 0h0m-29 -14h0m-9 -5h0m60 27h0m-49 9h0m28 -27h0m-4 13h0m6 -6h0m-42 -12h0m45 1h0m19 14h0m-49 2h0m-2 -1h0m45 -4h0m-53 1h0m30 17h0m-25 -27h0m45 9h0m-34 -14h0m13 21h0m-17 -5h0m-22 -1h0m9 10h0m6 -27h0m11 4h0m5 27h0m6 -26h0m3 9h0m-7 3h0m10 -1h0m-6 -2h0m11 16h0m-12 -10h0m9 4h0m-13 -11h0m3 8h0m20 19h0m-4 0h0m15 -4h0m-4 3h0m-1 1h0m8 -3h0m-22 4h0m20 -1h0m14 -33h0m1 7h0m-23 -5h0m20 22h0m13 6h0m13 -2h0m-24 -8h0m17 -19h0m10 26h0m-9 -13h0m-16 -4h0m-8 21h0m26 -11h0m-6 8h0m-7 -9h0m16 -3h0m-26 5h0m9 5h0m8 -20h0m-15 29h0m16 -11h0m1 -1h0m6 8h0m-20 -1h0m4 -25h0m4 -4h0m-1 1h0m22 24h0m-32 -25h0m22 11h0m5 19h0m-9 -11h0m3 -16h0m-24 29h0m-1 -5h0m10 -6h0m9 -7h0m-7 -18h0m-1 3h0m15 26h0m-9 9h0m1 -16h0m1 -8h0m12 7h0m-3 -13h0m6 1h0m-29 12h0m-2 -22h0m5 7h0m10 -1h0m10 1h0m-3 22h0m13 -10h0m1 1h0m-15 10h0m-4 -22h0m-24 16h0m4 -20h0m32 10h0m-12 21h0m-13 -9h0m22 -1h0m-15 14h0m2 0h0m1 -11h0m25 -8h0m-27 -2h0m1 -1h0m24 -1h0m-22 23h0m-13 -2h0m18 1h0m-14 1h0m-5 -30h0m1 -1h0m-6 25h0m7 -2h0m8 -10h0m21 4h0m-28 -23h0m22 8h0m-11 -6h0m-4 15h0m1 -6h0m-4 23h0m26 -20h0m-2 -3h0m-22 14h0m-3 -14h0m0 -1h0m-5 8h0m21 3h0m-26 5h0m5 -13h0m-10 -12h0m13 -2h0m24 19h0m-26 2h0m24 -6h0m-2 9h0m-18 -19h0m-7 27h0m30 -9h0m-18 -18h0m10 27h0m6 -3h0m-34 -4h0m41 -2h0m-27 -1h0m-4 -7h0m32 9h0m-34 -25h0m19 13h0m-1 -1h0m0 11h0m9 -7h0m-20 21h0m-8 2h0m5 -7h0m9 -5h0m-5 3h0m8 -5h0m8 -16h0m-6 -3h0m3 -4h0m3 3h0m-7 -2h0m0 34h0m-54 5h0m-1 -5h0m10 4h0m15 -1h0m-36 -6h0m38 9h0m-12 -10h0m-25 6h0m24 1h0m-18 -4h0m16 -1h0m-23 2h0m40 2h0m-8 3h0m9 1h0m-1 -2h0m-36 0h0m18 -7h0m-5 1h0m-5 -1h0m19 -34h0m-31 48h0m34 10h0m-15 -2h0m-1 0h0m7 3h0m-15 -7h0m-18 -11h0m39 24h0m-12 -17h0m-1 1h0m4 4h0m-29 -7h0m12 3h0m23 14h0m-1 0h0m-27 -10h0m19 0h0m24 -5h0m-41 9h0m-4 -6h0m9 1h0m8 -3h0m14 5h0m7 6h0m-35 -19h0m-8 14h0m17 -13h0m17 9h0m4 -1h0m8 1h0m-37 -8h0m28 1h0m-1 4h0m-2 7h0m-2 0h0m-5 -2h0m-36 8h0m23 -23h0m11 6h0m-20 15h0m42 -1h0m-12 -1h0m-30 0h0m-2 0h0m-5 2h0m43 -10h0m-18 -13h0m12 7h0m-5 8h0m-19 1h0m-7 -6h0m42 -5h0m-4 11h0m-39 1h0m37 2h0m-33 -13h0m0 -1h0m-8 4h0m22 8h0m3 5h0m-13 -13h0m33 10h0m-1 -11h0m-12 1h0m-15 -10h0m10 6h0m15 6h0m1 0h0m-41 3h0m33 -4h0m-3 -3h0m0 -1h0m16 4h0m-37 11h0m-1 -11h0m-13 14h0m25 -19h0m-6 -1h0m14 8h0m-26 1h0m24 10h0m3 1h0m-12 -13h0m-29 14h0m0 -1h0m6 0h0m57 6h0m5 1h0m-19 7h0m29 -4h0m3 0h0m-22 10h0m35 1h0m19 0h0m-14 2h0m2 0h0m-7 3h0m1 6h0m-8 2h0m6 -22h0m1 1h0m-5 -1h0m-10 11h0m-14 1h0m-2 9h0m1 0h0m11 -7h0m-2 -2h0m-1 1h0m-13 4h0m-1 -1h0m13 0h0m1 2h0m6 -6h0m0 0h0m-18 8h0m0 -7h0m19 0h0m3 20h0m-9 -1h0m9 -5h0m-5 7h0m0 -1h0m9 -1h0m-14 -4h0m2 0h0m8 8h0m6 -6h0m-6 0h0m1 -1h0m3 1h0m-1 3h0m0 -3h0m-20 -109h0m-3 1h0m81 89h0m-3 0h0m5 -1h0m4 1h0" stroke="#d3d3d3"/>
<path d="M482 1345h0m-25 -20h0m45 18h0m-2 3h0m-20 -16h0m9 -9h0m4 18h0m-7 -10h0m24 27h0m29 -12h0m4 8h0m-48 4h0m42 60h0m-10 -107h0" stroke="#cac3d9"/>
<path d="M468 1338h0m-17 -11h0m43 7h0m11 -6h0m-19 -4h0m26 10h0m-10 -14h0m6 23h0m-42 0h0m15 -24h0m17 10h0m-46 -7h0m45 1h0m-19 2h0m12 3h0m58 -8h0m2 18h0m-1 3h0m10 3h0m-17 8h0m-2 -27h0m-4 29h0m-29 0h0m11 7h0m0 -6h0m-3 6h0m-32 6h0m31 10h0m7 -6h0m-17 -3h0m19 36h0m5 -93h0m-2 -3h0m-2 0h0" stroke="#c0b3de"/>
<path d="M470 1321h0m-2 11h0m44 22h0m-16 -17h0m-44 -23h0m29 27h0m-16 -17h0m-12 11h0m51 3h0m11 4h0m-17 -24h0m-19 20h0m0 -19h0m17 5h0m-5 13h0m-5 9h0m24 -21h0m-53 0h0m39 16h0m-3 -5h0m61 0h0m2 -14h0m5 14h0m-6 -9h0m-5 22h0m1 -12h0m-8 -10h0m5 29h0m-37 18h0m5 4h0m-25 -11h0m23 6h0m12 -62h0m2 -1h0m-6 -2h0" stroke="#b5a1e2"/>
<path d="M467 1330h0m27 7h0m3 10h0m-29 -32h0m-13 12h0m38 22h0m-43 -30h0m17 16h0m2 -12h0m29 12h0m20 0h0m-18 7h0m-4 -5h0m32 -27h0m2 -2h0" stroke="#a388e1"/>
<path d="M474 1329h0m17 4h0m5 2h0m-11 -6h0" stroke="#926fe0"/>
<path d="M512 1327h0" stroke="#7959e6"/>
<path d="M551 1329h0m-39 33h0" stroke="#0000ee"/>
<path d="M762 1342h0m25 0h0m-38 -21h0m-20 1h0m32 -6h0m-32 4h0m12 -2h0m1 0h0m-6 18h0m-1 -1h0m4 -11h0m11 0h0m22 22h0m-31 -11h0m2 0h0m-24 -10h0m66 9h0m-48 -16h0m-12 -5h0m29 15h0m24 2h0m-16 14h0m-26 -14h0m15 11h0m-16 -13h0m27 4h0m-43 -10h0m62 4h0m-9 0h0m-5 -3h0m-3 12h0m-32 4h0m45 -1h0m1 -13h0m8 6h0m-17 10h0m1 -1h0m-12 -1h0m-33 -10h0m5 -16h0m0 1h0m4 14h0m8 -16h0m-22 22h0m43 -8h0m-1 -1h0m-5 11h0m-11 -16h0m-11 11h0m19 -9h0m20 -1h0m-33 21h0m-26 -21h0m59 8h0m-6 8h0m-25 9h0m-8 -3h0m40 -5h0m-51 -2h0m-6 -23h0m53 34h0m1 -15h0m-30 10h0m-20 -6h0m-5 -19h0m49 3h0m-1 25h0m15 -13h0m-22 10h0m25 -5h0m-34 -22h0m-7 12h0m-18 -6h0m46 -3h0m-34 -5h0m-10 19h0m11 -17h0m14 20h0m-9 -20h0m16 14h0m19 -2h0m0 1h0m-46 1h0m47 12h0m-29 -12h0m-4 -16h0m34 33h0m-26 -11h0m30 14h0m-47 -27h0m9 7h0m-18 -17h0m33 6h0m-1 0h0m4 22h0m-46 -9h0m34 -15h0m-31 -3h0m49 10h0m-27 0h0m25 21h0m-31 -19h0m11 5h0m-16 5h0m24 6h0m-40 -14h0m8 -2h0m10 -3h0m28 14h0m-28 -13h0m16 -6h0m11 21h0m7 -9h0m-22 15h0m36 -9h0m-60 -7h0m-2 0h0m2 5h0m17 12h0m34 -9h0m-11 11h0m-22 0h0m33 -6h0m-9 -21h0m-16 19h0m3 -6h0m32 19h0m1 -12h0m-70 -23h0m6 0h0m-2 -1h0m43 17h0m-13 12h0m23 -17h0m10 15h0m-14 -27h0m19 21h0m-51 -4h0m4 -12h0m21 -1h0m10 11h0m-17 7h0m-22 -7h0m8 10h0m45 -10h0m-21 0h0m-28 -14h0m16 -3h0m-15 34h0m24 -13h0m7 -8h0m-32 9h0m-10 -20h0m-4 5h0m0 -1h0m43 4h0m-17 6h0m-8 3h0m43 -5h0m-53 1h0m29 17h0m-17 -16h0m-13 -6h0m11 -8h0m5 14h0m1 -14h0m5 27h0m2 -14h0m0 1h0m10 -2h0m-6 5h0m4 -6h0m9 13h0m-18 -15h0m-4 -2h0m25 16h0m-16 -9h0m3 -4h0m7 7h0m7 19h0m-3 0h0m14 -4h0m-5 3h0m0 3h0m8 -5h0m-21 4h0m12 -2h0m22 -32h0m1 7h0m-3 17h0m12 6h0m14 -2h0m-24 -8h0m17 -21h0m9 28h0m-32 4h0m25 -11h0m-6 8h0m-6 -9h0m15 -3h0m0 -1h0m-3 2h0m-22 4h0m9 5h0m7 -20h0m-15 29h0m16 -11h0m11 -23h0m-4 30h0m-19 -1h0m4 -24h0m3 -4h0m22 24h0m-32 -25h0m30 14h0m-8 -3h0m-5 8h0m-20 13h0m-1 -5h0m37 -5h0m-28 -1h0m0 1h0m10 -8h0m-7 -18h0m14 29h0m-9 9h0m0 -16h0m1 -8h0m12 7h0m-3 -13h0m1 1h0m5 0h0m-28 12h0m-3 -22h0m5 7h0m21 0h0m-4 22h0m13 -10h0m1 1h0m-14 10h0m-4 -22h0m-8 19h0m-16 -3h0m3 -20h0m32 10h0m-12 21h0m-13 -9h0m6 7h0m17 -8h0m-15 14h0m2 -11h0m15 -1h0m10 -6h0m-26 -4h0m25 -1h0m-35 21h0m18 1h0m-15 1h0m-5 -30h0m11 12h0m21 4h0m-29 -23h0m11 2h0m-4 17h0m-3 15h0m27 -20h0m-34 21h0m32 -24h0m-26 0h0m17 14h0m-26 1h0m23 4h0m-29 -29h0m14 -2h0m24 19h0m-3 -4h0m-2 9h0m-25 8h0m30 -9h0m-2 6h0m-23 -14h0m13 5h0m-6 -13h0m9 5h0m-1 16h0m-7 6h0m12 0h0m-3 -15h0m-17 -4h0m25 0h0m-22 21h0m-5 1h0m3 -6h0m11 -9h0m-6 7h0m0 -3h0m13 -25h0m2 3h0m-3 1h0m-9 0h0m5 31h0m-3 -1h0m6 3h0m-4 0h0m-52 3h0m-1 -5h0m10 4h0m15 -1h0m-36 -6h0m37 9h0m-7 -11h0m-5 2h0m10 3h0m-34 2h0m6 -3h0m-2 0h0m-5 1h0m32 1h0m-10 2h0m17 -1h0m-20 2h0m12 1h0m10 1h0m-37 -2h0m13 -6h0m-5 -1h0m3 4h0m16 -38h0m-31 48h0m34 10h0m-15 -2h0m-2 0h0m7 3h0m-14 -7h0m-18 -11h0m39 24h0m-19 -14h0m7 -3h0m3 5h0m-29 -7h0m1 0h0m11 3h0m23 14h0m-2 0h0m9 -19h0m-35 9h0m18 0h0m24 -5h0m-40 9h0m-4 -6h0m17 -2h0m14 5h0m1 -1h0m-37 2h0m34 -4h0m12 0h0m-37 -8h0m27 5h0m-3 7h0m-42 6h0m2 -1h0m31 -17h0m-19 16h0m41 -1h0m-11 -1h0m-30 0h0m-2 0h0m-5 2h0m42 -10h0m0 -4h0m-5 -2h0m-24 11h0m-7 -7h0m22 -3h0m12 16h0m4 -8h0m-39 1h0m42 -16h0m-26 -2h0m-12 6h0m17 17h0m16 3h0m-29 -17h0m0 1h0m33 10h0m-1 -11h0m-12 1h0m-28 7h0m22 -12h0m-24 10h0m33 -4h0m-3 -3h0m2 22h0m7 -9h0m7 -10h0m-37 11h0m-1 -11h0m-12 14h0m34 -21h0m-10 2h0m18 15h0m-24 -16h0m15 8h0m0 12h0m-12 -13h0m-30 14h0m1 -2h0m4 -1h0m59 8h0m5 1h0m-19 7h0m29 -4h0m2 0h0m-21 10h0m35 1h0m18 0h0m-13 2h0m2 0h0m-8 3h0m1 6h0m-8 2h0m7 -21h0m1 0h0m-6 0h0m-9 10h0m-14 1h0m-3 9h0m2 0h0m-6 -6h0m17 -1h0m-3 -2h0m0 1h0m-14 4h0m12 -1h0m1 2h0m7 -6h0m-18 8h0m3 0h0m3 1h0m-7 -8h0m23 20h0m-10 -1h0m10 -5h0m-5 7h0m9 -2h0m1 1h0m-15 -4h0m1 -1h0m8 8h0m6 -5h0m-6 -1h0m0 -1h0m4 -1h0m-23 -106h0m3 -1h0m-2 -1h0m1 2h0m-6 -3h0m85 92h0m-4 0h0m5 0h0m4 0h0m-8 0h0" stroke="#d3d3d3"/>
<path d="M774 1340h0m-24 3h0m-1 -4h0m-17 -15h0m41 22h0m-8 -18h0m-37 11h0m30 -13h0m68 16h0m-17 -14h0m-2 18h0m10 -25h0m-42 48h0m44 46h0" stroke="#cac3d9"/>
<path d="M788 1333h0m-8 19h0m-21 -30h0m-40 7h0m58 20h0m-13 -13h0m-38 -20h0m53 19h0m-29 -19h0m-23 8h0m21 -8h0m17 17h0m-2 0h0m15 19h0m39 -19h0m-17 -4h0m8 -9h0m16 30h0m-20 -31h0m13 4h0m-6 -2h0m-2 33h0m-1 -21h0m1 4h0m0 13h0m23 -11h0m-20 -20h0m-37 36h0m8 15h0m-13 5h0m-24 -1h0m-14 2h0m64 8h0m0 23h0m-3 -1h0m3 -98h0m-3 -2h0" stroke="#c0b3de"/>
<path d="M762 1335h0m-22 13h0m7 -25h0m25 11h0m-4 -14h0m8 21h0m-33 -10h0m-19 5h0m28 10h0m-5 -10h0m-32 -20h0m51 10h0m19 12h0m-52 -19h0m0 -7h0m21 5h0m4 11h0m22 23h0m38 -28h0m-19 23h0m0 -16h0m-1 -15h0m18 12h0m-6 -2h0m-58 27h0m16 12h0m-11 3h0m22 -8h0m-11 0h0m-14 8h0m-3 -2h0m6 -1h0m52 59h0m-13 -115h0m-2 1h0m-2 -3h0" stroke="#b5a1e2"/>
<path d="M740 1338h0m41 2h0m-11 0h0m4 -16h0m-50 -12h0m61 40h0m24 -18h0m23 6h0m-30 11h0m-16 25h0" stroke="#a388e1"/>
<path d="M785 1333h0m-27 1h0m51 15h0" stroke="#926fe0"/>
<path d="M721 1328h0m55 44h0" stroke="#0000ee"/>
<path d="M218 1550h0m25 0h0m-37 -21h0m-20 2h0m32 -7h0m-32 4h0m59 13h0m-47 -15h0m1 0h0m-6 18h0m3 -12h0m11 0h0m21 22h0m1 -1h0m-31 -10h0m-21 -10h0m65 9h0m-48 -16h0m1 1h0m-13 -6h0m29 15h0m-1 -1h0m24 3h0m-15 14h0m-26 -14h0m43 22h0m-28 -11h0m-16 -13h0m27 4h0m-43 -10h0m61 4h0m-7 14h0m-1 -14h0m-5 -3h0m-4 12h0m-1 0h0m-30 4h0m44 -1h0m-36 0h0m37 -12h0m4 14h0m5 -9h0m-17 10h0m-11 -2h0m-33 -10h0m5 -16h0m-3 6h0m7 9h0m8 -16h0m-22 22h0m43 -8h0m-1 0h0m-22 22h0m17 -11h0m-11 -17h0m13 2h0m-12 1h0m7 -1h0m20 -1h0m-33 21h0m-26 -21h0m58 8h0m-5 8h0m-25 9h0m-8 -3h0m-11 -7h0m-6 -23h0m53 35h0m0 -16h0m-29 10h0m-20 -6h0m-5 -19h0m49 3h0m-1 25h0m14 -13h0m-22 10h0m-37 -30h0m62 25h0m-33 -22h0m1 1h0m-8 11h0m-18 -5h0m1 1h0m45 -5h0m-1 22h0m-33 -27h0m2 0h0m-11 19h0m24 3h0m26 -11h0m0 1h0m-58 4h0m23 -14h0m15 14h0m-26 0h0m46 12h0m-1 0h0m-27 -12h0m-4 -16h0m-17 21h0m50 12h0m-36 -15h0m34 18h0m-42 -8h0m36 -5h0m13 13h0m-47 -27h0m26 21h0m-17 -14h0m-18 -17h0m31 6h0m5 22h0m-12 -24h0m-30 -2h0m27 25h0m21 -16h0m-27 0h0m25 21h0m-36 -9h0m24 6h0m-40 -14h0m8 -1h0m10 -4h0m30 24h0m-2 -8h0m5 -8h0m-21 14h0m-24 -16h0m0 5h0m17 12h0m19 -13h0m15 4h0m-11 11h0m-29 -21h0m40 15h0m-47 -9h0m38 -12h0m-13 13h0m32 19h0m-62 -26h0m28 2h0m-21 -3h0m39 18h0m-53 -26h0m6 0h0m51 11h0m10 15h0m-14 -27h0m18 21h0m-32 9h0m-5 -9h0m26 -13h0m-39 9h0m1 0h0m-20 -17h0m22 5h0m21 -1h0m11 11h0m-17 8h0m14 -13h0m-36 5h0m8 10h0m45 -10h0m-21 0h0m-28 -14h0m31 16h0m19 7h0m-49 8h0m30 -20h0m-11 16h0m-20 -8h0m-10 -20h0m-4 5h0m43 4h0m19 25h0m-44 -16h0m-10 -5h0m29 17h0m-24 -27h0m7 12h0m-12 8h0m10 -23h0m-5 -4h0m11 4h0m5 27h0m5 -26h0m16 15h0m-13 -6h0m-6 3h0m4 4h0m-9 -10h0m9 12h0m-1 -5h0m9 3h0m-10 0h0m19 19h0m-3 0h0m15 -4h0m-7 6h0m-13 -1h0m20 -1h0m14 -33h0m1 7h0m-23 -5h0m20 22h0m12 6h0m14 -2h0m-24 -8h0m17 -21h0m0 2h0m9 27h0m-8 -14h0m-17 -4h0m-7 21h0m26 -11h0m-7 8h0m-6 -9h0m15 -3h0m-3 1h0m-22 4h0m9 6h0m7 -21h0m-14 29h0m15 -11h0m1 -1h0m10 -22h0m-4 31h0m-19 -2h0m4 -24h0m3 -5h0m0 1h0m22 24h0m-32 -25h0m30 15h0m-8 -4h0m4 19h0m-9 -11h0m3 -15h0m-24 23h0m37 -5h0m-28 -1h0m10 -7h0m-7 -18h0m-1 3h0m15 26h0m-9 9h0m0 -16h0m2 -8h0m11 7h0m-3 -13h0m1 1h0m-5 -2h0m10 2h0m-28 12h0m-2 -22h0m14 6h0m20 13h0m-17 -11h0m-23 16h0m3 -20h0m31 10h0m-28 -10h0m17 31h0m-13 -9h0m5 7h0m17 -8h0m1 1h0m-14 2h0m16 0h0m9 -7h0m-27 -3h0m26 -1h0m-22 22h0m-13 -2h0m18 1h0m-14 1h0m-5 -30h0m-5 24h0m28 -15h0m-13 3h0m1 1h0m-8 -20h0m11 2h0m-5 15h0m2 -6h0m-5 23h0m27 -20h0m-34 21h0m7 -24h0m0 -1h0m-10 16h0m23 4h0m-18 -17h0m-10 -12h0m13 -2h0m-2 21h0m23 -6h0m-26 17h0m28 -9h0m1 0h0m-26 -15h0m24 21h0m-33 -4h0m8 -25h0m33 23h0m-27 -1h0m12 -10h0m-1 -1h0m0 17h0m5 -22h0m-13 30h0m-14 0h0m9 -5h0m9 -5h0m-5 3h0m-1 -4h0m11 1h0m3 -25h0m-1 4h0m3 -2h0m-11 6h0m6 27h0m1 2h0m-56 3h0m-1 -5h0m11 4h0m-21 -7h0m37 9h0m-11 -10h0m8 4h0m-33 2h0m24 1h0m-19 -4h0m-1 0h0m17 -1h0m17 4h0m-8 3h0m9 1h0m-36 -2h0m13 -6h0m-5 0h0m18 -35h0m-31 48h0m34 10h0m2 -1h0m-18 -1h0m7 3h0m-14 -7h0m-18 -11h0m38 24h0m-11 -17h0m-1 1h0m3 4h0m-28 -7h0m1 0h0m11 3h0m22 14h0m-1 0h0m-22 -25h0m31 6h0m-35 9h0m18 0h0m24 -5h0m-40 9h0m-4 -6h0m9 1h0m8 -3h0m13 5h0m-27 -13h0m-8 14h0m33 -4h0m4 0h0m9 0h0m-37 -8h0m27 1h0m-1 4h0m-2 7h0m-6 -2h0m-36 8h0m2 -1h0m21 -22h0m10 6h0m-19 15h0m41 -1h0m-12 -1h0m-29 0h0m-2 0h0m-5 2h0m41 -14h0m-5 -2h0m-5 8h0m-18 1h0m-7 -5h0m21 -3h0m12 16h0m4 -8h0m-2 3h0m6 -18h0m-25 -1h0m-12 14h0m-2 -9h0m-7 4h0m22 8h0m-11 -9h0m33 11h0m-13 -10h0m1 9h0m-28 -2h0m22 -11h0m15 6h0m1 0h0m-8 -1h0m-2 -3h0m-5 -5h0m6 27h0m7 -9h0m-29 1h0m31 -16h0m-44 19h0m34 -21h0m-11 2h0m-6 0h0m16 7h0m-4 12h0m-8 -13h0m-29 14h0m4 -3h0m-5 3h0m68 6h0m-4 2h0m14 1h0m2 0h0m-21 10h0m35 1h0m18 0h0m-13 2h0m2 0h0m-8 3h0m1 6h0m-3 -20h0m2 1h0m1 -1h0m-15 11h0m-16 10h0m1 0h0m-5 -6h0m16 -1h0m-2 -2h0m-14 5h0m-1 -1h0m12 0h0m9 -5h0m-15 1h0m-2 7h0m-2 0h0m17 -5h0m-13 5h0m-4 -6h0m22 20h0m-9 -2h0m4 3h0m-5 -6h0m1 -1h0m2 3h0m-2 -2h0m12 3h0m-3 4h0m-1 1h0m6 -5h0m-6 -2h0m1 -1h0m5 -1h0m-4 6h0m-6 3h0m8 -8h0m-23 -106h0m3 -1h0m0 -2h0m-3 0h0m-2 0h0" stroke="#d3d3d3"/>
<path d="M274 1627h0" stroke="#cac3d9"/>
<path d="M217 1552h0m21 4h0m25 -6h0m-61 26h0m35 6h0m-31 -16h0m23 9h0m-17 -15h0m-24 24h0m1 -2h0m5 1h0m57 6h0m-5 24h0m29 15h0m-23 -111h0m2 -3h0" stroke="#c0b3de"/>
<path d="M236 1543h0m-27 -8h0m54 15h0m-44 24h0m-2 -9h0m25 2h0m-39 15h0m72 35h0m6 -22h0m-7 30h0m0 0h0m-28 -111h0" stroke="#b5a1e2"/>
<path d="M225 1579h0m12 18h0m16 10h0m13 0h0m1 1h0m-8 15h0m10 2h0m4 0h0m0 3h0m-2 -7h0m1 0h0m-20 -105h0m75 90h0m4 0h0m-1 0h0m6 0h0m-8 0h0" stroke="#a388e1"/>
<path d="M267 1606h0m-19 9h0m1 0h0m13 8h0m12 4h0m-3 -3h0m-2 0h0m3 0h0m58 -18h0m2 -1h0m2 0h0m0 0h0m-3 0h0m0 0h0m1 1h0m1 -1h0m-2 0h0" stroke="#926fe0"/>
<path d="M270 1622h0" stroke="#7959e6"/>
<path d="M226 1580h0" stroke="#0000ee"/>
<path d="M494 1548h0m25 0h0m-38 -21h0m-20 2h0m32 -7h0m-32 4h0m60 14h0m-48 -16h0m1 1h0m-6 18h0m-1 -2h0m4 -11h0m11 0h0m22 23h0m0 -2h0m-29 -9h0m-24 -11h0m67 9h0m-49 -15h0m-12 -6h0m30 15h0m-2 -1h0m25 3h0m-42 0h0m44 22h0m-29 -10h0m-16 -14h0m27 4h0m-43 -9h0m62 3h0m-7 14h0m-1 -14h0m-6 -3h0m-3 13h0m-2 -1h0m-30 4h0m45 -1h0m-37 0h0m38 -12h0m3 14h0m6 -9h0m-18 11h0m-11 -3h0m-33 -9h0m5 -17h0m-1 2h0m-2 4h0m15 -6h0m-22 21h0m43 -7h0m-1 -1h0m-22 23h0m17 -12h0m-11 -16h0m14 1h0m-13 1h0m7 0h0m20 -2h0m-33 21h0m-26 -20h0m59 7h0m-6 9h0m-33 6h0m17 -19h0m23 14h0m-51 -2h0m1 0h0m-7 -24h0m53 35h0m1 -15h0m0 1h0m-56 -17h0m52 3h0m-3 26h0m-1 -1h0m16 -12h0m-22 9h0m-38 -30h0m30 31h0m33 -6h0m-34 -22h0m-7 12h0m-18 -5h0m46 -4h0m-54 3h0m22 -8h0m-12 20h0m11 -17h0m14 19h0m26 -11h0m-58 5h0m23 -14h0m16 15h0m19 -3h0m-47 2h0m19 0h0m-4 -16h0m-17 22h0m25 1h0m-10 -5h0m34 19h0m-23 -27h0m-20 18h0m37 -4h0m13 12h0m-48 -27h0m9 7h0m15 -10h0m-1 -1h0m5 22h0m-47 -8h0m34 -16h0m19 8h0m-34 1h0m11 6h0m16 7h0m-32 -3h0m-16 -8h0m8 -1h0m10 -3h0m-7 -6h0m35 20h0m-28 -13h0m34 6h0m-22 14h0m34 -8h0m-58 -2h0m17 11h0m20 -13h0m14 5h0m-11 10h0m-29 -21h0m7 22h0m24 -27h0m-16 19h0m36 13h0m-17 -9h0m-53 -27h0m5 0h0m29 29h0m23 -18h0m10 16h0m5 -6h0m-33 9h0m-8 -18h0m-9 10h0m12 -2h0m0 -20h0m15 23h0m-5 -21h0m-5 20h0m15 -12h0m-37 5h0m8 9h0m45 -10h0m-50 -14h0m-9 -5h0m27 2h0m33 26h0m-20 -18h0m-1 -1h0m-4 14h0m-5 9h0m-34 -24h0m48 -2h0m19 14h0m-49 2h0m40 -10h0m-42 8h0m45 -3h0m-23 18h0m-25 -27h0m45 8h0m-34 -14h0m13 22h0m-17 -5h0m-13 -7h0m6 -12h0m11 5h0m-17 7h0m28 -7h0m3 10h0m-7 4h0m10 -3h0m-6 -1h0m-1 6h0m15 9h0m-1 -1h0m5 12h0m-4 -1h0m15 -4h0m-6 7h0m-13 -1h0m20 -1h0m-8 -1h0m22 -32h0m1 6h0m-3 17h0m13 7h0m13 -2h0m-24 -8h0m17 -21h0m10 28h0m-9 -14h0m-16 -4h0m-8 21h0m26 -10h0m-6 8h0m9 -12h0m-4 1h0m-22 3h0m9 6h0m8 -21h0m-15 29h0m16 -10h0m1 -1h0m9 -23h0m-3 31h0m-20 -2h0m4 -24h0m4 -5h0m-1 1h0m22 24h0m-32 -25h0m31 15h0m-9 -4h0m5 19h0m-9 -11h0m3 -15h0m-24 28h0m-1 -5h0m37 -4h0m-27 -2h0m-1 1h0m10 -8h0m-7 -18h0m-1 4h0m15 25h0m-9 10h0m1 -17h0m1 -8h0m12 7h0m-3 -12h0m6 1h0m-29 11h0m-2 -21h0m15 5h0m10 2h0m-3 22h0m13 -11h0m1 2h0m-15 10h0m-4 -23h0m-7 20h0m-17 -4h0m4 -20h0m32 10h0m-12 21h0m-13 -8h0m5 6h0m17 -7h0m-15 13h0m3 -10h0m16 -1h0m-2 -1h0m11 -6h0m-27 -2h0m1 -1h0m24 -1h0m-35 21h0m18 1h0m-14 1h0m-5 -30h0m1 -1h0m-6 24h0m7 -1h0m8 -10h0m21 4h0m-28 -24h0m22 9h0m-11 -7h0m-4 15h0m-1 2h0m2 -7h0m14 14h0m-18 8h0m26 -19h0m-34 20h0m32 -24h0m-25 0h0m-5 8h0m21 2h0m-26 6h0m5 -13h0m3 -15h0m-2 21h0m24 -5h0m-2 9h0m-25 8h0m-8 -31h0m38 22h0m-27 -16h0m9 -3h0m23 18h0m-27 -1h0m-4 -7h0m13 6h0m4 -9h0m-1 -1h0m5 23h0m-14 3h0m18 -21h0m-20 21h0m-6 1h0m12 -14h0m-6 2h0m14 -24h0m3 3h0m-12 4h0m5 -7h0m0 35h0m-4 -1h0m7 2h0m-5 0h0m-52 4h0m9 -1h0m15 -1h0m-36 -6h0m38 9h0m-9 -12h0m-28 7h0m24 2h0m-18 -4h0m6 3h0m-11 -3h0m-2 0h0m30 -2h0m-8 5h0m10 2h0m9 1h0m-37 -1h0m13 -7h0m-5 0h0m-12 14h0m34 10h0m-16 -2h0m-8 -4h0m-18 -11h0m39 24h0m-12 -17h0m-1 1h0m4 4h0m-29 -7h0m12 3h0m23 14h0m8 -20h0m-36 10h0m43 -5h0m-41 9h0m5 -5h0m8 -3h0m14 4h0m1 0h0m6 7h0m-43 -5h0m34 -4h0m12 0h0m-37 -8h0m27 4h0m-9 6h0m0 1h0m-36 6h0m23 -22h0m11 6h0m-20 15h0m42 -1h0m-12 -1h0m-32 0h0m-5 2h0m43 -10h0m-1 -5h0m-16 -9h0m11 7h0m-24 10h0m1 1h0m-8 -7h0m22 -3h0m20 -2h0m-8 19h0m-35 -7h0m42 -17h0m-25 0h0m1 17h0m3 5h0m17 3h0m-30 -16h0m33 10h0m-13 -10h0m1 9h0m-16 -19h0m-13 16h0m22 -11h0m17 7h0m-36 0h0m-5 2h0m33 -4h0m-3 -2h0m2 22h0m7 -9h0m7 -10h0m-38 -1h0m-12 15h0m-1 0h0m11 -18h0m25 -3h0m-11 2h0m-6 -1h0m15 8h0m-27 1h0m27 11h0m-12 -13h0m-29 14h0m0 -2h0m4 -1h0m59 8h0m1 3h0m-15 5h0m29 -4h0m35 11h0m-14 2h0m-4 9h0m-1 -19h0m-4 -1h0m-11 11h0m-14 1h0m-2 9h0m2 -1h0m7 -7h0m-13 5h0m-1 -1h0m13 -1h0m1 2h0m6 -6h0m-18 1h0m17 21h0m9 -2h0m-14 -3h0m2 0h0m0 0h0m11 2h0m-2 4h0m5 -5h0m-6 -1h0m1 -1h0m-2 1h0m3 5h0m-7 2h0m-15 -115h0m3 -1h0m-2 -1h0m-5 -1h0m2 0h0m84 93h0m2 0h0m-5 0h0" stroke="#d3d3d3"/>
<path d="M502 1547h0m-27 6h0m27 -7h0m-34 -27h0m41 13h0m-27 -11h0m-23 10h0m39 -9h0m-31 33h0m30 -21h0m-42 -12h0m5 14h0m46 -1h0m-10 5h0m-11 -7h0m-1 -2h0m28 1h0m26 13h0m-4 -17h0m-13 -4h0m15 4h0m15 27h0m-18 5h0m2 -6h0m5 -5h0m-47 10h0m-6 -1h0m26 -37h0m-37 46h0m42 -7h0m-11 17h0m-1 -4h0m-24 -10h0m41 46h0m19 -2h0" stroke="#cac3d9"/>
<path d="M473 1541h0m25 -15h0m13 27h0m-37 -24h0m26 21h0m-13 -2h0m-18 -20h0m21 -2h0m26 21h0m-52 -5h0m36 -7h0m-41 10h0m43 -1h0m-10 -9h0m-1 3h0m9 9h0m53 -18h0m-12 14h0m-4 2h0m-2 14h0m3 -12h0m-24 13h0m8 0h0m-21 18h0m6 3h0m-12 -8h0m-15 -1h0m32 -6h0m-3 11h0m-41 5h0m31 -17h0m12 14h0m6 -5h0m-2 2h0m-32 -4h0m-1 -8h0m4 2h0m15 -6h0m4 14h0m-3 7h0m7 -16h0m-46 18h0m1 -1h0m68 7h0m13 3h0m20 13h0m-12 -11h0m-23 13h0m1 8h0m19 7h0" stroke="#c0b3de"/>
<path d="M487 1561h0m71 42h0m0 5h0m-7 8h0m4 -22h0m-16 14h0m-14 6h0m3 0h0m18 7h0m-9 1h0m2 2h0m7 6h0m1 -7h0m1 1h0m3 -2h0m-1 -1h0m-2 2h0m1 1h0" stroke="#b5a1e2"/>
<path d="M523 1602h0m34 -8h0m-29 21h0m0 -9h0m0 8h0m2 0h0m7 12h0m0 -4h0m14 3h0m0 1h0m1 -1h0m-6 -1h0m1 -1h0m2 0h0m-2 -3h0m2 1h0" stroke="#a388e1"/>
<path d="M537 1606h0m-11 7h0m16 -8h0" stroke="#926fe0"/>
<path d="M546 1627h0" stroke="#7959e6"/>
<path d="M607 1605h0m-3 0h0m5 0h0m2 -1h0m1 0h0m-3 1h0m-1 0h0m5 0h0m-4 -1h0m2 1h0" stroke="#3322ed"/>
<path d="M613 1605h0" stroke="#0000ee"/>
<path d="M763 1545h0m26 0h0m-38 -21h0m-20 2h0m32 -7h0m-33 4h0m60 14h0m-48 -16h0m2 0h0m-6 18h0m-1 -1h0m4 -11h0m11 0h0m21 22h0m-30 -11h0m1 1h0m-23 -11h0m66 9h0m-48 -16h0m-13 -5h0m30 15h0m-1 -1h0m24 3h0m-42 0h0m44 22h0m-29 -10h0m12 -10h0m-43 -10h0m62 4h0m-8 14h0m-1 -14h0m-5 -3h0m-4 12h0m-1 0h0m-30 4h0m45 -1h0m-38 0h0m39 -12h0m3 14h0m5 -9h0m-17 11h0m0 -2h0m-11 -1h0m-34 -10h0m6 -16h0m-4 6h0m15 -6h0m-22 21h0m44 -8h0m-23 22h0m17 -11h0m-11 -17h0m13 2h0m-25 9h0m13 -8h0m7 -1h0m20 -1h0m-34 21h0m-25 -20h0m59 7h0m-6 8h0m-25 10h0m-9 -3h0m17 -19h0m24 14h0m-51 -2h0m0 0h0m-7 -24h0m54 20h0m0 1h0m-30 8h0m-19 -6h0m-6 -19h0m50 3h0m1 0h0m-2 25h0m-2 -1h0m16 -11h0m-22 9h0m-38 -30h0m31 31h0m32 -6h0m-33 -22h0m-8 12h0m-17 -5h0m0 1h0m46 -5h0m-54 3h0m20 -8h0m1 0h0m-11 19h0m11 -16h0m13 19h0m-32 -6h0m39 1h0m19 -3h0m-46 2h0m47 12h0m-29 -12h0m-3 -16h0m-17 22h0m50 12h0m-26 -11h0m-10 -5h0m35 19h0m-24 -27h0m-20 18h0m37 -4h0m13 12h0m-47 -27h0m9 7h0m15 -10h0m-2 -1h0m5 22h0m-46 -9h0m52 -8h0m-27 0h0m25 21h0m-32 -19h0m12 6h0m16 7h0m0 -2h0m-32 -1h0m24 7h0m-40 -15h0m8 -1h0m10 -3h0m-7 -6h0m37 29h0m3 -16h0m-21 14h0m34 -9h0m-41 10h0m19 -13h0m-25 -6h0m6 22h0m35 -2h0m-10 -25h0m-16 19h0m3 -7h0m32 19h0m1 -12h0m-35 -12h0m-21 -3h0m-15 -8h0m6 0h0m29 28h0m23 -17h0m10 16h0m-14 -28h0m19 22h0m-33 8h0m-6 -9h0m1 -20h0m15 23h0m-6 -21h0m13 12h0m-17 8h0m14 -13h0m-36 6h0m7 9h0m46 -10h0m-50 -14h0m32 16h0m-42 -21h0m27 2h0m-15 34h0m29 -26h0m-2 -1h0m-4 14h0m8 -8h0m-12 17h0m-31 -28h0m-3 4h0m48 -3h0m-30 17h0m39 -11h0m4 6h0m-54 0h0m30 17h0m-24 -26h0m11 -6h0m12 21h0m-17 -4h0m-22 -2h0m10 10h0m6 -27h0m11 4h0m10 1h0m3 9h0m3 2h0m-5 -1h0m-1 5h0m0 -2h0m18 23h0m-3 -1h0m15 -4h0m-5 3h0m-1 3h0m7 -6h0m1 1h0m-22 4h0m21 0h0m-9 -2h0m23 -31h0m1 6h0m-24 -5h0m21 22h0m12 6h0m14 -1h0m-25 -8h0m18 -21h0m9 28h0m-8 -14h0m-17 -4h0m-7 21h0m25 -11h0m-6 9h0m-6 -10h0m15 -2h0m-3 1h0m-23 3h0m10 6h0m7 -21h0m-15 29h0m16 -11h0m1 0h0m10 -23h0m-4 31h0m-20 -2h0m5 -24h0m1 0h0m2 -5h0m-1 1h0m23 24h0m-2 -10h0m-8 -4h0m4 19h0m-9 -11h0m3 -15h0m-23 28h0m-2 -5h0m10 -6h0m-1 1h0m11 -8h0m-7 -18h0m-2 4h0m16 25h0m-9 9h0m0 -16h0m1 -8h0m12 7h0m-3 -13h0m-4 0h0m10 2h0m-29 11h0m-2 -22h0m5 7h0m10 -1h0m11 1h0m-4 22h0m13 -10h0m-25 8h0m-16 -3h0m3 -20h0m32 10h0m-12 21h0m-13 -9h0m6 7h0m17 -7h0m1 0h0m-16 13h0m2 -11h0m16 0h0m-1 -1h0m10 -6h0m-27 -2h0m1 -1h0m25 -1h0m-22 22h0m5 -1h0m-15 1h0m-5 -29h0m1 -2h0m-6 25h0m7 -2h0m30 -6h0m-29 -23h0m11 2h0m-2 15h0m0 -6h0m13 15h0m-18 8h0m27 -19h0m-2 -4h0m-26 0h0m-5 8h0m-4 8h0m4 -14h0m-10 -12h0m38 17h0m-27 2h0m23 -6h0m1 1h0m-19 -11h0m-8 27h0m24 -23h0m-32 -8h0m30 32h0m3 2h0m-31 -10h0m42 -2h0m-28 -1h0m6 16h0m-9 -23h0m13 6h0m18 3h0m-15 -12h0m-1 -1h0m0 11h0m2 -3h0m-15 17h0m-9 -3h0m7 4h0m-3 2h0m9 -9h0m5 -7h0m-6 3h0m14 -25h0m2 4h0m-12 0h0m0 4h0m5 -7h0m-3 34h0m6 2h0m-3 0h0m-54 3h0m-1 -4h0m11 4h0m15 -2h0m-36 -5h0m37 8h0m-9 -11h0m-27 7h0m24 2h0m-5 -4h0m-14 0h0m16 -1h0m-10 3h0m-11 -2h0m38 2h0m-20 2h0m12 1h0m10 1h0m-1 -1h0m-36 -1h0m17 -7h0m-4 1h0m-5 0h0m19 -35h0m-32 48h0m35 10h0m1 0h0m-18 -2h0m7 4h0m-14 -7h0m-18 -11h0m38 23h0m-18 -14h0m7 -2h0m3 4h0m-29 -6h0m12 2h0m22 14h0m8 -19h0m-36 9h0m19 1h0m24 -5h0m-40 8h0m-4 -6h0m9 1h0m8 -3h0m14 5h0m7 7h0m-35 -20h0m-9 14h0m18 -13h0m16 10h0m4 -1h0m9 0h0m-37 -7h0m27 0h0m-3 12h0m-2 -1h0m-5 0h0m-35 6h0m33 -16h0m-19 14h0m41 -1h0m-11 -1h0m-37 2h0m42 -10h0m0 -4h0m-6 -2h0m-23 -3h0m18 11h0m2 1h0m-20 1h0m-7 -6h0m31 10h0m2 3h0m4 -8h0m-39 2h0m38 1h0m-33 -12h0m-8 2h0m22 8h0m3 5h0m16 3h0m-29 -16h0m33 10h0m-14 -9h0m-14 -11h0m24 12h0m2 0h0m-19 10h0m-22 -7h0m32 -4h0m-2 -3h0m16 3h0m-1 9h0m-40 4h0m-11 1h0m21 -9h0m4 -10h0m-6 0h0m14 7h0m-2 12h0m4 0h0m-12 -13h0m-29 14h0m-1 -2h0m7 2h0m-2 -3h0m58 9h0m6 1h0m-19 6h0m29 -4h0m2 0h0m-21 10h0m35 1h0m18 0h0m-13 3h0m2 0h0m-8 2h0m1 6h0m-1 -19h0m-2 0h0m3 0h0m-29 12h0m-3 8h0m2 -1h0m-6 -4h0m17 -2h0m-3 -2h0m-14 6h0m12 -1h0m1 1h0m8 -6h0m-1 0h0m-14 1h0m-4 7h0m1 -1h0m-2 -6h0m13 19h0m10 -5h0m-6 6h0m10 -1h0m1 1h0m-15 -4h0m2 0h0m11 2h0m-4 5h0m0 -6h0m2 0h0m2 -1h0m0 4h0m-9 3h0m7 -10h0m-21 -104h0m2 -1h0m-1 -1h0m-2 -1h0m-3 0h0m2 0h0m83 92h0m-3 0h0m7 0h0" stroke="#d3d3d3"/>
<path d="M815 1619h0" stroke="#cac3d9"/>
<path d="M737 1578h0m15 -16h0" stroke="#c0b3de"/>
<path d="M771 1574h0m-20 -9h0m62 37h0m-2 22h0m66 -23h0m6 0h0m-5 0h0m1 0h0" stroke="#b5a1e2"/>
<path d="M820 1612h0m2 -21h0m-11 13h0m4 19h0m5 -1h0m-4 3h0m5 -7h0m-2 2h0" stroke="#a388e1"/>
<path d="M811 1602h0m9 19h0" stroke="#926fe0"/>
<path d="M820 1617h0" stroke="#7959e6"/>
<path d="M814 1544h0m-43 19h0" stroke="#0000ee"/>
</g>
</g>
<g id="pe">
<text font-size="51" font-weight="bold" x="930.5" y="1045">e</text>
<g font-size="31" font-style="italic" text-anchor="middle"><text transform="translate(1008 1095.3) rotate(-90)">Klf2</text><text transform="translate(1232.4 1106.3) rotate(-90)">Gata6</text><text transform="translate(1009 1264) rotate(-90)">Anxa5</text><text transform="translate(1233.5 1263) rotate(-90)">Cd36</text><text transform="translate(1450.8 1106.3) rotate(-90)">Cd93</text><text transform="translate(1668 1106) rotate(-90)">Csf1r</text><text transform="translate(1448 1263) rotate(-90)">Actb</text><text transform="translate(1667 1263) rotate(-90)">Arg1</text><text transform="translate(1008 1421.4) rotate(-90)">Irf4</text><text transform="translate(1230.8 1416) rotate(-90)">H2-Eb1</text><text transform="translate(1009 1587.6) rotate(-90)">Il1b</text><text transform="translate(1230.8 1578) rotate(-90)">Il6</text><text transform="translate(1443.6 1414.3) rotate(-90)">Cd74</text><text transform="translate(1665.3 1413) rotate(-90)">Tgfbi</text><text transform="translate(1453.5 1587.6) rotate(-90)">Tnf</text><text transform="translate(1667 1579.3) rotate(-90)">Cxcl2</text></g>
<path d="M1018.4 1046.3V1169.3H1190.5M1044.3 1169.3v3.5M1086.2 1169.3v3.5M1127.3 1169.3v3.5M1169.5 1169.3v3.5M1238.5 1046.3V1169.5H1409.5M1264.2 1169.5v3.5M1305.6 1169.5v3.5M1347.5 1169.5v3.5M1389.4 1169.5v3.5M1020.6 1205V1327.7H1190.5M1045.7 1327.7v3.5M1087.6 1327.7v3.5M1129 1327.7v3.5M1170.6 1327.7v3.5M1238.5 1201.4V1324.3H1409.5M1263.1 1324.3v3.5M1305 1324.3v3.5M1346.7 1324.3v3.5M1389.4 1324.3v3.5M1456.2 1047.7V1170.1H1630M1480.8 1170.1v3.5M1522.7 1170.1v3.5M1564.4 1170.1v3.5M1606.6 1170.1v3.5M1677.5 1047.7V1170.1H1849M1702.1 1170.1v3.5M1744.6 1170.1v3.5M1785.9 1170.1v3.5M1827.3 1170.1v3.5M1456.2 1326.6H1630M1482 1326.6v3.5M1523.9 1326.6v3.5M1566.1 1326.6v3.5M1607.4 1326.6v3.5M1675.6 1201.4V1324.3H1849M1700.7 1324.3v3.5M1742.6 1324.3v3.5M1783.7 1324.3v3.5M1825.9 1324.3v3.5M1018.4 1355.7V1478.6H1190.5M1044.3 1478.6v3.5M1086.2 1478.6v3.5M1127.3 1478.6v3.5M1169.5 1478.6v3.5M1238.5 1351V1477.2H1409.5M1263.7 1477.2v3.5M1304.7 1477.2v3.5M1345.3 1477.2v3.5M1385.2 1477.2v3.5M1020.6 1517.8V1641H1190.5M1044.9 1641v3.5M1086.8 1641v3.5M1128.2 1641v3.5M1170.1 1641v3.5M1238.5 1517.8V1641H1409.5M1264.2 1641v3.5M1306.1 1641v3.5M1347.5 1641v3.5M1389.4 1641v3.5M1457.6 1354.6V1477.2H1630M1482.8 1477.2v3.5M1524.7 1477.2v3.5M1566.6 1477.2v3.5M1608 1477.2v3.5M1674.7 1355.1V1478.1H1849M1700.7 1478.1v3.5M1741.8 1478.1v3.5M1783.7 1478.1v3.5M1825.6 1478.1v3.5M1457.6 1517.2V1640.1H1632M1482.8 1640.1v3.5M1524.7 1640.1v3.5M1566.6 1640.1v3.5M1608 1640.1v3.5M1677.5 1517.2V1640.1H1851M1702.1 1640.1v3.5M1744 1640.1v3.5M1785.9 1640.1v3.5M1827.3 1640.1v3.5" fill="none" stroke="#4d4d4d" stroke-width="1.1"/>
<g stroke="#1a1a1a" stroke-width="0.55" stroke-linejoin="round">
<path d="M1025.6 1163.1L1027 1161L1029 1158.9L1031.7 1156.6L1034.7 1154.3L1037.4 1151.9L1039.6 1149.1L1041 1146.3L1041.6 1143.5L1041.8 1140.7L1041.8 1138L1041.6 1135.2L1041.3 1132.4L1040.9 1129.6L1040.7 1126.8L1040.8 1124L1041 1121.2L1041.3 1118.4L1041.6 1115.6L1042 1112.8L1042.4 1110L1042.7 1107.2L1042.8 1104.9L1042.8 1102.6L1042.9 1100.2L1042.9 1097.9L1042.9 1095.6L1042.9 1093.2L1043 1090.9L1043.1 1088.6L1043.2 1086.3L1043.3 1083.9L1043.4 1081.6L1043.5 1079.3L1043.6 1076.8L1043.6 1074.3L1043.7 1071.8L1043.7 1069.3L1043.7 1066.8L1043.8 1064.3L1043.8 1061.9L1043.8 1059.4L1043.9 1056.9L1043.9 1054.4L1043.9 1051.9L1044.8 1051.9L1044.8 1054.4L1044.8 1056.9L1044.8 1059.4L1044.9 1061.9L1044.9 1064.3L1044.9 1066.8L1045 1069.3L1045 1071.8L1045.1 1074.3L1045.1 1076.8L1045.2 1079.3L1045.2 1081.6L1045.3 1083.9L1045.4 1086.3L1045.6 1088.6L1045.7 1090.9L1045.7 1093.2L1045.8 1095.6L1045.8 1097.9L1045.8 1100.2L1045.8 1102.6L1045.9 1104.9L1046 1107.2L1046.3 1110L1046.7 1112.8L1047.1 1115.6L1047.4 1118.4L1047.7 1121.2L1047.9 1124L1048 1126.8L1047.8 1129.6L1047.4 1132.4L1047 1135.2L1046.9 1138L1046.9 1140.7L1047.1 1143.5L1047.7 1146.3L1049.1 1149.1L1051.3 1151.9L1053.9 1154.3L1056.9 1156.6L1059.7 1158.9L1061.7 1161L1063.1 1163.1z" fill="#3a5fcd"/>
<path d="M1245.2 1163.7L1247.4 1161.6L1250.3 1159.5L1253.2 1157.2L1256.1 1154.9L1258.6 1152.5L1261 1149.7L1262.6 1146.9L1263.4 1144.4L1263.7 1141.9L1263.3 1139.5L1262.6 1137.2L1261.7 1135.1L1260.9 1133L1260 1130.2L1259.1 1127.4L1258.6 1124.6L1258.6 1122.3L1259 1119.9L1259.5 1117.6L1260.3 1115.3L1261.2 1112.9L1262 1110.6L1262.5 1108.3L1262.7 1106L1262.8 1103.6L1262.4 1101.5L1262 1099.4L1262.4 1097.3L1262.8 1095.2L1263 1092.8L1263.2 1090.4L1263.3 1087.9L1263.4 1085.5L1263.5 1083L1263.7 1080.6L1263.9 1078.1L1264 1075.7L1264.5 1075.7L1264.6 1078.1L1264.8 1080.6L1264.9 1083L1265.1 1085.5L1265.2 1087.9L1265.3 1090.4L1265.4 1092.8L1265.6 1095.2L1266.1 1097.3L1266.5 1099.4L1266 1101.5L1265.6 1103.6L1265.7 1106L1266 1108.3L1266.5 1110.6L1267.2 1112.9L1268.2 1115.3L1269 1117.6L1269.5 1119.9L1269.8 1122.3L1269.8 1124.6L1269.3 1127.4L1268.5 1130.2L1267.6 1133L1266.7 1135.1L1265.9 1137.2L1265.2 1139.5L1264.8 1141.9L1265.1 1144.4L1265.9 1146.9L1267.5 1149.7L1269.8 1152.5L1272.4 1154.9L1275.3 1157.2L1278.2 1159.5L1281 1161.6L1283.2 1163.7z" fill="#3a5fcd"/>
<path d="M1026.7 1322.1L1030.4 1318.7L1033.3 1316.6L1036.3 1314.5L1038.7 1312.3L1040.4 1309.5L1041 1306.7L1040.8 1304.4L1040.2 1302.1L1039.6 1299.7L1039 1297L1038.4 1294.2L1037.9 1291.4L1037.6 1288.6L1037.4 1285.8L1037.3 1283L1037.4 1280.2L1037.5 1277.9L1037.7 1275.5L1038 1273.2L1038.3 1270.9L1038.6 1268.5L1039 1266.2L1039.6 1263.4L1040.2 1260.6L1040.9 1257.8L1041.5 1255L1042.1 1252.2L1042.6 1249.5L1043.1 1246.7L1043.5 1243.9L1043.8 1241.6L1044 1239.4L1044.2 1237.2L1044.3 1234.9L1047.1 1234.9L1047.3 1237.2L1047.4 1239.4L1047.7 1241.6L1048 1243.9L1048.4 1246.7L1048.9 1249.5L1049.4 1252.2L1049.9 1255L1050.5 1257.8L1051.2 1260.6L1051.9 1263.4L1052.4 1266.2L1052.8 1268.5L1053.2 1270.9L1053.5 1273.2L1053.8 1275.5L1054 1277.9L1054.1 1280.2L1054.2 1283L1054.1 1285.8L1053.8 1288.6L1053.6 1291.4L1053.1 1294.2L1052.5 1297L1051.9 1299.7L1051.3 1302.1L1050.7 1304.4L1050.5 1306.7L1051 1309.5L1052.7 1312.3L1055.1 1314.5L1058.2 1316.6L1061.1 1318.7L1064.7 1322.1z" fill="#3a5fcd"/>
<path d="M1068.6 1322.1L1070.9 1318.7L1072.6 1316.6L1074.4 1314.5L1075.9 1312.3L1076.8 1310.2L1077 1308.1L1076.5 1305.3L1075.7 1302.5L1075.1 1299.7L1074.7 1297L1074.4 1294.2L1074.2 1291.4L1074.2 1288.6L1074.5 1285.8L1074.9 1283L1075.4 1280.2L1075.9 1277.4L1076.4 1275L1076.8 1272.6L1077.3 1270.2L1077.8 1267.8L1078.3 1265.4L1078.8 1263L1079.3 1260.6L1079.7 1258.2L1080.2 1255.8L1080.7 1253.4L1081.2 1251.1L1081.7 1248.7L1082.1 1246.3L1082.6 1243.9L1083.1 1241.5L1083.6 1239.2L1084.1 1236.9L1084.6 1234.6L1085 1232.2L1085.4 1229.9L1085.7 1227.7L1086 1225.4L1086.1 1223.2L1086.2 1221L1089 1221L1089.2 1223.2L1089.3 1225.4L1089.6 1227.7L1089.9 1229.9L1090.3 1232.2L1090.7 1234.6L1091.2 1236.9L1091.7 1239.2L1092.2 1241.5L1092.7 1243.9L1093.2 1246.3L1093.6 1248.7L1094.1 1251.1L1094.6 1253.4L1095.1 1255.8L1095.5 1258.2L1096 1260.6L1096.5 1263L1097 1265.4L1097.5 1267.8L1098 1270.2L1098.5 1272.6L1098.9 1275L1099.4 1277.4L1099.9 1280.2L1100.4 1283L1100.8 1285.8L1101.1 1288.6L1101.1 1291.4L1100.9 1294.2L1100.6 1297L1100.2 1299.7L1099.6 1302.5L1098.8 1305.3L1098.3 1308.1L1098.5 1310.2L1099.4 1312.3L1100.9 1314.5L1102.7 1316.6L1104.4 1318.7L1106.6 1322.1z" fill="#b22222"/>
<path d="M1127.9 1322.1L1127.9 1319.3L1127.9 1316.5L1127.9 1313.7L1127.6 1310.9L1127.1 1308.1L1126.4 1305.3L1125.7 1302.5L1124.8 1299.7L1123.8 1297L1122.7 1294.2L1121.6 1291.4L1120.6 1288.6L1119.9 1286.2L1119.1 1283.9L1118.4 1281.6L1117.7 1279.3L1117.1 1276.9L1116.4 1274.6L1115.8 1272.3L1115.1 1269.9L1114.5 1267.6L1113.9 1265.3L1113.3 1263L1112.8 1260.6L1112.3 1258.3L1111.9 1256L1111.5 1253.6L1111.2 1251.3L1110.9 1249L1110.6 1246.7L1110.2 1243.9L1110 1241.1L1110 1238.3L1110.2 1235.5L1110.7 1232.7L1111.7 1229.9L1113.4 1227.1L1115.6 1224.3L1117.8 1221.5L1119.7 1219.2L1121.6 1216.9L1123.4 1214.5L1125 1212.6L1126.2 1210.6L1131.8 1210.6L1133 1212.6L1134.6 1214.5L1136.4 1216.9L1138.3 1219.2L1140.2 1221.5L1142.4 1224.3L1144.6 1227.1L1146.3 1229.9L1147.3 1232.7L1147.8 1235.5L1148 1238.3L1148 1241.1L1147.8 1243.9L1147.4 1246.7L1147.1 1249L1146.8 1251.3L1146.5 1253.6L1146.1 1256L1145.7 1258.3L1145.2 1260.6L1144.7 1263L1144.1 1265.3L1143.5 1267.6L1142.9 1269.9L1142.2 1272.3L1141.6 1274.6L1140.9 1276.9L1140.2 1279.3L1139.6 1281.6L1138.9 1283.9L1138.1 1286.2L1137.4 1288.6L1136.4 1291.4L1135.3 1294.2L1134.2 1297L1133.2 1299.7L1132.3 1302.5L1131.5 1305.3L1130.9 1308.1L1130.4 1310.9L1130.1 1313.7L1130.1 1316.5L1130.1 1319.3L1130.1 1322.1z" fill="#00b2ee"/>
<path d="M1165 1322.1L1165.6 1319.3L1167.6 1316.5L1169.2 1313.7L1169.2 1310.9L1168.4 1308.1L1167.5 1305.3L1166.5 1302.5L1165.6 1299.7L1164.9 1297.4L1164.2 1295.1L1163.6 1292.8L1163 1290.4L1162.3 1288.1L1161.7 1285.8L1161.1 1283.4L1160.5 1281.1L1159.9 1278.8L1159.3 1276.5L1158.7 1274.1L1158.1 1271.8L1157.2 1269L1156.3 1266.2L1155.3 1263.4L1154.4 1260.6L1153.5 1257.8L1152.6 1255L1151.9 1252.2L1151.7 1249.5L1152.2 1246.7L1153.4 1243.9L1155 1241.1L1156.7 1238.3L1158.3 1235.5L1159.9 1232.7L1161.7 1229.9L1163.8 1227.1L1165.6 1224.3L1166.3 1221.7L1166.8 1219.1L1167.1 1216.6L1167.3 1214L1174 1214L1174.2 1216.6L1174.5 1219.1L1174.9 1221.7L1175.7 1224.3L1177.4 1227.1L1179.6 1229.9L1181.3 1232.7L1183 1235.5L1184.6 1238.3L1186.3 1241.1L1187.8 1243.9L1189.1 1246.7L1189.6 1249.5L1189.3 1252.2L1188.7 1255L1187.8 1257.8L1186.8 1260.6L1185.9 1263.4L1185 1266.2L1184.1 1269L1183.2 1271.8L1182.6 1274.1L1181.9 1276.5L1181.4 1278.8L1180.8 1281.1L1180.2 1283.4L1179.6 1285.8L1178.9 1288.1L1178.3 1290.4L1177.7 1292.8L1177 1295.1L1176.3 1297.4L1175.7 1299.7L1174.7 1302.5L1173.7 1305.3L1172.9 1308.1L1172.1 1310.9L1172 1313.7L1173.7 1316.5L1175.7 1319.3L1176.2 1322.1z" fill="#daa520"/>
<path d="M1260.9 1318.7L1260.9 1315.9L1261 1313.1L1260.9 1310.3L1260.5 1307.5L1260 1304.7L1259.2 1301.9L1258.2 1299.1L1257.1 1296.3L1255.9 1293.6L1254.7 1290.8L1253.8 1288.4L1252.8 1286.1L1251.9 1283.8L1250.9 1281.4L1250 1279.1L1249.1 1276.8L1248.2 1274L1247.4 1271.2L1246.6 1268.4L1245.8 1265.6L1245.1 1263.3L1244.4 1261L1244.1 1258.6L1244.4 1256.3L1245 1254L1245.8 1251.6L1246.8 1248.8L1248 1246.1L1249.3 1243.3L1250.5 1240.5L1251.9 1237.7L1253.3 1234.9L1254.8 1232.1L1256.1 1229.3L1257.4 1226.5L1258.7 1223.7L1259.8 1220.9L1260.5 1218.6L1261.3 1216.3L1261.9 1214L1262.3 1211.7L1264 1211.7L1264.4 1214L1265 1216.3L1265.7 1218.6L1266.5 1220.9L1267.5 1223.7L1268.8 1226.5L1270.1 1229.3L1271.5 1232.1L1272.9 1234.9L1274.3 1237.7L1275.7 1240.5L1277 1243.3L1278.2 1246.1L1279.4 1248.8L1280.4 1251.6L1281.2 1254L1281.9 1256.3L1282.1 1258.6L1281.8 1261L1281.2 1263.3L1280.4 1265.6L1279.7 1268.4L1278.9 1271.2L1278 1274L1277.1 1276.8L1276.2 1279.1L1275.3 1281.4L1274.4 1283.8L1273.4 1286.1L1272.4 1288.4L1271.5 1290.8L1270.3 1293.6L1269.1 1296.3L1268 1299.1L1267 1301.9L1266.3 1304.7L1265.7 1307.5L1265.3 1310.3L1265.2 1313.1L1265.3 1315.9L1265.3 1318.7z" fill="#3a5fcd"/>
<path d="M1300.8 1318.7L1301 1316.4L1301.2 1314L1301.1 1311.7L1300.2 1308.9L1298.9 1306.1L1297.6 1303.7L1296.3 1301.2L1295 1298.8L1293.8 1296.3L1292.7 1293.6L1291.6 1290.8L1290.6 1288L1289.7 1285.2L1288.8 1282.4L1288.1 1279.6L1287.4 1276.8L1286.9 1274L1286.5 1271.5L1286.2 1269.1L1286.1 1266.7L1286 1264.2L1286.1 1261.8L1286.3 1259.3L1286.6 1256.9L1287.1 1254.4L1288 1251.6L1289.1 1248.8L1290.3 1246.1L1291.6 1243.3L1293 1240.5L1294.4 1237.7L1295.9 1234.9L1297.2 1232.1L1298.5 1229.3L1299.7 1226.5L1300.8 1223.7L1301.7 1220.9L1302.4 1218.3L1303 1215.7L1303.5 1213L1303.9 1210.4L1304.2 1207.8L1305.9 1207.8L1306.2 1210.4L1306.6 1213L1307.1 1215.7L1307.7 1218.3L1308.4 1220.9L1309.3 1223.7L1310.4 1226.5L1311.6 1229.3L1312.8 1232.1L1314.2 1234.9L1315.6 1237.7L1317.1 1240.5L1318.4 1243.3L1319.7 1246.1L1320.9 1248.8L1322 1251.6L1322.9 1254.4L1323.4 1256.9L1323.8 1259.3L1324 1261.8L1324 1264.2L1324 1266.7L1323.8 1269.1L1323.6 1271.5L1323.2 1274L1322.6 1276.8L1322 1279.6L1321.2 1282.4L1320.4 1285.2L1319.5 1288L1318.5 1290.8L1317.4 1293.6L1316.2 1296.3L1315 1298.8L1313.7 1301.2L1312.4 1303.7L1311.2 1306.1L1309.8 1308.9L1308.9 1311.7L1308.8 1314L1309 1316.4L1309.2 1318.7z" fill="#b22222"/>
<path d="M1345.8 1318.7L1345.8 1316.4L1345.8 1314L1345.8 1311.7L1345.7 1309.4L1345.7 1307.1L1345.5 1304.7L1345.4 1302.4L1345.2 1300.1L1344.9 1297.7L1344.7 1295.4L1344.3 1293.1L1343.9 1290.8L1343.3 1288.4L1342.7 1286.1L1342 1283.8L1341.3 1281.4L1340.5 1279.1L1339.7 1276.8L1338.8 1274.5L1337.9 1272.1L1336.9 1269.8L1335.9 1267.5L1335 1265.1L1334.1 1262.8L1333.1 1260L1332.1 1257.2L1331.2 1254.4L1330.4 1251.6L1329.8 1248.8L1329.2 1246.1L1328.7 1243.3L1328.2 1240.5L1327.8 1237.7L1327.6 1234.9L1327.7 1232.1L1328.1 1229.3L1328.8 1226.5L1329.9 1223.7L1331.4 1220.9L1333.2 1218.1L1335.5 1215.3L1338.5 1212.5L1342 1209.7L1344.4 1206.9L1348.9 1206.9L1351.3 1209.7L1354.8 1212.5L1357.8 1215.3L1360.1 1218.1L1361.9 1220.9L1363.4 1223.7L1364.5 1226.5L1365.2 1229.3L1365.7 1232.1L1365.7 1234.9L1365.5 1237.7L1365.1 1240.5L1364.7 1243.3L1364.1 1246.1L1363.5 1248.8L1362.9 1251.6L1362.1 1254.4L1361.2 1257.2L1360.2 1260L1359.2 1262.8L1358.3 1265.1L1357.4 1267.5L1356.4 1269.8L1355.4 1272.1L1354.5 1274.5L1353.6 1276.8L1352.8 1279.1L1352 1281.4L1351.3 1283.8L1350.6 1286.1L1350 1288.4L1349.4 1290.8L1349 1293.1L1348.7 1295.4L1348.4 1297.7L1348.1 1300.1L1347.9 1302.4L1347.8 1304.7L1347.6 1307.1L1347.6 1309.4L1347.5 1311.7L1347.5 1314L1347.5 1316.4L1347.5 1318.7z" fill="#00b2ee"/>
<path d="M1388 1318.7L1387.7 1315.9L1387.3 1313.1L1386.6 1310.3L1385.6 1307.5L1384.3 1304.7L1383.3 1301.9L1382.7 1299.6L1382.4 1297.3L1382.4 1295L1382.9 1292.6L1383.7 1290.3L1384.4 1288L1385 1285.6L1385.5 1283.3L1385.5 1281L1384.8 1278.5L1383.7 1276.1L1382.4 1273.6L1381 1271.2L1379.3 1268.4L1377.4 1265.6L1375.6 1262.8L1374 1260L1372.8 1257.2L1371.7 1254.4L1370.9 1251.6L1370.4 1248.8L1370.2 1246.1L1370.2 1243.3L1370.5 1240.5L1371 1237.7L1371.7 1234.9L1372.6 1232.1L1373.9 1229.3L1375.4 1226.5L1377.6 1224.2L1380.4 1221.8L1382.4 1219.5L1396.4 1219.5L1398.4 1221.8L1401.2 1224.2L1403.4 1226.5L1404.9 1229.3L1406.2 1232.1L1407.1 1234.9L1407.8 1237.7L1408.4 1240.5L1408.6 1243.3L1408.7 1246.1L1408.4 1248.8L1407.9 1251.6L1407.1 1254.4L1406 1257.2L1404.8 1260L1403.2 1262.8L1401.4 1265.6L1399.5 1268.4L1397.8 1271.2L1396.4 1273.6L1395.1 1276.1L1394 1278.5L1393.3 1281L1393.3 1283.3L1393.8 1285.6L1394.4 1288L1395.1 1290.3L1395.9 1292.6L1396.4 1295L1396.4 1297.3L1396.1 1299.6L1395.6 1301.9L1394.5 1304.7L1393.3 1307.5L1392.2 1310.3L1391.5 1313.1L1391.1 1315.9L1390.8 1318.7z" fill="#daa520"/>
<path d="M1461.8 1164.2L1465.5 1160.8L1468.2 1158.7L1471 1156.6L1473 1154.4L1473.9 1152.1L1474.1 1149.8L1473.9 1147.4L1473.1 1144.6L1472 1141.8L1471.1 1139.1L1470.5 1136.3L1470.1 1133.5L1469.8 1130.7L1469.7 1127.9L1469.6 1125.5L1469.6 1123.2L1469.7 1120.9L1469.8 1118.6L1470 1116.2L1470.2 1113.9L1470.5 1111.6L1470.8 1109.2L1471.2 1106.9L1471.6 1104.6L1472 1102.3L1472.5 1099.9L1472.9 1097.6L1473.3 1095.3L1473.8 1093L1474.3 1090.6L1474.8 1088.3L1475.2 1086L1475.8 1083.2L1476.4 1080.4L1477 1077.6L1477.5 1074.8L1478 1072.1L1478.5 1069.3L1478.9 1066.6L1479.2 1063.9L1482.5 1063.9L1482.8 1066.6L1483.2 1069.3L1483.7 1072.1L1484.2 1074.8L1484.7 1077.6L1485.3 1080.4L1485.9 1083.2L1486.4 1086L1486.9 1088.3L1487.4 1090.6L1487.9 1093L1488.3 1095.3L1488.8 1097.6L1489.2 1099.9L1489.6 1102.3L1490.1 1104.6L1490.5 1106.9L1490.9 1109.2L1491.2 1111.6L1491.5 1113.9L1491.7 1116.2L1491.8 1118.6L1492 1120.9L1492 1123.2L1492.1 1125.5L1492 1127.9L1491.9 1130.7L1491.6 1133.5L1491.2 1136.3L1490.6 1139.1L1489.7 1141.8L1488.6 1144.6L1487.8 1147.4L1487.6 1149.8L1487.7 1152.1L1488.7 1154.4L1490.7 1156.6L1493.5 1158.7L1496.2 1160.8L1499.8 1164.2z" fill="#3a5fcd"/>
<path d="M1503.7 1164.2L1504.6 1162.1L1506 1160L1507.9 1157.7L1510 1155.4L1511.6 1153L1512.3 1150.2L1512.1 1147.4L1511.2 1144.6L1509.9 1141.8L1508.8 1139.1L1507.9 1136.3L1507.2 1133.5L1506.8 1130.7L1506.7 1127.9L1507 1125.1L1507.4 1122.3L1507.9 1120L1508.5 1117.6L1509.1 1115.3L1509.8 1113L1510.4 1110.6L1511 1108.3L1511.5 1105.9L1512.1 1103.5L1512.6 1101.1L1513.1 1098.7L1513.5 1096.3L1514 1093.9L1514.4 1091.6L1514.7 1089.2L1515.1 1086.8L1515.4 1084.4L1515.7 1082L1516 1079.6L1516.3 1077.2L1516.6 1074.8L1517 1072.5L1517.3 1070.1L1517.7 1067.8L1518.1 1065.5L1518.5 1063.1L1518.8 1060.8L1519.3 1058.3L1519.7 1055.8L1520 1053.3L1525.5 1053.3L1525.8 1055.8L1526.2 1058.3L1526.7 1060.8L1527 1063.1L1527.4 1065.5L1527.8 1067.8L1528.2 1070.1L1528.5 1072.5L1528.9 1074.8L1529.2 1077.2L1529.5 1079.6L1529.8 1082L1530.1 1084.4L1530.4 1086.8L1530.8 1089.2L1531.1 1091.6L1531.5 1093.9L1532 1096.3L1532.4 1098.7L1532.9 1101.1L1533.4 1103.5L1533.9 1105.9L1534.5 1108.3L1535.1 1110.6L1535.7 1113L1536.4 1115.3L1537 1117.6L1537.6 1120L1538.1 1122.3L1538.5 1125.1L1538.7 1127.9L1538.7 1130.7L1538.3 1133.5L1537.6 1136.3L1536.7 1139.1L1535.6 1141.8L1534.3 1144.6L1533.4 1147.4L1533.2 1150.2L1533.9 1153L1535.5 1155.4L1537.6 1157.7L1539.5 1160L1540.9 1162.1L1541.7 1164.2z" fill="#b22222"/>
<path d="M1545.4 1164.2L1550.4 1160.8L1553.3 1158.7L1556.1 1156.6L1558.2 1154.4L1559.7 1152.1L1560.5 1149.8L1561 1147.4L1561.2 1145.1L1560.9 1142.8L1560.5 1140.5L1559.8 1138.1L1558.9 1135.8L1558.2 1133.5L1557.8 1130.7L1557.6 1127.9L1557.7 1125.1L1557.9 1122.3L1558.4 1119.5L1558.9 1116.7L1559.4 1113.9L1559.8 1111.1L1560.2 1108.3L1560.7 1105.5L1561 1102.7L1561.3 1100.3L1561.5 1097.9L1561.7 1095.5L1561.9 1093.2L1562.1 1090.8L1562.3 1088.4L1562.4 1086L1562.6 1083.6L1562.7 1081.2L1562.8 1078.8L1563 1076.4L1563.1 1074L1563.2 1071.6L1563.3 1069.2L1563.4 1066.4L1563.4 1063.6L1563.5 1060.8L1563.5 1058L1565.2 1058L1565.3 1060.8L1565.3 1063.6L1565.4 1066.4L1565.5 1069.2L1565.6 1071.6L1565.7 1074L1565.8 1076.4L1565.9 1078.8L1566 1081.2L1566.2 1083.6L1566.3 1086L1566.5 1088.4L1566.7 1090.8L1566.8 1093.2L1567 1095.5L1567.3 1097.9L1567.5 1100.3L1567.7 1102.7L1568.1 1105.5L1568.5 1108.3L1569 1111.1L1569.4 1113.9L1569.9 1116.7L1570.4 1119.5L1570.8 1122.3L1571.1 1125.1L1571.1 1127.9L1570.9 1130.7L1570.5 1133.5L1569.9 1135.8L1569 1138.1L1568.3 1140.5L1567.9 1142.8L1567.6 1145.1L1567.7 1147.4L1568.2 1149.8L1569.1 1152.1L1570.5 1154.4L1572.7 1156.6L1575.4 1158.7L1578.4 1160.8L1583.4 1164.2z" fill="#00b2ee"/>
<path d="M1694.3 1164.2L1694.9 1161.4L1697.6 1158.6L1699.9 1155.8L1700.1 1153L1699.3 1150.2L1698.1 1147.4L1696.5 1144.6L1695.1 1141.8L1694.1 1139.1L1693.2 1136.3L1692.3 1133.5L1691.4 1130.7L1690.5 1127.9L1689.6 1125.1L1688.5 1122.3L1687.3 1119.5L1686.3 1116.7L1685.4 1113.9L1684.6 1111.1L1684 1108.3L1683.6 1105.5L1683.4 1102.7L1683.5 1099.9L1684 1097.1L1684.8 1094.3L1685.8 1091.6L1686.9 1088.8L1688.2 1086L1689.6 1083.2L1691 1080.4L1692.6 1077.6L1694.3 1074.8L1695.8 1072.5L1697.4 1070.1L1698.8 1067.8L1699.8 1065.5L1700.5 1063.1L1701 1060.8L1701.3 1058.3L1701.5 1055.8L1701.6 1053.3L1702.7 1053.3L1702.8 1055.8L1702.9 1058.3L1703.2 1060.8L1703.8 1063.1L1704.5 1065.5L1705.5 1067.8L1706.8 1070.1L1708.4 1072.5L1710 1074.8L1711.6 1077.6L1713.2 1080.4L1714.7 1083.2L1716 1086L1717.3 1088.8L1718.5 1091.6L1719.5 1094.3L1720.2 1097.1L1720.7 1099.9L1720.8 1102.7L1720.6 1105.5L1720.2 1108.3L1719.6 1111.1L1718.9 1113.9L1718 1116.7L1716.9 1119.5L1715.8 1122.3L1714.7 1125.1L1713.7 1127.9L1712.8 1130.7L1711.9 1133.5L1711 1136.3L1710.1 1139.1L1709.1 1141.8L1707.7 1144.6L1706.2 1147.4L1704.9 1150.2L1704.1 1153L1704.4 1155.8L1706.7 1158.6L1709.4 1161.4L1710 1164.2z" fill="#3a5fcd"/>
<path d="M1733.4 1164.2L1734 1160.8L1736.3 1158.3L1738.5 1155.8L1739.5 1153L1739.6 1150.2L1738.8 1147.4L1737.5 1144.6L1736.2 1141.8L1735 1139.1L1733.7 1136.3L1732.4 1133.5L1731.2 1130.7L1730.1 1127.9L1729 1125.1L1728.1 1122.3L1727.3 1119.5L1726.6 1116.7L1726.2 1113.9L1725.8 1111.1L1725.6 1108.3L1725.5 1105.5L1725.7 1102.7L1726.2 1099.9L1726.9 1097.1L1728 1094.3L1729.2 1091.6L1730.7 1088.8L1732.3 1086L1734 1083.2L1735.7 1080.4L1737.4 1077.6L1739 1074.8L1740.2 1072.5L1741.4 1070.1L1742.4 1067.8L1743.4 1064.7L1744 1061.7L1745.2 1061.7L1745.8 1064.7L1746.8 1067.8L1747.8 1070.1L1749 1072.5L1750.2 1074.8L1751.8 1077.6L1753.5 1080.4L1755.2 1083.2L1756.9 1086L1758.5 1088.8L1760 1091.6L1761.2 1094.3L1762.3 1097.1L1763 1099.9L1763.5 1102.7L1763.7 1105.5L1763.6 1108.3L1763.4 1111.1L1763 1113.9L1762.5 1116.7L1761.9 1119.5L1761.1 1122.3L1760.2 1125.1L1759.1 1127.9L1758 1130.7L1756.8 1133.5L1755.5 1136.3L1754.2 1139.1L1753 1141.8L1751.7 1144.6L1750.4 1147.4L1749.6 1150.2L1749.7 1153L1750.7 1155.8L1752.9 1158.3L1755.2 1160.8L1755.8 1164.2z" fill="#b22222"/>
<path d="M1774.2 1164.2L1774.3 1162.1L1774.8 1160L1776.3 1157.7L1778 1155.4L1779 1153L1778.6 1150.2L1777.4 1147.4L1776.2 1144.6L1775.1 1141.8L1774 1139.1L1773 1136.3L1772 1133.5L1771 1130.7L1770.1 1127.9L1769.3 1125.1L1768.6 1122.3L1768 1119.5L1767.6 1116.7L1767.2 1113.9L1767 1111.1L1766.9 1108.3L1767.1 1105.5L1767.5 1102.7L1768.3 1099.9L1769.4 1097.1L1770.6 1094.3L1771.9 1091.6L1773.3 1088.8L1774.8 1086L1776.2 1083.2L1777.6 1080.4L1779 1077.6L1780.2 1075.3L1781.5 1072.9L1782.6 1070.6L1783.4 1067.5L1783.7 1064.5L1788.2 1064.5L1788.5 1067.5L1789.3 1070.6L1790.4 1072.9L1791.7 1075.3L1792.9 1077.6L1794.3 1080.4L1795.7 1083.2L1797.1 1086L1798.6 1088.8L1800 1091.6L1801.3 1094.3L1802.5 1097.1L1803.6 1099.9L1804.4 1102.7L1804.8 1105.5L1805 1108.3L1804.9 1111.1L1804.7 1113.9L1804.3 1116.7L1803.9 1119.5L1803.3 1122.3L1802.6 1125.1L1801.8 1127.9L1800.9 1130.7L1799.9 1133.5L1798.9 1136.3L1797.9 1139.1L1796.8 1141.8L1795.7 1144.6L1794.5 1147.4L1793.3 1150.2L1792.9 1153L1793.9 1155.4L1795.6 1157.7L1797.1 1160L1797.6 1162.1L1797.7 1164.2z" fill="#00b2ee"/>
<path d="M1808.3 1164.2L1811.9 1161.4L1815.6 1158.6L1818.9 1155.8L1821.5 1153L1823.1 1150.2L1823.3 1147.4L1822.8 1144.6L1822.3 1141.8L1821.8 1139.1L1821.3 1136.3L1820.7 1133.5L1820.3 1130.7L1820 1127.9L1819.7 1125.1L1819.5 1122.3L1819.5 1119.5L1819.8 1116.7L1820.5 1113.9L1821.2 1111.1L1821.8 1108.3L1822.5 1105.5L1823.1 1102.7L1823.7 1100.1L1824.2 1097.6L1824.7 1095L1825.1 1092.4L1829.5 1092.4L1829.9 1095L1830.4 1097.6L1830.9 1100.1L1831.5 1102.7L1832.1 1105.5L1832.8 1108.3L1833.4 1111.1L1834.1 1113.9L1834.8 1116.7L1835.1 1119.5L1835.1 1122.3L1834.9 1125.1L1834.6 1127.9L1834.3 1130.7L1833.9 1133.5L1833.3 1136.3L1832.8 1139.1L1832.3 1141.8L1831.8 1144.6L1831.3 1147.4L1831.5 1150.2L1833.1 1153L1835.7 1155.8L1839 1158.6L1842.7 1161.4L1846.3 1164.2z" fill="#daa520"/>
<path d="M1481.4 1304.2L1480.6 1301.8L1479.4 1299.4L1478 1297L1476.5 1294.6L1475 1292.2L1473 1289.4L1470.7 1286.6L1468.5 1283.9L1466.6 1281.1L1465.1 1278.3L1464 1275.5L1463.5 1272.7L1463.8 1269.9L1464.6 1267.1L1465.7 1264.3L1467.2 1261.5L1468.8 1258.7L1470.6 1255.9L1472.2 1253.1L1473.7 1250.3L1475.1 1247.5L1476.5 1244.7L1477.8 1241.9L1478.9 1239.3L1479.9 1236.7L1480.6 1234.1L1483.4 1234.1L1484 1236.7L1485 1239.3L1486.1 1241.9L1487.4 1244.7L1488.8 1247.5L1490.2 1250.3L1491.7 1253.1L1493.4 1255.9L1495.1 1258.7L1496.7 1261.5L1498.2 1264.3L1499.3 1267.1L1500.2 1269.9L1500.4 1272.7L1499.9 1275.5L1498.8 1278.3L1497.3 1281.1L1495.4 1283.9L1493.2 1286.6L1490.9 1289.4L1488.9 1292.2L1487.4 1294.6L1485.9 1297L1484.5 1299.4L1483.3 1301.8L1482.5 1304.2z" fill="#3a5fcd"/>
<path d="M1523.6 1310.4L1523.6 1307.8L1523.6 1305.2L1523.6 1302.5L1523.6 1299.9L1523.6 1297.3L1523.6 1294.7L1523.6 1292.1L1523.4 1289.4L1522.6 1286.6L1521.1 1283.9L1519.4 1281.1L1517.7 1278.3L1515.9 1275.5L1514.1 1272.7L1512.5 1270.2L1510.8 1267.8L1509.2 1265.3L1507.7 1262.9L1505.8 1260.1L1504.9 1257.3L1506.3 1254.5L1508.5 1251.7L1510.3 1249.3L1512.1 1246.8L1513.9 1244.4L1515.5 1241.9L1517 1239.1L1518.3 1236.4L1519.5 1233.6L1520.5 1230.8L1521.3 1228.1L1521.9 1225.5L1522.4 1222.8L1522.7 1220.1L1525 1220.1L1525.3 1222.8L1525.8 1225.5L1526.4 1228.1L1527.2 1230.8L1528.2 1233.6L1529.4 1236.4L1530.7 1239.1L1532.2 1241.9L1533.8 1244.4L1535.6 1246.8L1537.5 1249.3L1539.2 1251.7L1541.5 1254.5L1542.9 1257.3L1541.9 1260.1L1540.1 1262.9L1538.5 1265.3L1536.9 1267.8L1535.3 1270.2L1533.6 1272.7L1531.8 1275.5L1530 1278.3L1528.3 1281.1L1526.7 1283.9L1525.1 1286.6L1524.3 1289.4L1524.1 1292.1L1524.1 1294.7L1524.1 1297.3L1524.1 1299.9L1524.1 1302.5L1524.1 1305.2L1524.1 1307.8L1524.1 1310.4z" fill="#b22222"/>
<path d="M1565.8 1289.4L1565.7 1286.6L1565.6 1283.9L1565.4 1281.1L1564.9 1278.3L1564 1275.5L1562.7 1272.7L1561 1269.9L1558.9 1267.1L1556.6 1264.3L1554.2 1261.5L1552.1 1258.7L1550.5 1255.9L1549.2 1253.1L1548.2 1250.3L1547.5 1247.5L1547.6 1244.7L1548.3 1241.9L1549.4 1239.1L1550.7 1236.4L1552.4 1233.6L1554.3 1230.8L1556.3 1228L1558.3 1225.2L1560.3 1222.4L1561.9 1219.6L1563 1216.9L1563.8 1214.3L1564.5 1211.6L1564.9 1209L1567.2 1209L1567.6 1211.6L1568.3 1214.3L1569.2 1216.9L1570.2 1219.6L1571.8 1222.4L1573.8 1225.2L1575.8 1228L1577.8 1230.8L1579.7 1233.6L1581.4 1236.4L1582.8 1239.1L1583.8 1241.9L1584.5 1244.7L1584.6 1247.5L1583.9 1250.3L1582.9 1253.1L1581.7 1255.9L1580 1258.7L1577.9 1261.5L1575.6 1264.3L1573.2 1267.1L1571.1 1269.9L1569.4 1272.7L1568.1 1275.5L1567.2 1278.3L1566.7 1281.1L1566.5 1283.9L1566.4 1286.6L1566.3 1289.4z" fill="#00b2ee"/>
<path d="M1606.6 1268.5L1606.6 1266.2L1606.5 1263.8L1606 1261.5L1604.4 1258.7L1601.8 1255.9L1599.1 1253.6L1596.1 1251.3L1593.4 1248.9L1591.1 1246.6L1589.2 1244.3L1588.4 1241.9L1589.3 1239.1L1591.2 1236.4L1593.4 1233.6L1595.7 1230.8L1598.2 1228L1600.4 1225.2L1602.1 1222.7L1603.2 1220.1L1611.6 1220.1L1612.7 1222.7L1614.4 1225.2L1616.7 1228L1619.1 1230.8L1621.4 1233.6L1623.6 1236.4L1625.5 1239.1L1626.4 1241.9L1625.6 1244.3L1623.7 1246.6L1621.4 1248.9L1618.7 1251.3L1615.7 1253.6L1613 1255.9L1610.5 1258.7L1608.8 1261.5L1608.3 1263.8L1608.2 1266.2L1608.2 1268.5z" fill="#daa520"/>
<path d="M1684.5 1318.7L1684.6 1316.6L1684.8 1314.5L1685.1 1312.1L1685.5 1309.6L1685.9 1307.2L1686.2 1304.7L1686.4 1302.4L1686.5 1300.1L1686.7 1297.7L1686.8 1295.4L1686.8 1293.1L1686.8 1290.8L1686.7 1288.4L1686.5 1286L1686.4 1283.6L1686.1 1281.2L1685.9 1278.8L1685.6 1276.4L1685.4 1274L1685.1 1271.6L1684.7 1269.2L1684.3 1266.8L1683.9 1264.4L1683.5 1262L1683.2 1259.6L1682.8 1257.2L1682.6 1254.9L1682.3 1252.6L1682 1250.2L1681.8 1247.9L1681.7 1245.6L1681.7 1243.3L1682 1240.5L1682.4 1237.7L1683.1 1234.9L1684 1232.1L1685.1 1229.3L1686.5 1226.5L1688 1223.7L1689.6 1220.9L1691.4 1218.1L1693.3 1215.3L1695.1 1212.5L1696.5 1208.9L1704.9 1208.9L1706.3 1212.5L1708.1 1215.3L1710.1 1218.1L1711.9 1220.9L1713.5 1223.7L1715 1226.5L1716.4 1229.3L1717.5 1232.1L1718.4 1234.9L1719 1237.7L1719.5 1240.5L1719.7 1243.3L1719.8 1245.6L1719.7 1247.9L1719.5 1250.2L1719.2 1252.6L1718.9 1254.9L1718.6 1257.2L1718.3 1259.6L1717.9 1262L1717.6 1264.4L1717.2 1266.8L1716.8 1269.2L1716.4 1271.6L1716.1 1274L1715.8 1276.4L1715.6 1278.8L1715.3 1281.2L1715.1 1283.6L1714.9 1286L1714.8 1288.4L1714.7 1290.8L1714.7 1293.1L1714.7 1295.4L1714.8 1297.7L1714.9 1300.1L1715.1 1302.4L1715.3 1304.7L1715.5 1307.2L1715.9 1309.6L1716.3 1312.1L1716.7 1314.5L1716.8 1316.6L1716.9 1318.7z" fill="#3a5fcd"/>
<path d="M1723.6 1318.7L1724.2 1315.3L1725 1312.7L1725.8 1310.1L1726.4 1307.5L1727 1304.7L1727.5 1301.9L1727.9 1299.1L1728.1 1296.3L1728.2 1294L1728.3 1291.7L1728.3 1289.4L1728.3 1287L1728.2 1284.7L1728.1 1282.4L1727.9 1280L1727.6 1277.7L1727.2 1275.4L1726.8 1273.1L1726.5 1270.7L1726.4 1268.4L1726.5 1266.1L1726.7 1263.7L1726.9 1261.4L1727.3 1259.1L1727.7 1256.8L1728.1 1254.4L1728.6 1252.1L1729.3 1249.8L1729.9 1247.5L1730.7 1245.1L1731.4 1242.8L1732 1240.5L1732.6 1238.1L1733.3 1235.8L1733.9 1233.5L1734.5 1231.2L1735.1 1228.8L1735.7 1226.5L1736.4 1223.7L1737.1 1220.9L1737.8 1218.1L1738.5 1215.3L1738.9 1212.8L1739.1 1210.3L1739.3 1207.8L1746 1207.8L1746.2 1210.3L1746.4 1212.8L1746.8 1215.3L1747.4 1218.1L1748.1 1220.9L1748.9 1223.7L1749.6 1226.5L1750.2 1228.8L1750.8 1231.2L1751.4 1233.5L1752 1235.8L1752.6 1238.1L1753.3 1240.5L1753.9 1242.8L1754.6 1245.1L1755.3 1247.5L1756 1249.8L1756.6 1252.1L1757.2 1254.4L1757.6 1256.8L1758 1259.1L1758.4 1261.4L1758.6 1263.7L1758.8 1266.1L1758.8 1268.4L1758.7 1270.7L1758.5 1273.1L1758.1 1275.4L1757.7 1277.7L1757.4 1280L1757.2 1282.4L1757.1 1284.7L1757 1287L1756.9 1289.4L1757 1291.7L1757 1294L1757.2 1296.3L1757.4 1299.1L1757.8 1301.9L1758.3 1304.7L1758.8 1307.5L1759.5 1310.1L1760.3 1312.7L1761.1 1315.3L1761.6 1318.7z" fill="#b22222"/>
<path d="M1771.1 1318.7L1771.3 1316.6L1771.4 1314.5L1771.6 1312L1771.7 1309.5L1771.9 1307L1772 1304.5L1772 1301.9L1771.9 1299.5L1771.8 1297.1L1771.7 1294.8L1771.5 1292.4L1771.3 1290L1771.1 1287.6L1770.9 1285.2L1770.6 1282.8L1770.2 1280.4L1769.9 1278L1769.5 1275.6L1769.1 1273.2L1768.7 1270.8L1768.3 1268.4L1768 1266L1767.6 1263.6L1767.2 1261.2L1766.8 1258.8L1766.5 1256.4L1766.1 1254L1765.8 1251.6L1765.6 1249.3L1765.3 1247L1765.1 1244.7L1764.9 1242.3L1764.8 1240L1764.7 1237.7L1764.7 1234.9L1764.8 1232.1L1765.3 1229.3L1766 1226.5L1767 1223.7L1768.3 1220.9L1770 1218.6L1772.1 1216.3L1773.9 1213.9L1775.1 1211.8L1775.9 1209.7L1791.5 1209.7L1792.3 1211.8L1793.5 1213.9L1795.3 1216.3L1797.4 1218.6L1799.1 1220.9L1800.4 1223.7L1801.4 1226.5L1802.2 1229.3L1802.6 1232.1L1802.7 1234.9L1802.7 1237.7L1802.6 1240L1802.5 1242.3L1802.3 1244.7L1802.1 1247L1801.9 1249.3L1801.6 1251.6L1801.3 1254L1801 1256.4L1800.6 1258.8L1800.2 1261.2L1799.8 1263.6L1799.5 1266L1799.1 1268.4L1798.7 1270.8L1798.3 1273.2L1797.9 1275.6L1797.5 1278L1797.2 1280.4L1796.9 1282.8L1796.6 1285.2L1796.3 1287.6L1796.1 1290L1795.9 1292.4L1795.7 1294.8L1795.6 1297.1L1795.5 1299.5L1795.4 1301.9L1795.5 1304.5L1795.6 1307L1795.7 1309.5L1795.9 1312L1796 1314.5L1796.2 1316.6L1796.3 1318.7z" fill="#00b2ee"/>
<path d="M1806.9 1318.7L1810.5 1316.5L1817.5 1313.1L1820.3 1311L1822 1308.9L1822.6 1306.6L1822.7 1304.3L1822.6 1301.9L1822.1 1299.8L1821.7 1297.7L1822.7 1295.6L1823.7 1293.6L1824.1 1290.8L1824.3 1288L1824.4 1285.2L1824.5 1282.4L1824.6 1279.9L1824.6 1277.5L1824.7 1275L1824.7 1272.6L1824.7 1270.2L1824.7 1267.7L1824.7 1265.3L1824.8 1262.8L1824.8 1260.3L1824.9 1257.9L1825 1255.4L1825 1252.9L1825.1 1250.4L1825.2 1247.9L1825.2 1245.4L1825.3 1242.9L1825.3 1240.5L1825.4 1237.8L1825.5 1235.2L1825.5 1232.5L1825.6 1229.8L1825.6 1227.2L1825.6 1224.5L1826.2 1224.5L1826.2 1227.2L1826.3 1229.8L1826.3 1232.5L1826.4 1235.2L1826.4 1237.8L1826.5 1240.5L1826.5 1242.9L1826.6 1245.4L1826.6 1247.9L1826.7 1250.4L1826.8 1252.9L1826.8 1255.4L1826.9 1257.9L1827 1260.3L1827 1262.8L1827.1 1265.3L1827.1 1267.7L1827.1 1270.2L1827.1 1272.6L1827.1 1275L1827.2 1277.5L1827.2 1279.9L1827.3 1282.4L1827.4 1285.2L1827.5 1288L1827.7 1290.8L1828.1 1293.6L1829.1 1295.6L1830.1 1297.7L1829.8 1299.8L1829.3 1301.9L1829.1 1304.3L1829.2 1306.6L1829.8 1308.9L1831.5 1311L1834.3 1313.1L1841.3 1316.5L1844.9 1318.7z" fill="#daa520"/>
<path d="M1150.5 1472.5L1152.7 1469.7L1155.6 1466.9L1158.3 1464.1L1160.6 1461.3L1162.5 1458.5L1164.1 1455.7L1165.3 1452.9L1166 1450.1L1166.4 1447.4L1166.7 1444.6L1166.9 1442.2L1167 1439.9L1167.1 1437.6L1167.2 1435.2L1167.2 1432.9L1167.3 1430.6L1167.3 1428.3L1167.2 1425.9L1167.1 1423.6L1167.1 1421.3L1167 1418.9L1167 1416.6L1167 1414.3L1167.1 1412L1167.2 1409.6L1167.4 1407.3L1167.5 1405L1167.6 1402.6L1167.6 1400.3L1167.7 1398L1167.7 1395.7L1167.7 1393.3L1167.8 1391L1167.8 1388.7L1167.9 1386.3L1168 1384L1168.1 1381.7L1168.2 1379.4L1168.3 1377L1168.4 1374.7L1168.6 1372L1168.7 1369.3L1168.9 1366.7L1169.1 1364L1169.2 1361.3L1169.8 1361.3L1169.9 1364L1170.1 1366.7L1170.3 1369.3L1170.5 1372L1170.6 1374.7L1170.7 1377L1170.8 1379.4L1170.9 1381.7L1171 1384L1171.1 1386.3L1171.2 1388.7L1171.2 1391L1171.3 1393.3L1171.3 1395.7L1171.4 1398L1171.4 1400.3L1171.5 1402.6L1171.6 1405L1171.7 1407.3L1171.8 1409.6L1171.9 1412L1172 1414.3L1172 1416.6L1172 1418.9L1172 1421.3L1171.9 1423.6L1171.8 1425.9L1171.8 1428.3L1171.7 1430.6L1171.8 1432.9L1171.8 1435.2L1171.9 1437.6L1172 1439.9L1172.1 1442.2L1172.3 1444.6L1172.6 1447.4L1173 1450.1L1173.7 1452.9L1174.9 1455.7L1176.5 1458.5L1178.4 1461.3L1180.7 1464.1L1183.4 1466.9L1186.3 1469.7L1188.5 1472.5z" fill="#daa520"/>
<path d="M1326.8 1471.1L1329.9 1468.9L1336.9 1465.5L1339.5 1463.4L1341.1 1461.3L1341.6 1459.2L1341.3 1457.1L1340.3 1455L1339.1 1452.9L1338.5 1450.8L1338.3 1448.7L1338.7 1446.7L1339.7 1444.6L1341.2 1442.5L1342.5 1440.4L1343 1437.6L1343.2 1434.8L1343.3 1432L1343.5 1429.2L1343.6 1426.4L1343.7 1423.6L1343.9 1420.8L1344 1418.2L1344.2 1415.5L1344.3 1412.8L1344.5 1410.2L1344.6 1407.5L1344.7 1404.9L1345.8 1404.9L1345.9 1407.5L1346 1410.2L1346.2 1412.8L1346.3 1415.5L1346.5 1418.2L1346.7 1420.8L1346.8 1423.6L1346.9 1426.4L1347 1429.2L1347.2 1432L1347.3 1434.8L1347.5 1437.6L1348.1 1440.4L1349.3 1442.5L1350.8 1444.6L1351.8 1446.7L1352.2 1448.7L1352.1 1450.8L1351.4 1452.9L1350.2 1455L1349.2 1457.1L1348.9 1459.2L1349.4 1461.3L1351 1463.4L1353.6 1465.5L1360.6 1468.9L1363.7 1471.1z" fill="#00b2ee"/>
<path d="M1384.7 1471.1L1384.6 1468.7L1384.5 1466.3L1384.4 1463.9L1384.2 1461.5L1384.1 1459.1L1383.8 1456.7L1383.5 1454.3L1383.2 1451.9L1382.8 1449.5L1382.4 1447.2L1381.9 1444.8L1381.4 1442.4L1380.8 1440L1380.2 1437.6L1379.5 1435.2L1378.8 1432.8L1378 1430.4L1377.1 1428L1376.3 1425.6L1375.4 1423.2L1374.6 1420.8L1373.8 1418.5L1373 1416.1L1372.2 1413.8L1371.4 1411.5L1370.6 1409.2L1369.8 1406.8L1369 1404L1368.1 1401.2L1367.4 1398.5L1366.8 1395.7L1366.5 1392.9L1366.8 1390.1L1367.3 1387.3L1368 1384.5L1369 1381.7L1370.3 1378.9L1371.8 1376.1L1373.5 1373.3L1375.3 1370.5L1377.2 1367.7L1379.1 1364.9L1380.6 1362.6L1382.1 1360.3L1383.4 1358L1384.4 1355.7L1386.1 1355.7L1387 1358L1388.3 1360.3L1389.9 1362.6L1391.4 1364.9L1393.2 1367.7L1395.1 1370.5L1396.9 1373.3L1398.6 1376.1L1400.1 1378.9L1401.4 1381.7L1402.4 1384.5L1403.1 1387.3L1403.7 1390.1L1403.9 1392.9L1403.7 1395.7L1403 1398.5L1402.3 1401.2L1401.5 1404L1400.6 1406.8L1399.8 1409.2L1399.1 1411.5L1398.3 1413.8L1397.4 1416.1L1396.6 1418.5L1395.8 1420.8L1395 1423.2L1394.2 1425.6L1393.3 1428L1392.5 1430.4L1391.7 1432.8L1390.9 1435.2L1390.2 1437.6L1389.6 1440L1389.1 1442.4L1388.5 1444.8L1388.1 1447.2L1387.6 1449.5L1387.2 1451.9L1386.9 1454.3L1386.6 1456.7L1386.4 1459.1L1386.2 1461.5L1386.1 1463.9L1385.9 1466.3L1385.9 1468.7L1385.8 1471.1z" fill="#daa520"/>
<path d="M1025.9 1635.1L1028.7 1632.9L1032.7 1630.5L1036.5 1628.1L1039 1626L1040.7 1623.9L1041.7 1621.1L1042.1 1618.3L1042.3 1615.5L1042.4 1612.7L1042.4 1610L1042.4 1607.2L1042.4 1604.8L1042.3 1602.5L1042.2 1600.2L1042.2 1597.8L1042.1 1595.5L1042.1 1593.2L1042.1 1590.9L1042.1 1588.5L1042.2 1586.2L1042.2 1583.9L1042.3 1581.5L1042.4 1579.2L1042.5 1576.9L1042.5 1574.6L1042.6 1572.2L1042.7 1569.9L1042.8 1567.6L1042.9 1565.2L1043.1 1562.5L1043.3 1559.7L1043.6 1556.9L1043.8 1554.1L1044 1551.3L1044.2 1548.5L1044.3 1545.7L1045.5 1545.7L1045.6 1548.5L1045.8 1551.3L1046 1554.1L1046.2 1556.9L1046.5 1559.7L1046.7 1562.5L1046.9 1565.2L1047 1567.6L1047.1 1569.9L1047.2 1572.2L1047.3 1574.6L1047.3 1576.9L1047.4 1579.2L1047.5 1581.5L1047.5 1583.9L1047.6 1586.2L1047.6 1588.5L1047.7 1590.9L1047.7 1593.2L1047.7 1595.5L1047.6 1597.8L1047.5 1600.2L1047.5 1602.5L1047.4 1604.8L1047.4 1607.2L1047.4 1610L1047.4 1612.7L1047.5 1615.5L1047.7 1618.3L1048.1 1621.1L1049.1 1623.9L1050.8 1626L1053.3 1628.1L1057.1 1630.5L1061.1 1632.9L1063.9 1635.1z" fill="#3a5fcd"/>
<path d="M1067.8 1635.1L1069.5 1632.3L1071.8 1629.5L1074.2 1626.7L1076.5 1623.9L1078.4 1621.1L1079.8 1618.3L1080.7 1615.5L1081.2 1612.7L1081.6 1610L1081.8 1607.2L1081.9 1604.8L1082 1602.5L1082 1600.2L1082 1597.8L1082 1595.5L1082.1 1593.2L1082.1 1590.9L1082.1 1588.5L1082.1 1586.2L1082.1 1583.9L1082.1 1581.5L1082.1 1579.2L1082 1576.9L1082 1574.6L1082 1572.2L1082 1569.9L1082 1567.6L1082.1 1565.2L1082.1 1562.9L1082.2 1560.6L1082.4 1558.3L1082.5 1555.9L1082.7 1553.6L1082.9 1551.3L1083.2 1548.5L1083.7 1545.7L1084.1 1542.9L1084.6 1540.1L1085.1 1537.3L1085.6 1534.5L1086 1531.7L1087.6 1531.7L1088 1534.5L1088.5 1537.3L1089 1540.1L1089.5 1542.9L1090 1545.7L1090.4 1548.5L1090.7 1551.3L1090.9 1553.6L1091.1 1555.9L1091.3 1558.3L1091.4 1560.6L1091.5 1562.9L1091.6 1565.2L1091.6 1567.6L1091.6 1569.9L1091.6 1572.2L1091.6 1574.6L1091.6 1576.9L1091.6 1579.2L1091.6 1581.5L1091.5 1583.9L1091.5 1586.2L1091.5 1588.5L1091.5 1590.9L1091.6 1593.2L1091.6 1595.5L1091.6 1597.8L1091.6 1600.2L1091.6 1602.5L1091.7 1604.8L1091.8 1607.2L1092.1 1610L1092.4 1612.7L1093 1615.5L1093.8 1618.3L1095.2 1621.1L1097.1 1623.9L1099.4 1626.7L1101.8 1629.5L1104.1 1632.3L1105.8 1635.1z" fill="#b22222"/>
<path d="M1287.1 1635.1L1289.9 1632.9L1293.7 1630.5L1297.2 1628.1L1299.9 1625.3L1302 1622.5L1303.2 1620.4L1303.9 1618.3L1303.9 1615.5L1303.6 1612.7L1303.4 1610L1303.3 1607.2L1303.6 1604.4L1303.9 1601.6L1304.2 1598.8L1304.3 1596.3L1304.4 1593.9L1304.5 1591.4L1304.5 1589L1304.6 1586.6L1304.6 1584.1L1304.7 1581.7L1304.7 1579.2L1304.8 1576.7L1304.8 1574.3L1304.8 1571.8L1304.9 1569.3L1304.9 1566.8L1304.9 1564.3L1304.9 1561.8L1305 1559.3L1305 1556.9L1305.1 1554.4L1305.1 1552L1305.2 1549.5L1305.3 1547.1L1305.4 1544.6L1305.4 1542.2L1305.5 1539.8L1305.6 1537.3L1305.6 1535L1305.7 1532.7L1305.7 1530.3L1305.8 1528L1305.8 1525.7L1305.9 1523.3L1306.4 1523.3L1306.4 1525.7L1306.5 1528L1306.5 1530.3L1306.6 1532.7L1306.6 1535L1306.7 1537.3L1306.8 1539.8L1306.8 1542.2L1306.9 1544.6L1307 1547.1L1307.1 1549.5L1307.1 1552L1307.2 1554.4L1307.3 1556.9L1307.3 1559.3L1307.3 1561.8L1307.4 1564.3L1307.4 1566.8L1307.4 1569.3L1307.4 1571.8L1307.5 1574.3L1307.5 1576.7L1307.5 1579.2L1307.6 1581.7L1307.6 1584.1L1307.7 1586.6L1307.7 1589L1307.8 1591.4L1307.9 1593.9L1308 1596.3L1308.1 1598.8L1308.4 1601.6L1308.7 1604.4L1308.9 1607.2L1308.9 1610L1308.7 1612.7L1308.4 1615.5L1308.4 1618.3L1309.1 1620.4L1310.3 1622.5L1312.4 1625.3L1315.1 1628.1L1318.5 1630.5L1322.3 1632.9L1325.1 1635.1z" fill="#b22222"/>
<path d="M1464.4 1471.9L1466 1470.2L1474.4 1467.7L1478.6 1464.9L1477.8 1462.1L1476.2 1460L1475 1457.9L1474.9 1455.8L1475.5 1453.7L1477 1451.6L1478.6 1449.5L1479.8 1446.8L1480.6 1444L1481 1441.2L1481.2 1438.4L1481.4 1435.6L1481.5 1433.2L1481.6 1430.9L1481.7 1428.6L1481.8 1426.3L1481.9 1423.9L1482 1421.6L1482 1419.1L1482.1 1416.6L1482.1 1414.1L1482.2 1411.6L1482.3 1409.2L1482.3 1406.7L1482.4 1404.2L1482.4 1401.7L1482.5 1399.2L1482.5 1396.7L1482.5 1394.2L1483.1 1394.2L1483.1 1396.7L1483.1 1399.2L1483.2 1401.7L1483.2 1404.2L1483.3 1406.7L1483.3 1409.2L1483.4 1411.6L1483.4 1414.1L1483.5 1416.6L1483.6 1419.1L1483.6 1421.6L1483.7 1423.9L1483.8 1426.3L1483.8 1428.6L1483.9 1430.9L1484.1 1433.2L1484.2 1435.6L1484.4 1438.4L1484.6 1441.2L1485 1444L1485.8 1446.8L1487 1449.5L1488.6 1451.6L1490.1 1453.7L1490.7 1455.8L1490.6 1457.9L1489.4 1460L1487.8 1462.1L1487 1464.9L1491.2 1467.7L1499.6 1470.2L1501.2 1471.9z" fill="#3a5fcd"/>
<path d="M1505.7 1471.9L1507.9 1470.2L1515.8 1467.7L1520.2 1464.9L1519.7 1462.1L1518.4 1460L1517.4 1457.9L1517.7 1455.8L1518.6 1453.7L1519.7 1450.9L1520.8 1448.2L1521.3 1445.8L1521.6 1443.5L1521.9 1441.2L1522.2 1438.4L1522.5 1435.6L1522.8 1432.8L1523 1430L1523.2 1427.7L1523.4 1425.3L1523.5 1423L1523.6 1420.7L1523.8 1418.3L1523.9 1416L1524 1413.6L1524.1 1411.2L1524.2 1408.8L1524.2 1406.4L1524.3 1404L1524.4 1401.6L1524.4 1399.3L1525 1399.3L1525 1401.6L1525.1 1404L1525.2 1406.4L1525.2 1408.8L1525.3 1411.2L1525.4 1413.6L1525.5 1416L1525.7 1418.3L1525.8 1420.7L1525.9 1423L1526 1425.3L1526.2 1427.7L1526.4 1430L1526.6 1432.8L1526.9 1435.6L1527.2 1438.4L1527.5 1441.2L1527.8 1443.5L1528.1 1445.8L1528.6 1448.2L1529.7 1450.9L1530.9 1453.7L1531.7 1455.8L1532 1457.9L1531 1460L1529.7 1462.1L1529.2 1464.9L1533.6 1467.7L1541.5 1470.2L1543.7 1471.9z" fill="#b22222"/>
<path d="M1548.2 1471.9L1548.5 1469.1L1548.7 1466.3L1548.9 1463.5L1549.1 1460.7L1549.3 1457.9L1549.5 1455.6L1549.7 1453.3L1549.9 1450.9L1550.1 1448.6L1550.2 1446.3L1550.4 1444L1550.6 1441.6L1550.7 1439.3L1550.8 1437L1550.9 1434.6L1551 1432.3L1551.2 1430L1551.5 1427.7L1551.8 1425.3L1552.1 1423L1552.4 1420.7L1552.8 1418.3L1553.2 1416L1553.7 1413.7L1554.3 1411.4L1554.9 1409L1555.5 1406.7L1556.2 1404.4L1556.8 1402L1557.5 1399.7L1558.2 1397.4L1558.9 1395.1L1559.6 1392.7L1560.3 1390.4L1561 1388.1L1562 1385.3L1562.9 1382.5L1563.8 1379.7L1564.4 1376.1L1568.9 1376.1L1569.4 1379.7L1570.3 1382.5L1571.3 1385.3L1572.2 1388.1L1572.9 1390.4L1573.6 1392.7L1574.4 1395.1L1575.1 1397.4L1575.7 1399.7L1576.4 1402L1577.1 1404.4L1577.7 1406.7L1578.4 1409L1579 1411.4L1579.5 1413.7L1580 1416L1580.5 1418.3L1580.8 1420.7L1581.2 1423L1581.5 1425.3L1581.7 1427.7L1582 1430L1582.2 1432.3L1582.3 1434.6L1582.5 1437L1582.6 1439.3L1582.7 1441.6L1582.8 1444L1583 1446.3L1583.2 1448.6L1583.4 1450.9L1583.6 1453.3L1583.8 1455.6L1583.9 1457.9L1584.1 1460.7L1584.4 1463.5L1584.6 1466.3L1584.8 1469.1L1585.1 1471.9z" fill="#00b2ee"/>
<path d="M1607.7 1447.3L1607.7 1444.8L1607.7 1442.2L1607.7 1439.7L1607.7 1437.2L1607.7 1434.7L1607.7 1432.1L1607.7 1429.6L1607.7 1427.1L1607.7 1424.5L1607.7 1422L1607.7 1419.5L1607.7 1416.9L1607.7 1414.4L1607.7 1411.9L1607.7 1409.3L1607.7 1406.8L1607.3 1404.7L1606.3 1402.6L1603.8 1399.8L1601.4 1397.5L1599 1395.2L1596.8 1392.8L1594.8 1390.5L1592.9 1388.2L1591.2 1385.8L1589.8 1383.7L1589 1381.7L1589.4 1379.6L1590.6 1377.5L1593.5 1374.7L1596.8 1371.9L1600.5 1369.1L1603.8 1366.3L1605.5 1364L1606.6 1361.6L1607.4 1359.3L1608.5 1359.3L1609.3 1361.6L1610.5 1364L1612.2 1366.3L1615.4 1369.1L1619.1 1371.9L1622.5 1374.7L1625.3 1377.5L1626.6 1379.6L1627 1381.7L1626.2 1383.7L1624.7 1385.8L1623 1388.2L1621.2 1390.5L1619.1 1392.8L1616.9 1395.2L1614.5 1397.5L1612.2 1399.8L1609.6 1402.6L1608.7 1404.7L1608.2 1406.8L1608.2 1409.3L1608.2 1411.9L1608.2 1414.4L1608.2 1416.9L1608.2 1419.5L1608.2 1422L1608.2 1424.5L1608.2 1427.1L1608.2 1429.6L1608.2 1432.1L1608.2 1434.7L1608.2 1437.2L1608.2 1439.7L1608.2 1442.2L1608.2 1444.8L1608.2 1447.3z" fill="#daa520"/>
<path d="M1764.7 1471.9L1767 1469.7L1770.1 1467.3L1773.1 1464.9L1775.7 1462.1L1777.6 1459.3L1778.3 1457L1778.6 1454.7L1778.7 1452.3L1778.5 1449.5L1778 1446.8L1777.6 1444L1777.3 1441.2L1777 1438.4L1776.8 1435.6L1776.7 1432.8L1776.8 1430L1777 1427.2L1777.2 1424.4L1777.6 1421.6L1778 1418.8L1778.5 1416L1779 1413.2L1779.5 1410.4L1780 1407.6L1780.4 1404.8L1780.8 1402L1781.2 1399.3L1781.5 1396.9L1781.8 1394.6L1782.2 1392.3L1782.5 1389.9L1782.7 1387.6L1782.9 1385.3L1784.6 1385.3L1784.7 1387.6L1785 1389.9L1785.3 1392.3L1785.6 1394.6L1785.9 1396.9L1786.2 1399.3L1786.6 1402L1787 1404.8L1787.5 1407.6L1787.9 1410.4L1788.4 1413.2L1788.9 1416L1789.4 1418.8L1789.9 1421.6L1790.2 1424.4L1790.5 1427.2L1790.6 1430L1790.7 1432.8L1790.6 1435.6L1790.4 1438.4L1790.1 1441.2L1789.9 1444L1789.4 1446.8L1789 1449.5L1788.7 1452.3L1788.8 1454.7L1789.1 1457L1789.9 1459.3L1791.7 1462.1L1794.3 1464.9L1797.3 1467.3L1800.5 1469.7L1802.7 1471.9z" fill="#00b2ee"/>
<path d="M1806.6 1471.9L1808.3 1469.1L1811.2 1466.3L1813.9 1463.5L1815.5 1461.2L1816.7 1458.9L1817.8 1456.5L1818.8 1454.2L1819.5 1451.9L1820 1449.5L1820.3 1446.8L1820.3 1444L1820 1441.2L1819.6 1438.4L1818.9 1435.6L1818.3 1432.8L1817.8 1430L1817.5 1427.7L1817.2 1425.3L1817 1423L1816.8 1420.7L1816.7 1418.3L1816.7 1416L1816.8 1413.2L1817 1410.4L1817.4 1407.6L1817.8 1404.8L1818.4 1402L1819.1 1399.3L1819.9 1396.5L1820.6 1393.7L1821.2 1390.9L1821.8 1388.1L1822.3 1385.3L1822.8 1382.5L1823.2 1379.7L1823.6 1376.9L1823.9 1374.1L1824.2 1371.3L1824.6 1368.5L1824.9 1365.7L1825.2 1362.9L1825.3 1360.1L1825.9 1360.1L1826.1 1362.9L1826.4 1365.7L1826.7 1368.5L1827 1371.3L1827.3 1374.1L1827.7 1376.9L1828 1379.7L1828.4 1382.5L1828.9 1385.3L1829.5 1388.1L1830 1390.9L1830.7 1393.7L1831.4 1396.5L1832.1 1399.3L1832.9 1402L1833.4 1404.8L1833.9 1407.6L1834.3 1410.4L1834.5 1413.2L1834.6 1416L1834.5 1418.3L1834.4 1420.7L1834.2 1423L1834 1425.3L1833.7 1427.7L1833.4 1430L1833 1432.8L1832.3 1435.6L1831.7 1438.4L1831.2 1441.2L1831 1444L1831 1446.8L1831.2 1449.5L1831.7 1451.9L1832.5 1454.2L1833.4 1456.5L1834.5 1458.9L1835.8 1461.2L1837.4 1463.5L1840.1 1466.3L1842.9 1469.1L1844.6 1471.9z" fill="#daa520"/>
<path d="M1505.7 1634.6L1509.3 1632.4L1516.9 1629L1519.7 1626.9L1521.4 1624.8L1522.1 1622L1521.9 1619.2L1521.1 1617.1L1520.2 1615L1520.4 1612.9L1520.8 1610.9L1521.3 1608.5L1521.8 1606.2L1522.2 1603.9L1522.4 1601.1L1522.6 1598.3L1522.6 1595.5L1522.7 1592.7L1522.8 1590.4L1522.9 1588L1523 1585.7L1523.1 1583.4L1523.2 1581L1523.3 1578.7L1523.4 1576.3L1523.5 1573.9L1523.6 1571.5L1523.6 1569.1L1523.7 1566.7L1523.8 1564.3L1523.9 1562L1523.9 1559.6L1524 1557.2L1524.1 1554.8L1524.2 1552.5L1524.3 1550.1L1524.3 1547.7L1524.4 1545.3L1524.4 1543L1524.5 1540.4L1524.5 1537.9L1524.5 1535.4L1524.5 1532.9L1524.5 1530.4L1524.5 1527.9L1524.5 1525.4L1524.5 1522.8L1525 1522.8L1525 1525.4L1525 1527.9L1525 1530.4L1525 1532.9L1525 1535.4L1525 1537.9L1525 1540.4L1525 1543L1525 1545.3L1525.1 1547.7L1525.2 1550.1L1525.2 1552.5L1525.3 1554.8L1525.4 1557.2L1525.5 1559.6L1525.5 1562L1525.6 1564.3L1525.7 1566.7L1525.8 1569.1L1525.9 1571.5L1525.9 1573.9L1526 1576.3L1526.1 1578.7L1526.2 1581L1526.3 1583.4L1526.4 1585.7L1526.5 1588L1526.6 1590.4L1526.7 1592.7L1526.8 1595.5L1526.9 1598.3L1527 1601.1L1527.2 1603.9L1527.6 1606.2L1528.1 1608.5L1528.6 1610.9L1529.1 1612.9L1529.2 1615L1528.3 1617.1L1527.5 1619.2L1527.3 1622L1528.1 1624.8L1529.7 1626.9L1532.5 1629L1540.1 1632.4L1543.7 1634.6z" fill="#b22222"/>
<path d="M1699.9 1634L1700 1631.9L1699.9 1629.8L1699 1627L1698.2 1624.2L1698.5 1621.4L1698.8 1618.6L1698.2 1615.8L1697.1 1613L1695.7 1610.7L1694 1608.4L1692.3 1606.1L1690.4 1603.3L1688.4 1600.5L1686.8 1597.7L1685.5 1594.9L1684.5 1592.1L1683.7 1589.3L1683.2 1586.5L1683.1 1583.7L1683.6 1580.9L1684.8 1578.1L1686.6 1575.3L1688.7 1572.5L1691 1569.7L1692.9 1567.4L1695.1 1565.1L1697.1 1562.8L1699.3 1560.2L1701 1557.7L1703.2 1557.7L1704.9 1560.2L1707.2 1562.8L1709.2 1565.1L1711.3 1567.4L1713.3 1569.7L1715.5 1572.5L1717.7 1575.3L1719.5 1578.1L1720.6 1580.9L1721.1 1583.7L1721.1 1586.5L1720.6 1589.3L1719.8 1592.1L1718.8 1594.9L1717.5 1597.7L1715.8 1600.5L1713.9 1603.3L1711.9 1606.1L1710.2 1608.4L1708.6 1610.7L1707.2 1613L1706 1615.8L1705.5 1618.6L1705.8 1621.4L1706 1624.2L1705.3 1627L1704.4 1629.8L1704.3 1631.9L1704.4 1634z" fill="#3a5fcd"/>
<path d="M1739 1634L1739 1631.2L1739 1628.4L1739 1625.6L1739 1622.8L1739 1620L1739 1617.2L1739 1614.4L1738.9 1611.6L1738.8 1608.9L1738.5 1606.1L1737.8 1603.3L1737.1 1600.5L1736.1 1597.7L1735.1 1594.9L1733.9 1592.1L1732.6 1589.3L1731.3 1586.5L1730.1 1583.7L1729 1580.9L1727.9 1578.1L1727 1575.3L1726.2 1572.5L1725.5 1569.7L1725.2 1566.9L1725 1564.1L1725.1 1561.4L1725.5 1558.6L1726.2 1555.8L1727.2 1553L1728.5 1550.2L1729.9 1547.4L1731.5 1544.6L1733.2 1541.8L1735.2 1539L1737.1 1536.2L1738.5 1533.8L1739.8 1531.4L1740.7 1528.9L1747.4 1528.9L1748.3 1531.4L1749.6 1533.8L1751 1536.2L1752.9 1539L1754.8 1541.8L1756.6 1544.6L1758.1 1547.4L1759.6 1550.2L1760.9 1553L1761.9 1555.8L1762.6 1558.6L1763 1561.4L1763 1564.1L1762.9 1566.9L1762.5 1569.7L1761.9 1572.5L1761.1 1575.3L1760.2 1578.1L1759.1 1580.9L1758 1583.7L1756.8 1586.5L1755.5 1589.3L1754.1 1592.1L1753 1594.9L1752 1597.7L1751 1600.5L1750.2 1603.3L1749.6 1606.1L1749.3 1608.9L1749.1 1611.6L1749.1 1614.4L1749.1 1617.2L1749 1620L1749 1622.8L1749.1 1625.6L1749.1 1628.4L1749.1 1631.2L1749.1 1634z" fill="#b22222"/>
<path d="M1779.8 1634L1779.9 1631.2L1779.8 1628.4L1779.3 1625.6L1778.5 1622.8L1777.6 1620L1776.4 1617.2L1775.1 1614.4L1773.8 1611.6L1772.5 1608.9L1771.4 1606.1L1770.4 1603.3L1769.5 1600.5L1768.6 1597.7L1767.9 1594.9L1767.3 1592.1L1767 1589.3L1766.8 1586.5L1767 1583.7L1767.5 1580.9L1768.5 1578.1L1769.8 1575.3L1771.4 1572.5L1773.3 1569.7L1775.5 1566.9L1777.6 1564.1L1779.2 1561.8L1780.7 1559.5L1782 1557.2L1783.1 1554.4L1783.7 1551.6L1784.1 1549.1L1784.3 1546.5L1787.6 1546.5L1787.8 1549.1L1788.2 1551.6L1788.8 1554.4L1789.9 1557.2L1791.2 1559.5L1792.7 1561.8L1794.3 1564.1L1796.4 1566.9L1798.6 1569.7L1800.5 1572.5L1802.1 1575.3L1803.4 1578.1L1804.4 1580.9L1804.9 1583.7L1805.1 1586.5L1804.9 1589.3L1804.6 1592.1L1804 1594.9L1803.3 1597.7L1802.4 1600.5L1801.5 1603.3L1800.5 1606.1L1799.4 1608.9L1798.1 1611.6L1796.8 1614.4L1795.5 1617.2L1794.3 1620L1793.4 1622.8L1792.6 1625.6L1792.1 1628.4L1792 1631.2L1792.1 1634z" fill="#00b2ee"/>
<path d="M1810 1634L1809.4 1631.2L1809.1 1628.4L1808.9 1625.6L1808.9 1622.8L1809.2 1620L1809.7 1617.2L1810 1614.4L1809.9 1611.6L1809.7 1608.9L1809.4 1606.1L1809.1 1603.3L1808.8 1600.5L1808.5 1597.7L1808.3 1594.9L1808.3 1592.1L1808.4 1589.3L1808.9 1586.5L1809.7 1583.7L1810.7 1580.9L1811.9 1578.1L1813.3 1575.3L1814.7 1572.5L1816.2 1569.7L1817.5 1566.9L1818.7 1564.1L1819.8 1561.4L1820.8 1558.6L1821.7 1555.8L1822.6 1553L1823.3 1550.2L1824 1547.4L1824.5 1544.6L1824.9 1541.8L1825.2 1539L1825.4 1536.2L1825.6 1533.4L1825.9 1530.8L1826.1 1528.1L1826.3 1525.5L1826.5 1522.8L1828.1 1522.8L1828.3 1525.5L1828.5 1528.1L1828.7 1530.8L1829 1533.4L1829.2 1536.2L1829.4 1539L1829.7 1541.8L1830.1 1544.6L1830.6 1547.4L1831.3 1550.2L1832.1 1553L1832.9 1555.8L1833.8 1558.6L1834.8 1561.4L1835.9 1564.1L1837.1 1566.9L1838.4 1569.7L1839.9 1572.5L1841.3 1575.3L1842.7 1578.1L1843.9 1580.9L1845 1583.7L1845.7 1586.5L1846.2 1589.3L1846.3 1592.1L1846.3 1594.9L1846.1 1597.7L1845.8 1600.5L1845.5 1603.3L1845.2 1606.1L1844.9 1608.9L1844.7 1611.6L1844.6 1614.4L1844.9 1617.2L1845.4 1620L1845.7 1622.8L1845.7 1625.6L1845.5 1628.4L1845.2 1631.2L1844.6 1634z" fill="#daa520"/>
</g>
<path d="M1086.2 1163.1v-99.2M1068.1 1163.1h36.3M1127.3 1163.1v-91.1M1109.2 1163.1h36.3M1347.5 1163.7v-79.6M1329.3 1163.7h36.3M1389.4 1163.7v-39.7M1371.2 1163.7h36.3M1044.3 1472.5v-53.1M1026.2 1472.5h36.3M1127.3 1472.5v-67.6M1109.2 1472.5h36.3M1128.2 1635.1v-88.6M1119.2 1635.1h17.9M1170.1 1635.1v-111.8M1161.1 1635.1h17.9M1566.6 1634.6v-76M1557.1 1634.6h19" fill="none" stroke="#282828" stroke-width="0.9"/>
<path d="M1169.5 1163.1v-56.7M1151.3 1163.1h36.3" fill="none" stroke="#949494" stroke-width="0.9"/>
<path d="M1305.6 1163.7v-111.8M1287.4 1163.7h36.3M1301.1 1124.6h9M1389.4 1635.1v-57.8M1370.4 1635.1h38" fill="none" stroke="#b4b4b4" stroke-width="0.9"/>
<path d="M1606.6 1164.2v-33.5M1263.7 1471.1v-62M1245.5 1471.1h36.3M1259.2 1448.7h9M1264.2 1635.1v-108.7M1245.2 1635.1h38M1700.7 1471.9v-54.8M1681.7 1471.9h38M1696.2 1445.1h9" fill="none" stroke="#535353" stroke-width="0.9"/>
<path d="M1086.2 1472.5v-53.1M1068.1 1472.5h36.3M1304.7 1471.1v-66.2M1286.6 1471.1h36.3M1300.2 1448.7h9M1347.5 1635.1v-51.4M1328.5 1635.1h38M1741.8 1471.9v-77.1M1722.8 1471.9h38M1737.3 1445.1h9M1608 1634.6v-39.7M1598.5 1634.6h19" fill="none" stroke="#7e7e7e" stroke-width="0.9"/>
<path d="M1482.8 1634.6v-39.7M1473.3 1634.6h19" fill="none" stroke="#9e9e9e" stroke-width="0.9"/>
</g>
<g id="pf">
<text font-size="52" font-weight="bold" x="1" y="1776">f</text>
<path d="M70 1783.2l29 -15V1777.7H355.7V1788.7H99V1798.2z" fill="#74c6f0"/>
<path d="M599 1783.2l-29 -15V1777.7H355.7V1788.7H570V1798.2z" fill="#0a45a0"/>
<text x="112.9" y="1759" font-size="29.5" font-weight="bold" fill="#74c6f0" text-anchor="start">F4/80<tspan font-size="28" dy="-8.8">+</tspan><tspan dy="8.8"> MHCII</tspan><tspan font-size="18.3" dy="-10.6">INT</tspan></text>
<text x="378.1" y="1759" font-size="29.5" font-weight="bold" fill="#0a45a0" text-anchor="start">F4/80<tspan font-size="28" dy="-8.8">+</tspan><tspan dy="8.8"> MHCII</tspan><tspan font-size="18.3" dy="-10.6">LO</tspan></text>
<rect x="356.5" y="1813.9" width="189.8" height="26.1" fill="#0a45a0" stroke="#000" stroke-width="2.8"/>
<text font-size="19.6" text-anchor="end" x="348.4" y="1832">Ribosome</text>
<rect x="356.5" y="1851.8" width="164.1" height="25.7" fill="#0a45a0" stroke="#000" stroke-width="2.8"/>
<text font-size="19.6" text-anchor="end" x="348.4" y="1870.1">Translation</text>
<rect x="356.5" y="1888.8" width="69.5" height="25.3" fill="#0a45a0" stroke="#000" stroke-width="2.8"/>
<text font-size="19.6" text-anchor="end" x="348.4" y="1908.1">Defense Response</text>
<rect x="356.5" y="1926.3" width="61" height="25.7" fill="#0a45a0" stroke="#000" stroke-width="2.8"/>
<text font-size="19.6" text-anchor="end" x="348.4" y="1946.2">Wound Healing</text>
<rect x="356.5" y="1963.8" width="60.2" height="25.7" fill="#0a45a0" stroke="#000" stroke-width="2.8"/>
<text font-size="19.6" text-anchor="end" x="348.4" y="1984.2">Pos. Regulation of Hemostasis</text>
<rect x="356.5" y="2001.3" width="34.9" height="25.3" fill="#0a45a0" stroke="#000" stroke-width="2.8"/>
<text font-size="19.6" text-anchor="end" x="348.4" y="2022.3">Response to External Biotic Stimulus</text>
<rect x="489.3" y="1808" width="13.6" height="75" fill="#fff"/>
<rect x="162" y="2038.8" width="194.5" height="24.9" fill="#74c6f0" stroke="#000" stroke-width="2.8"/>
<text font-size="19.6" x="367.5" y="2055.9">Phagosome</text>
<rect x="182.7" y="2076.7" width="173.8" height="24.9" fill="#74c6f0" stroke="#000" stroke-width="2.8"/>
<text font-size="19.6" x="367.5" y="2094.3">Neg. Regulation of Cell Death</text>
<rect x="175" y="2113.8" width="181.5" height="25.2" fill="#74c6f0" stroke="#000" stroke-width="2.8"/>
<text font-size="19.6" x="367.5" y="2132.7">Actin Cytoskeleton Organization</text>
<rect x="155.8" y="2151.3" width="200.7" height="25.3" fill="#74c6f0" stroke="#000" stroke-width="2.8"/>
<text font-size="19.6" x="367.5" y="2171.1">Tissue Development</text>
<rect x="126.1" y="2188.8" width="230.4" height="25.2" fill="#74c6f0" stroke="#000" stroke-width="2.8"/>
<text font-size="19.6" x="367.5" y="2209.4">Supramolecular Fiber Organization</text>
<rect x="50.7" y="2226.2" width="305.8" height="25.3" fill="#74c6f0" stroke="#000" stroke-width="2.8"/>
<text font-size="19.6" x="367.5" y="2247.8">Developmental Process</text>
<rect x="7.9" y="2263.7" width="348.6" height="24.9" fill="#74c6f0" stroke="#000" stroke-width="2.8"/>
<text font-size="19.6" x="367.5" y="2286.2">Cell Motility</text>
<path d="M356.5 1799V2299" stroke="#000" stroke-width="2.6"/>
<text x="280.3" y="2331.6" font-size="19.5" font-weight="bold">-Log[P<tspan font-size="12.5" dy="4.5">adj</tspan><tspan dy="-4.5">]</tspan></text>
<path d="M632.6 1783.6l29 -15V1778.1H904.8V1789.1H661.6V1798.6z" fill="#c00808"/>
<path d="M1148.9 1783.6l-29 -15V1778.1H904.8V1789.1H1119.9V1798.6z" fill="#0a45a0"/>
<text x="697" y="1759" font-size="29.5" font-weight="bold" fill="#c00000" text-anchor="start" textLength="172" lengthAdjust="spacingAndGlyphs">F4/80<tspan font-size="28" dy="-8.8">+</tspan><tspan dy="8.8"> IL1β</tspan><tspan font-size="28" dy="-8.8">+</tspan></text>
<text x="939" y="1759" font-size="29.5" font-weight="bold" fill="#0a45a0" text-anchor="start">F4/80<tspan font-size="28" dy="-8.8">+</tspan><tspan dy="8.8"> MHCII</tspan><tspan font-size="18.3" dy="-10.6">LO</tspan></text>
<rect x="848.3" y="1826.1" width="53.7" height="37.5" fill="#a00000" stroke="#000" stroke-width="2.8"/>
<text font-size="19.6" x="914.6" y="1847.1">Interleukin-1 Signaling</text>
<rect x="822.7" y="1881.1" width="79.3" height="37.9" fill="#a00000" stroke="#000" stroke-width="2.8"/>
<text font-size="19.6" x="914.6" y="1902.9">Cytokine-Cytokine Receptor Interaction</text>
<rect x="812.9" y="1936.5" width="89.1" height="37.5" fill="#a00000" stroke="#000" stroke-width="2.8"/>
<text font-size="19.6" x="914.6" y="1958.8">TNF Signaling Pathway</text>
<rect x="788" y="1991.5" width="114" height="37.5" fill="#a00000" stroke="#000" stroke-width="2.8"/>
<text font-size="19.6" x="914.6" y="2014.7">NF-κB Signaling Pathway</text>
<rect x="788" y="2046.5" width="114" height="37.5" fill="#a00000" stroke="#000" stroke-width="2.8"/>
<text font-size="19.6" x="914.6" y="2070.5">T-helper 17 Cell Differentiation</text>
<rect x="748.9" y="2102" width="153.1" height="37.5" fill="#a00000" stroke="#000" stroke-width="2.8"/>
<text font-size="19.6" x="914.6" y="2126.4">Pos. Regulation of Apoptotic Process</text>
<rect x="740.4" y="2157.4" width="161.6" height="37.5" fill="#a00000" stroke="#000" stroke-width="2.8"/>
<text font-size="19.6" x="914.6" y="2182.3">Cellular Response to LPS</text>
<rect x="734.2" y="2212.4" width="167.8" height="37.5" fill="#a00000" stroke="#000" stroke-width="2.8"/>
<text font-size="19.6" x="914.6" y="2238.1">Reg. of Cytokine Production</text>
<rect x="721.2" y="2267.4" width="180.8" height="37.5" fill="#a00000" stroke="#000" stroke-width="2.8"/>
<text font-size="19.6" x="914.6" y="2294">Inflammatory Response</text>
<path d="M902 1801V2311" stroke="#000" stroke-width="2.6"/>
<text x="891.3" y="2331.6" font-size="19.5" font-weight="bold">-Log[P<tspan font-size="12.5" dy="4.5">adj</tspan><tspan dy="-4.5">]</tspan></text>
<path d="M1236.3 1783.2l29 -15V1777.7H1549.3V1788.7H1265.3V1798.2z" fill="#d9a404"/>
<path d="M1833.3 1783.2l-29 -15V1777.7H1549.3V1788.7H1804.3V1798.2z" fill="#0a45a0"/>
<text x="1301.9" y="1759.6" font-size="29.5" font-weight="bold" fill="#c89604" text-anchor="start">F4/80<tspan font-size="28" dy="-8.8">-</tspan><tspan dy="8.8"> MHCII</tspan><tspan font-size="18.3" dy="-10.6">HI</tspan></text>
<text x="1593.7" y="1759" font-size="29.5" font-weight="bold" fill="#0a45a0" text-anchor="start">F4/80<tspan font-size="28" dy="-8.8">+</tspan><tspan dy="8.8"> MHCII</tspan><tspan font-size="18.3" dy="-10.6">LO</tspan></text>
<rect x="1546.8" y="1807.8" width="295.7" height="22.4" fill="#0a45a0" stroke="#000" stroke-width="2.8"/>
<text font-size="19.6" text-anchor="end" x="1539" y="1822.2">Response to External Biotic Stimulus</text>
<rect x="1546.8" y="1842.4" width="206.8" height="22.4" fill="#0a45a0" stroke="#000" stroke-width="2.8"/>
<text font-size="19.6" text-anchor="end" x="1539" y="1857.1">Pos. Regulation of Multicellular Process</text>
<rect x="1546.8" y="1877" width="181.6" height="22.9" fill="#0a45a0" stroke="#000" stroke-width="2.8"/>
<text font-size="19.6" text-anchor="end" x="1539" y="1891.9">Neg. Regulation of Apoptosis</text>
<rect x="1546.8" y="1911.7" width="130.6" height="22.4" fill="#0a45a0" stroke="#000" stroke-width="2.8"/>
<text font-size="19.6" text-anchor="end" x="1539" y="1926.7">Vasculature Development</text>
<rect x="1546.8" y="1945.9" width="121.7" height="22.8" fill="#0a45a0" stroke="#000" stroke-width="2.8"/>
<text font-size="19.6" text-anchor="end" x="1539" y="1961.6">Reg. of Developmental Process</text>
<rect x="1546.8" y="1980.9" width="119.6" height="22.5" fill="#0a45a0" stroke="#000" stroke-width="2.8"/>
<text font-size="19.6" text-anchor="end" x="1539" y="1996.4">Angiogenesis</text>
<rect x="1546.8" y="2015.2" width="118.4" height="22.8" fill="#0a45a0" stroke="#000" stroke-width="2.8"/>
<text font-size="19.6" text-anchor="end" x="1539" y="2031.3">Wound Healing</text>
<rect x="1433.7" y="2049.8" width="113.1" height="22.4" fill="#d9a404" stroke="#000" stroke-width="2.8"/>
<text font-size="19.7" x="1552.1" y="2065.9">Cell Chemotaxis</text>
<rect x="1408.9" y="2084.4" width="137.9" height="22.5" fill="#d9a404" stroke="#000" stroke-width="2.8"/>
<text font-size="19.7" x="1552.1" y="2100.6">Regulation of Actin Filament Org.</text>
<rect x="1401.9" y="2119" width="144.9" height="22.9" fill="#d9a404" stroke="#000" stroke-width="2.8"/>
<text font-size="19.7" x="1552.1" y="2135.4">Cell Migration</text>
<rect x="1401.1" y="2153.3" width="145.7" height="23.3" fill="#d9a404" stroke="#000" stroke-width="2.8"/>
<text font-size="19.7" x="1552.1" y="2170.2">Localization of Cell</text>
<rect x="1384" y="2188.3" width="162.8" height="22.5" fill="#d9a404" stroke="#666" stroke-width="2.8"/>
<text font-size="19.7" x="1552.1" y="2204.9">Oxidative Phosphorylation</text>
<rect x="1382.8" y="2222.6" width="164" height="22.4" fill="#d9a404" stroke="#000" stroke-width="2.8"/>
<text font-size="19.7" x="1552.1" y="2239.7">Proton Transmembrane Transport</text>
<rect x="1365.7" y="2257.2" width="181.1" height="22.8" fill="#d9a404" stroke="#000" stroke-width="2.8"/>
<text font-size="19.7" x="1552.1" y="2274.4">Response to Cytokine</text>
<path d="M1546.8 1799V2293" stroke="#000" stroke-width="3.4"/>
<text x="1503.2" y="2327.5" font-size="19.5" font-weight="bold">-Log[P<tspan font-size="12.5" dy="4.5">adj</tspan><tspan dy="-4.5">]</tspan></text>
</g>
</svg>
</body></html>
